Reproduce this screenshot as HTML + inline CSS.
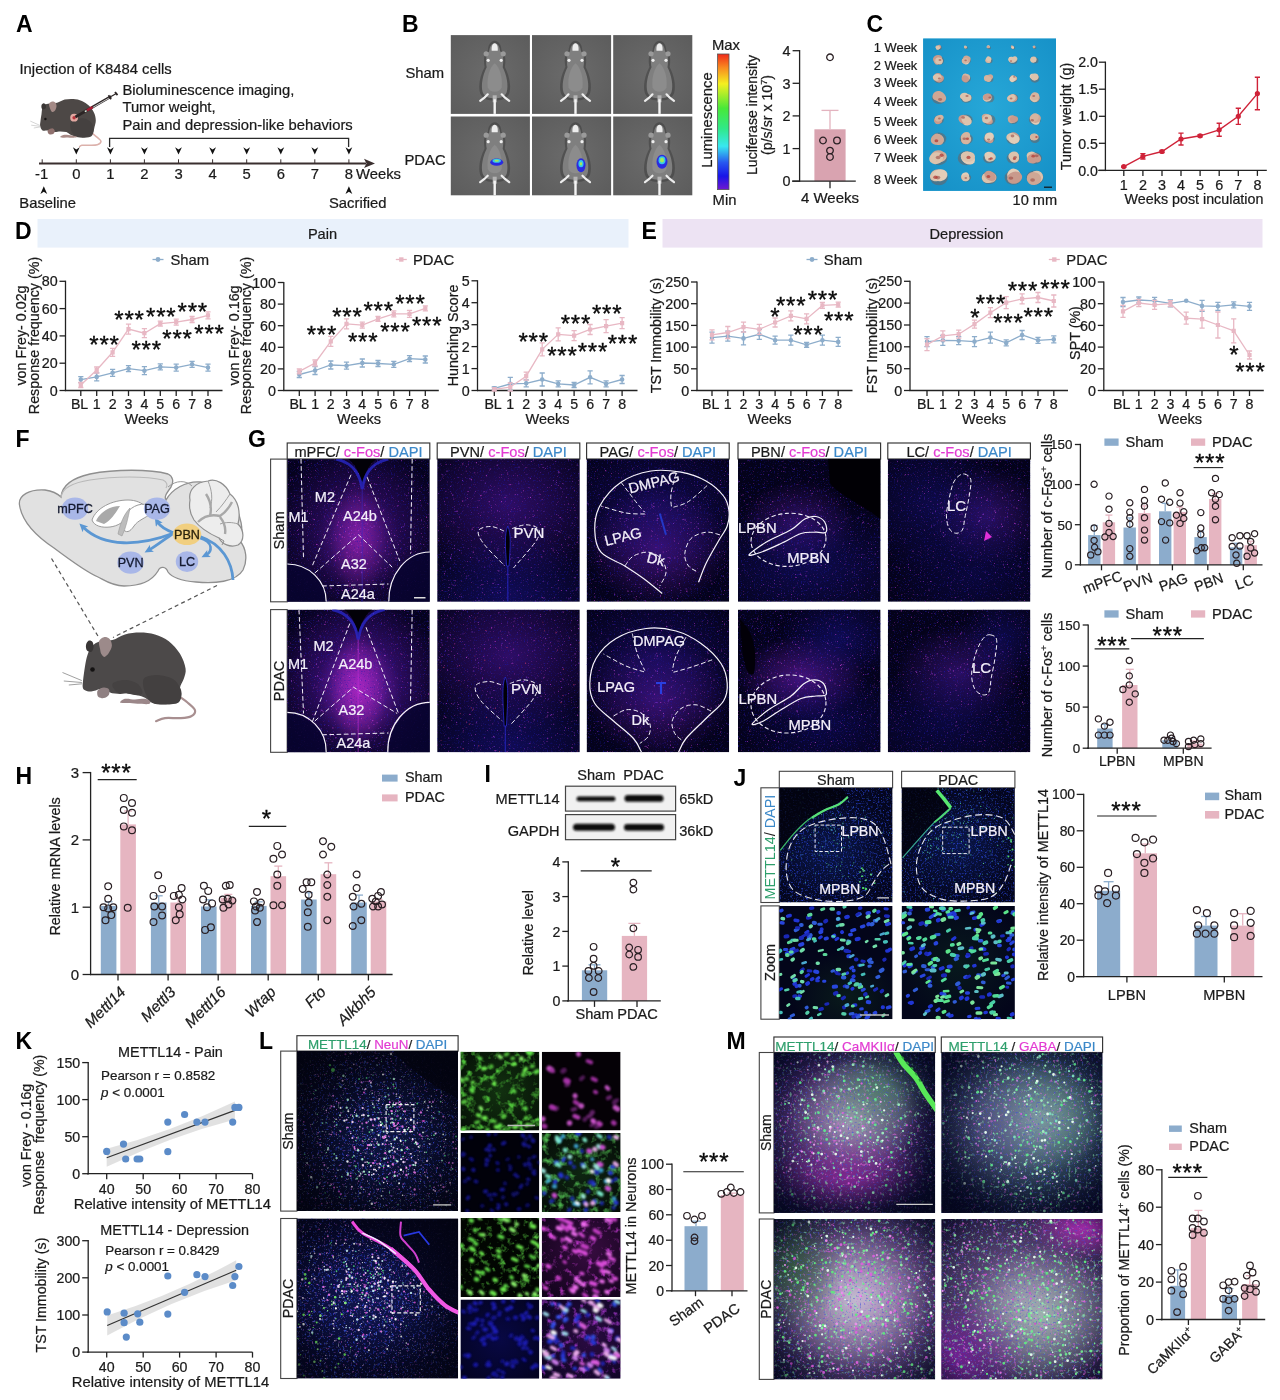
<!DOCTYPE html>
<html><head><meta charset="utf-8"><title>Figure</title>
<style>html,body{margin:0;padding:0;background:#fff}svg{display:block}text{font-family:"Liberation Sans",sans-serif}</style></head>
<body>
<svg width="1280" height="1400" viewBox="0 0 1280 1400">
<text x="16.0" y="32.0" font-size="23" fill="#000" font-weight="bold">A</text>
<text x="19.5" y="74.4" font-size="14.8" fill="#1a1a1a" stroke="#1a1a1a" stroke-width="0.22">Injection of K8484 cells</text>
<text x="122.4" y="94.7" font-size="14.8" fill="#1a1a1a" stroke="#1a1a1a" stroke-width="0.22">Bioluminescence imaging,</text>
<text x="122.4" y="112.3" font-size="14.8" fill="#1a1a1a" stroke="#1a1a1a" stroke-width="0.22">Tumor weight,</text>
<text x="122.4" y="130.2" font-size="14.8" fill="#1a1a1a" stroke="#1a1a1a" stroke-width="0.22">Pain and depression-like behaviors</text>
<path d="M92.2,133.1 C93.0,133.8 95.9,136.1 97.3,137.4 C98.8,138.8 101.0,140.1 101.0,141.3 C101.0,142.5 99.4,144.1 97.3,144.7 C95.3,145.4 91.3,145.1 88.8,145.2 C86.2,145.3 83.5,145.0 81.9,145.3 C80.3,145.6 79.6,146.8 79.1,147.0" fill="none" stroke="#dcb1ab" stroke-width="1.5"/>
<path d="M40.2,126.1 C39.9,124.5 40.2,123.1 40.5,121.1 C40.7,119.1 41.1,116.5 41.5,114.2 C41.8,112.0 41.8,109.2 42.5,107.5 C43.2,105.9 44.4,105.0 45.8,104.3 C47.2,103.7 48.9,103.8 50.9,103.5 C52.9,103.2 55.5,103.3 57.8,102.6 C60.1,102.0 62.1,100.2 64.7,99.6 C67.3,99.0 70.4,98.8 73.3,99.0 C76.1,99.2 79.3,99.8 81.9,100.9 C84.5,102.0 86.7,103.7 88.8,105.6 C90.8,107.6 92.7,110.1 93.9,112.5 C95.1,114.9 95.7,117.7 95.8,120.2 C95.9,122.8 94.7,125.8 94.3,128.0 C93.8,130.1 93.9,131.7 93.2,133.1 C92.6,134.6 92.6,136.0 90.5,136.7 C88.3,137.5 83.3,137.8 80.2,137.6 C77.0,137.4 73.9,136.2 71.6,135.3 C69.3,134.4 68.3,132.7 66.4,132.1 C64.5,131.5 62.4,131.4 60.4,131.4 C58.4,131.4 56.4,132.2 54.4,132.1 C52.4,132.0 50.3,131.0 48.4,130.7 C46.4,130.4 43.9,131.1 42.5,130.4 C41.2,129.6 40.5,127.6 40.2,126.1 Z" fill="#4d4846"/>
<path d="M71.6,121.1 C72.9,119.9 75.9,118.8 78.4,118.5 C81.0,118.2 84.6,118.2 87.0,119.4 C89.5,120.5 92.2,123.0 93.0,125.4 C93.9,127.8 93.5,132.1 92.2,134.0 C90.9,135.9 87.9,136.6 85.3,137.0 C82.7,137.4 79.0,137.5 76.7,136.6 C74.4,135.6 72.6,133.3 71.6,131.4 C70.5,129.5 70.3,127.1 70.3,125.4 C70.3,123.7 70.2,122.2 71.6,121.1 Z" fill="#454140"/>
<path d="M42.2,109.1 C41.5,108.6 41.2,106.2 41.5,105.2 C41.7,104.2 42.9,103.3 43.6,103.2 C44.3,103.1 45.5,103.9 45.8,104.8 C46.1,105.6 46.2,107.5 45.6,108.2 C45.0,108.9 42.9,109.6 42.2,109.1 Z" fill="#3a3635"/>
<path d="M49.6,107.3 C49.2,106.0 48.8,104.5 49.2,103.5 C49.6,102.5 51.2,101.6 52.2,101.5 C53.3,101.4 54.7,101.8 55.4,102.6 C56.1,103.4 56.6,105.1 56.5,106.5 C56.4,107.8 55.6,109.9 54.8,110.8 C54.0,111.7 52.7,112.4 51.8,111.8 C50.9,111.2 50.1,108.7 49.6,107.3 Z" fill="#a48a86"/>
<circle cx="45.4" cy="119.0" r="1.2" fill="#151212"/>
<path d="M48.4,129.7 C49.2,129.1 51.6,128.2 52.7,128.4 C53.7,128.6 54.7,130.0 54.8,131.0 C54.9,131.9 54.0,133.5 53.1,134.0 C52.2,134.5 50.1,134.5 49.2,134.2 C48.3,133.8 47.8,132.8 47.7,132.1 C47.5,131.4 47.5,130.3 48.4,129.7 Z" fill="#8f716e"/>
<path d="M60.4,136.4 C60.9,135.9 62.8,134.8 64.7,134.7 C66.6,134.5 69.6,135.2 71.6,135.5 C73.6,135.8 76.1,136.0 76.7,136.4 C77.3,136.7 76.7,137.4 75.0,137.6 C73.3,137.8 68.6,137.4 66.4,137.4 C64.2,137.4 62.7,137.8 61.7,137.6 C60.7,137.4 59.9,136.9 60.4,136.4 Z" fill="#a98a86"/>
<path d="M39.9,125.4 L30.3,121.1M39.9,126.3 L31.2,125.2M40.3,126.9 L33.8,128.0" fill="none" stroke="#aaa" stroke-width="0.5"/>
<circle cx="74.1" cy="117.7" r="3.9" fill="#e3a8a1"/>
<circle cx="74.1" cy="117.7" r="1.7" fill="#b8343c"/>
<line x1="75.4" y1="117.0" x2="111.1" y2="96.4" stroke="#2b2424" stroke-width="2.6"/>
<line x1="92.6" y1="107.5" x2="108.9" y2="98.1" stroke="#e8e8e8" stroke-width="0.8"/>
<line x1="87.0" y1="110.4" x2="92.6" y2="107.2" stroke="#a81c34" stroke-width="2.6"/>
<line x1="84.9" y1="111.6" x2="86.6" y2="110.6" stroke="#dfeee0" stroke-width="1.6"/>
<line x1="111.1" y1="96.4" x2="116.7" y2="93.3" stroke="#2b2424" stroke-width="1.2"/>
<line x1="108.5" y1="95.3" x2="111.1" y2="99.2" stroke="#2b2424" stroke-width="1.6"/>
<line x1="115.0" y1="92.0" x2="117.5" y2="95.1" stroke="#2b2424" stroke-width="1.8"/>
<path d="M109.6,147 L109.6,138.4 L348.6,138.4 L348.6,147" fill="none" stroke="#2b2b2b" stroke-width="1.3"/>
<line x1="39.0" y1="163.4" x2="366.0" y2="163.4" stroke="#3a2f2f" stroke-width="2.0"/>
<path d="M375,163.4 L364,158.8 L366.5,163.4 L364,168 Z" fill="#3a2f2f"/>
<line x1="42.2" y1="159.3" x2="42.2" y2="163.0" stroke="#3a2f2f" stroke-width="1.0"/>
<text x="41.7" y="178.6" font-size="14.8" fill="#1a1a1a" text-anchor="middle" stroke="#1a1a1a" stroke-width="0.22">-1</text>
<line x1="76.3" y1="159.3" x2="76.3" y2="163.0" stroke="#3a2f2f" stroke-width="1.0"/>
<text x="76.3" y="178.6" font-size="14.8" fill="#1a1a1a" text-anchor="middle" stroke="#1a1a1a" stroke-width="0.22">0</text>
<path d="M76.3,154.6 L72.9,147.2 L76.3,149.4 L79.7,147.2 Z" fill="#111"/>
<line x1="110.4" y1="159.3" x2="110.4" y2="163.0" stroke="#3a2f2f" stroke-width="1.0"/>
<text x="110.4" y="178.6" font-size="14.8" fill="#1a1a1a" text-anchor="middle" stroke="#1a1a1a" stroke-width="0.22">1</text>
<path d="M110.4,154.6 L107.0,147.2 L110.4,149.4 L113.8,147.2 Z" fill="#111"/>
<line x1="144.4" y1="159.3" x2="144.4" y2="163.0" stroke="#3a2f2f" stroke-width="1.0"/>
<text x="144.4" y="178.6" font-size="14.8" fill="#1a1a1a" text-anchor="middle" stroke="#1a1a1a" stroke-width="0.22">2</text>
<path d="M144.4,154.6 L141.0,147.2 L144.4,149.4 L147.8,147.2 Z" fill="#111"/>
<line x1="178.5" y1="159.3" x2="178.5" y2="163.0" stroke="#3a2f2f" stroke-width="1.0"/>
<text x="178.5" y="178.6" font-size="14.8" fill="#1a1a1a" text-anchor="middle" stroke="#1a1a1a" stroke-width="0.22">3</text>
<path d="M178.5,154.6 L175.1,147.2 L178.5,149.4 L181.9,147.2 Z" fill="#111"/>
<line x1="212.6" y1="159.3" x2="212.6" y2="163.0" stroke="#3a2f2f" stroke-width="1.0"/>
<text x="212.6" y="178.6" font-size="14.8" fill="#1a1a1a" text-anchor="middle" stroke="#1a1a1a" stroke-width="0.22">4</text>
<path d="M212.6,154.6 L209.2,147.2 L212.6,149.4 L216.0,147.2 Z" fill="#111"/>
<line x1="246.7" y1="159.3" x2="246.7" y2="163.0" stroke="#3a2f2f" stroke-width="1.0"/>
<text x="246.7" y="178.6" font-size="14.8" fill="#1a1a1a" text-anchor="middle" stroke="#1a1a1a" stroke-width="0.22">5</text>
<path d="M246.7,154.6 L243.3,147.2 L246.7,149.4 L250.1,147.2 Z" fill="#111"/>
<line x1="280.8" y1="159.3" x2="280.8" y2="163.0" stroke="#3a2f2f" stroke-width="1.0"/>
<text x="280.8" y="178.6" font-size="14.8" fill="#1a1a1a" text-anchor="middle" stroke="#1a1a1a" stroke-width="0.22">6</text>
<path d="M280.8,154.6 L277.4,147.2 L280.8,149.4 L284.2,147.2 Z" fill="#111"/>
<line x1="314.8" y1="159.3" x2="314.8" y2="163.0" stroke="#3a2f2f" stroke-width="1.0"/>
<text x="314.8" y="178.6" font-size="14.8" fill="#1a1a1a" text-anchor="middle" stroke="#1a1a1a" stroke-width="0.22">7</text>
<path d="M314.8,154.6 L311.4,147.2 L314.8,149.4 L318.2,147.2 Z" fill="#111"/>
<line x1="348.9" y1="159.3" x2="348.9" y2="163.0" stroke="#3a2f2f" stroke-width="1.0"/>
<text x="348.9" y="178.6" font-size="14.8" fill="#1a1a1a" text-anchor="middle" stroke="#1a1a1a" stroke-width="0.22">8</text>
<path d="M348.9,154.6 L345.5,147.2 L348.9,149.4 L352.3,147.2 Z" fill="#111"/>
<text x="356.0" y="178.6" font-size="14.8" fill="#1a1a1a" stroke="#1a1a1a" stroke-width="0.22">Weeks</text>
<path d="M43.8,186.3 L40.4,194 L43.8,191.8 L47.2,194 Z" fill="#111"/>
<path d="M348.9,186.3 L345.5,194 L348.9,191.8 L352.3,194 Z" fill="#111"/>
<text x="19.3" y="208.2" font-size="14.8" fill="#1a1a1a" stroke="#1a1a1a" stroke-width="0.22">Baseline</text>
<text x="329.0" y="208.2" font-size="14.8" fill="#1a1a1a" stroke="#1a1a1a" stroke-width="0.22">Sacrified</text>
<text x="402.0" y="32.0" font-size="23" fill="#000" font-weight="bold">B</text>
<text x="405.5" y="78.2" font-size="14.8" fill="#1a1a1a" stroke="#1a1a1a" stroke-width="0.22">Sham</text>
<text x="404.5" y="165.2" font-size="14.8" fill="#1a1a1a" stroke="#1a1a1a" stroke-width="0.22">PDAC</text>
<defs><radialGradient id="tileg" cx="50%" cy="50%" r="75%"><stop offset="0" stop-color="#6b6b6b"/><stop offset="1" stop-color="#5b5b5b"/></radialGradient><linearGradient id="cbar" x1="0" y1="0" x2="0" y2="1"><stop offset="0" stop-color="#f02a1a"/><stop offset="0.1" stop-color="#f88a20"/><stop offset="0.22" stop-color="#f4f020"/><stop offset="0.4" stop-color="#48e838"/><stop offset="0.55" stop-color="#30e888"/><stop offset="0.68" stop-color="#38e8f0"/><stop offset="0.8" stop-color="#2858f0"/><stop offset="0.9" stop-color="#1814e8"/><stop offset="1" stop-color="#7018d0"/></linearGradient></defs>
<rect x="450.8" y="35.1" width="79.1" height="78.8" fill="url(#tileg)"/>
<g transform="translate(494.7,71.3)">
<path d="M0,-29 C4,-29 6,-24 6,-20 C10,-17 10,-10 9,-4 C13,4 15,14 13,21 C11,27 5,28 0,28 C-5,28 -11,27 -13,21 C-15,14 -13,4 -9,-4 C-10,-10 -10,-17 -6,-20 C-6,-24 -4,-29 0,-29 Z" fill="#3e3e3e" opacity="0.55" transform="scale(1.12,1.05)"/>
<path d="M0,-28 C3.5,-28 5,-24 5.5,-20 C9,-17 9,-10 8,-4 C12,4 14,14 12,21 C10,26 5,27 0,27 C-5,27 -10,26 -12,21 C-14,14 -12,4 -8,-4 C-9,-10 -9,-17 -5.5,-20 C-5,-24 -3.5,-28 0,-28 Z" fill="#7f7f7f"/>
<path d="M0,-8 C5,-4 8,6 7,16 C5,22 -5,22 -7,16 C-8,6 -5,-4 0,-8 Z" fill="#8c8c8c"/>
<path d="M0,-28 C2.6,-28 3.4,-24 3,-20.5 L-3,-20.5 C-3.4,-24 -2.6,-28 0,-28 Z" fill="#ededed"/>
<circle cx="-8.5" cy="-17.5" r="2.6" fill="#9a9a9a"/>
<circle cx="8.5" cy="-17.5" r="2.6" fill="#9a9a9a"/>
<circle cx="-6.5" cy="-11.0" r="1.6" fill="#efefef"/>
<circle cx="6.5" cy="-11.0" r="1.6" fill="#efefef"/>
<path d="M-7,23 L-10,26 L-14.5,29.5 M7,23 L10,26 L14.5,29.5" fill="none" stroke="#ececec" stroke-width="2.2" stroke-linecap="round"/>
<path d="M0,24 L0,31" fill="none" stroke="#b5b5b5" stroke-width="4.0"/>
<path d="M0,28 L0,42.6" fill="none" stroke="#f4f4f4" stroke-width="2.4"/>
</g>
<rect x="532.0" y="35.1" width="79.1" height="78.8" fill="url(#tileg)"/>
<g transform="translate(575.5,71.3)">
<path d="M0,-29 C4,-29 6,-24 6,-20 C10,-17 10,-10 9,-4 C13,4 15,14 13,21 C11,27 5,28 0,28 C-5,28 -11,27 -13,21 C-15,14 -13,4 -9,-4 C-10,-10 -10,-17 -6,-20 C-6,-24 -4,-29 0,-29 Z" fill="#3e3e3e" opacity="0.55" transform="scale(1.12,1.05)"/>
<path d="M0,-28 C3.5,-28 5,-24 5.5,-20 C9,-17 9,-10 8,-4 C12,4 14,14 12,21 C10,26 5,27 0,27 C-5,27 -10,26 -12,21 C-14,14 -12,4 -8,-4 C-9,-10 -9,-17 -5.5,-20 C-5,-24 -3.5,-28 0,-28 Z" fill="#7f7f7f"/>
<path d="M0,-8 C5,-4 8,6 7,16 C5,22 -5,22 -7,16 C-8,6 -5,-4 0,-8 Z" fill="#8c8c8c"/>
<path d="M0,-28 C2.6,-28 3.4,-24 3,-20.5 L-3,-20.5 C-3.4,-24 -2.6,-28 0,-28 Z" fill="#ededed"/>
<circle cx="-8.5" cy="-17.5" r="2.6" fill="#9a9a9a"/>
<circle cx="8.5" cy="-17.5" r="2.6" fill="#9a9a9a"/>
<circle cx="-6.5" cy="-11.0" r="1.6" fill="#efefef"/>
<circle cx="6.5" cy="-11.0" r="1.6" fill="#efefef"/>
<path d="M-7,23 L-10,26 L-14.5,29.5 M7,23 L10,26 L14.5,29.5" fill="none" stroke="#ececec" stroke-width="2.2" stroke-linecap="round"/>
<path d="M0,24 L0,31" fill="none" stroke="#b5b5b5" stroke-width="4.0"/>
<path d="M0,28 L0,42.6" fill="none" stroke="#f4f4f4" stroke-width="2.4"/>
</g>
<rect x="613.2" y="35.1" width="79.1" height="78.8" fill="url(#tileg)"/>
<g transform="translate(659.5,71.3)">
<path d="M0,-29 C4,-29 6,-24 6,-20 C10,-17 10,-10 9,-4 C13,4 15,14 13,21 C11,27 5,28 0,28 C-5,28 -11,27 -13,21 C-15,14 -13,4 -9,-4 C-10,-10 -10,-17 -6,-20 C-6,-24 -4,-29 0,-29 Z" fill="#3e3e3e" opacity="0.55" transform="scale(1.12,1.05)"/>
<path d="M0,-28 C3.5,-28 5,-24 5.5,-20 C9,-17 9,-10 8,-4 C12,4 14,14 12,21 C10,26 5,27 0,27 C-5,27 -10,26 -12,21 C-14,14 -12,4 -8,-4 C-9,-10 -9,-17 -5.5,-20 C-5,-24 -3.5,-28 0,-28 Z" fill="#7f7f7f"/>
<path d="M0,-8 C5,-4 8,6 7,16 C5,22 -5,22 -7,16 C-8,6 -5,-4 0,-8 Z" fill="#8c8c8c"/>
<path d="M0,-28 C2.6,-28 3.4,-24 3,-20.5 L-3,-20.5 C-3.4,-24 -2.6,-28 0,-28 Z" fill="#ededed"/>
<circle cx="-8.5" cy="-17.5" r="2.6" fill="#9a9a9a"/>
<circle cx="8.5" cy="-17.5" r="2.6" fill="#9a9a9a"/>
<circle cx="-6.5" cy="-11.0" r="1.6" fill="#efefef"/>
<circle cx="6.5" cy="-11.0" r="1.6" fill="#efefef"/>
<path d="M-7,23 L-10,26 L-14.5,29.5 M7,23 L10,26 L14.5,29.5" fill="none" stroke="#ececec" stroke-width="2.2" stroke-linecap="round"/>
<path d="M0,24 L0,31" fill="none" stroke="#b5b5b5" stroke-width="4.0"/>
<path d="M0,28 L0,42.6" fill="none" stroke="#f4f4f4" stroke-width="2.4"/>
</g>
<rect x="450.8" y="116.5" width="79.1" height="78.8" fill="url(#tileg)"/>
<g transform="translate(494.7,152.7)">
<path d="M0,-29 C4,-29 6,-24 6,-20 C10,-17 10,-10 9,-4 C13,4 15,14 13,21 C11,27 5,28 0,28 C-5,28 -11,27 -13,21 C-15,14 -13,4 -9,-4 C-10,-10 -10,-17 -6,-20 C-6,-24 -4,-29 0,-29 Z" fill="#3e3e3e" opacity="0.55" transform="scale(1.12,1.05)"/>
<path d="M0,-28 C3.5,-28 5,-24 5.5,-20 C9,-17 9,-10 8,-4 C12,4 14,14 12,21 C10,26 5,27 0,27 C-5,27 -10,26 -12,21 C-14,14 -12,4 -8,-4 C-9,-10 -9,-17 -5.5,-20 C-5,-24 -3.5,-28 0,-28 Z" fill="#7f7f7f"/>
<path d="M0,-8 C5,-4 8,6 7,16 C5,22 -5,22 -7,16 C-8,6 -5,-4 0,-8 Z" fill="#8c8c8c"/>
<path d="M0,-28 C2.6,-28 3.4,-24 3,-20.5 L-3,-20.5 C-3.4,-24 -2.6,-28 0,-28 Z" fill="#ededed"/>
<circle cx="-8.5" cy="-17.5" r="2.6" fill="#9a9a9a"/>
<circle cx="8.5" cy="-17.5" r="2.6" fill="#9a9a9a"/>
<circle cx="-6.5" cy="-11.0" r="1.6" fill="#efefef"/>
<circle cx="6.5" cy="-11.0" r="1.6" fill="#efefef"/>
<path d="M-7,23 L-10,26 L-14.5,29.5 M7,23 L10,26 L14.5,29.5" fill="none" stroke="#ececec" stroke-width="2.2" stroke-linecap="round"/>
<path d="M0,24 L0,31" fill="none" stroke="#b5b5b5" stroke-width="4.0"/>
<path d="M0,28 L0,42.6" fill="none" stroke="#f4f4f4" stroke-width="2.4"/>
</g>
<ellipse cx="496.7" cy="162.2" rx="6.5" ry="3.6" fill="#2a2be0"/>
<ellipse cx="496.7" cy="160.7" rx="4.2" ry="2.0" fill="#35c8ea"/>
<ellipse cx="496.7" cy="160.7" rx="2.2" ry="1.0" fill="#a5e85a"/>
<rect x="532.0" y="116.5" width="79.1" height="78.8" fill="url(#tileg)"/>
<g transform="translate(575.5,152.7)">
<path d="M0,-29 C4,-29 6,-24 6,-20 C10,-17 10,-10 9,-4 C13,4 15,14 13,21 C11,27 5,28 0,28 C-5,28 -11,27 -13,21 C-15,14 -13,4 -9,-4 C-10,-10 -10,-17 -6,-20 C-6,-24 -4,-29 0,-29 Z" fill="#3e3e3e" opacity="0.55" transform="scale(1.12,1.05)"/>
<path d="M0,-28 C3.5,-28 5,-24 5.5,-20 C9,-17 9,-10 8,-4 C12,4 14,14 12,21 C10,26 5,27 0,27 C-5,27 -10,26 -12,21 C-14,14 -12,4 -8,-4 C-9,-10 -9,-17 -5.5,-20 C-5,-24 -3.5,-28 0,-28 Z" fill="#7f7f7f"/>
<path d="M0,-8 C5,-4 8,6 7,16 C5,22 -5,22 -7,16 C-8,6 -5,-4 0,-8 Z" fill="#8c8c8c"/>
<path d="M0,-28 C2.6,-28 3.4,-24 3,-20.5 L-3,-20.5 C-3.4,-24 -2.6,-28 0,-28 Z" fill="#ededed"/>
<circle cx="-8.5" cy="-17.5" r="2.6" fill="#9a9a9a"/>
<circle cx="8.5" cy="-17.5" r="2.6" fill="#9a9a9a"/>
<circle cx="-6.5" cy="-11.0" r="1.6" fill="#efefef"/>
<circle cx="6.5" cy="-11.0" r="1.6" fill="#efefef"/>
<path d="M-7,23 L-10,26 L-14.5,29.5 M7,23 L10,26 L14.5,29.5" fill="none" stroke="#ececec" stroke-width="2.2" stroke-linecap="round"/>
<path d="M0,24 L0,31" fill="none" stroke="#b5b5b5" stroke-width="4.0"/>
<path d="M0,28 L0,42.6" fill="none" stroke="#f4f4f4" stroke-width="2.4"/>
</g>
<ellipse cx="581.0" cy="165.2" rx="4.5" ry="7" fill="#2a2be0"/>
<ellipse cx="581.0" cy="163.7" rx="2.6" ry="3.6" fill="#35c8ea"/>
<ellipse cx="581.0" cy="163.7" rx="1.2" ry="1.8" fill="#a5e85a"/>
<rect x="613.2" y="116.5" width="79.1" height="78.8" fill="url(#tileg)"/>
<g transform="translate(659.5,152.7)">
<path d="M0,-29 C4,-29 6,-24 6,-20 C10,-17 10,-10 9,-4 C13,4 15,14 13,21 C11,27 5,28 0,28 C-5,28 -11,27 -13,21 C-15,14 -13,4 -9,-4 C-10,-10 -10,-17 -6,-20 C-6,-24 -4,-29 0,-29 Z" fill="#3e3e3e" opacity="0.55" transform="scale(1.12,1.05)"/>
<path d="M0,-28 C3.5,-28 5,-24 5.5,-20 C9,-17 9,-10 8,-4 C12,4 14,14 12,21 C10,26 5,27 0,27 C-5,27 -10,26 -12,21 C-14,14 -12,4 -8,-4 C-9,-10 -9,-17 -5.5,-20 C-5,-24 -3.5,-28 0,-28 Z" fill="#7f7f7f"/>
<path d="M0,-8 C5,-4 8,6 7,16 C5,22 -5,22 -7,16 C-8,6 -5,-4 0,-8 Z" fill="#8c8c8c"/>
<path d="M0,-28 C2.6,-28 3.4,-24 3,-20.5 L-3,-20.5 C-3.4,-24 -2.6,-28 0,-28 Z" fill="#ededed"/>
<circle cx="-8.5" cy="-17.5" r="2.6" fill="#9a9a9a"/>
<circle cx="8.5" cy="-17.5" r="2.6" fill="#9a9a9a"/>
<circle cx="-6.5" cy="-11.0" r="1.6" fill="#efefef"/>
<circle cx="6.5" cy="-11.0" r="1.6" fill="#efefef"/>
<path d="M-7,23 L-10,26 L-14.5,29.5 M7,23 L10,26 L14.5,29.5" fill="none" stroke="#ececec" stroke-width="2.2" stroke-linecap="round"/>
<path d="M0,24 L0,31" fill="none" stroke="#b5b5b5" stroke-width="4.0"/>
<path d="M0,28 L0,42.6" fill="none" stroke="#f4f4f4" stroke-width="2.4"/>
</g>
<ellipse cx="662.0" cy="161.7" rx="5.5" ry="7" fill="#2a2be0"/>
<ellipse cx="662.0" cy="160.2" rx="3.5" ry="4" fill="#35c8ea"/>
<ellipse cx="662.0" cy="160.2" rx="2" ry="2.4" fill="#a5e85a"/>
<rect x="717.6" y="54.0" width="11.4" height="135.6" fill="url(#cbar)" stroke="#555" stroke-width="0.8"/>
<text x="726.0" y="50.3" font-size="14.8" fill="#1a1a1a" text-anchor="middle" stroke="#1a1a1a" stroke-width="0.22">Max</text>
<text x="724.5" y="204.5" font-size="14.8" fill="#1a1a1a" text-anchor="middle" stroke="#1a1a1a" stroke-width="0.22">Min</text>
<text font-size="14.8" fill="#1a1a1a" text-anchor="middle" transform="translate(711.5,120.0) rotate(-90)" stroke="#1a1a1a" stroke-width="0.22">Luminescence</text>
<text font-size="14.0" fill="#1a1a1a" text-anchor="middle" transform="translate(757.0,115.0) rotate(-90)" stroke="#1a1a1a" stroke-width="0.22">Luciferase intensity</text>
<text font-size="14.2" fill="#1a1a1a" text-anchor="middle" transform="translate(772.2,115.0) rotate(-90)" stroke="#1a1a1a" stroke-width="0.22">(p/s/sr x 10<tspan font-size="9" dy="-5">7</tspan><tspan dy="5">)</tspan></text>
<rect x="814.4" y="129.3" width="31.2" height="51.9" fill="#d9a3b0"/>
<line x1="830.0" y1="129.3" x2="830.0" y2="110.4" stroke="#e3b3bf" stroke-width="1.3"/>
<line x1="821.5" y1="110.4" x2="838.5" y2="110.4" stroke="#e3b3bf" stroke-width="1.3"/>
<line x1="799.6" y1="181.8" x2="799.6" y2="50.0" stroke="#222" stroke-width="1.3"/>
<line x1="792.6" y1="181.2" x2="799.6" y2="181.2" stroke="#222" stroke-width="1.3"/>
<text x="790.6" y="186.4" font-size="14.4" fill="#1a1a1a" text-anchor="end" stroke="#1a1a1a" stroke-width="0.22">0</text>
<line x1="792.6" y1="148.6" x2="799.6" y2="148.6" stroke="#222" stroke-width="1.3"/>
<text x="790.6" y="153.8" font-size="14.4" fill="#1a1a1a" text-anchor="end" stroke="#1a1a1a" stroke-width="0.22">1</text>
<line x1="792.6" y1="115.9" x2="799.6" y2="115.9" stroke="#222" stroke-width="1.3"/>
<text x="790.6" y="121.1" font-size="14.4" fill="#1a1a1a" text-anchor="end" stroke="#1a1a1a" stroke-width="0.22">2</text>
<line x1="792.6" y1="83.3" x2="799.6" y2="83.3" stroke="#222" stroke-width="1.3"/>
<text x="790.6" y="88.5" font-size="14.4" fill="#1a1a1a" text-anchor="end" stroke="#1a1a1a" stroke-width="0.22">3</text>
<line x1="792.6" y1="50.7" x2="799.6" y2="50.7" stroke="#222" stroke-width="1.3"/>
<text x="790.6" y="55.9" font-size="14.4" fill="#1a1a1a" text-anchor="end" stroke="#1a1a1a" stroke-width="0.22">4</text>
<line x1="792.0" y1="181.2" x2="855.8" y2="181.2" stroke="#222" stroke-width="1.3"/>
<line x1="830.0" y1="181.2" x2="830.0" y2="188.2" stroke="#222" stroke-width="1.3"/>
<text x="830.0" y="202.7" font-size="15" fill="#1a1a1a" text-anchor="middle" stroke="#1a1a1a" stroke-width="0.22">4 Weeks</text>
<path d="M826.7 57.3a3.3 3.3 0 1 0 6.6 0a3.3 3.3 0 1 0 -6.6 0M819.7 140.5a3.3 3.3 0 1 0 6.6 0a3.3 3.3 0 1 0 -6.6 0M833.7 140.5a3.3 3.3 0 1 0 6.6 0a3.3 3.3 0 1 0 -6.6 0M826.7 150.6a3.3 3.3 0 1 0 6.6 0a3.3 3.3 0 1 0 -6.6 0M826.7 157.0a3.3 3.3 0 1 0 6.6 0a3.3 3.3 0 1 0 -6.6 0" fill="none" stroke="#2a2024" stroke-width="1.3"/>
<text x="866.5" y="32.0" font-size="23" fill="#000" font-weight="bold">C</text>
<rect x="923.2" y="38.6" width="132.8" height="152.2" fill="#1c9fd3"/>
<defs><radialGradient id="cg" cx="50%" cy="45%" r="70%"><stop offset="0" stop-color="#28a8d8" stop-opacity="0.9"/><stop offset="1" stop-color="#158fc6" stop-opacity="0.9"/></radialGradient></defs>
<rect x="923.2" y="38.6" width="132.8" height="152.2" fill="url(#cg)"/>
<filter id="tb" x="-0.1" y="-0.1" width="1.2" height="1.2"><feGaussianBlur stdDeviation="0.6"/></filter><g filter="url(#tb)">
<ellipse cx="938.9" cy="47.8" rx="2.9" ry="2.4" fill="#7a5a54" opacity="0.5"/>
<ellipse cx="937.9" cy="47.6" rx="2.3" ry="1.7" fill="#d6b49f" transform="rotate(26 938.3 47.0)"/>
<ellipse cx="939.0" cy="47.4" rx="2.1" ry="1.9" fill="#c99a8c" transform="rotate(-37 938.3 47.0)"/>
<ellipse cx="937.6" cy="47.3" rx="2.2" ry="2.0" fill="#dcc3ad" transform="rotate(-35 938.3 47.0)"/>
<ellipse cx="966.3" cy="47.8" rx="1.6" ry="1.3" fill="#7a5a54" opacity="0.5"/>
<ellipse cx="965.3" cy="46.9" rx="1.3" ry="1.1" fill="#d6b49f" transform="rotate(-35 965.7 47.0)"/>
<ellipse cx="965.3" cy="46.8" rx="1.4" ry="0.9" fill="#dcc3ad" transform="rotate(29 965.7 47.0)"/>
<ellipse cx="965.6" cy="47.3" rx="1.3" ry="1.1" fill="#d6b49f" transform="rotate(5 965.7 47.0)"/>
<ellipse cx="989.2" cy="47.8" rx="1.8" ry="1.5" fill="#7a5a54" opacity="0.5"/>
<ellipse cx="988.4" cy="46.6" rx="1.5" ry="1.3" fill="#dcc3ad" transform="rotate(-10 988.6 47.0)"/>
<ellipse cx="988.1" cy="46.9" rx="1.5" ry="1.2" fill="#dcc3ad" transform="rotate(-0 988.6 47.0)"/>
<ellipse cx="988.1" cy="46.9" rx="1.4" ry="1.3" fill="#cfa795" transform="rotate(-11 988.6 47.0)"/>
<ellipse cx="1013.2" cy="47.8" rx="1.9" ry="1.6" fill="#7a5a54" opacity="0.5"/>
<ellipse cx="1012.6" cy="47.4" rx="1.6" ry="1.2" fill="#d6b49f" transform="rotate(6 1012.6 47.0)"/>
<ellipse cx="1012.1" cy="46.9" rx="1.6" ry="1.2" fill="#cfa795" transform="rotate(38 1012.6 47.0)"/>
<ellipse cx="1013.0" cy="47.3" rx="1.4" ry="1.2" fill="#e2cdb8" transform="rotate(35 1012.6 47.0)"/>
<ellipse cx="1034.9" cy="47.8" rx="1.5" ry="1.3" fill="#7a5a54" opacity="0.5"/>
<ellipse cx="1033.9" cy="47.2" rx="1.3" ry="1.0" fill="#dcc3ad" transform="rotate(30 1034.3 47.0)"/>
<ellipse cx="1034.1" cy="47.3" rx="1.2" ry="1.0" fill="#cfa795" transform="rotate(-4 1034.3 47.0)"/>
<ellipse cx="1034.5" cy="46.7" rx="1.2" ry="1.0" fill="#cfa795" transform="rotate(-35 1034.3 47.0)"/>
<ellipse cx="938.9" cy="60.6" rx="5.2" ry="4.4" fill="#7a5a54" opacity="0.5"/>
<ellipse cx="937.9" cy="58.7" rx="4.7" ry="3.8" fill="#c99a8c" transform="rotate(-17 938.3 59.8)"/>
<ellipse cx="937.2" cy="60.6" rx="3.8" ry="3.4" fill="#cfa795" transform="rotate(-27 938.3 59.8)"/>
<ellipse cx="939.4" cy="60.6" rx="3.9" ry="3.3" fill="#dcc3ad" transform="rotate(19 938.3 59.8)"/>
<ellipse cx="940.0" cy="60.0" rx="1.5" ry="1.0" fill="#9a4a42" opacity="0.6"/>
<ellipse cx="966.3" cy="60.6" rx="4.6" ry="3.9" fill="#7a5a54" opacity="0.5"/>
<ellipse cx="966.3" cy="60.7" rx="3.8" ry="3.4" fill="#e2cdb8" transform="rotate(26 965.7 59.8)"/>
<ellipse cx="966.5" cy="59.0" rx="3.9" ry="3.5" fill="#cfa795" transform="rotate(15 965.7 59.8)"/>
<ellipse cx="964.8" cy="60.5" rx="3.4" ry="2.8" fill="#d6b49f" transform="rotate(-21 965.7 59.8)"/>
<ellipse cx="965.6" cy="60.3" rx="1.3" ry="0.9" fill="#9a4a42" opacity="0.6"/>
<ellipse cx="989.2" cy="60.6" rx="3.4" ry="2.9" fill="#7a5a54" opacity="0.5"/>
<ellipse cx="988.5" cy="60.6" rx="2.5" ry="2.3" fill="#dcc3ad" transform="rotate(9 988.6 59.8)"/>
<ellipse cx="988.2" cy="60.5" rx="2.9" ry="2.3" fill="#d6b49f" transform="rotate(9 988.6 59.8)"/>
<ellipse cx="988.2" cy="59.1" rx="2.7" ry="2.5" fill="#dcc3ad" transform="rotate(36 988.6 59.8)"/>
<ellipse cx="1013.2" cy="60.6" rx="4.2" ry="3.5" fill="#7a5a54" opacity="0.5"/>
<ellipse cx="1011.5" cy="59.5" rx="3.3" ry="2.5" fill="#e2cdb8" transform="rotate(11 1012.6 59.8)"/>
<ellipse cx="1013.7" cy="60.2" rx="3.8" ry="2.8" fill="#dcc3ad" transform="rotate(-31 1012.6 59.8)"/>
<ellipse cx="1011.7" cy="59.2" rx="3.0" ry="2.6" fill="#dcc3ad" transform="rotate(-32 1012.6 59.8)"/>
<ellipse cx="1011.0" cy="61.1" rx="1.2" ry="0.8" fill="#9a4a42" opacity="0.6"/>
<ellipse cx="1034.9" cy="60.6" rx="3.6" ry="3.0" fill="#7a5a54" opacity="0.5"/>
<ellipse cx="1033.5" cy="59.3" rx="3.0" ry="2.7" fill="#d6b49f" transform="rotate(8 1034.3 59.8)"/>
<ellipse cx="1033.3" cy="59.9" rx="3.1" ry="2.7" fill="#dcc3ad" transform="rotate(-3 1034.3 59.8)"/>
<ellipse cx="1033.3" cy="59.9" rx="2.7" ry="2.6" fill="#dcc3ad" transform="rotate(19 1034.3 59.8)"/>
<ellipse cx="938.9" cy="78.8" rx="5.2" ry="4.4" fill="#7a5a54" opacity="0.5"/>
<ellipse cx="937.8" cy="76.9" rx="3.8" ry="3.9" fill="#c99a8c" transform="rotate(2 938.3 78.0)"/>
<ellipse cx="939.2" cy="78.9" rx="4.6" ry="3.7" fill="#c99a8c" transform="rotate(-16 938.3 78.0)"/>
<ellipse cx="937.4" cy="77.1" rx="4.4" ry="3.3" fill="#dcc3ad" transform="rotate(-11 938.3 78.0)"/>
<ellipse cx="939.4" cy="78.4" rx="1.5" ry="1.0" fill="#9a4a42" opacity="0.6"/>
<ellipse cx="966.3" cy="78.8" rx="4.6" ry="3.9" fill="#7a5a54" opacity="0.5"/>
<ellipse cx="965.9" cy="77.0" rx="3.8" ry="3.2" fill="#cfa795" transform="rotate(23 965.7 78.0)"/>
<ellipse cx="965.8" cy="77.0" rx="4.0" ry="3.3" fill="#d6b49f" transform="rotate(19 965.7 78.0)"/>
<ellipse cx="965.9" cy="79.0" rx="3.7" ry="3.3" fill="#c99a8c" transform="rotate(39 965.7 78.0)"/>
<ellipse cx="989.2" cy="78.8" rx="4.2" ry="3.5" fill="#7a5a54" opacity="0.5"/>
<ellipse cx="987.4" cy="78.2" rx="3.5" ry="3.2" fill="#d6b49f" transform="rotate(-4 988.6 78.0)"/>
<ellipse cx="989.7" cy="77.6" rx="3.7" ry="2.7" fill="#cfa795" transform="rotate(-22 988.6 78.0)"/>
<ellipse cx="988.8" cy="78.9" rx="3.3" ry="2.8" fill="#d6b49f" transform="rotate(39 988.6 78.0)"/>
<ellipse cx="1013.2" cy="78.8" rx="4.0" ry="3.4" fill="#7a5a54" opacity="0.5"/>
<ellipse cx="1013.7" cy="78.0" rx="3.5" ry="2.4" fill="#cfa795" transform="rotate(13 1012.6 78.0)"/>
<ellipse cx="1013.5" cy="77.5" rx="3.2" ry="2.4" fill="#d6b49f" transform="rotate(23 1012.6 78.0)"/>
<ellipse cx="1012.0" cy="78.8" rx="3.2" ry="2.9" fill="#e2cdb8" transform="rotate(-33 1012.6 78.0)"/>
<ellipse cx="1014.2" cy="76.9" rx="1.1" ry="0.8" fill="#9a4a42" opacity="0.6"/>
<ellipse cx="1034.9" cy="78.8" rx="4.6" ry="3.9" fill="#7a5a54" opacity="0.5"/>
<ellipse cx="1033.2" cy="77.4" rx="4.0" ry="2.8" fill="#e2cdb8" transform="rotate(26 1034.3 78.0)"/>
<ellipse cx="1035.6" cy="77.9" rx="3.4" ry="3.1" fill="#cfa795" transform="rotate(-38 1034.3 78.0)"/>
<ellipse cx="1034.7" cy="77.0" rx="3.7" ry="3.4" fill="#dcc3ad" transform="rotate(-5 1034.3 78.0)"/>
<ellipse cx="938.9" cy="98.1" rx="7.0" ry="5.9" fill="#7a5a54" opacity="0.5"/>
<ellipse cx="939.2" cy="95.9" rx="5.1" ry="4.3" fill="#d6b49f" transform="rotate(0 938.3 97.3)"/>
<ellipse cx="938.5" cy="95.7" rx="5.4" ry="4.6" fill="#cfa795" transform="rotate(-30 938.3 97.3)"/>
<ellipse cx="940.0" cy="96.5" rx="6.2" ry="4.9" fill="#cfa795" transform="rotate(25 938.3 97.3)"/>
<ellipse cx="940.1" cy="99.5" rx="2.0" ry="1.4" fill="#9a4a42" opacity="0.6"/>
<ellipse cx="966.3" cy="98.1" rx="5.6" ry="4.7" fill="#7a5a54" opacity="0.5"/>
<ellipse cx="966.8" cy="98.2" rx="4.6" ry="3.3" fill="#d6b49f" transform="rotate(-5 965.7 97.3)"/>
<ellipse cx="966.3" cy="98.4" rx="4.8" ry="3.4" fill="#dcc3ad" transform="rotate(-29 965.7 97.3)"/>
<ellipse cx="964.5" cy="96.4" rx="4.6" ry="3.6" fill="#dcc3ad" transform="rotate(1 965.7 97.3)"/>
<ellipse cx="967.0" cy="96.0" rx="1.6" ry="1.1" fill="#9a4a42" opacity="0.6"/>
<ellipse cx="989.2" cy="98.1" rx="5.2" ry="4.4" fill="#7a5a54" opacity="0.5"/>
<ellipse cx="987.2" cy="96.9" rx="3.9" ry="3.1" fill="#d6b49f" transform="rotate(-32 988.6 97.3)"/>
<ellipse cx="987.2" cy="97.6" rx="4.5" ry="3.9" fill="#dcc3ad" transform="rotate(-5 988.6 97.3)"/>
<ellipse cx="987.5" cy="96.5" rx="4.3" ry="3.2" fill="#c99a8c" transform="rotate(-18 988.6 97.3)"/>
<ellipse cx="989.9" cy="97.6" rx="1.5" ry="1.0" fill="#9a4a42" opacity="0.6"/>
<ellipse cx="1013.2" cy="98.1" rx="5.0" ry="4.2" fill="#7a5a54" opacity="0.5"/>
<ellipse cx="1012.6" cy="98.4" rx="4.4" ry="3.7" fill="#c99a8c" transform="rotate(-19 1012.6 97.3)"/>
<ellipse cx="1011.3" cy="96.9" rx="4.4" ry="3.0" fill="#d6b49f" transform="rotate(-30 1012.6 97.3)"/>
<ellipse cx="1011.3" cy="97.7" rx="4.2" ry="3.3" fill="#dcc3ad" transform="rotate(-23 1012.6 97.3)"/>
<ellipse cx="1011.1" cy="98.5" rx="1.4" ry="1.0" fill="#9a4a42" opacity="0.6"/>
<ellipse cx="1034.9" cy="98.1" rx="5.2" ry="4.4" fill="#7a5a54" opacity="0.5"/>
<ellipse cx="1035.7" cy="96.9" rx="3.9" ry="3.8" fill="#cfa795" transform="rotate(37 1034.3 97.3)"/>
<ellipse cx="1034.6" cy="98.4" rx="4.1" ry="3.5" fill="#dcc3ad" transform="rotate(39 1034.3 97.3)"/>
<ellipse cx="1035.0" cy="96.3" rx="4.4" ry="3.9" fill="#d6b49f" transform="rotate(-8 1034.3 97.3)"/>
<ellipse cx="1033.7" cy="96.1" rx="1.5" ry="1.0" fill="#9a4a42" opacity="0.6"/>
<ellipse cx="938.9" cy="119.8" rx="5.0" ry="4.2" fill="#7a5a54" opacity="0.5"/>
<ellipse cx="937.4" cy="119.8" rx="4.1" ry="3.3" fill="#cfa795" transform="rotate(-39 938.3 119.0)"/>
<ellipse cx="937.6" cy="120.0" rx="3.9" ry="3.8" fill="#c99a8c" transform="rotate(-31 938.3 119.0)"/>
<ellipse cx="939.5" cy="118.4" rx="4.5" ry="3.0" fill="#d6b49f" transform="rotate(-19 938.3 119.0)"/>
<ellipse cx="939.4" cy="118.4" rx="1.4" ry="1.0" fill="#9a4a42" opacity="0.6"/>
<ellipse cx="966.3" cy="119.8" rx="6.4" ry="5.4" fill="#7a5a54" opacity="0.5"/>
<ellipse cx="966.9" cy="120.0" rx="5.6" ry="4.5" fill="#e2cdb8" transform="rotate(36 965.7 119.0)"/>
<ellipse cx="964.2" cy="119.8" rx="5.7" ry="4.4" fill="#c99a8c" transform="rotate(16 965.7 119.0)"/>
<ellipse cx="967.2" cy="119.8" rx="5.5" ry="3.9" fill="#dcc3ad" transform="rotate(32 965.7 119.0)"/>
<ellipse cx="963.2" cy="117.5" rx="1.8" ry="1.3" fill="#9a4a42" opacity="0.6"/>
<ellipse cx="989.2" cy="119.8" rx="6.2" ry="5.2" fill="#7a5a54" opacity="0.5"/>
<ellipse cx="988.5" cy="120.4" rx="5.4" ry="3.7" fill="#c99a8c" transform="rotate(29 988.6 119.0)"/>
<ellipse cx="986.9" cy="119.4" rx="5.6" ry="4.1" fill="#cfa795" transform="rotate(33 988.6 119.0)"/>
<ellipse cx="987.3" cy="118.0" rx="5.1" ry="3.9" fill="#dcc3ad" transform="rotate(-31 988.6 119.0)"/>
<ellipse cx="986.4" cy="118.0" rx="1.7" ry="1.2" fill="#9a4a42" opacity="0.6"/>
<ellipse cx="1013.2" cy="119.8" rx="5.0" ry="4.2" fill="#7a5a54" opacity="0.5"/>
<ellipse cx="1012.1" cy="120.0" rx="4.1" ry="3.1" fill="#cfa795" transform="rotate(-4 1012.6 119.0)"/>
<ellipse cx="1011.9" cy="118.0" rx="3.9" ry="2.9" fill="#cfa795" transform="rotate(-20 1012.6 119.0)"/>
<ellipse cx="1014.0" cy="119.1" rx="4.1" ry="3.1" fill="#c99a8c" transform="rotate(-2 1012.6 119.0)"/>
<ellipse cx="1034.9" cy="119.8" rx="6.0" ry="5.0" fill="#7a5a54" opacity="0.5"/>
<ellipse cx="1035.6" cy="119.8" rx="5.0" ry="4.1" fill="#e2cdb8" transform="rotate(31 1034.3 119.0)"/>
<ellipse cx="1035.9" cy="118.7" rx="5.1" ry="4.5" fill="#cfa795" transform="rotate(-13 1034.3 119.0)"/>
<ellipse cx="1035.1" cy="117.8" rx="4.8" ry="3.9" fill="#d6b49f" transform="rotate(-36 1034.3 119.0)"/>
<ellipse cx="1032.2" cy="120.3" rx="1.7" ry="1.2" fill="#9a4a42" opacity="0.6"/>
<ellipse cx="938.9" cy="138.8" rx="7.4" ry="6.2" fill="#7a5a54" opacity="0.5"/>
<ellipse cx="938.2" cy="139.7" rx="5.4" ry="5.2" fill="#d6b49f" transform="rotate(-10 938.3 138.0)"/>
<ellipse cx="936.2" cy="137.9" rx="6.1" ry="5.2" fill="#cfa795" transform="rotate(-36 938.3 138.0)"/>
<ellipse cx="939.1" cy="139.5" rx="5.9" ry="4.6" fill="#cfa795" transform="rotate(37 938.3 138.0)"/>
<ellipse cx="936.4" cy="140.8" rx="1.9" ry="1.5" fill="#b03a34" opacity="0.75"/>
<ellipse cx="966.3" cy="138.8" rx="6.6" ry="5.5" fill="#7a5a54" opacity="0.5"/>
<ellipse cx="965.0" cy="139.4" rx="5.0" ry="4.2" fill="#cfa795" transform="rotate(-33 965.7 138.0)"/>
<ellipse cx="965.4" cy="139.5" rx="5.0" ry="4.8" fill="#d6b49f" transform="rotate(-33 965.7 138.0)"/>
<ellipse cx="966.5" cy="136.6" rx="5.2" ry="3.9" fill="#d6b49f" transform="rotate(-38 965.7 138.0)"/>
<ellipse cx="964.3" cy="138.7" rx="1.8" ry="1.3" fill="#9a4a42" opacity="0.6"/>
<ellipse cx="967.4" cy="138.8" rx="1.6" ry="1.3" fill="#b03a34" opacity="0.75"/>
<ellipse cx="989.2" cy="138.8" rx="5.6" ry="4.7" fill="#7a5a54" opacity="0.5"/>
<ellipse cx="988.3" cy="136.8" rx="4.4" ry="3.6" fill="#c99a8c" transform="rotate(39 988.6 138.0)"/>
<ellipse cx="989.5" cy="139.0" rx="4.7" ry="3.3" fill="#c99a8c" transform="rotate(27 988.6 138.0)"/>
<ellipse cx="989.8" cy="137.2" rx="4.8" ry="4.1" fill="#e2cdb8" transform="rotate(-29 988.6 138.0)"/>
<ellipse cx="988.6" cy="139.6" rx="1.6" ry="1.1" fill="#9a4a42" opacity="0.6"/>
<ellipse cx="1013.2" cy="138.8" rx="6.8" ry="5.7" fill="#7a5a54" opacity="0.5"/>
<ellipse cx="1013.5" cy="136.6" rx="5.9" ry="4.8" fill="#c99a8c" transform="rotate(36 1012.6 138.0)"/>
<ellipse cx="1011.4" cy="136.8" rx="4.9" ry="4.1" fill="#dcc3ad" transform="rotate(-11 1012.6 138.0)"/>
<ellipse cx="1014.1" cy="138.9" rx="5.6" ry="4.7" fill="#e2cdb8" transform="rotate(10 1012.6 138.0)"/>
<ellipse cx="1012.5" cy="136.0" rx="1.9" ry="1.4" fill="#9a4a42" opacity="0.6"/>
<ellipse cx="1034.9" cy="138.8" rx="5.0" ry="4.2" fill="#7a5a54" opacity="0.5"/>
<ellipse cx="1034.3" cy="136.9" rx="4.4" ry="3.0" fill="#c99a8c" transform="rotate(2 1034.3 138.0)"/>
<ellipse cx="1034.3" cy="136.9" rx="3.8" ry="3.0" fill="#e2cdb8" transform="rotate(-19 1034.3 138.0)"/>
<ellipse cx="1034.1" cy="136.9" rx="3.8" ry="3.5" fill="#d6b49f" transform="rotate(-3 1034.3 138.0)"/>
<ellipse cx="1036.4" cy="137.1" rx="1.2" ry="1.0" fill="#b03a34" opacity="0.75"/>
<ellipse cx="938.9" cy="158.1" rx="8.4" ry="7.1" fill="#7a5a54" opacity="0.5"/>
<ellipse cx="940.6" cy="157.8" rx="6.2" ry="5.1" fill="#d6b49f" transform="rotate(-20 938.3 157.3)"/>
<ellipse cx="938.2" cy="155.4" rx="7.0" ry="5.1" fill="#cfa795" transform="rotate(-1 938.3 157.3)"/>
<ellipse cx="936.0" cy="157.5" rx="7.1" ry="5.9" fill="#dcc3ad" transform="rotate(-17 938.3 157.3)"/>
<ellipse cx="938.1" cy="157.5" rx="2.4" ry="1.7" fill="#9a4a42" opacity="0.6"/>
<ellipse cx="941.6" cy="155.3" rx="2.1" ry="1.7" fill="#b03a34" opacity="0.75"/>
<ellipse cx="966.3" cy="158.1" rx="8.6" ry="7.2" fill="#7a5a54" opacity="0.5"/>
<ellipse cx="968.1" cy="157.0" rx="6.2" ry="5.7" fill="#e2cdb8" transform="rotate(26 965.7 157.3)"/>
<ellipse cx="968.1" cy="156.9" rx="7.7" ry="5.6" fill="#e2cdb8" transform="rotate(33 965.7 157.3)"/>
<ellipse cx="967.9" cy="156.5" rx="7.1" ry="5.2" fill="#dcc3ad" transform="rotate(2 965.7 157.3)"/>
<ellipse cx="968.5" cy="157.4" rx="2.1" ry="1.7" fill="#b03a34" opacity="0.75"/>
<ellipse cx="989.2" cy="158.1" rx="6.2" ry="5.2" fill="#7a5a54" opacity="0.5"/>
<ellipse cx="989.9" cy="156.4" rx="4.7" ry="4.6" fill="#cfa795" transform="rotate(-1 988.6 157.3)"/>
<ellipse cx="990.3" cy="157.5" rx="5.5" ry="4.4" fill="#dcc3ad" transform="rotate(-8 988.6 157.3)"/>
<ellipse cx="988.3" cy="155.9" rx="4.8" ry="3.9" fill="#e2cdb8" transform="rotate(27 988.6 157.3)"/>
<ellipse cx="989.8" cy="159.1" rx="1.7" ry="1.2" fill="#9a4a42" opacity="0.6"/>
<ellipse cx="991.2" cy="158.4" rx="1.6" ry="1.2" fill="#b03a34" opacity="0.75"/>
<ellipse cx="1013.2" cy="158.1" rx="6.6" ry="5.5" fill="#7a5a54" opacity="0.5"/>
<ellipse cx="1014.1" cy="156.4" rx="5.1" ry="3.9" fill="#cfa795" transform="rotate(-9 1012.6 157.3)"/>
<ellipse cx="1013.9" cy="156.2" rx="5.2" ry="4.3" fill="#dcc3ad" transform="rotate(-18 1012.6 157.3)"/>
<ellipse cx="1014.4" cy="157.7" rx="4.8" ry="4.6" fill="#dcc3ad" transform="rotate(11 1012.6 157.3)"/>
<ellipse cx="1015.1" cy="157.3" rx="1.8" ry="1.3" fill="#9a4a42" opacity="0.6"/>
<ellipse cx="1014.4" cy="158.8" rx="1.6" ry="1.3" fill="#b03a34" opacity="0.75"/>
<ellipse cx="1034.9" cy="158.1" rx="7.0" ry="5.9" fill="#7a5a54" opacity="0.5"/>
<ellipse cx="1032.5" cy="158.0" rx="6.1" ry="4.9" fill="#dcc3ad" transform="rotate(33 1034.3 157.3)"/>
<ellipse cx="1036.1" cy="156.7" rx="5.3" ry="4.2" fill="#c99a8c" transform="rotate(35 1034.3 157.3)"/>
<ellipse cx="1032.6" cy="158.1" rx="6.0" ry="4.9" fill="#c99a8c" transform="rotate(-17 1034.3 157.3)"/>
<ellipse cx="1036.7" cy="155.8" rx="2.0" ry="1.4" fill="#9a4a42" opacity="0.6"/>
<ellipse cx="1033.2" cy="156.2" rx="1.8" ry="1.4" fill="#b03a34" opacity="0.75"/>
<ellipse cx="938.9" cy="177.6" rx="9.0" ry="7.6" fill="#7a5a54" opacity="0.5"/>
<ellipse cx="938.1" cy="174.8" rx="7.1" ry="5.6" fill="#cfa795" transform="rotate(-1 938.3 176.8)"/>
<ellipse cx="937.1" cy="175.0" rx="6.8" ry="5.5" fill="#dcc3ad" transform="rotate(-23 938.3 176.8)"/>
<ellipse cx="940.4" cy="175.7" rx="7.4" ry="6.0" fill="#e2cdb8" transform="rotate(-13 938.3 176.8)"/>
<ellipse cx="937.8" cy="177.6" rx="2.5" ry="1.8" fill="#9a4a42" opacity="0.6"/>
<ellipse cx="935.4" cy="177.2" rx="2.2" ry="1.8" fill="#b03a34" opacity="0.75"/>
<ellipse cx="966.3" cy="177.6" rx="4.8" ry="4.0" fill="#7a5a54" opacity="0.5"/>
<ellipse cx="965.1" cy="177.8" rx="3.7" ry="3.3" fill="#cfa795" transform="rotate(31 965.7 176.8)"/>
<ellipse cx="965.7" cy="175.7" rx="3.8" ry="3.4" fill="#e2cdb8" transform="rotate(-23 965.7 176.8)"/>
<ellipse cx="965.5" cy="177.9" rx="3.9" ry="3.3" fill="#dcc3ad" transform="rotate(-11 965.7 176.8)"/>
<ellipse cx="965.8" cy="178.0" rx="1.3" ry="1.0" fill="#9a4a42" opacity="0.6"/>
<ellipse cx="989.2" cy="177.6" rx="7.6" ry="6.4" fill="#7a5a54" opacity="0.5"/>
<ellipse cx="990.4" cy="177.7" rx="6.0" ry="5.3" fill="#d6b49f" transform="rotate(-5 988.6 176.8)"/>
<ellipse cx="987.8" cy="178.4" rx="5.6" ry="5.0" fill="#dcc3ad" transform="rotate(21 988.6 176.8)"/>
<ellipse cx="989.3" cy="175.2" rx="6.1" ry="4.5" fill="#c99a8c" transform="rotate(34 988.6 176.8)"/>
<ellipse cx="988.4" cy="176.5" rx="1.9" ry="1.5" fill="#b03a34" opacity="0.75"/>
<ellipse cx="1013.2" cy="177.6" rx="8.6" ry="7.2" fill="#7a5a54" opacity="0.5"/>
<ellipse cx="1013.1" cy="174.9" rx="6.4" ry="5.8" fill="#d6b49f" transform="rotate(15 1012.6 176.8)"/>
<ellipse cx="1014.8" cy="176.1" rx="6.3" ry="6.2" fill="#e2cdb8" transform="rotate(-40 1012.6 176.8)"/>
<ellipse cx="1014.3" cy="178.2" rx="7.6" ry="6.0" fill="#c99a8c" transform="rotate(-16 1012.6 176.8)"/>
<ellipse cx="1010.9" cy="178.1" rx="2.4" ry="1.7" fill="#9a4a42" opacity="0.6"/>
<ellipse cx="1034.9" cy="177.6" rx="8.6" ry="7.2" fill="#7a5a54" opacity="0.5"/>
<ellipse cx="1036.1" cy="178.0" rx="6.7" ry="6.4" fill="#dcc3ad" transform="rotate(-25 1034.3 176.8)"/>
<ellipse cx="1034.1" cy="178.7" rx="6.2" ry="5.8" fill="#c99a8c" transform="rotate(40 1034.3 176.8)"/>
<ellipse cx="1033.9" cy="178.7" rx="7.2" ry="6.4" fill="#cfa795" transform="rotate(-2 1034.3 176.8)"/>
<ellipse cx="1032.6" cy="180.0" rx="2.4" ry="1.7" fill="#9a4a42" opacity="0.6"/>
</g>
<text x="917.3" y="52.0" font-size="12.9" fill="#1a1a1a" text-anchor="end" stroke="#1a1a1a" stroke-width="0.22">1 Week</text>
<text x="917.3" y="69.6" font-size="12.9" fill="#1a1a1a" text-anchor="end" stroke="#1a1a1a" stroke-width="0.22">2 Week</text>
<text x="917.3" y="87.2" font-size="12.9" fill="#1a1a1a" text-anchor="end" stroke="#1a1a1a" stroke-width="0.22">3 Week</text>
<text x="917.3" y="105.6" font-size="12.9" fill="#1a1a1a" text-anchor="end" stroke="#1a1a1a" stroke-width="0.22">4 Week</text>
<text x="917.3" y="125.6" font-size="12.9" fill="#1a1a1a" text-anchor="end" stroke="#1a1a1a" stroke-width="0.22">5 Week</text>
<text x="917.3" y="143.6" font-size="12.9" fill="#1a1a1a" text-anchor="end" stroke="#1a1a1a" stroke-width="0.22">6 Week</text>
<text x="917.3" y="161.8" font-size="12.9" fill="#1a1a1a" text-anchor="end" stroke="#1a1a1a" stroke-width="0.22">7 Week</text>
<text x="917.3" y="183.8" font-size="12.9" fill="#1a1a1a" text-anchor="end" stroke="#1a1a1a" stroke-width="0.22">8 Week</text>
<line x1="1044.0" y1="187.2" x2="1052.0" y2="187.2" stroke="#111" stroke-width="1.2"/>
<text x="1057.2" y="205.2" font-size="14.6" fill="#1a1a1a" text-anchor="end" stroke="#1a1a1a" stroke-width="0.22">10 mm</text>
<line x1="1105.4" y1="171.1" x2="1105.4" y2="61.6" stroke="#222" stroke-width="1.3"/>
<line x1="1098.9" y1="170.4" x2="1105.4" y2="170.4" stroke="#222" stroke-width="1.3"/>
<text x="1097.9" y="175.5" font-size="14.2" fill="#1a1a1a" text-anchor="end" stroke="#1a1a1a" stroke-width="0.22">0.0</text>
<line x1="1098.9" y1="143.3" x2="1105.4" y2="143.3" stroke="#222" stroke-width="1.3"/>
<text x="1097.9" y="148.5" font-size="14.2" fill="#1a1a1a" text-anchor="end" stroke="#1a1a1a" stroke-width="0.22">0.5</text>
<line x1="1098.9" y1="116.3" x2="1105.4" y2="116.3" stroke="#222" stroke-width="1.3"/>
<text x="1097.9" y="121.4" font-size="14.2" fill="#1a1a1a" text-anchor="end" stroke="#1a1a1a" stroke-width="0.22">1.0</text>
<line x1="1098.9" y1="89.2" x2="1105.4" y2="89.2" stroke="#222" stroke-width="1.3"/>
<text x="1097.9" y="94.4" font-size="14.2" fill="#1a1a1a" text-anchor="end" stroke="#1a1a1a" stroke-width="0.22">1.5</text>
<line x1="1098.9" y1="62.2" x2="1105.4" y2="62.2" stroke="#222" stroke-width="1.3"/>
<text x="1097.9" y="67.3" font-size="14.2" fill="#1a1a1a" text-anchor="end" stroke="#1a1a1a" stroke-width="0.22">2.0</text>
<line x1="1098.2" y1="170.4" x2="1266.8" y2="170.4" stroke="#222" stroke-width="1.3"/>
<line x1="1123.8" y1="170.4" x2="1123.8" y2="175.9" stroke="#222" stroke-width="1.3"/>
<text x="1123.8" y="189.8" font-size="14.4" fill="#1a1a1a" text-anchor="middle" stroke="#1a1a1a" stroke-width="0.22">1</text>
<line x1="1142.9" y1="170.4" x2="1142.9" y2="175.9" stroke="#222" stroke-width="1.3"/>
<text x="1142.9" y="189.8" font-size="14.4" fill="#1a1a1a" text-anchor="middle" stroke="#1a1a1a" stroke-width="0.22">2</text>
<line x1="1162.0" y1="170.4" x2="1162.0" y2="175.9" stroke="#222" stroke-width="1.3"/>
<text x="1162.0" y="189.8" font-size="14.4" fill="#1a1a1a" text-anchor="middle" stroke="#1a1a1a" stroke-width="0.22">3</text>
<line x1="1181.0" y1="170.4" x2="1181.0" y2="175.9" stroke="#222" stroke-width="1.3"/>
<text x="1181.0" y="189.8" font-size="14.4" fill="#1a1a1a" text-anchor="middle" stroke="#1a1a1a" stroke-width="0.22">4</text>
<line x1="1200.1" y1="170.4" x2="1200.1" y2="175.9" stroke="#222" stroke-width="1.3"/>
<text x="1200.1" y="189.8" font-size="14.4" fill="#1a1a1a" text-anchor="middle" stroke="#1a1a1a" stroke-width="0.22">5</text>
<line x1="1219.2" y1="170.4" x2="1219.2" y2="175.9" stroke="#222" stroke-width="1.3"/>
<text x="1219.2" y="189.8" font-size="14.4" fill="#1a1a1a" text-anchor="middle" stroke="#1a1a1a" stroke-width="0.22">6</text>
<line x1="1238.3" y1="170.4" x2="1238.3" y2="175.9" stroke="#222" stroke-width="1.3"/>
<text x="1238.3" y="189.8" font-size="14.4" fill="#1a1a1a" text-anchor="middle" stroke="#1a1a1a" stroke-width="0.22">7</text>
<line x1="1257.4" y1="170.4" x2="1257.4" y2="175.9" stroke="#222" stroke-width="1.3"/>
<text x="1257.4" y="189.8" font-size="14.4" fill="#1a1a1a" text-anchor="middle" stroke="#1a1a1a" stroke-width="0.22">8</text>
<text x="1194.0" y="204.0" font-size="14.3" fill="#1a1a1a" text-anchor="middle" stroke="#1a1a1a" stroke-width="0.22">Weeks post inculation</text>
<text font-size="14.3" fill="#1a1a1a" text-anchor="middle" transform="translate(1071.0,116.5) rotate(-90)" stroke="#1a1a1a" stroke-width="0.22">Tumor weight (g)</text>
<polyline points="1123.8,166.6 1142.9,156.3 1162.0,151.5 1181.0,139.0 1200.1,135.8 1219.2,129.8 1238.3,116.3 1257.4,93.6" fill="none" stroke="#cf2238" stroke-width="1.4"/>
<path d="M1123.8 166.1v1.1M1121.2 166.1h5.2M1121.2 167.2h5.2M1142.9 153.6v5.4M1140.3 153.6h5.2M1140.3 159.0h5.2M1162.0 150.4v2.2M1159.4 150.4h5.2M1159.4 152.5h5.2M1181.0 133.1v11.9M1178.4 133.1h5.2M1178.4 145.0h5.2M1200.1 134.7v2.2M1197.5 134.7h5.2M1197.5 136.9h5.2M1219.2 123.3v13.0M1216.6 123.3h5.2M1216.6 136.3h5.2M1238.3 108.2v16.2M1235.7 108.2h5.2M1235.7 124.4h5.2M1257.4 77.3v32.5M1254.8 77.3h5.2M1254.8 109.8h5.2" fill="none" stroke="#cf2238" stroke-width="1.4"/>
<path d="M1123.8 166.6h0M1142.9 156.3h0M1162.0 151.5h0M1181.0 139.0h0M1200.1 135.8h0M1219.2 129.8h0M1238.3 116.3h0M1257.4 93.6h0" fill="none" stroke="#cf2238" stroke-width="5.2" stroke-linecap="round"/>
<rect x="37.5" y="219.0" width="591.0" height="28.6" fill="#e9f1fb"/>
<text x="322.5" y="239.0" font-size="14.6" fill="#1a1a1a" text-anchor="middle" stroke="#1a1a1a" stroke-width="0.22">Pain</text>
<rect x="662.5" y="219.0" width="600.0" height="28.6" fill="#ede3f3"/>
<text x="966.5" y="239.0" font-size="14.6" fill="#1a1a1a" text-anchor="middle" stroke="#1a1a1a" stroke-width="0.22">Depression</text>
<text x="15.0" y="239.3" font-size="23" fill="#000" font-weight="bold">D</text>
<text x="641.5" y="239.3" font-size="23" fill="#000" font-weight="bold">E</text>
<line x1="152.5" y1="259.5" x2="163.5" y2="259.5" stroke="#8dadcb" stroke-width="1.3"/>
<circle cx="158.0" cy="259.5" r="2.4" fill="#8dadcb"/>
<text x="170.5" y="264.7" font-size="14.8" fill="#1a1a1a" stroke="#1a1a1a" stroke-width="0.22">Sham</text>
<line x1="806.5" y1="259.5" x2="817.5" y2="259.5" stroke="#8dadcb" stroke-width="1.3"/>
<circle cx="812.0" cy="259.5" r="2.4" fill="#8dadcb"/>
<text x="823.8" y="264.7" font-size="14.8" fill="#1a1a1a" stroke="#1a1a1a" stroke-width="0.22">Sham</text>
<line x1="395.8" y1="259.5" x2="406.8" y2="259.5" stroke="#e8b8c4" stroke-width="1.3"/>
<rect x="399.1" y="257.3" width="4.4" height="4.4" fill="#e8b8c4"/>
<text x="413.0" y="264.7" font-size="14.8" fill="#1a1a1a" stroke="#1a1a1a" stroke-width="0.22">PDAC</text>
<line x1="1048.8" y1="259.5" x2="1059.8" y2="259.5" stroke="#e8b8c4" stroke-width="1.3"/>
<rect x="1052.1" y="257.3" width="4.4" height="4.4" fill="#e8b8c4"/>
<text x="1066.3" y="264.7" font-size="14.8" fill="#1a1a1a" stroke="#1a1a1a" stroke-width="0.22">PDAC</text>
<line x1="65.5" y1="391.1" x2="65.5" y2="280.7" stroke="#222" stroke-width="1.3"/>
<line x1="59.5" y1="390.5" x2="65.5" y2="390.5" stroke="#222" stroke-width="1.3"/>
<text x="57.7" y="395.6" font-size="14.3" fill="#1a1a1a" text-anchor="end" stroke="#1a1a1a" stroke-width="0.22">0</text>
<line x1="59.5" y1="363.2" x2="65.5" y2="363.2" stroke="#222" stroke-width="1.3"/>
<text x="57.7" y="368.3" font-size="14.3" fill="#1a1a1a" text-anchor="end" stroke="#1a1a1a" stroke-width="0.22">20</text>
<line x1="59.5" y1="335.9" x2="65.5" y2="335.9" stroke="#222" stroke-width="1.3"/>
<text x="57.7" y="341.0" font-size="14.3" fill="#1a1a1a" text-anchor="end" stroke="#1a1a1a" stroke-width="0.22">40</text>
<line x1="59.5" y1="308.6" x2="65.5" y2="308.6" stroke="#222" stroke-width="1.3"/>
<text x="57.7" y="313.7" font-size="14.3" fill="#1a1a1a" text-anchor="end" stroke="#1a1a1a" stroke-width="0.22">60</text>
<line x1="59.5" y1="281.3" x2="65.5" y2="281.3" stroke="#222" stroke-width="1.3"/>
<text x="57.7" y="286.4" font-size="14.3" fill="#1a1a1a" text-anchor="end" stroke="#1a1a1a" stroke-width="0.22">80</text>
<line x1="64.8" y1="390.5" x2="222.5" y2="390.5" stroke="#222" stroke-width="1.3"/>
<line x1="80.8" y1="390.5" x2="80.8" y2="396.0" stroke="#222" stroke-width="1.3"/>
<text x="79.6" y="408.5" font-size="14.2" fill="#1a1a1a" text-anchor="middle" stroke="#1a1a1a" stroke-width="0.22">BL</text>
<line x1="96.7" y1="390.5" x2="96.7" y2="396.0" stroke="#222" stroke-width="1.3"/>
<text x="96.7" y="408.5" font-size="14.2" fill="#1a1a1a" text-anchor="middle" stroke="#1a1a1a" stroke-width="0.22">1</text>
<line x1="112.6" y1="390.5" x2="112.6" y2="396.0" stroke="#222" stroke-width="1.3"/>
<text x="112.6" y="408.5" font-size="14.2" fill="#1a1a1a" text-anchor="middle" stroke="#1a1a1a" stroke-width="0.22">2</text>
<line x1="128.5" y1="390.5" x2="128.5" y2="396.0" stroke="#222" stroke-width="1.3"/>
<text x="128.5" y="408.5" font-size="14.2" fill="#1a1a1a" text-anchor="middle" stroke="#1a1a1a" stroke-width="0.22">3</text>
<line x1="144.4" y1="390.5" x2="144.4" y2="396.0" stroke="#222" stroke-width="1.3"/>
<text x="144.4" y="408.5" font-size="14.2" fill="#1a1a1a" text-anchor="middle" stroke="#1a1a1a" stroke-width="0.22">4</text>
<line x1="160.3" y1="390.5" x2="160.3" y2="396.0" stroke="#222" stroke-width="1.3"/>
<text x="160.3" y="408.5" font-size="14.2" fill="#1a1a1a" text-anchor="middle" stroke="#1a1a1a" stroke-width="0.22">5</text>
<line x1="176.2" y1="390.5" x2="176.2" y2="396.0" stroke="#222" stroke-width="1.3"/>
<text x="176.2" y="408.5" font-size="14.2" fill="#1a1a1a" text-anchor="middle" stroke="#1a1a1a" stroke-width="0.22">6</text>
<line x1="192.1" y1="390.5" x2="192.1" y2="396.0" stroke="#222" stroke-width="1.3"/>
<text x="192.1" y="408.5" font-size="14.2" fill="#1a1a1a" text-anchor="middle" stroke="#1a1a1a" stroke-width="0.22">7</text>
<line x1="208.0" y1="390.5" x2="208.0" y2="396.0" stroke="#222" stroke-width="1.3"/>
<text x="208.0" y="408.5" font-size="14.2" fill="#1a1a1a" text-anchor="middle" stroke="#1a1a1a" stroke-width="0.22">8</text>
<text x="146.5" y="423.6" font-size="14.5" fill="#1a1a1a" text-anchor="middle" stroke="#1a1a1a" stroke-width="0.22">Weeks</text>
<text font-size="14.3" fill="#1a1a1a" text-anchor="middle" transform="translate(25.5,335.5) rotate(-90)" stroke="#1a1a1a" stroke-width="0.22">von Frey- 0.02g</text>
<text font-size="14.3" fill="#1a1a1a" text-anchor="middle" transform="translate(38.5,335.5) rotate(-90)" stroke="#1a1a1a" stroke-width="0.22">Response frequency (%)</text>
<polyline points="80.8,379.6 96.7,376.9 112.6,372.8 128.5,368.7 144.4,370.7 160.3,366.9 176.2,367.6 192.1,364.3 208.0,367.6" fill="none" stroke="#8dadcb" stroke-width="1.3"/>
<path d="M80.8 376.6v6.0M78.2 376.6h5.2M78.2 382.6h5.2M96.7 372.9v8.0M94.1 372.9h5.2M94.1 380.9h5.2M112.6 369.3v7.0M110.0 369.3h5.2M110.0 376.3h5.2M128.5 365.7v6.0M125.9 365.7h5.2M125.9 371.7h5.2M144.4 366.7v8.0M141.8 366.7h5.2M141.8 374.7h5.2M160.3 363.9v6.0M157.7 363.9h5.2M157.7 369.9h5.2M176.2 364.1v7.0M173.6 364.1h5.2M173.6 371.1h5.2M192.1 361.3v6.0M189.5 361.3h5.2M189.5 367.3h5.2M208.0 364.1v7.0M205.4 364.1h5.2M205.4 371.1h5.2" fill="none" stroke="#8dadcb" stroke-width="1.3"/>
<path d="M80.8 379.6h0M96.7 376.9h0M112.6 372.8h0M128.5 368.7h0M144.4 370.7h0M160.3 366.9h0M176.2 367.6h0M192.1 364.3h0M208.0 367.6h0" fill="none" stroke="#8dadcb" stroke-width="4.6" stroke-linecap="round"/>
<polyline points="80.8,385.0 96.7,370.0 112.6,352.3 128.5,329.1 144.4,333.2 160.3,323.6 176.2,322.2 192.1,319.5 208.0,315.4" fill="none" stroke="#e8b8c4" stroke-width="1.3"/>
<path d="M80.8 382.5v5.0M78.2 382.5h5.2M78.2 387.5h5.2M96.7 367.0v6.0M94.1 367.0h5.2M94.1 373.0h5.2M112.6 348.3v8.0M110.0 348.3h5.2M110.0 356.3h5.2M128.5 324.1v10.0M125.9 324.1h5.2M125.9 334.1h5.2M144.4 328.7v9.0M141.8 328.7h5.2M141.8 337.7h5.2M160.3 321.1v5.0M157.7 321.1h5.2M157.7 326.1h5.2M176.2 319.2v6.0M173.6 319.2h5.2M173.6 325.2h5.2M192.1 316.5v6.0M189.5 316.5h5.2M189.5 322.5h5.2M208.0 311.9v7.0M205.4 311.9h5.2M205.4 318.9h5.2" fill="none" stroke="#e8b8c4" stroke-width="1.3"/>
<path d="M78.7 385.0h4.2M94.6 370.0h4.2M110.5 352.3h4.2M126.4 329.1h4.2M142.3 333.2h4.2M158.2 323.6h4.2M174.1 322.2h4.2M190.0 319.5h4.2M205.9 315.4h4.2" fill="none" stroke="#e8b8c4" stroke-width="4.2"/>
<text x="104.5" y="353.2" font-size="24" fill="#0a0a0a" text-anchor="middle" letter-spacing="0.8" stroke="#0a0a0a" stroke-width="0.35">***</text>
<text x="129.5" y="327.5" font-size="24" fill="#0a0a0a" text-anchor="middle" letter-spacing="0.8" stroke="#0a0a0a" stroke-width="0.35">***</text>
<text x="146.7" y="357.6" font-size="24" fill="#0a0a0a" text-anchor="middle" letter-spacing="0.8" stroke="#0a0a0a" stroke-width="0.35">***</text>
<text x="161.3" y="325.3" font-size="24" fill="#0a0a0a" text-anchor="middle" letter-spacing="0.8" stroke="#0a0a0a" stroke-width="0.35">***</text>
<text x="177.5" y="347.0" font-size="24" fill="#0a0a0a" text-anchor="middle" letter-spacing="0.8" stroke="#0a0a0a" stroke-width="0.35">***</text>
<text x="192.8" y="320.0" font-size="24" fill="#0a0a0a" text-anchor="middle" letter-spacing="0.8" stroke="#0a0a0a" stroke-width="0.35">***</text>
<text x="209.5" y="341.7" font-size="24" fill="#0a0a0a" text-anchor="middle" letter-spacing="0.8" stroke="#0a0a0a" stroke-width="0.35">***</text>
<line x1="283.8" y1="391.1" x2="283.8" y2="281.9" stroke="#222" stroke-width="1.3"/>
<line x1="277.8" y1="390.5" x2="283.8" y2="390.5" stroke="#222" stroke-width="1.3"/>
<text x="276.0" y="395.6" font-size="14.3" fill="#1a1a1a" text-anchor="end" stroke="#1a1a1a" stroke-width="0.22">0</text>
<line x1="277.8" y1="368.9" x2="283.8" y2="368.9" stroke="#222" stroke-width="1.3"/>
<text x="276.0" y="374.0" font-size="14.3" fill="#1a1a1a" text-anchor="end" stroke="#1a1a1a" stroke-width="0.22">20</text>
<line x1="277.8" y1="347.3" x2="283.8" y2="347.3" stroke="#222" stroke-width="1.3"/>
<text x="276.0" y="352.4" font-size="14.3" fill="#1a1a1a" text-anchor="end" stroke="#1a1a1a" stroke-width="0.22">40</text>
<line x1="277.8" y1="325.7" x2="283.8" y2="325.7" stroke="#222" stroke-width="1.3"/>
<text x="276.0" y="330.8" font-size="14.3" fill="#1a1a1a" text-anchor="end" stroke="#1a1a1a" stroke-width="0.22">60</text>
<line x1="277.8" y1="304.1" x2="283.8" y2="304.1" stroke="#222" stroke-width="1.3"/>
<text x="276.0" y="309.2" font-size="14.3" fill="#1a1a1a" text-anchor="end" stroke="#1a1a1a" stroke-width="0.22">80</text>
<line x1="277.8" y1="282.5" x2="283.8" y2="282.5" stroke="#222" stroke-width="1.3"/>
<text x="276.0" y="287.6" font-size="14.3" fill="#1a1a1a" text-anchor="end" stroke="#1a1a1a" stroke-width="0.22">100</text>
<line x1="283.2" y1="390.5" x2="438.8" y2="390.5" stroke="#222" stroke-width="1.3"/>
<line x1="299.3" y1="390.5" x2="299.3" y2="396.0" stroke="#222" stroke-width="1.3"/>
<text x="298.1" y="408.5" font-size="14.2" fill="#1a1a1a" text-anchor="middle" stroke="#1a1a1a" stroke-width="0.22">BL</text>
<line x1="315.1" y1="390.5" x2="315.1" y2="396.0" stroke="#222" stroke-width="1.3"/>
<text x="315.1" y="408.5" font-size="14.2" fill="#1a1a1a" text-anchor="middle" stroke="#1a1a1a" stroke-width="0.22">1</text>
<line x1="330.8" y1="390.5" x2="330.8" y2="396.0" stroke="#222" stroke-width="1.3"/>
<text x="330.8" y="408.5" font-size="14.2" fill="#1a1a1a" text-anchor="middle" stroke="#1a1a1a" stroke-width="0.22">2</text>
<line x1="346.6" y1="390.5" x2="346.6" y2="396.0" stroke="#222" stroke-width="1.3"/>
<text x="346.6" y="408.5" font-size="14.2" fill="#1a1a1a" text-anchor="middle" stroke="#1a1a1a" stroke-width="0.22">3</text>
<line x1="362.3" y1="390.5" x2="362.3" y2="396.0" stroke="#222" stroke-width="1.3"/>
<text x="362.3" y="408.5" font-size="14.2" fill="#1a1a1a" text-anchor="middle" stroke="#1a1a1a" stroke-width="0.22">4</text>
<line x1="378.1" y1="390.5" x2="378.1" y2="396.0" stroke="#222" stroke-width="1.3"/>
<text x="378.1" y="408.5" font-size="14.2" fill="#1a1a1a" text-anchor="middle" stroke="#1a1a1a" stroke-width="0.22">5</text>
<line x1="393.8" y1="390.5" x2="393.8" y2="396.0" stroke="#222" stroke-width="1.3"/>
<text x="393.8" y="408.5" font-size="14.2" fill="#1a1a1a" text-anchor="middle" stroke="#1a1a1a" stroke-width="0.22">6</text>
<line x1="409.6" y1="390.5" x2="409.6" y2="396.0" stroke="#222" stroke-width="1.3"/>
<text x="409.6" y="408.5" font-size="14.2" fill="#1a1a1a" text-anchor="middle" stroke="#1a1a1a" stroke-width="0.22">7</text>
<line x1="425.3" y1="390.5" x2="425.3" y2="396.0" stroke="#222" stroke-width="1.3"/>
<text x="425.3" y="408.5" font-size="14.2" fill="#1a1a1a" text-anchor="middle" stroke="#1a1a1a" stroke-width="0.22">8</text>
<text x="359.0" y="423.6" font-size="14.5" fill="#1a1a1a" text-anchor="middle" stroke="#1a1a1a" stroke-width="0.22">Weeks</text>
<text font-size="14.3" fill="#1a1a1a" text-anchor="middle" transform="translate(238.5,335.5) rotate(-90)" stroke="#1a1a1a" stroke-width="0.22">von Frey- 0.16g</text>
<text font-size="14.3" fill="#1a1a1a" text-anchor="middle" transform="translate(251.0,335.5) rotate(-90)" stroke="#1a1a1a" stroke-width="0.22">Response frequency (%)</text>
<polyline points="299.3,374.5 315.1,370.5 330.8,365.0 346.6,365.7 362.3,363.0 378.1,363.5 393.8,364.3 409.6,358.7 425.3,359.5" fill="none" stroke="#8dadcb" stroke-width="1.3"/>
<path d="M299.3 371.5v6.0M296.7 371.5h5.2M296.7 377.5h5.2M315.1 366.5v8.0M312.4 366.5h5.2M312.4 374.5h5.2M330.8 361.0v8.0M328.2 361.0h5.2M328.2 369.0h5.2M346.6 362.2v7.0M343.9 362.2h5.2M343.9 369.2h5.2M362.3 359.0v8.0M359.7 359.0h5.2M359.7 367.0h5.2M378.1 360.5v6.0M375.4 360.5h5.2M375.4 366.5h5.2M393.8 361.3v6.0M391.2 361.3h5.2M391.2 367.3h5.2M409.6 355.7v6.0M406.9 355.7h5.2M406.9 361.7h5.2M425.3 356.0v7.0M422.7 356.0h5.2M422.7 363.0h5.2" fill="none" stroke="#8dadcb" stroke-width="1.3"/>
<path d="M299.3 374.5h0M315.1 370.5h0M330.8 365.0h0M346.6 365.7h0M362.3 363.0h0M378.1 363.5h0M393.8 364.3h0M409.6 358.7h0M425.3 359.5h0" fill="none" stroke="#8dadcb" stroke-width="4.6" stroke-linecap="round"/>
<polyline points="299.3,371.3 315.1,363.0 330.8,341.3 346.6,323.8 362.3,325.1 378.1,318.8 393.8,313.8 409.6,313.8 425.3,308.4" fill="none" stroke="#e8b8c4" stroke-width="1.3"/>
<path d="M299.3 368.8v5.0M296.7 368.8h5.2M296.7 373.8h5.2M315.1 360.0v6.0M312.4 360.0h5.2M312.4 366.0h5.2M330.8 336.3v10.0M328.2 336.3h5.2M328.2 346.3h5.2M346.6 318.8v10.0M343.9 318.8h5.2M343.9 328.8h5.2M362.3 322.1v6.0M359.7 322.1h5.2M359.7 328.1h5.2M378.1 316.3v5.0M375.4 316.3h5.2M375.4 321.3h5.2M393.8 310.8v6.0M391.2 310.8h5.2M391.2 316.8h5.2M409.6 310.3v7.0M406.9 310.3h5.2M406.9 317.3h5.2M425.3 305.9v5.0M422.7 305.9h5.2M422.7 310.9h5.2" fill="none" stroke="#e8b8c4" stroke-width="1.3"/>
<path d="M297.2 371.3h4.2M312.9 363.0h4.2M328.7 341.3h4.2M344.4 323.8h4.2M360.2 325.1h4.2M375.9 318.8h4.2M391.7 313.8h4.2M407.4 313.8h4.2M423.2 308.4h4.2" fill="none" stroke="#e8b8c4" stroke-width="4.2"/>
<text x="321.9" y="342.5" font-size="24" fill="#0a0a0a" text-anchor="middle" letter-spacing="0.8" stroke="#0a0a0a" stroke-width="0.35">***</text>
<text x="347.4" y="324.5" font-size="24" fill="#0a0a0a" text-anchor="middle" letter-spacing="0.8" stroke="#0a0a0a" stroke-width="0.35">***</text>
<text x="363.2" y="349.7" font-size="24" fill="#0a0a0a" text-anchor="middle" letter-spacing="0.8" stroke="#0a0a0a" stroke-width="0.35">***</text>
<text x="378.6" y="318.8" font-size="24" fill="#0a0a0a" text-anchor="middle" letter-spacing="0.8" stroke="#0a0a0a" stroke-width="0.35">***</text>
<text x="395.4" y="340.0" font-size="24" fill="#0a0a0a" text-anchor="middle" letter-spacing="0.8" stroke="#0a0a0a" stroke-width="0.35">***</text>
<text x="410.4" y="312.2" font-size="24" fill="#0a0a0a" text-anchor="middle" letter-spacing="0.8" stroke="#0a0a0a" stroke-width="0.35">***</text>
<text x="427.2" y="333.7" font-size="24" fill="#0a0a0a" text-anchor="middle" letter-spacing="0.8" stroke="#0a0a0a" stroke-width="0.35">***</text>
<line x1="477.5" y1="391.1" x2="477.5" y2="280.2" stroke="#222" stroke-width="1.3"/>
<line x1="471.5" y1="390.5" x2="477.5" y2="390.5" stroke="#222" stroke-width="1.3"/>
<text x="469.7" y="395.6" font-size="14.3" fill="#1a1a1a" text-anchor="end" stroke="#1a1a1a" stroke-width="0.22">0</text>
<line x1="471.5" y1="368.6" x2="477.5" y2="368.6" stroke="#222" stroke-width="1.3"/>
<text x="469.7" y="373.7" font-size="14.3" fill="#1a1a1a" text-anchor="end" stroke="#1a1a1a" stroke-width="0.22">1</text>
<line x1="471.5" y1="346.6" x2="477.5" y2="346.6" stroke="#222" stroke-width="1.3"/>
<text x="469.7" y="351.8" font-size="14.3" fill="#1a1a1a" text-anchor="end" stroke="#1a1a1a" stroke-width="0.22">2</text>
<line x1="471.5" y1="324.7" x2="477.5" y2="324.7" stroke="#222" stroke-width="1.3"/>
<text x="469.7" y="329.8" font-size="14.3" fill="#1a1a1a" text-anchor="end" stroke="#1a1a1a" stroke-width="0.22">3</text>
<line x1="471.5" y1="302.7" x2="477.5" y2="302.7" stroke="#222" stroke-width="1.3"/>
<text x="469.7" y="307.9" font-size="14.3" fill="#1a1a1a" text-anchor="end" stroke="#1a1a1a" stroke-width="0.22">4</text>
<line x1="471.5" y1="280.8" x2="477.5" y2="280.8" stroke="#222" stroke-width="1.3"/>
<text x="469.7" y="285.9" font-size="14.3" fill="#1a1a1a" text-anchor="end" stroke="#1a1a1a" stroke-width="0.22">5</text>
<line x1="476.9" y1="390.5" x2="637.5" y2="390.5" stroke="#222" stroke-width="1.3"/>
<line x1="494.3" y1="390.5" x2="494.3" y2="396.0" stroke="#222" stroke-width="1.3"/>
<text x="493.1" y="408.5" font-size="14.2" fill="#1a1a1a" text-anchor="middle" stroke="#1a1a1a" stroke-width="0.22">BL</text>
<line x1="510.3" y1="390.5" x2="510.3" y2="396.0" stroke="#222" stroke-width="1.3"/>
<text x="510.3" y="408.5" font-size="14.2" fill="#1a1a1a" text-anchor="middle" stroke="#1a1a1a" stroke-width="0.22">1</text>
<line x1="526.2" y1="390.5" x2="526.2" y2="396.0" stroke="#222" stroke-width="1.3"/>
<text x="526.2" y="408.5" font-size="14.2" fill="#1a1a1a" text-anchor="middle" stroke="#1a1a1a" stroke-width="0.22">2</text>
<line x1="542.2" y1="390.5" x2="542.2" y2="396.0" stroke="#222" stroke-width="1.3"/>
<text x="542.2" y="408.5" font-size="14.2" fill="#1a1a1a" text-anchor="middle" stroke="#1a1a1a" stroke-width="0.22">3</text>
<line x1="558.2" y1="390.5" x2="558.2" y2="396.0" stroke="#222" stroke-width="1.3"/>
<text x="558.2" y="408.5" font-size="14.2" fill="#1a1a1a" text-anchor="middle" stroke="#1a1a1a" stroke-width="0.22">4</text>
<line x1="574.1" y1="390.5" x2="574.1" y2="396.0" stroke="#222" stroke-width="1.3"/>
<text x="574.1" y="408.5" font-size="14.2" fill="#1a1a1a" text-anchor="middle" stroke="#1a1a1a" stroke-width="0.22">5</text>
<line x1="590.1" y1="390.5" x2="590.1" y2="396.0" stroke="#222" stroke-width="1.3"/>
<text x="590.1" y="408.5" font-size="14.2" fill="#1a1a1a" text-anchor="middle" stroke="#1a1a1a" stroke-width="0.22">6</text>
<line x1="606.1" y1="390.5" x2="606.1" y2="396.0" stroke="#222" stroke-width="1.3"/>
<text x="606.1" y="408.5" font-size="14.2" fill="#1a1a1a" text-anchor="middle" stroke="#1a1a1a" stroke-width="0.22">7</text>
<line x1="622.1" y1="390.5" x2="622.1" y2="396.0" stroke="#222" stroke-width="1.3"/>
<text x="622.1" y="408.5" font-size="14.2" fill="#1a1a1a" text-anchor="middle" stroke="#1a1a1a" stroke-width="0.22">8</text>
<text x="547.5" y="423.6" font-size="14.5" fill="#1a1a1a" text-anchor="middle" stroke="#1a1a1a" stroke-width="0.22">Weeks</text>
<text font-size="14.3" fill="#1a1a1a" text-anchor="middle" transform="translate(457.5,335.5) rotate(-90)" stroke="#1a1a1a" stroke-width="0.22">Hunching Score</text>
<polyline points="494.3,388.3 510.3,383.9 526.2,383.3 542.2,379.5 558.2,383.9 574.1,385.0 590.1,377.3 606.1,383.9 622.1,379.5" fill="none" stroke="#8dadcb" stroke-width="1.3"/>
<path d="M494.3 386.8v3.0M491.7 386.8h5.2M491.7 389.8h5.2M510.3 377.4v13.0M507.7 377.4h5.2M507.7 390.4h5.2M526.2 379.8v7.0M523.6 379.8h5.2M523.6 386.8h5.2M542.2 373.0v13.0M539.6 373.0h5.2M539.6 386.0h5.2M558.2 380.9v6.0M555.6 380.9h5.2M555.6 386.9h5.2M574.1 382.5v5.0M571.5 382.5h5.2M571.5 387.5h5.2M590.1 370.8v13.0M587.5 370.8h5.2M587.5 383.8h5.2M606.1 380.9v6.0M603.5 380.9h5.2M603.5 386.9h5.2M622.1 375.5v8.0M619.5 375.5h5.2M619.5 383.5h5.2" fill="none" stroke="#8dadcb" stroke-width="1.3"/>
<path d="M494.3 388.3h0M510.3 383.9h0M526.2 383.3h0M542.2 379.5h0M558.2 383.9h0M574.1 385.0h0M590.1 377.3h0M606.1 383.9h0M622.1 379.5h0" fill="none" stroke="#8dadcb" stroke-width="4.6" stroke-linecap="round"/>
<polyline points="494.3,389.4 510.3,387.0 526.2,376.2 542.2,349.3 558.2,334.3 574.1,335.6 590.1,329.5 606.1,326.2 622.1,323.1" fill="none" stroke="#e8b8c4" stroke-width="1.3"/>
<path d="M494.3 387.9v3.0M491.7 387.9h5.2M491.7 390.9h5.2M510.3 383.0v8.0M507.7 383.0h5.2M507.7 391.0h5.2M526.2 372.2v8.0M523.6 372.2h5.2M523.6 380.2h5.2M542.2 342.8v13.0M539.6 342.8h5.2M539.6 355.8h5.2M558.2 327.8v13.0M555.6 327.8h5.2M555.6 340.8h5.2M574.1 330.6v10.0M571.5 330.6h5.2M571.5 340.6h5.2M590.1 324.5v10.0M587.5 324.5h5.2M587.5 334.5h5.2M606.1 319.7v13.0M603.5 319.7h5.2M603.5 332.7h5.2M622.1 317.6v11.0M619.5 317.6h5.2M619.5 328.6h5.2" fill="none" stroke="#e8b8c4" stroke-width="1.3"/>
<path d="M492.2 389.4h4.2M508.2 387.0h4.2M524.1 376.2h4.2M540.1 349.3h4.2M556.1 334.3h4.2M572.0 335.6h4.2M588.0 329.5h4.2M604.0 326.2h4.2M620.0 323.1h4.2" fill="none" stroke="#e8b8c4" stroke-width="4.2"/>
<text x="533.7" y="349.5" font-size="24" fill="#0a0a0a" text-anchor="middle" letter-spacing="0.8" stroke="#0a0a0a" stroke-width="0.35">***</text>
<text x="562.4" y="363.8" font-size="24" fill="#0a0a0a" text-anchor="middle" letter-spacing="0.8" stroke="#0a0a0a" stroke-width="0.35">***</text>
<text x="575.9" y="331.8" font-size="24" fill="#0a0a0a" text-anchor="middle" letter-spacing="0.8" stroke="#0a0a0a" stroke-width="0.35">***</text>
<text x="592.9" y="359.5" font-size="24" fill="#0a0a0a" text-anchor="middle" letter-spacing="0.8" stroke="#0a0a0a" stroke-width="0.35">***</text>
<text x="607.2" y="321.8" font-size="24" fill="#0a0a0a" text-anchor="middle" letter-spacing="0.8" stroke="#0a0a0a" stroke-width="0.35">***</text>
<text x="622.9" y="352.0" font-size="24" fill="#0a0a0a" text-anchor="middle" letter-spacing="0.8" stroke="#0a0a0a" stroke-width="0.35">***</text>
<line x1="697.0" y1="391.1" x2="697.0" y2="281.4" stroke="#222" stroke-width="1.3"/>
<line x1="691.0" y1="390.5" x2="697.0" y2="390.5" stroke="#222" stroke-width="1.3"/>
<text x="689.2" y="395.6" font-size="14.3" fill="#1a1a1a" text-anchor="end" stroke="#1a1a1a" stroke-width="0.22">0</text>
<line x1="691.0" y1="368.8" x2="697.0" y2="368.8" stroke="#222" stroke-width="1.3"/>
<text x="689.2" y="373.9" font-size="14.3" fill="#1a1a1a" text-anchor="end" stroke="#1a1a1a" stroke-width="0.22">50</text>
<line x1="691.0" y1="347.1" x2="697.0" y2="347.1" stroke="#222" stroke-width="1.3"/>
<text x="689.2" y="352.2" font-size="14.3" fill="#1a1a1a" text-anchor="end" stroke="#1a1a1a" stroke-width="0.22">100</text>
<line x1="691.0" y1="325.4" x2="697.0" y2="325.4" stroke="#222" stroke-width="1.3"/>
<text x="689.2" y="330.5" font-size="14.3" fill="#1a1a1a" text-anchor="end" stroke="#1a1a1a" stroke-width="0.22">150</text>
<line x1="691.0" y1="303.7" x2="697.0" y2="303.7" stroke="#222" stroke-width="1.3"/>
<text x="689.2" y="308.8" font-size="14.3" fill="#1a1a1a" text-anchor="end" stroke="#1a1a1a" stroke-width="0.22">200</text>
<line x1="691.0" y1="282.0" x2="697.0" y2="282.0" stroke="#222" stroke-width="1.3"/>
<text x="689.2" y="287.1" font-size="14.3" fill="#1a1a1a" text-anchor="end" stroke="#1a1a1a" stroke-width="0.22">250</text>
<line x1="696.4" y1="390.5" x2="852.5" y2="390.5" stroke="#222" stroke-width="1.3"/>
<line x1="712.0" y1="390.5" x2="712.0" y2="396.0" stroke="#222" stroke-width="1.3"/>
<text x="710.8" y="408.5" font-size="14.2" fill="#1a1a1a" text-anchor="middle" stroke="#1a1a1a" stroke-width="0.22">BL</text>
<line x1="727.8" y1="390.5" x2="727.8" y2="396.0" stroke="#222" stroke-width="1.3"/>
<text x="727.8" y="408.5" font-size="14.2" fill="#1a1a1a" text-anchor="middle" stroke="#1a1a1a" stroke-width="0.22">1</text>
<line x1="743.5" y1="390.5" x2="743.5" y2="396.0" stroke="#222" stroke-width="1.3"/>
<text x="743.5" y="408.5" font-size="14.2" fill="#1a1a1a" text-anchor="middle" stroke="#1a1a1a" stroke-width="0.22">2</text>
<line x1="759.3" y1="390.5" x2="759.3" y2="396.0" stroke="#222" stroke-width="1.3"/>
<text x="759.3" y="408.5" font-size="14.2" fill="#1a1a1a" text-anchor="middle" stroke="#1a1a1a" stroke-width="0.22">3</text>
<line x1="775.1" y1="390.5" x2="775.1" y2="396.0" stroke="#222" stroke-width="1.3"/>
<text x="775.1" y="408.5" font-size="14.2" fill="#1a1a1a" text-anchor="middle" stroke="#1a1a1a" stroke-width="0.22">4</text>
<line x1="790.9" y1="390.5" x2="790.9" y2="396.0" stroke="#222" stroke-width="1.3"/>
<text x="790.9" y="408.5" font-size="14.2" fill="#1a1a1a" text-anchor="middle" stroke="#1a1a1a" stroke-width="0.22">5</text>
<line x1="806.6" y1="390.5" x2="806.6" y2="396.0" stroke="#222" stroke-width="1.3"/>
<text x="806.6" y="408.5" font-size="14.2" fill="#1a1a1a" text-anchor="middle" stroke="#1a1a1a" stroke-width="0.22">6</text>
<line x1="822.4" y1="390.5" x2="822.4" y2="396.0" stroke="#222" stroke-width="1.3"/>
<text x="822.4" y="408.5" font-size="14.2" fill="#1a1a1a" text-anchor="middle" stroke="#1a1a1a" stroke-width="0.22">7</text>
<line x1="838.2" y1="390.5" x2="838.2" y2="396.0" stroke="#222" stroke-width="1.3"/>
<text x="838.2" y="408.5" font-size="14.2" fill="#1a1a1a" text-anchor="middle" stroke="#1a1a1a" stroke-width="0.22">8</text>
<text x="769.5" y="423.6" font-size="14.5" fill="#1a1a1a" text-anchor="middle" stroke="#1a1a1a" stroke-width="0.22">Weeks</text>
<text font-size="14.3" fill="#1a1a1a" text-anchor="middle" transform="translate(661.0,335.5) rotate(-90)" stroke="#1a1a1a" stroke-width="0.22">TST Immobility (s)</text>
<polyline points="712.0,337.6 727.8,336.2 743.5,338.4 759.3,334.3 775.1,340.2 790.9,340.2 806.6,344.9 822.4,340.2 838.2,341.9" fill="none" stroke="#8dadcb" stroke-width="1.3"/>
<path d="M712.0 332.1v11.0M709.4 332.1h5.2M709.4 343.1h5.2M727.8 331.2v10.0M725.2 331.2h5.2M725.2 341.2h5.2M743.5 331.9v13.0M740.9 331.9h5.2M740.9 344.9h5.2M759.3 329.3v10.0M756.7 329.3h5.2M756.7 339.3h5.2M775.1 336.2v8.0M772.5 336.2h5.2M772.5 344.2h5.2M790.9 335.2v10.0M788.2 335.2h5.2M788.2 345.2h5.2M806.6 342.4v5.0M804.0 342.4h5.2M804.0 347.4h5.2M822.4 335.2v10.0M819.8 335.2h5.2M819.8 345.2h5.2M838.2 337.4v9.0M835.6 337.4h5.2M835.6 346.4h5.2" fill="none" stroke="#8dadcb" stroke-width="1.3"/>
<path d="M712.0 337.6h0M727.8 336.2h0M743.5 338.4h0M759.3 334.3h0M775.1 340.2h0M790.9 340.2h0M806.6 344.9h0M822.4 340.2h0M838.2 341.9h0" fill="none" stroke="#8dadcb" stroke-width="4.6" stroke-linecap="round"/>
<polyline points="712.0,334.9 727.8,332.5 743.5,327.1 759.3,329.3 775.1,322.5 790.9,315.9 806.6,318.9 822.4,305.4 838.2,304.6" fill="none" stroke="#e8b8c4" stroke-width="1.3"/>
<path d="M712.0 329.9v10.0M709.4 329.9h5.2M709.4 339.9h5.2M727.8 326.5v12.0M725.2 326.5h5.2M725.2 338.5h5.2M743.5 322.1v10.0M740.9 322.1h5.2M740.9 332.1h5.2M759.3 324.3v10.0M756.7 324.3h5.2M756.7 334.3h5.2M775.1 318.0v9.0M772.5 318.0h5.2M772.5 327.0h5.2M790.9 310.9v10.0M788.2 310.9h5.2M788.2 320.9h5.2M806.6 313.9v10.0M804.0 313.9h5.2M804.0 323.9h5.2M822.4 302.4v6.0M819.8 302.4h5.2M819.8 308.4h5.2M838.2 302.1v5.0M835.6 302.1h5.2M835.6 307.1h5.2" fill="none" stroke="#e8b8c4" stroke-width="1.3"/>
<path d="M709.9 334.9h4.2M725.7 332.5h4.2M741.4 327.1h4.2M757.2 329.3h4.2M773.0 322.5h4.2M788.8 315.9h4.2M804.5 318.9h4.2M820.3 305.4h4.2M836.1 304.6h4.2" fill="none" stroke="#e8b8c4" stroke-width="4.2"/>
<text x="775.4" y="324.5" font-size="24" fill="#0a0a0a" text-anchor="middle" letter-spacing="0.8" stroke="#0a0a0a" stroke-width="0.35">*</text>
<text x="791.2" y="313.8" font-size="24" fill="#0a0a0a" text-anchor="middle" letter-spacing="0.8" stroke="#0a0a0a" stroke-width="0.35">***</text>
<text x="808.4" y="342.5" font-size="24" fill="#0a0a0a" text-anchor="middle" letter-spacing="0.8" stroke="#0a0a0a" stroke-width="0.35">***</text>
<text x="822.9" y="307.5" font-size="24" fill="#0a0a0a" text-anchor="middle" letter-spacing="0.8" stroke="#0a0a0a" stroke-width="0.35">***</text>
<text x="839.2" y="328.8" font-size="24" fill="#0a0a0a" text-anchor="middle" letter-spacing="0.8" stroke="#0a0a0a" stroke-width="0.35">***</text>
<line x1="910.0" y1="391.1" x2="910.0" y2="280.7" stroke="#222" stroke-width="1.3"/>
<line x1="904.0" y1="390.5" x2="910.0" y2="390.5" stroke="#222" stroke-width="1.3"/>
<text x="902.2" y="395.6" font-size="14.3" fill="#1a1a1a" text-anchor="end" stroke="#1a1a1a" stroke-width="0.22">0</text>
<line x1="904.0" y1="368.7" x2="910.0" y2="368.7" stroke="#222" stroke-width="1.3"/>
<text x="902.2" y="373.8" font-size="14.3" fill="#1a1a1a" text-anchor="end" stroke="#1a1a1a" stroke-width="0.22">50</text>
<line x1="904.0" y1="346.8" x2="910.0" y2="346.8" stroke="#222" stroke-width="1.3"/>
<text x="902.2" y="352.0" font-size="14.3" fill="#1a1a1a" text-anchor="end" stroke="#1a1a1a" stroke-width="0.22">100</text>
<line x1="904.0" y1="325.0" x2="910.0" y2="325.0" stroke="#222" stroke-width="1.3"/>
<text x="902.2" y="330.1" font-size="14.3" fill="#1a1a1a" text-anchor="end" stroke="#1a1a1a" stroke-width="0.22">150</text>
<line x1="904.0" y1="303.1" x2="910.0" y2="303.1" stroke="#222" stroke-width="1.3"/>
<text x="902.2" y="308.3" font-size="14.3" fill="#1a1a1a" text-anchor="end" stroke="#1a1a1a" stroke-width="0.22">200</text>
<line x1="904.0" y1="281.3" x2="910.0" y2="281.3" stroke="#222" stroke-width="1.3"/>
<text x="902.2" y="286.4" font-size="14.3" fill="#1a1a1a" text-anchor="end" stroke="#1a1a1a" stroke-width="0.22">250</text>
<line x1="909.4" y1="390.5" x2="1068.0" y2="390.5" stroke="#222" stroke-width="1.3"/>
<line x1="927.0" y1="390.5" x2="927.0" y2="396.0" stroke="#222" stroke-width="1.3"/>
<text x="925.8" y="408.5" font-size="14.2" fill="#1a1a1a" text-anchor="middle" stroke="#1a1a1a" stroke-width="0.22">BL</text>
<line x1="942.9" y1="390.5" x2="942.9" y2="396.0" stroke="#222" stroke-width="1.3"/>
<text x="942.9" y="408.5" font-size="14.2" fill="#1a1a1a" text-anchor="middle" stroke="#1a1a1a" stroke-width="0.22">1</text>
<line x1="958.7" y1="390.5" x2="958.7" y2="396.0" stroke="#222" stroke-width="1.3"/>
<text x="958.7" y="408.5" font-size="14.2" fill="#1a1a1a" text-anchor="middle" stroke="#1a1a1a" stroke-width="0.22">2</text>
<line x1="974.5" y1="390.5" x2="974.5" y2="396.0" stroke="#222" stroke-width="1.3"/>
<text x="974.5" y="408.5" font-size="14.2" fill="#1a1a1a" text-anchor="middle" stroke="#1a1a1a" stroke-width="0.22">3</text>
<line x1="990.4" y1="390.5" x2="990.4" y2="396.0" stroke="#222" stroke-width="1.3"/>
<text x="990.4" y="408.5" font-size="14.2" fill="#1a1a1a" text-anchor="middle" stroke="#1a1a1a" stroke-width="0.22">4</text>
<line x1="1006.2" y1="390.5" x2="1006.2" y2="396.0" stroke="#222" stroke-width="1.3"/>
<text x="1006.2" y="408.5" font-size="14.2" fill="#1a1a1a" text-anchor="middle" stroke="#1a1a1a" stroke-width="0.22">5</text>
<line x1="1022.1" y1="390.5" x2="1022.1" y2="396.0" stroke="#222" stroke-width="1.3"/>
<text x="1022.1" y="408.5" font-size="14.2" fill="#1a1a1a" text-anchor="middle" stroke="#1a1a1a" stroke-width="0.22">6</text>
<line x1="1038.0" y1="390.5" x2="1038.0" y2="396.0" stroke="#222" stroke-width="1.3"/>
<text x="1038.0" y="408.5" font-size="14.2" fill="#1a1a1a" text-anchor="middle" stroke="#1a1a1a" stroke-width="0.22">7</text>
<line x1="1053.8" y1="390.5" x2="1053.8" y2="396.0" stroke="#222" stroke-width="1.3"/>
<text x="1053.8" y="408.5" font-size="14.2" fill="#1a1a1a" text-anchor="middle" stroke="#1a1a1a" stroke-width="0.22">8</text>
<text x="984.0" y="423.6" font-size="14.5" fill="#1a1a1a" text-anchor="middle" stroke="#1a1a1a" stroke-width="0.22">Weeks</text>
<text font-size="14.3" fill="#1a1a1a" text-anchor="middle" transform="translate(876.5,335.5) rotate(-90)" stroke="#1a1a1a" stroke-width="0.22">FST Immobility (s)</text>
<polyline points="927.0,341.6 942.9,340.4 958.7,340.7 974.5,341.6 990.4,337.6 1006.2,342.9 1022.1,335.0 1038.0,340.3 1053.8,339.4" fill="none" stroke="#8dadcb" stroke-width="1.3"/>
<path d="M927.0 336.6v10.0M924.4 336.6h5.2M924.4 346.6h5.2M942.9 335.4v10.0M940.2 335.4h5.2M940.2 345.4h5.2M958.7 336.7v8.0M956.1 336.7h5.2M956.1 344.7h5.2M974.5 336.6v10.0M971.9 336.6h5.2M971.9 346.6h5.2M990.4 332.1v11.0M987.8 332.1h5.2M987.8 343.1h5.2M1006.2 339.9v6.0M1003.6 339.9h5.2M1003.6 345.9h5.2M1022.1 330.5v9.0M1019.5 330.5h5.2M1019.5 339.5h5.2M1038.0 337.3v6.0M1035.4 337.3h5.2M1035.4 343.3h5.2M1053.8 335.9v7.0M1051.2 335.9h5.2M1051.2 342.9h5.2" fill="none" stroke="#8dadcb" stroke-width="1.3"/>
<path d="M927.0 341.6h0M942.9 340.4h0M958.7 340.7h0M974.5 341.6h0M990.4 337.6h0M1006.2 342.9h0M1022.1 335.0h0M1038.0 340.3h0M1053.8 339.4h0" fill="none" stroke="#8dadcb" stroke-width="4.6" stroke-linecap="round"/>
<polyline points="927.0,344.6 942.9,335.9 958.7,334.2 974.5,324.1 990.4,312.7 1006.2,302.7 1022.1,298.8 1038.0,297.5 1053.8,301.0" fill="none" stroke="#e8b8c4" stroke-width="1.3"/>
<path d="M927.0 338.6v12.0M924.4 338.6h5.2M924.4 350.6h5.2M942.9 330.9v10.0M940.2 330.9h5.2M940.2 340.9h5.2M958.7 330.2v8.0M956.1 330.2h5.2M956.1 338.2h5.2M974.5 320.1v8.0M971.9 320.1h5.2M971.9 328.1h5.2M990.4 307.7v10.0M987.8 307.7h5.2M987.8 317.7h5.2M1006.2 296.7v12.0M1003.6 296.7h5.2M1003.6 308.7h5.2M1022.1 293.8v10.0M1019.5 293.8h5.2M1019.5 303.8h5.2M1038.0 292.5v10.0M1035.4 292.5h5.2M1035.4 302.5h5.2M1053.8 295.0v12.0M1051.2 295.0h5.2M1051.2 307.0h5.2" fill="none" stroke="#e8b8c4" stroke-width="1.3"/>
<path d="M924.9 344.6h4.2M940.8 335.9h4.2M956.6 334.2h4.2M972.4 324.1h4.2M988.3 312.7h4.2M1004.1 302.7h4.2M1020.0 298.8h4.2M1035.9 297.5h4.2M1051.7 301.0h4.2" fill="none" stroke="#e8b8c4" stroke-width="4.2"/>
<text x="975.4" y="326.3" font-size="24" fill="#0a0a0a" text-anchor="middle" letter-spacing="0.8" stroke="#0a0a0a" stroke-width="0.35">*</text>
<text x="990.9" y="312.0" font-size="24" fill="#0a0a0a" text-anchor="middle" letter-spacing="0.8" stroke="#0a0a0a" stroke-width="0.35">***</text>
<text x="1008.4" y="330.5" font-size="24" fill="#0a0a0a" text-anchor="middle" letter-spacing="0.8" stroke="#0a0a0a" stroke-width="0.35">***</text>
<text x="1022.9" y="298.8" font-size="24" fill="#0a0a0a" text-anchor="middle" letter-spacing="0.8" stroke="#0a0a0a" stroke-width="0.35">***</text>
<text x="1038.7" y="324.5" font-size="24" fill="#0a0a0a" text-anchor="middle" letter-spacing="0.8" stroke="#0a0a0a" stroke-width="0.35">***</text>
<text x="1055.4" y="296.8" font-size="24" fill="#0a0a0a" text-anchor="middle" letter-spacing="0.8" stroke="#0a0a0a" stroke-width="0.35">***</text>
<line x1="1103.8" y1="391.1" x2="1103.8" y2="281.4" stroke="#222" stroke-width="1.3"/>
<line x1="1097.8" y1="390.5" x2="1103.8" y2="390.5" stroke="#222" stroke-width="1.3"/>
<text x="1096.0" y="395.6" font-size="14.3" fill="#1a1a1a" text-anchor="end" stroke="#1a1a1a" stroke-width="0.22">0</text>
<line x1="1097.8" y1="368.8" x2="1103.8" y2="368.8" stroke="#222" stroke-width="1.3"/>
<text x="1096.0" y="373.9" font-size="14.3" fill="#1a1a1a" text-anchor="end" stroke="#1a1a1a" stroke-width="0.22">20</text>
<line x1="1097.8" y1="347.1" x2="1103.8" y2="347.1" stroke="#222" stroke-width="1.3"/>
<text x="1096.0" y="352.2" font-size="14.3" fill="#1a1a1a" text-anchor="end" stroke="#1a1a1a" stroke-width="0.22">40</text>
<line x1="1097.8" y1="325.4" x2="1103.8" y2="325.4" stroke="#222" stroke-width="1.3"/>
<text x="1096.0" y="330.5" font-size="14.3" fill="#1a1a1a" text-anchor="end" stroke="#1a1a1a" stroke-width="0.22">60</text>
<line x1="1097.8" y1="303.7" x2="1103.8" y2="303.7" stroke="#222" stroke-width="1.3"/>
<text x="1096.0" y="308.8" font-size="14.3" fill="#1a1a1a" text-anchor="end" stroke="#1a1a1a" stroke-width="0.22">80</text>
<line x1="1097.8" y1="282.0" x2="1103.8" y2="282.0" stroke="#222" stroke-width="1.3"/>
<text x="1096.0" y="287.1" font-size="14.3" fill="#1a1a1a" text-anchor="end" stroke="#1a1a1a" stroke-width="0.22">100</text>
<line x1="1103.1" y1="390.5" x2="1263.8" y2="390.5" stroke="#222" stroke-width="1.3"/>
<line x1="1123.0" y1="390.5" x2="1123.0" y2="396.0" stroke="#222" stroke-width="1.3"/>
<text x="1121.8" y="408.5" font-size="14.2" fill="#1a1a1a" text-anchor="middle" stroke="#1a1a1a" stroke-width="0.22">BL</text>
<line x1="1138.8" y1="390.5" x2="1138.8" y2="396.0" stroke="#222" stroke-width="1.3"/>
<text x="1138.8" y="408.5" font-size="14.2" fill="#1a1a1a" text-anchor="middle" stroke="#1a1a1a" stroke-width="0.22">1</text>
<line x1="1154.6" y1="390.5" x2="1154.6" y2="396.0" stroke="#222" stroke-width="1.3"/>
<text x="1154.6" y="408.5" font-size="14.2" fill="#1a1a1a" text-anchor="middle" stroke="#1a1a1a" stroke-width="0.22">2</text>
<line x1="1170.4" y1="390.5" x2="1170.4" y2="396.0" stroke="#222" stroke-width="1.3"/>
<text x="1170.4" y="408.5" font-size="14.2" fill="#1a1a1a" text-anchor="middle" stroke="#1a1a1a" stroke-width="0.22">3</text>
<line x1="1186.2" y1="390.5" x2="1186.2" y2="396.0" stroke="#222" stroke-width="1.3"/>
<text x="1186.2" y="408.5" font-size="14.2" fill="#1a1a1a" text-anchor="middle" stroke="#1a1a1a" stroke-width="0.22">4</text>
<line x1="1202.0" y1="390.5" x2="1202.0" y2="396.0" stroke="#222" stroke-width="1.3"/>
<text x="1202.0" y="408.5" font-size="14.2" fill="#1a1a1a" text-anchor="middle" stroke="#1a1a1a" stroke-width="0.22">5</text>
<line x1="1217.9" y1="390.5" x2="1217.9" y2="396.0" stroke="#222" stroke-width="1.3"/>
<text x="1217.9" y="408.5" font-size="14.2" fill="#1a1a1a" text-anchor="middle" stroke="#1a1a1a" stroke-width="0.22">6</text>
<line x1="1233.7" y1="390.5" x2="1233.7" y2="396.0" stroke="#222" stroke-width="1.3"/>
<text x="1233.7" y="408.5" font-size="14.2" fill="#1a1a1a" text-anchor="middle" stroke="#1a1a1a" stroke-width="0.22">7</text>
<line x1="1249.5" y1="390.5" x2="1249.5" y2="396.0" stroke="#222" stroke-width="1.3"/>
<text x="1249.5" y="408.5" font-size="14.2" fill="#1a1a1a" text-anchor="middle" stroke="#1a1a1a" stroke-width="0.22">8</text>
<text x="1180.0" y="423.6" font-size="14.5" fill="#1a1a1a" text-anchor="middle" stroke="#1a1a1a" stroke-width="0.22">Weeks</text>
<text font-size="14.3" fill="#1a1a1a" text-anchor="middle" transform="translate(1079.5,333.0) rotate(-90)" stroke="#1a1a1a" stroke-width="0.22">SPT (%)</text>
<polyline points="1123.0,302.0 1138.8,300.0 1154.6,300.8 1170.4,303.3 1186.2,300.8 1202.0,305.9 1217.9,306.3 1233.7,304.8 1249.5,306.3" fill="none" stroke="#8dadcb" stroke-width="1.3"/>
<path d="M1123.0 297.5v9.0M1120.4 297.5h5.2M1120.4 306.5h5.2M1138.8 297.0v6.0M1136.2 297.0h5.2M1136.2 303.0h5.2M1154.6 297.3v7.0M1152.0 297.3h5.2M1152.0 304.3h5.2M1170.4 299.8v7.0M1167.8 299.8h5.2M1167.8 306.8h5.2M1202.0 300.4v11.0M1199.5 300.4h5.2M1199.5 311.4h5.2M1217.9 302.3v8.0M1215.3 302.3h5.2M1215.3 310.3h5.2M1233.7 301.8v6.0M1231.1 301.8h5.2M1231.1 307.8h5.2M1249.5 302.3v8.0M1246.9 302.3h5.2M1246.9 310.3h5.2" fill="none" stroke="#8dadcb" stroke-width="1.3"/>
<path d="M1123.0 302.0h0M1138.8 300.0h0M1154.6 300.8h0M1170.4 303.3h0M1186.2 300.8h0M1202.0 305.9h0M1217.9 306.3h0M1233.7 304.8h0M1249.5 306.3h0" fill="none" stroke="#8dadcb" stroke-width="4.6" stroke-linecap="round"/>
<polyline points="1123.0,311.3 1138.8,303.0 1154.6,304.8 1170.4,303.7 1186.2,318.2 1202.0,319.2 1217.9,325.0 1233.7,330.8 1249.5,355.0" fill="none" stroke="#e8b8c4" stroke-width="1.3"/>
<path d="M1123.0 305.3v12.0M1120.4 305.3h5.2M1120.4 317.3h5.2M1138.8 299.5v7.0M1136.2 299.5h5.2M1136.2 306.5h5.2M1154.6 300.3v9.0M1152.0 300.3h5.2M1152.0 309.3h5.2M1170.4 300.7v6.0M1167.8 300.7h5.2M1167.8 306.7h5.2M1186.2 312.2v12.0M1183.6 312.2h5.2M1183.6 324.2h5.2M1202.0 310.2v18.0M1199.5 310.2h5.2M1199.5 328.2h5.2M1217.9 312.0v26.0M1215.3 312.0h5.2M1215.3 338.0h5.2M1233.7 318.8v24.0M1231.1 318.8h5.2M1231.1 342.8h5.2M1249.5 351.0v8.0M1246.9 351.0h5.2M1246.9 359.0h5.2" fill="none" stroke="#e8b8c4" stroke-width="1.3"/>
<path d="M1120.9 311.3h4.2M1136.7 303.0h4.2M1152.5 304.8h4.2M1168.3 303.7h4.2M1184.1 318.2h4.2M1200.0 319.2h4.2M1215.8 325.0h4.2M1231.6 330.8h4.2M1247.4 355.0h4.2" fill="none" stroke="#e8b8c4" stroke-width="4.2"/>
<text x="1234.2" y="362.5" font-size="24" fill="#0a0a0a" text-anchor="middle" letter-spacing="0.8" stroke="#0a0a0a" stroke-width="0.35">*</text>
<text x="1250.4" y="380.0" font-size="24" fill="#0a0a0a" text-anchor="middle" letter-spacing="0.8" stroke="#0a0a0a" stroke-width="0.35">***</text>
<text x="15.5" y="447.0" font-size="23" fill="#000" font-weight="bold">F</text>
<path d="M19.5,505 C18,495 30,489 45,490 C52,491 58,494 61,497 C62,486 72,478 90,474 C115,469 150,469 168,474 C173,476 174,482 171,487 C166,494 164,497 166,500 C172,489 186,481 200,482 C214,483 226,492 234,504 C241,516 244,530 240,541 C246,548 248,560 243,570 C236,582 214,584 196,582 C184,581 172,578 168,572 C166,566 160,566 158,571 C152,581 140,586 124,586 C112,586 104,580 98,577 C86,572 70,560 54,548 C36,536 22,522 19.5,505 Z" fill="#e1e1e1" stroke="#8f8f8f" stroke-width="1.3"/>
<path d="M61,497 C62,490 70,483 90,480 C115,476 146,476 163,480 C167,482 168,485 166,488" fill="none" stroke="#b8b8b8" stroke-width="1.1"/>
<path d="M190,500 C188,490 196,482 208,481 C216,478 226,484 230,494 C238,500 241,512 238,524 C244,530 245,540 238,545 C230,548 222,544 219,538 C210,534 200,528 194,520 C190,514 189,506 190,500 Z" fill="#ededed" stroke="#8f8f8f" stroke-width="1.2"/>
<path d="M208,481 C212,490 213,500 210,508 M230,494 C226,500 222,506 216,512 M238,524 C232,522 226,522 220,524" fill="none" stroke="#a0a0a0" stroke-width="1.0"/>
<path d="M198,522 C204,516 212,514 220,516 C226,512 230,506 232,502 M210,516 C212,508 210,500 206,494 M220,517 C224,522 226,528 225,534" fill="none" stroke="#a8a8a8" stroke-width="2.4"/>
<path d="M168,487 C176,480 186,480 192,486" fill="none" stroke="#9a9a9a" stroke-width="1.0"/>
<path d="M219,538 L224,541 L222,545" fill="none" stroke="#8f8f8f" stroke-width="1.0"/>
<path d="M92,520 C96,508 112,500 128,500 C136,500 142,503 146,507 C140,507 132,510 128,516 C124,522 118,526 110,527 C102,528 94,526 92,520 Z" fill="#fff" stroke="#9a9a9a" stroke-width="1.0"/>
<path d="M96,521 C100,512 110,506 120,506 C116,512 112,520 104,524 Z" fill="#a9a9a9"/>
<path d="M122,528 C122,518 128,508 138,505 C148,502 152,508 150,514 C146,518 138,520 134,526 C130,532 126,534 122,528 Z" fill="#fff" stroke="#9a9a9a" stroke-width="1.0"/>
<path d="M118,534 C120,524 124,514 130,508 C128,518 126,528 122,536 Z" fill="#bdbdbd" stroke="#999" stroke-width="0.6"/>
<defs><marker id="ah" markerWidth="10" markerHeight="10" refX="3.4" refY="4" orient="auto" markerUnits="userSpaceOnUse"><path d="M0,0 L8.5,4 L0,8 L2,4 Z" fill="#5b97d3"/></marker></defs>
<path d="M174,533 C140,546 104,548 83,527" fill="None" stroke="#5b97d3" stroke-width="2.8" marker-end="url(#ah)"/>
<path d="M174,533 C166,530 160,526 157.5,522" fill="None" stroke="#5b97d3" stroke-width="2.8" marker-end="url(#ah)"/>
<path d="M174,533 C166,538 156,546 149,550" fill="None" stroke="#5b97d3" stroke-width="2.8" marker-end="url(#ah)"/>
<path d="M200,538 C214,542 212,552 206,555" fill="None" stroke="#5b97d3" stroke-width="2.6" marker-end="url(#ah)"/>
<path d="M200,536.5 C222,544 232,562 233,580" fill="None" stroke="#5b97d3" stroke-width="2.8"/>
<ellipse cx="75" cy="508.6" rx="13.2" ry="11.2" fill="#a9b7e8"/>
<text x="75.0" y="513.1" font-size="12.6" fill="#141a30" text-anchor="middle" stroke="#141a30" stroke-width="0.3">mPFC</text>
<ellipse cx="157" cy="508.6" rx="13.2" ry="11.2" fill="#a9b7e8"/>
<text x="157.0" y="513.1" font-size="12.6" fill="#141a30" text-anchor="middle" stroke="#141a30" stroke-width="0.3">PAG</text>
<ellipse cx="130.6" cy="562.6" rx="13.2" ry="11.2" fill="#a9b7e8"/>
<text x="130.6" y="567.1" font-size="12.6" fill="#141a30" text-anchor="middle" stroke="#141a30" stroke-width="0.3">PVN</text>
<ellipse cx="187" cy="561.6" rx="11.2" ry="10.4" fill="#a9b7e8"/>
<text x="187.0" y="566.1" font-size="12.6" fill="#141a30" text-anchor="middle" stroke="#141a30" stroke-width="0.3">LC</text>
<ellipse cx="187" cy="534.3" rx="14.2" ry="10.8" fill="#f1cf80"/>
<text x="187.0" y="538.8" font-size="12.6" fill="#2a220c" text-anchor="middle" stroke="#2a220c" stroke-width="0.3">PBN</text>
<path d="M51.5,558.5 L98.5,637 M217,585.5 L113,637.5" fill="none" stroke="#555" stroke-width="1.2" stroke-dasharray="4 3.2"/>
<path d="M178.8,696.2 C180.2,697.3 184.8,700.2 187.5,702.5 C190.2,704.8 194.4,708.0 195.0,710.2 C195.6,712.5 193.8,714.9 191.2,716.2 C188.8,717.6 184.4,717.8 180.0,718.1 C175.6,718.4 169.0,717.6 165.0,718.1 C161.0,718.6 157.5,720.7 156.0,721.2" fill="none" stroke="#a88f90" stroke-width="2.2" stroke-linecap="round"/>
<path d="M82.8,687.5 C82.4,685.8 82.8,683.5 83.1,680.0 C83.5,676.5 84.3,670.4 85.0,666.2 C85.7,662.1 86.4,658.3 87.5,655.0 C88.6,651.7 89.8,648.5 91.9,646.2 C94.0,644.0 96.6,642.3 100.0,641.2 C103.4,640.2 108.3,641.1 112.5,640.0 C116.7,638.9 120.4,635.6 125.0,634.4 C129.6,633.1 135.0,632.5 140.0,632.5 C145.0,632.5 150.2,632.9 155.0,634.4 C159.8,635.8 164.6,638.0 168.8,641.2 C172.9,644.5 177.2,649.2 180.0,653.8 C182.8,658.3 185.0,664.6 185.6,668.8 C186.2,672.9 184.7,675.6 183.8,678.8 C182.8,681.9 180.4,684.8 180.0,687.5 C179.6,690.2 181.9,692.4 181.5,695.0 C181.1,697.6 180.7,701.5 177.5,703.1 C174.3,704.7 166.7,704.6 162.5,704.6 C158.3,704.6 155.4,704.3 152.5,703.1 C149.6,702.0 147.5,699.1 145.0,697.8 C142.5,696.4 140.4,696.0 137.5,695.2 C134.6,694.5 130.4,693.6 127.5,693.4 C124.6,693.2 122.9,694.1 120.0,694.0 C117.1,693.9 112.5,693.5 110.0,692.5 C107.5,691.5 106.7,688.7 105.0,688.1 C103.3,687.5 102.3,688.4 100.0,689.0 C97.7,689.6 93.8,691.3 91.2,691.5 C88.8,691.7 86.4,690.9 85.0,690.2 C83.6,689.6 83.1,689.2 82.8,687.5 Z" fill="#4c4949"/>
<path d="M145.0,677.5 C147.4,675.8 152.9,674.8 157.5,675.0 C162.1,675.2 168.8,676.7 172.5,678.8 C176.2,680.8 178.5,684.8 180.0,687.5 C181.5,690.2 181.7,692.5 181.2,695.0 C180.8,697.5 180.6,701.2 177.5,702.8 C174.4,704.3 166.7,704.2 162.5,704.2 C158.3,704.2 155.2,704.3 152.5,702.8 C149.8,701.2 147.8,698.0 146.2,695.0 C144.7,692.0 143.3,687.9 143.1,685.0 C142.9,682.1 142.6,679.2 145.0,677.5 Z" fill="#434040"/>
<path d="M112.5,683.8 C113.8,681.7 120.8,680.0 125.0,680.0 C129.2,680.0 134.6,681.7 137.5,683.8 C140.4,685.8 142.5,690.6 142.5,692.5 C142.5,694.4 140.0,695.1 137.5,695.2 C135.0,695.4 130.8,693.8 127.5,693.4 C124.2,692.9 120.0,694.1 117.5,692.5 C115.0,690.9 111.2,685.8 112.5,683.8 Z" fill="#454242"/>
<path d="M87.0,650.6 C86.1,649.5 85.7,646.7 86.0,645.0 C86.3,643.3 87.7,641.1 88.8,640.6 C89.8,640.1 91.7,640.7 92.5,641.9 C93.3,643.0 93.7,645.8 93.5,647.5 C93.3,649.2 92.3,651.4 91.2,651.9 C90.2,652.4 87.9,651.8 87.0,650.6 Z" fill="#383535"/>
<path d="M100.0,648.8 C99.6,646.7 98.4,643.2 99.0,641.2 C99.6,639.3 102.0,637.7 103.8,637.2 C105.5,636.8 108.0,637.4 109.4,638.8 C110.7,640.1 112.0,643.2 111.9,645.6 C111.8,648.0 110.0,651.2 108.8,653.1 C107.5,655.0 105.6,656.8 104.4,656.9 C103.1,657.0 102.0,655.1 101.2,653.8 C100.5,652.4 100.4,650.8 100.0,648.8 Z" fill="#9c8a8a"/>
<circle cx="92.5" cy="669.5" r="2.3" fill="#141212"/>
<path d="M98.1,690.0 C99.2,689.0 101.9,687.6 103.8,687.5 C105.6,687.4 108.2,688.1 109.0,689.4 C109.8,690.6 109.6,693.5 108.8,695.0 C107.9,696.5 105.5,697.8 103.8,698.1 C102.0,698.4 99.6,697.6 98.5,696.9 C97.4,696.1 97.3,694.6 97.2,693.5 C97.2,692.4 97.0,691.0 98.1,690.0 Z" fill="#8f8082"/>
<path d="M120.2,702.5 C119.8,701.8 122.5,699.3 125.0,698.8 C127.5,698.2 131.7,699.4 135.0,699.4 C138.3,699.4 142.5,698.4 145.0,698.8 C147.5,699.1 149.4,700.4 150.0,701.2 C150.6,702.1 150.8,703.6 148.8,704.0 C146.7,704.4 141.0,703.9 137.5,703.8 C134.0,703.6 130.4,703.3 127.5,703.1 C124.6,702.9 120.7,703.2 120.2,702.5 Z" fill="#9b8789"/>
<path d="M81.9,680.6 L62.5,672.5M81.9,682.5 L63.8,681.0M82.2,683.8 L68.8,685.0" fill="none" stroke="#777" stroke-width="0.7"/>
<text x="248.0" y="447.0" font-size="23" fill="#000" font-weight="bold">G</text>
<rect x="287.2" y="443.0" width="142.6" height="16.0" fill="#fff" stroke="#333" stroke-width="1.15"/>
<text x="294.4" y="457.0" font-size="14.6" xml:space="preserve"><tspan fill="#1a1a1a" stroke="#1a1a1a" stroke-width="0.2">mPFC/ </tspan><tspan fill="#e23ad2" stroke="#e23ad2" stroke-width="0.2">c-Fos</tspan><tspan fill="#1a1a1a" stroke="#1a1a1a" stroke-width="0.2">/ </tspan><tspan fill="#3b88c9" stroke="#3b88c9" stroke-width="0.2">DAPI</tspan></text>
<rect x="437.2" y="443.0" width="142.6" height="16.0" fill="#fff" stroke="#333" stroke-width="1.15"/>
<text x="450.1" y="457.0" font-size="14.6" xml:space="preserve"><tspan fill="#1a1a1a" stroke="#1a1a1a" stroke-width="0.2">PVN/ </tspan><tspan fill="#e23ad2" stroke="#e23ad2" stroke-width="0.2">c-Fos</tspan><tspan fill="#1a1a1a" stroke="#1a1a1a" stroke-width="0.2">/ </tspan><tspan fill="#3b88c9" stroke="#3b88c9" stroke-width="0.2">DAPI</tspan></text>
<rect x="586.6" y="443.0" width="142.6" height="16.0" fill="#fff" stroke="#333" stroke-width="1.15"/>
<text x="599.6" y="457.0" font-size="14.6" xml:space="preserve"><tspan fill="#1a1a1a" stroke="#1a1a1a" stroke-width="0.2">PAG/ </tspan><tspan fill="#e23ad2" stroke="#e23ad2" stroke-width="0.2">c-Fos</tspan><tspan fill="#1a1a1a" stroke="#1a1a1a" stroke-width="0.2">/ </tspan><tspan fill="#3b88c9" stroke="#3b88c9" stroke-width="0.2">DAPI</tspan></text>
<rect x="738.0" y="443.0" width="142.6" height="16.0" fill="#fff" stroke="#333" stroke-width="1.15"/>
<text x="750.9" y="457.0" font-size="14.6" xml:space="preserve"><tspan fill="#1a1a1a" stroke="#1a1a1a" stroke-width="0.2">PBN/ </tspan><tspan fill="#e23ad2" stroke="#e23ad2" stroke-width="0.2">c-Fos</tspan><tspan fill="#1a1a1a" stroke="#1a1a1a" stroke-width="0.2">/ </tspan><tspan fill="#3b88c9" stroke="#3b88c9" stroke-width="0.2">DAPI</tspan></text>
<rect x="887.8" y="443.0" width="142.6" height="16.0" fill="#fff" stroke="#333" stroke-width="1.15"/>
<text x="906.4" y="457.0" font-size="14.6" xml:space="preserve"><tspan fill="#1a1a1a" stroke="#1a1a1a" stroke-width="0.2">LC/ </tspan><tspan fill="#e23ad2" stroke="#e23ad2" stroke-width="0.2">c-Fos</tspan><tspan fill="#1a1a1a" stroke="#1a1a1a" stroke-width="0.2">/ </tspan><tspan fill="#3b88c9" stroke="#3b88c9" stroke-width="0.2">DAPI</tspan></text>
<rect x="270.6" y="459.1" width="16.6" height="142.7" fill="#fff" stroke="#444" stroke-width="1.1"/>
<text font-size="14.6" fill="#1a1a1a" text-anchor="middle" transform="translate(283.6,530.5) rotate(-90)" stroke="#1a1a1a" stroke-width="0.22">Sham</text>
<rect x="270.6" y="609.6" width="16.6" height="142.7" fill="#fff" stroke="#444" stroke-width="1.1"/>
<text font-size="14.6" fill="#1a1a1a" text-anchor="middle" transform="translate(283.6,681.0) rotate(-90)" stroke="#1a1a1a" stroke-width="0.22">PDAC</text>
<clipPath id="c1"><rect x="287.2" y="459.1" width="142.6" height="142.7"/></clipPath>
<g clip-path="url(#c1)">
<rect x="287.2" y="459.1" width="142.6" height="142.7" fill="#05021e"/>
<radialGradient id="g2"><stop offset="0" stop-color="#5a16a8" stop-opacity="0.6"/><stop offset="0.55" stop-color="#5a16a8" stop-opacity="0.27"/><stop offset="1" stop-color="#5a16a8" stop-opacity="0"/></radialGradient>
<ellipse cx="358.5" cy="530.5" rx="85.6" ry="88.5" fill="url(#g2)"/>
<radialGradient id="g3"><stop offset="0" stop-color="#b030d0" stop-opacity="0.3"/><stop offset="0.55" stop-color="#b030d0" stop-opacity="0.14"/><stop offset="1" stop-color="#b030d0" stop-opacity="0"/></radialGradient>
<ellipse cx="358.5" cy="541.9" rx="42.8" ry="51.4" fill="url(#g3)"/>
<radialGradient id="g4"><stop offset="0" stop-color="#c028c8" stop-opacity="0.4"/><stop offset="0.55" stop-color="#c028c8" stop-opacity="0.18"/><stop offset="1" stop-color="#c028c8" stop-opacity="0"/></radialGradient>
<ellipse cx="358.5" cy="537.6" rx="28.5" ry="59.9" fill="url(#g4)"/>
<filter id="nz54037" x="0" y="0" width="1" height="1" color-interpolation-filters="sRGB"><feTurbulence type="fractalNoise" baseFrequency="0.7" numOctaves="2" seed="10"/><feColorMatrix values="0 0 0 0 0.11 0 0 0 0 0.09 0 0 0 0 0.68 2.2 0 0 0 -1.28"/></filter>
<rect x="287.2" y="459.1" width="142.6" height="142.7" filter="url(#nz54037)"/>
<filter id="nz11050" x="0" y="0" width="1" height="1" color-interpolation-filters="sRGB"><feTurbulence type="fractalNoise" baseFrequency="0.7" numOctaves="2" seed="110"/><feColorMatrix values="0 0 0 0 0.8 0 0 0 0 0.22 0 0 0 0 0.85 3.0 0 0 0 -2.05"/></filter>
<rect x="287.2" y="459.1" width="142.6" height="142.7" filter="url(#nz11050)"/>
<g opacity="0.75" stroke-linecap="round" fill="none">
<path stroke="#c050e0" stroke-width="0.8" d="M368.7 520.3h0M352.3 557.0h0M325.9 528.0h0M378.3 562.3h0M355.1 571.4h0M342.7 526.1h0M348.5 472.3h0M347.2 556.2h0M354.1 512.7h0M335.8 500.0h0M370.2 526.2h0M371.6 544.5h0M403.1 526.5h0M396.9 489.1h0M356.0 570.7h0M417.5 519.6h0M340.8 497.4h0M422.5 536.9h0M351.7 522.8h0M357.1 548.3h0M354.7 549.9h0"/>
<path stroke="#d040d8" stroke-width="0.8" d="M374.7 465.4h0M403.8 553.0h0M344.3 571.4h0M336.2 538.8h0M313.3 519.3h0M387.4 541.6h0M339.6 559.7h0M331.9 520.2h0M349.4 556.1h0M353.5 587.5h0M397.1 551.4h0M379.8 555.5h0M289.7 579.2h0M320.8 481.5h0M412.7 547.0h0M349.7 584.0h0M331.1 543.5h0"/>
<path stroke="#c050e0" stroke-width="1.0" d="M350.2 599.2h0M307.1 582.1h0M353.7 501.1h0M381.0 541.6h0M336.4 486.9h0M297.9 574.9h0M311.6 513.9h0M410.5 519.2h0M375.5 469.6h0M374.1 526.1h0M310.3 497.1h0M328.8 497.3h0M323.8 586.0h0M361.5 512.6h0"/>
<path stroke="#9030d0" stroke-width="1.2" d="M397.4 505.9h0M383.4 587.2h0M368.2 529.5h0M365.8 523.1h0M365.5 505.0h0M406.8 495.7h0M362.8 537.6h0M298.3 534.3h0M353.6 538.5h0M340.3 555.0h0M355.0 483.4h0M340.4 534.8h0M400.2 541.0h0M349.4 533.6h0M296.2 476.0h0M384.0 519.5h0M351.5 530.4h0M369.1 568.5h0M374.6 483.8h0"/>
<path stroke="#9030d0" stroke-width="1.0" d="M324.5 516.9h0M408.0 578.5h0M350.6 526.3h0M360.0 567.8h0M406.1 484.5h0M335.5 554.6h0M403.4 515.3h0M326.1 509.6h0M360.0 516.9h0M381.0 568.5h0M295.1 517.9h0M351.6 514.4h0M337.9 525.4h0M379.4 527.0h0M338.7 593.4h0M327.7 521.3h0"/>
<path stroke="#c050e0" stroke-width="1.2" d="M385.2 550.8h0M385.0 568.6h0M361.3 552.4h0M428.6 591.9h0M309.5 513.6h0M354.7 568.4h0M361.8 572.7h0M353.0 483.6h0M384.4 500.8h0M367.9 592.5h0M350.3 536.3h0M340.5 527.4h0M372.0 527.5h0M330.8 587.9h0M334.3 555.7h0M307.5 511.1h0M369.4 515.4h0M332.4 515.2h0M354.9 540.1h0M394.7 535.3h0M351.7 544.4h0M348.4 527.7h0"/>
<path stroke="#d040d8" stroke-width="1.2" d="M316.9 544.4h0M342.3 536.9h0M355.3 525.3h0M374.6 599.0h0M378.4 477.5h0M348.6 561.9h0M426.6 517.2h0M342.3 590.3h0M347.0 552.7h0M383.5 510.1h0M338.4 522.1h0M350.0 586.1h0M339.7 534.4h0M396.1 558.1h0M357.2 552.2h0M335.4 560.7h0"/>
<path stroke="#d040d8" stroke-width="1.0" d="M411.5 552.2h0M356.0 522.9h0M402.7 568.1h0M340.8 466.2h0M388.9 554.1h0M292.3 479.3h0M314.4 519.5h0M337.5 524.9h0M332.0 507.8h0M361.1 545.4h0M382.9 585.6h0M355.7 496.3h0M390.4 540.4h0M357.4 579.9h0M347.2 559.3h0M367.2 524.0h0M359.6 500.6h0M384.1 522.2h0M328.9 492.3h0"/>
<path stroke="#9030d0" stroke-width="0.8" d="M327.5 485.7h0M421.4 505.9h0M308.0 467.6h0M409.0 489.0h0M416.1 541.1h0M355.8 560.7h0M378.2 536.3h0M373.2 562.9h0M350.2 564.2h0M348.5 497.2h0M376.5 484.4h0M357.8 565.0h0M376.3 523.0h0M382.9 576.0h0M319.1 490.8h0M331.9 521.6h0M394.1 582.8h0M347.3 571.6h0M337.2 502.5h0M352.9 520.7h0M326.9 538.2h0M386.5 493.9h0M403.7 468.7h0M371.8 549.6h0M377.2 516.8h0M355.7 522.2h0"/>
</g>
<path d="M348.2,459.1 L376.2,459.1 C366.2,467.1 363.7,477.1 362.2,487.1 C360.7,477.1 358.2,467.1 348.2,459.1 Z" fill="#020108"/>
<path d="M336.2,459.1 C354.2,463.1 360.2,475.1 362.2,489.1 C364.2,475.1 370.2,463.1 388.2,459.1" fill="none" stroke="#2a2ad0" stroke-width="3.0" opacity="0.75"/>
<line x1="362.2" y1="489.1" x2="362.2" y2="601.8" stroke="#3a28c0" stroke-width="1.0" opacity="0.6"/>
<ellipse cx="287.2" cy="601.8" rx="39" ry="38" fill="#080430" opacity="0.85"/>
<ellipse cx="429.8" cy="601.8" rx="41" ry="49" fill="#080430" opacity="0.85"/>
</g>
<clipPath id="c5"><rect x="287.2" y="609.6" width="142.6" height="142.7"/></clipPath>
<g clip-path="url(#c5)">
<rect x="287.2" y="609.6" width="142.6" height="142.7" fill="#05021e"/>
<radialGradient id="g6"><stop offset="0" stop-color="#5a16a8" stop-opacity="0.85"/><stop offset="0.55" stop-color="#5a16a8" stop-opacity="0.38"/><stop offset="1" stop-color="#5a16a8" stop-opacity="0"/></radialGradient>
<ellipse cx="358.5" cy="681.0" rx="85.6" ry="88.5" fill="url(#g6)"/>
<radialGradient id="g7"><stop offset="0" stop-color="#b030d0" stop-opacity="0.5"/><stop offset="0.55" stop-color="#b030d0" stop-opacity="0.23"/><stop offset="1" stop-color="#b030d0" stop-opacity="0"/></radialGradient>
<ellipse cx="358.5" cy="692.4" rx="42.8" ry="51.4" fill="url(#g7)"/>
<radialGradient id="g8"><stop offset="0" stop-color="#c028c8" stop-opacity="0.6"/><stop offset="0.55" stop-color="#c028c8" stop-opacity="0.27"/><stop offset="1" stop-color="#c028c8" stop-opacity="0"/></radialGradient>
<ellipse cx="358.5" cy="688.1" rx="28.5" ry="59.9" fill="url(#g8)"/>
<filter id="nz79797" x="0" y="0" width="1" height="1" color-interpolation-filters="sRGB"><feTurbulence type="fractalNoise" baseFrequency="0.7" numOctaves="2" seed="11"/><feColorMatrix values="0 0 0 0 0.11 0 0 0 0 0.09 0 0 0 0 0.68 2.2 0 0 0 -1.28"/></filter>
<rect x="287.2" y="609.6" width="142.6" height="142.7" filter="url(#nz79797)"/>
<filter id="nz33485" x="0" y="0" width="1" height="1" color-interpolation-filters="sRGB"><feTurbulence type="fractalNoise" baseFrequency="0.7" numOctaves="2" seed="111"/><feColorMatrix values="0 0 0 0 0.8 0 0 0 0 0.22 0 0 0 0 0.85 3.0 0 0 0 -2.05"/></filter>
<rect x="287.2" y="609.6" width="142.6" height="142.7" filter="url(#nz33485)"/>
<g opacity="0.75" stroke-linecap="round" fill="none">
<path stroke="#c050e0" stroke-width="1.0" d="M351.7 689.5h0M306.4 710.5h0M418.0 638.7h0M372.5 620.3h0M351.5 648.9h0M322.2 710.4h0M309.3 661.4h0M361.6 718.7h0M381.0 643.5h0M369.4 709.1h0M370.7 616.1h0M409.7 708.4h0M312.9 631.3h0M381.2 694.6h0M353.2 665.7h0M317.8 676.3h0M343.2 618.2h0M345.8 668.9h0M357.2 690.1h0M397.3 678.2h0M316.6 659.2h0"/>
<path stroke="#c050e0" stroke-width="1.2" d="M359.6 693.4h0M314.4 714.0h0M321.2 710.1h0M291.5 680.9h0M376.4 680.1h0M373.5 613.6h0M385.2 655.6h0M370.7 699.9h0M342.8 631.1h0M350.1 694.5h0M343.6 664.9h0M364.8 690.6h0M347.2 630.5h0M384.7 655.4h0M367.2 689.6h0M404.9 626.3h0M316.4 664.2h0M308.2 638.8h0M318.0 615.4h0M378.2 660.1h0M362.1 611.0h0"/>
<path stroke="#d040d8" stroke-width="1.0" d="M377.0 722.8h0M325.7 622.0h0M339.8 691.2h0M333.8 704.6h0M350.9 699.5h0M333.8 676.2h0M349.7 724.2h0M401.3 654.2h0M342.1 684.9h0M376.0 713.3h0M381.3 696.4h0M336.0 702.5h0M315.7 676.4h0M362.2 643.7h0M358.1 649.5h0M323.1 711.7h0M347.2 710.5h0M380.9 698.5h0"/>
<path stroke="#9030d0" stroke-width="0.8" d="M380.4 697.4h0M332.2 642.4h0M356.2 691.6h0M341.3 611.4h0M364.8 750.8h0M321.1 690.1h0M338.9 648.8h0M341.7 739.4h0M428.9 626.7h0M390.6 634.7h0M340.7 686.8h0M379.8 743.4h0M323.1 646.9h0"/>
<path stroke="#d040d8" stroke-width="1.2" d="M372.7 720.6h0M361.2 701.0h0M332.9 727.9h0M336.5 709.1h0M362.3 651.0h0M368.2 751.6h0M412.8 649.8h0M383.1 680.0h0M371.1 695.2h0M350.9 664.2h0M369.0 728.1h0M352.0 667.2h0M324.8 690.7h0M358.9 666.2h0M347.3 627.1h0M304.4 708.2h0M378.4 692.3h0M335.9 737.7h0M324.9 624.4h0M344.6 710.2h0M349.4 676.3h0M376.7 673.4h0"/>
<path stroke="#9030d0" stroke-width="1.0" d="M330.6 735.9h0M322.3 680.0h0M347.3 722.3h0M372.3 670.9h0M344.0 654.2h0M372.9 700.9h0M391.9 643.6h0M353.1 655.9h0M322.6 661.2h0M332.3 667.5h0M316.7 697.5h0M349.1 719.7h0M332.9 678.6h0M360.0 663.7h0M296.2 667.3h0M301.8 710.2h0M409.2 634.0h0M319.7 678.4h0M390.5 681.8h0"/>
<path stroke="#d040d8" stroke-width="0.8" d="M334.1 651.9h0M385.8 693.0h0M354.9 660.6h0M332.1 741.3h0M360.6 690.8h0M392.6 667.4h0M367.8 694.0h0M288.6 646.6h0M335.4 680.2h0M368.2 725.9h0M391.4 652.9h0M308.7 719.5h0M341.6 694.1h0M386.7 689.5h0M347.6 690.7h0M312.8 714.4h0M353.8 709.3h0M359.5 653.6h0M373.5 648.1h0M371.9 647.4h0"/>
<path stroke="#9030d0" stroke-width="1.2" d="M352.5 675.6h0M383.9 649.7h0M353.3 702.5h0M302.2 713.9h0M349.5 663.2h0M374.4 731.9h0M377.0 667.3h0M376.3 660.9h0M334.0 735.4h0M406.3 637.7h0M358.7 651.8h0M382.5 687.8h0M320.8 679.4h0M347.7 620.5h0M299.1 735.5h0M320.1 635.9h0M304.4 655.8h0M402.3 666.1h0"/>
<path stroke="#c050e0" stroke-width="0.8" d="M374.8 741.0h0M330.1 706.4h0M326.5 740.8h0M358.9 707.4h0M297.3 658.4h0M318.0 667.6h0M360.6 680.6h0M370.2 712.8h0M381.4 719.7h0M351.4 644.8h0M316.9 687.1h0M305.9 699.6h0M326.7 700.9h0M374.5 651.8h0M313.4 688.0h0M394.0 685.8h0M401.7 727.7h0M407.0 718.3h0"/>
</g>
<path d="M344.2,609.6 L372.2,609.6 C362.2,617.6 359.7,627.6 358.2,637.6 C356.7,627.6 354.2,617.6 344.2,609.6 Z" fill="#020108"/>
<path d="M332.2,609.6 C350.2,613.6 356.2,625.6 358.2,639.6 C360.2,625.6 366.2,613.6 384.2,609.6" fill="none" stroke="#2a2ad0" stroke-width="3.0" opacity="0.75"/>
<line x1="358.2" y1="639.6" x2="358.2" y2="752.3" stroke="#c030d8" stroke-width="1.0" opacity="0.6"/>
<ellipse cx="287.2" cy="752.3" rx="39" ry="38" fill="#080430" opacity="0.85"/>
<ellipse cx="429.8" cy="752.3" rx="41" ry="49" fill="#080430" opacity="0.85"/>
</g>
<clipPath id="c9"><rect x="287.2" y="459.1" width="142.6" height="142.7"/></clipPath><g clip-path="url(#c9)">
<path d="M301.0,459.0 L303.5,558.5" fill="none" stroke="#f2eef8" stroke-width="1.0" stroke-dasharray="4.6 2.6"/>
<path d="M412.2,459.0 L410.5,553.5" fill="none" stroke="#f2eef8" stroke-width="1.0" stroke-dasharray="4.6 2.6"/>
<path d="M351.0,474.8 L312.2,566.0" fill="none" stroke="#f2eef8" stroke-width="1.0" stroke-dasharray="4.6 2.6"/>
<path d="M367.2,477.2 L399.8,561.0" fill="none" stroke="#f2eef8" stroke-width="1.0" stroke-dasharray="4.6 2.6"/>
<path d="M314.8,573.0 L358.5,534.8 L392.2,567.2" fill="none" stroke="#f2eef8" stroke-width="1.0" stroke-dasharray="4.6 2.6"/>
<path d="M322.2,586.0 L388.5,584.0" fill="none" stroke="#f2eef8" stroke-width="1.0" stroke-dasharray="4.6 2.6"/>
<path d="M287.2,564 A39,37.5 0 0 1 326.2,601.8" fill="none" stroke="#f7f4fb" stroke-width="1.2"/>
<path d="M388.8,601.8 A41,49 0 0 1 429.8,552" fill="none" stroke="#f7f4fb" stroke-width="1.2"/>
<text x="314.8" y="501.5" font-size="14.5" fill="#f4f0fa" stroke="#f4f0fa" stroke-width="0.22">M2</text>
<text x="288.5" y="522.3" font-size="14.5" fill="#f4f0fa" stroke="#f4f0fa" stroke-width="0.22">M1</text>
<text x="343.0" y="521.0" font-size="14.5" fill="#f4f0fa" stroke="#f4f0fa" stroke-width="0.22">A24b</text>
<text x="341.0" y="568.5" font-size="14.5" fill="#f4f0fa" stroke="#f4f0fa" stroke-width="0.22">A32</text>
<text x="341.0" y="598.5" font-size="14.5" fill="#f4f0fa" stroke="#f4f0fa" stroke-width="0.22">A24a</text>
<line x1="414.0" y1="597.8" x2="425.5" y2="597.8" stroke="#ddd" stroke-width="1.4"/>
</g>
<clipPath id="c10"><rect x="287.2" y="609.6" width="142.6" height="142.7"/></clipPath><g clip-path="url(#c10)">
<path d="M299.0,609.8 L303.5,713.5" fill="none" stroke="#f2eef8" stroke-width="1.0" stroke-dasharray="4.6 2.6"/>
<path d="M412.2,609.8 L410.5,702.2" fill="none" stroke="#f2eef8" stroke-width="1.0" stroke-dasharray="4.6 2.6"/>
<path d="M349.8,623.5 L312.2,722.2" fill="none" stroke="#f2eef8" stroke-width="1.0" stroke-dasharray="4.6 2.6"/>
<path d="M366.0,627.2 L398.5,713.5" fill="none" stroke="#f2eef8" stroke-width="1.0" stroke-dasharray="4.6 2.6"/>
<path d="M314.8,721.0 L353.5,687.2 L397.2,713.5" fill="none" stroke="#f2eef8" stroke-width="1.0" stroke-dasharray="4.6 2.6"/>
<path d="M322.2,734.8 L388.5,733.0" fill="none" stroke="#f2eef8" stroke-width="1.0" stroke-dasharray="4.6 2.6"/>
<path d="M287.2,712.3 A39,39 0 0 1 326.2,752.3" fill="none" stroke="#f7f4fb" stroke-width="1.2"/>
<path d="M387.8,752.3 A42,49 0 0 1 429.8,702.3" fill="none" stroke="#f7f4fb" stroke-width="1.2"/>
<text x="313.5" y="650.5" font-size="14.5" fill="#f4f0fa" stroke="#f4f0fa" stroke-width="0.22">M2</text>
<text x="288.0" y="669.3" font-size="14.5" fill="#f4f0fa" stroke="#f4f0fa" stroke-width="0.22">M1</text>
<text x="338.5" y="668.5" font-size="14.5" fill="#f4f0fa" stroke="#f4f0fa" stroke-width="0.22">A24b</text>
<text x="338.5" y="714.8" font-size="14.5" fill="#f4f0fa" stroke="#f4f0fa" stroke-width="0.22">A32</text>
<text x="336.5" y="747.8" font-size="14.5" fill="#f4f0fa" stroke="#f4f0fa" stroke-width="0.22">A24a</text>
</g>
<clipPath id="c11"><rect x="437.2" y="459.1" width="142.6" height="142.7"/></clipPath>
<g clip-path="url(#c11)">
<rect x="437.2" y="459.1" width="142.6" height="142.7" fill="#04021a"/>
<radialGradient id="g12"><stop offset="0" stop-color="#4a1498" stop-opacity="0.6"/><stop offset="0.55" stop-color="#4a1498" stop-opacity="0.27"/><stop offset="1" stop-color="#4a1498" stop-opacity="0"/></radialGradient>
<ellipse cx="508.5" cy="504.8" rx="99.8" ry="78.5" fill="url(#g12)"/>
<radialGradient id="g13"><stop offset="0" stop-color="#1c1490" stop-opacity="0.5"/><stop offset="0.55" stop-color="#1c1490" stop-opacity="0.23"/><stop offset="1" stop-color="#1c1490" stop-opacity="0"/></radialGradient>
<ellipse cx="508.5" cy="594.7" rx="99.8" ry="64.2" fill="url(#g13)"/>
<filter id="nz88887" x="0" y="0" width="1" height="1" color-interpolation-filters="sRGB"><feTurbulence type="fractalNoise" baseFrequency="0.7" numOctaves="2" seed="20"/><feColorMatrix values="0 0 0 0 0.11 0 0 0 0 0.09 0 0 0 0 0.68 2.2 0 0 0 -1.28"/></filter>
<rect x="437.2" y="459.1" width="142.6" height="142.7" filter="url(#nz88887)"/>
<filter id="nz99400" x="0" y="0" width="1" height="1" color-interpolation-filters="sRGB"><feTurbulence type="fractalNoise" baseFrequency="0.7" numOctaves="2" seed="120"/><feColorMatrix values="0 0 0 0 0.8 0 0 0 0 0.22 0 0 0 0 0.85 3.0 0 0 0 -2.05"/></filter>
<rect x="437.2" y="459.1" width="142.6" height="142.7" filter="url(#nz99400)"/>
<g opacity="0.75" stroke-linecap="round" fill="none">
<path stroke="#8a38e0" stroke-width="0.8" d="M566.3 557.0h0M533.3 580.3h0M453.6 585.3h0M569.2 565.4h0M501.2 459.6h0M556.1 484.5h0M551.1 562.0h0M489.2 566.0h0M440.8 463.9h0M440.7 515.3h0M562.4 491.9h0M465.9 500.0h0M445.6 571.2h0M511.9 537.4h0"/>
<path stroke="#9040e0" stroke-width="1.0" d="M518.9 483.3h0M578.9 473.8h0M498.1 548.7h0M477.0 558.2h0M566.5 590.7h0M520.2 510.4h0M479.0 600.4h0M507.8 531.0h0M561.1 488.6h0M553.3 480.6h0M461.6 596.7h0M539.3 494.1h0M512.0 557.8h0M466.8 576.1h0M449.6 594.5h0"/>
<path stroke="#c048e0" stroke-width="0.8" d="M572.7 523.2h0M448.8 540.9h0M566.4 497.3h0M531.8 571.5h0M520.2 529.3h0M553.1 549.0h0M579.3 553.5h0M500.6 592.5h0M533.6 511.0h0M543.2 581.6h0M558.9 568.8h0M443.0 476.0h0M504.9 497.5h0M500.4 518.5h0M554.3 530.8h0M468.3 464.7h0"/>
<path stroke="#8a38e0" stroke-width="1.0" d="M482.4 588.8h0M556.4 482.5h0M437.9 467.9h0M565.5 539.4h0M478.0 587.3h0M450.5 568.0h0M572.7 481.4h0M539.5 522.7h0M499.3 494.7h0M528.6 538.8h0M486.1 492.1h0M517.6 494.7h0"/>
<path stroke="#8a38e0" stroke-width="1.2" d="M450.7 486.3h0M519.0 467.1h0M484.7 550.8h0M568.9 598.8h0M490.0 489.6h0M530.4 478.3h0M543.9 598.1h0M537.6 539.6h0M462.5 480.3h0"/>
<path stroke="#d040d8" stroke-width="1.2" d="M480.7 495.7h0M459.5 517.0h0M486.4 475.7h0M489.2 501.7h0M525.4 517.0h0M471.4 479.3h0M528.3 559.4h0M476.4 462.7h0M493.0 583.3h0M510.0 484.6h0M510.0 523.5h0M542.2 597.6h0M507.7 474.0h0M541.8 556.9h0M490.2 469.1h0M462.8 463.9h0M472.2 529.2h0M544.8 526.7h0M473.3 552.2h0M482.0 584.6h0M568.4 459.8h0M532.7 490.0h0M577.1 542.3h0"/>
<path stroke="#9040e0" stroke-width="1.2" d="M535.6 601.2h0M444.3 552.6h0M500.4 587.4h0M513.2 545.1h0M450.6 557.9h0M459.7 550.3h0M492.7 592.7h0M576.9 588.9h0M559.2 531.7h0M575.1 577.8h0M469.9 478.7h0M485.3 483.1h0M483.9 491.8h0"/>
<path stroke="#d040d8" stroke-width="0.8" d="M511.3 521.4h0M439.0 541.0h0M510.4 559.1h0M451.3 493.3h0M480.2 538.3h0M446.7 526.1h0M462.7 501.1h0M466.7 466.6h0M459.8 596.5h0M484.0 522.6h0M462.9 500.9h0M482.6 592.7h0M466.2 471.2h0M502.5 532.8h0M531.4 596.2h0M443.5 565.9h0"/>
<path stroke="#d040d8" stroke-width="1.0" d="M533.1 516.5h0M542.1 499.4h0M568.8 537.2h0M437.7 570.3h0M509.3 551.7h0M474.8 472.8h0M454.0 522.8h0M558.6 580.4h0M453.8 499.1h0M570.4 597.7h0M455.2 585.3h0M537.4 575.5h0M497.3 524.7h0M553.2 550.8h0M533.6 459.9h0M568.3 503.9h0M468.2 491.6h0M504.7 547.5h0M523.5 490.8h0"/>
<path stroke="#9040e0" stroke-width="0.8" d="M562.0 518.9h0M544.0 511.5h0M503.5 564.1h0M508.8 518.9h0M555.8 576.9h0M556.7 530.4h0M527.0 474.4h0M566.8 488.3h0M503.9 552.2h0M506.1 495.8h0M568.9 469.5h0M483.9 512.0h0M467.3 506.2h0M556.7 504.6h0"/>
<path stroke="#c048e0" stroke-width="1.0" d="M495.0 580.0h0M439.9 520.8h0M455.7 580.8h0M562.9 483.5h0M568.2 545.7h0M447.0 471.0h0"/>
<path stroke="#c048e0" stroke-width="1.2" d="M577.2 465.0h0M457.1 511.0h0M530.5 497.4h0M543.7 551.2h0M559.0 472.6h0M458.2 532.1h0M498.8 570.9h0M497.2 465.2h0M532.7 546.2h0M449.0 587.5h0M517.0 572.6h0M452.8 495.1h0M518.1 557.6h0"/>
</g>
<path d="M507.8,526.0 C511.2,534.0 510.4,546.0 509.0,566.0 L506.6,566.0 C505.2,546.0 504.4,534.0 507.8,526.0 Z" fill="#010006" stroke="#2a2ad0" stroke-width="0.8"/>
<line x1="507.8" y1="566.0" x2="507.8" y2="601.8" stroke="#2a2ad0" stroke-width="1.2" opacity="0.7"/>
</g>
<clipPath id="c14"><rect x="437.2" y="609.6" width="142.6" height="142.7"/></clipPath>
<g clip-path="url(#c14)">
<rect x="437.2" y="609.6" width="142.6" height="142.7" fill="#04021a"/>
<radialGradient id="g15"><stop offset="0" stop-color="#4a1498" stop-opacity="0.6"/><stop offset="0.55" stop-color="#4a1498" stop-opacity="0.27"/><stop offset="1" stop-color="#4a1498" stop-opacity="0"/></radialGradient>
<ellipse cx="508.5" cy="655.3" rx="99.8" ry="78.5" fill="url(#g15)"/>
<radialGradient id="g16"><stop offset="0" stop-color="#1c1490" stop-opacity="0.5"/><stop offset="0.55" stop-color="#1c1490" stop-opacity="0.23"/><stop offset="1" stop-color="#1c1490" stop-opacity="0"/></radialGradient>
<ellipse cx="508.5" cy="745.2" rx="99.8" ry="64.2" fill="url(#g16)"/>
<filter id="nz74677" x="0" y="0" width="1" height="1" color-interpolation-filters="sRGB"><feTurbulence type="fractalNoise" baseFrequency="0.7" numOctaves="2" seed="21"/><feColorMatrix values="0 0 0 0 0.11 0 0 0 0 0.09 0 0 0 0 0.68 2.2 0 0 0 -1.28"/></filter>
<rect x="437.2" y="609.6" width="142.6" height="142.7" filter="url(#nz74677)"/>
<filter id="nz53707" x="0" y="0" width="1" height="1" color-interpolation-filters="sRGB"><feTurbulence type="fractalNoise" baseFrequency="0.7" numOctaves="2" seed="121"/><feColorMatrix values="0 0 0 0 0.8 0 0 0 0 0.22 0 0 0 0 0.85 3.0 0 0 0 -2.05"/></filter>
<rect x="437.2" y="609.6" width="142.6" height="142.7" filter="url(#nz53707)"/>
<g opacity="0.75" stroke-linecap="round" fill="none">
<path stroke="#8a38e0" stroke-width="1.2" d="M460.7 708.0h0M530.6 627.7h0M472.1 631.9h0M515.0 618.2h0M548.4 699.0h0M450.1 634.6h0M438.8 659.8h0M466.7 752.0h0M437.7 704.4h0M506.8 686.3h0M494.2 746.5h0M526.7 677.2h0M540.7 616.3h0"/>
<path stroke="#c048e0" stroke-width="1.0" d="M505.5 640.4h0M458.7 704.5h0M454.7 677.6h0M486.6 694.8h0M563.1 679.7h0M543.6 677.9h0M441.2 639.9h0M520.1 730.8h0M442.5 634.3h0M460.3 638.4h0M571.5 630.7h0M502.0 737.2h0M504.4 723.8h0M476.5 722.2h0M440.2 662.2h0M473.3 671.0h0M498.9 612.6h0M539.7 693.3h0M440.0 701.4h0M478.2 622.5h0M453.2 704.1h0M512.6 663.2h0"/>
<path stroke="#d040d8" stroke-width="0.8" d="M509.2 643.3h0M550.4 642.7h0M457.4 666.2h0M528.7 721.8h0M463.1 732.0h0M523.9 709.5h0M448.4 727.7h0M483.8 656.5h0M492.7 723.9h0"/>
<path stroke="#c048e0" stroke-width="0.8" d="M490.1 693.1h0M529.7 743.4h0M561.3 701.7h0M473.9 667.5h0M532.4 698.3h0M564.1 619.7h0M543.6 645.1h0M568.6 684.2h0M502.3 638.4h0M558.0 641.1h0M514.0 621.7h0M508.9 632.8h0M460.8 747.1h0"/>
<path stroke="#e04070" stroke-width="1.0" d="M499.5 751.6h0M460.2 713.6h0M562.9 695.4h0M472.4 710.1h0M459.6 665.6h0M454.7 643.9h0M466.5 722.2h0M557.4 650.1h0M544.6 630.9h0"/>
<path stroke="#d040d8" stroke-width="1.0" d="M442.1 656.5h0M482.5 678.7h0M442.2 645.1h0M550.0 610.7h0M473.3 709.0h0M553.8 724.2h0M446.5 703.5h0M504.3 682.8h0M469.4 616.6h0M456.4 722.6h0M475.7 660.0h0M547.8 715.2h0M518.9 751.5h0M578.9 663.4h0M469.6 714.4h0M522.5 708.5h0M490.7 645.3h0M569.6 638.0h0M513.4 626.1h0M444.2 716.0h0"/>
<path stroke="#e04070" stroke-width="0.8" d="M542.9 622.2h0M451.9 619.0h0M474.9 656.1h0M577.4 751.0h0M439.9 681.1h0M475.7 618.0h0M519.4 752.0h0M441.1 740.4h0M529.3 682.9h0M522.7 623.3h0M523.9 671.7h0"/>
<path stroke="#d040d8" stroke-width="1.2" d="M447.8 637.8h0M518.7 655.1h0M495.2 750.7h0M570.7 644.7h0M513.4 649.0h0M491.7 627.6h0M523.3 681.6h0M506.6 699.8h0M524.9 727.3h0M563.2 612.1h0M534.1 640.6h0M577.6 715.2h0M445.8 717.5h0M547.7 738.3h0M519.4 726.3h0M534.1 719.8h0"/>
<path stroke="#e04070" stroke-width="1.2" d="M485.9 630.5h0M478.8 745.8h0M556.1 632.3h0M499.8 667.7h0M573.9 684.6h0M561.0 702.6h0M509.2 744.7h0M525.6 663.2h0M471.2 707.8h0M469.3 724.1h0M458.9 680.6h0M495.4 708.2h0M463.2 748.7h0M507.0 647.5h0M484.8 660.2h0M579.3 642.8h0M486.6 717.3h0M563.3 669.2h0M443.8 667.3h0"/>
<path stroke="#c048e0" stroke-width="1.2" d="M437.6 619.6h0M490.7 707.1h0M493.7 736.3h0M493.9 690.5h0M575.1 653.9h0M466.5 657.4h0M572.0 747.6h0M502.9 704.6h0M481.2 669.1h0M448.7 738.0h0M541.0 696.2h0M523.8 717.4h0M547.1 716.8h0M551.7 714.7h0M545.7 638.6h0M547.9 712.3h0"/>
<path stroke="#8a38e0" stroke-width="1.0" d="M463.0 633.9h0M445.4 650.7h0M502.2 643.3h0M472.2 740.4h0M474.4 745.3h0M576.3 640.3h0M441.8 642.8h0M575.5 665.3h0M471.4 695.1h0M467.5 685.6h0M478.4 662.6h0M535.8 678.1h0M562.5 644.7h0"/>
<path stroke="#8a38e0" stroke-width="0.8" d="M446.3 725.9h0M510.2 706.4h0M560.4 672.6h0M544.4 743.1h0M547.2 680.3h0M486.4 631.6h0M463.2 741.8h0M558.4 747.2h0M564.3 730.4h0"/>
</g>
<path d="M505.3,677.0 C508.7,685.0 507.9,697.0 506.5,726.0 L504.1,726.0 C502.7,697.0 501.9,685.0 505.3,677.0 Z" fill="#010006" stroke="#2a2ad0" stroke-width="0.8"/>
<line x1="505.3" y1="726.0" x2="505.3" y2="752.3" stroke="#2a2ad0" stroke-width="1.2" opacity="0.7"/>
</g>
<path d="M504.0,531.0 C501.8,530.2 495.2,526.6 491.0,526.5 C486.8,526.4 479.8,527.7 478.5,530.5 C477.2,533.3 479.1,537.6 483.5,543.5 C487.9,549.4 501.2,562.2 504.8,566.0" fill="none" stroke="#f2eef8" stroke-width="1.0" stroke-dasharray="4.6 2.6"/>
<path d="M512.2,528.5 C514.5,527.9 521.6,524.7 526.0,524.8 C530.4,524.8 536.8,526.3 538.5,529.0 C540.2,531.7 540.2,534.5 536.0,541.0 C531.8,547.5 517.2,563.5 513.5,568.0" fill="none" stroke="#f2eef8" stroke-width="1.0" stroke-dasharray="4.6 2.6"/>
<text x="513.5" y="538.0" font-size="15" fill="#f4f0fa" stroke="#f4f0fa" stroke-width="0.22">PVN</text>
<path d="M501.0,684.8 C498.9,684.2 492.8,681.3 488.5,681.5 C484.2,681.7 476.8,682.8 475.5,686.0 C474.2,689.2 476.5,695.2 481.0,701.0 C485.5,706.8 498.7,717.7 502.2,721.0" fill="none" stroke="#f2eef8" stroke-width="1.0" stroke-dasharray="4.6 2.6"/>
<path d="M509.8,683.5 C512.0,682.9 519.0,679.5 523.5,679.8 C528.0,680.0 534.8,681.6 536.5,684.8 C538.2,687.9 537.8,691.8 533.5,698.5 C529.2,705.2 514.3,720.4 510.5,724.8" fill="none" stroke="#f2eef8" stroke-width="1.0" stroke-dasharray="4.6 2.6"/>
<text x="511.0" y="693.5" font-size="15" fill="#f4f0fa" stroke="#f4f0fa" stroke-width="0.22">PVN</text>
<clipPath id="c17"><rect x="586.6" y="459.1" width="142.6" height="142.7"/></clipPath>
<g clip-path="url(#c17)">
<rect x="586.6" y="459.1" width="142.6" height="142.7" fill="#04021c"/>
<radialGradient id="g18"><stop offset="0" stop-color="#6a1cb0" stop-opacity="0.55"/><stop offset="0.55" stop-color="#6a1cb0" stop-opacity="0.25"/><stop offset="1" stop-color="#6a1cb0" stop-opacity="0"/></radialGradient>
<ellipse cx="657.9" cy="547.6" rx="71.3" ry="59.9" fill="url(#g18)"/>
<radialGradient id="g19"><stop offset="0" stop-color="#22128a" stop-opacity="0.45"/><stop offset="0.55" stop-color="#22128a" stop-opacity="0.20"/><stop offset="1" stop-color="#22128a" stop-opacity="0"/></radialGradient>
<ellipse cx="657.9" cy="509.0" rx="92.7" ry="71.3" fill="url(#g19)"/>
<filter id="nz77237" x="0" y="0" width="1" height="1" color-interpolation-filters="sRGB"><feTurbulence type="fractalNoise" baseFrequency="0.7" numOctaves="2" seed="30"/><feColorMatrix values="0 0 0 0 0.11 0 0 0 0 0.09 0 0 0 0 0.68 2.2 0 0 0 -1.28"/></filter>
<rect x="586.6" y="459.1" width="142.6" height="142.7" filter="url(#nz77237)"/>
<filter id="nz9292" x="0" y="0" width="1" height="1" color-interpolation-filters="sRGB"><feTurbulence type="fractalNoise" baseFrequency="0.7" numOctaves="2" seed="130"/><feColorMatrix values="0 0 0 0 0.8 0 0 0 0 0.22 0 0 0 0 0.85 3.0 0 0 0 -2.05"/></filter>
<rect x="586.6" y="459.1" width="142.6" height="142.7" filter="url(#nz9292)"/>
<g opacity="0.75" stroke-linecap="round" fill="none">
<path stroke="#d040d8" stroke-width="1.2" d="M663.5 500.4h0M605.7 470.7h0M657.4 580.5h0M620.6 539.1h0M673.7 491.4h0M661.8 570.3h0M685.1 519.9h0M657.7 569.1h0M719.5 552.1h0M617.9 601.1h0M620.1 518.7h0M660.5 595.9h0M679.4 583.7h0M600.8 559.8h0M657.8 571.9h0M643.5 511.3h0M686.9 591.2h0"/>
<path stroke="#c048e0" stroke-width="1.2" d="M703.0 534.8h0M631.1 531.4h0M653.9 506.4h0M603.6 506.8h0M667.4 567.5h0M603.7 497.9h0M657.8 518.3h0M659.4 587.7h0M643.4 550.9h0M599.5 556.0h0M641.0 593.4h0M657.6 584.1h0M657.1 520.2h0M632.2 501.8h0M686.2 568.3h0M685.8 505.7h0M628.0 591.2h0M623.8 541.3h0M645.8 601.3h0M629.4 535.2h0M683.1 519.4h0"/>
<path stroke="#8a38e0" stroke-width="1.2" d="M662.9 468.8h0M680.9 590.3h0M674.9 557.9h0M698.2 523.7h0M686.1 588.9h0M723.2 576.2h0M597.6 561.5h0M614.7 594.7h0M670.1 558.3h0M627.4 527.0h0M722.3 523.6h0M644.9 545.7h0M699.2 581.2h0M611.0 517.3h0M628.4 557.8h0M700.0 548.3h0M673.5 523.5h0M655.3 556.5h0M657.3 487.0h0M629.5 579.7h0"/>
<path stroke="#8a38e0" stroke-width="1.0" d="M626.5 520.3h0M693.5 506.5h0M588.6 504.0h0M636.6 532.4h0M609.7 566.3h0M680.3 548.9h0M700.2 506.8h0M676.2 569.1h0M690.5 566.9h0M657.2 515.4h0M627.8 575.1h0M671.3 509.2h0M674.8 503.4h0M724.6 567.0h0M632.6 469.0h0"/>
<path stroke="#8a38e0" stroke-width="0.8" d="M685.7 555.4h0M662.4 559.5h0M680.3 532.7h0M639.9 492.4h0M657.3 485.4h0M622.0 555.8h0M587.3 511.8h0M653.2 561.0h0M673.2 479.0h0M639.3 550.9h0M690.2 588.9h0M634.1 597.6h0M630.4 543.1h0M656.3 491.7h0M703.6 499.1h0M605.0 538.7h0M679.7 575.1h0M648.7 554.6h0M666.8 572.9h0"/>
<path stroke="#c048e0" stroke-width="0.8" d="M653.8 503.4h0M611.3 545.3h0M592.9 579.4h0M712.1 584.0h0M610.4 519.6h0M697.6 517.5h0M668.8 523.8h0M655.5 582.1h0M695.7 571.7h0M668.0 525.3h0M669.8 557.4h0M662.8 492.2h0M632.1 500.8h0M726.1 504.8h0M696.2 557.4h0M633.4 548.2h0M621.7 477.9h0"/>
<path stroke="#c048e0" stroke-width="1.0" d="M668.5 484.4h0M596.7 527.3h0M652.2 531.4h0M620.1 499.6h0M641.6 532.9h0M652.0 505.8h0M635.8 484.3h0M673.0 579.5h0M696.8 526.9h0M633.2 507.5h0M668.1 557.5h0M649.3 485.7h0M630.1 506.5h0"/>
<path stroke="#d040d8" stroke-width="1.0" d="M627.6 561.7h0M685.2 509.6h0M604.8 540.0h0M633.6 518.8h0M638.2 554.2h0M651.3 536.1h0M651.1 557.3h0M635.9 599.0h0M719.6 534.8h0M615.3 488.3h0M691.0 522.7h0M663.2 552.0h0M644.0 516.4h0M612.3 581.1h0"/>
<path stroke="#d040d8" stroke-width="0.8" d="M618.8 567.9h0M640.9 509.8h0M636.4 596.5h0M710.9 580.9h0M589.8 538.3h0M665.0 514.8h0M674.4 541.0h0M669.5 561.6h0M712.3 548.3h0M641.3 540.1h0M625.1 542.1h0M701.4 579.2h0M653.3 583.9h0M709.6 596.6h0"/>
</g>
<path d="M659.8,513.5 L666,534.8" fill="none" stroke="#2438c8" stroke-width="2.0"/>
</g>
<clipPath id="c20"><rect x="586.6" y="609.6" width="142.6" height="142.7"/></clipPath>
<g clip-path="url(#c20)">
<rect x="586.6" y="609.6" width="142.6" height="142.7" fill="#04021c"/>
<radialGradient id="g21"><stop offset="0" stop-color="#6a1cb0" stop-opacity="0.55"/><stop offset="0.55" stop-color="#6a1cb0" stop-opacity="0.25"/><stop offset="1" stop-color="#6a1cb0" stop-opacity="0"/></radialGradient>
<ellipse cx="657.9" cy="698.1" rx="71.3" ry="59.9" fill="url(#g21)"/>
<radialGradient id="g22"><stop offset="0" stop-color="#22128a" stop-opacity="0.45"/><stop offset="0.55" stop-color="#22128a" stop-opacity="0.20"/><stop offset="1" stop-color="#22128a" stop-opacity="0"/></radialGradient>
<ellipse cx="657.9" cy="659.5" rx="92.7" ry="71.3" fill="url(#g22)"/>
<filter id="nz86327" x="0" y="0" width="1" height="1" color-interpolation-filters="sRGB"><feTurbulence type="fractalNoise" baseFrequency="0.7" numOctaves="2" seed="31"/><feColorMatrix values="0 0 0 0 0.11 0 0 0 0 0.09 0 0 0 0 0.68 2.2 0 0 0 -1.28"/></filter>
<rect x="586.6" y="609.6" width="142.6" height="142.7" filter="url(#nz86327)"/>
<filter id="nz78760" x="0" y="0" width="1" height="1" color-interpolation-filters="sRGB"><feTurbulence type="fractalNoise" baseFrequency="0.7" numOctaves="2" seed="131"/><feColorMatrix values="0 0 0 0 0.8 0 0 0 0 0.22 0 0 0 0 0.85 3.0 0 0 0 -2.05"/></filter>
<rect x="586.6" y="609.6" width="142.6" height="142.7" filter="url(#nz78760)"/>
<g opacity="0.75" stroke-linecap="round" fill="none">
<path stroke="#8a38e0" stroke-width="0.8" d="M684.1 629.4h0M655.3 702.5h0M677.3 615.0h0M687.8 681.4h0M640.7 717.7h0M726.8 723.3h0M657.4 744.1h0M659.9 632.7h0M687.2 738.0h0M688.0 699.8h0M592.7 705.5h0M657.4 702.7h0M697.2 643.8h0M695.3 694.8h0M684.4 710.2h0M671.5 707.8h0M655.2 655.0h0M673.2 730.3h0M635.8 708.8h0"/>
<path stroke="#8a38e0" stroke-width="1.0" d="M644.1 637.9h0M633.1 662.6h0M655.0 680.9h0M701.1 672.4h0M654.0 720.3h0M635.5 701.8h0M639.7 735.4h0M613.4 739.4h0M671.5 716.2h0M652.7 675.6h0M656.7 702.5h0M693.5 722.8h0M650.6 693.9h0M608.1 639.0h0M637.0 655.7h0M715.8 665.2h0M659.1 686.3h0M626.5 702.6h0"/>
<path stroke="#d040d8" stroke-width="1.0" d="M706.2 660.3h0M679.2 751.1h0M691.1 639.2h0M708.1 653.6h0M683.9 693.0h0M681.2 636.4h0M662.2 694.3h0M650.1 644.5h0M720.4 732.0h0M690.5 637.7h0M687.1 705.0h0M599.1 670.5h0M670.9 635.7h0"/>
<path stroke="#c048e0" stroke-width="1.2" d="M655.3 647.2h0M691.4 727.6h0M671.4 687.0h0M618.9 674.7h0M663.5 713.3h0M711.1 708.2h0M665.9 730.1h0M714.0 680.1h0M699.9 711.2h0M675.2 697.3h0M630.1 683.4h0M620.4 664.7h0M673.1 747.4h0M646.0 746.4h0M716.1 706.0h0M614.3 670.6h0M672.7 699.1h0M638.8 675.8h0M629.0 714.1h0"/>
<path stroke="#d040d8" stroke-width="1.2" d="M666.7 626.4h0M693.3 701.8h0M654.3 685.8h0M647.3 747.5h0M630.0 672.3h0M670.8 699.3h0M660.2 710.5h0M627.3 629.5h0M668.4 724.4h0M670.5 745.0h0M688.4 713.7h0M648.3 710.4h0M629.2 629.8h0M657.3 656.0h0M682.3 719.7h0M634.0 672.5h0M679.5 728.3h0"/>
<path stroke="#8a38e0" stroke-width="1.2" d="M727.8 631.3h0M684.9 688.7h0M661.5 688.5h0M675.6 716.6h0M647.0 731.4h0M722.8 665.8h0M663.8 738.1h0M701.8 664.3h0M641.3 692.2h0M614.6 729.2h0M668.2 701.0h0M668.9 699.9h0M663.7 715.9h0M687.1 670.3h0M657.3 671.3h0M707.5 652.1h0M672.0 714.6h0"/>
<path stroke="#c048e0" stroke-width="0.8" d="M673.1 680.6h0M647.3 711.1h0M629.0 677.2h0M699.5 666.4h0M656.7 752.0h0M663.4 672.4h0M690.3 658.0h0M707.5 659.2h0M682.3 737.7h0M593.0 690.3h0M666.2 622.0h0M640.3 728.1h0M703.1 751.7h0M672.9 645.2h0M699.7 717.1h0M655.8 671.1h0M694.6 625.8h0M646.8 716.2h0M671.6 707.3h0M661.7 681.2h0"/>
<path stroke="#d040d8" stroke-width="0.8" d="M656.4 721.1h0M620.7 646.4h0M630.8 704.4h0M672.1 725.7h0M694.0 666.3h0M653.3 706.3h0M642.9 659.8h0M677.9 660.5h0M646.6 636.0h0M709.2 665.0h0M635.9 704.4h0M612.6 751.9h0M627.5 713.4h0"/>
<path stroke="#c048e0" stroke-width="1.0" d="M641.4 637.9h0M656.8 653.3h0M620.7 730.6h0M691.5 739.5h0M614.6 701.6h0M710.7 677.6h0M670.0 635.0h0M645.6 652.1h0M685.7 698.8h0M660.7 702.5h0M602.3 711.4h0M643.6 711.2h0M708.1 726.8h0M649.4 639.3h0"/>
</g>
<path d="M656,683 L666,683 M661,683 L661,694" fill="none" stroke="#2a40e0" stroke-width="2.2"/>
</g>
<clipPath id="c23"><rect x="586.6" y="459.1" width="142.6" height="142.7"/></clipPath><g clip-path="url(#c23)">
<path d="M662.2,593.5 C659.1,591.0 649.8,583.1 643.5,578.5 C637.2,573.9 631.8,570.4 624.8,566.0 C617.7,561.6 606.0,558.1 601.0,552.2 C596.0,546.4 595.0,538.7 594.8,531.0 C594.5,523.3 595.4,514.1 599.8,506.0 C604.1,497.9 612.5,488.1 621.0,482.2 C629.5,476.4 641.0,472.7 651.0,471.0 C661.0,469.3 671.8,470.6 681.0,472.2 C690.2,473.9 698.9,477.0 706.0,481.0 C713.1,485.0 719.7,491.0 723.5,496.0 C727.3,501.0 728.4,506.0 729.0,511.0 C729.6,516.0 729.0,521.0 727.2,526.0 C725.5,531.0 722.0,534.8 718.5,541.0 C715.0,547.2 709.3,556.6 706.0,563.5 C702.7,570.4 699.8,579.1 698.5,582.2" fill="none" stroke="#f7f4fb" stroke-width="1.2"/>
<path d="M621.0,482.2 C623.7,485.8 633.3,498.5 637.2,503.5 C641.2,508.5 643.5,510.8 644.8,512.2" fill="none" stroke="#f2eef8" stroke-width="1.0" stroke-dasharray="4.6 2.6"/>
<path d="M644.8,514.0 C641.6,513.8 633.3,514.3 626.0,513.0 C618.7,511.7 605.2,507.2 601.0,506.0" fill="none" stroke="#f2eef8" stroke-width="1.0" stroke-dasharray="4.6 2.6"/>
<path d="M676.0,473.5 C675.2,476.8 671.8,487.9 671.0,493.5 C670.2,499.1 671.4,505.0 671.5,507.2" fill="none" stroke="#f2eef8" stroke-width="1.0" stroke-dasharray="4.6 2.6"/>
<path d="M673.5,507.2 C676.0,506.3 682.9,505.1 688.5,501.5 C694.1,497.9 704.1,488.2 707.2,485.5" fill="none" stroke="#f2eef8" stroke-width="1.0" stroke-dasharray="4.6 2.6"/>
<path d="M624.8,566.0 C626.2,564.3 629.5,558.3 633.5,556.0 C637.5,553.7 643.9,551.8 648.5,552.2 C653.1,552.7 658.1,555.2 661.0,558.5 C663.9,561.8 666.2,567.7 666.0,572.2 C665.8,576.8 660.8,583.7 659.8,586.0" fill="none" stroke="#f2eef8" stroke-width="1.0" stroke-dasharray="4.6 2.6"/>
<path d="M719.8,534.8 C717.5,534.3 710.8,531.6 706.0,532.2 C701.2,532.9 694.5,535.0 691.0,538.5 C687.5,542.0 685.2,548.9 684.8,553.5 C684.3,558.1 686.2,562.9 688.5,566.0 C690.8,569.1 696.8,571.2 698.5,572.2" fill="none" stroke="#f2eef8" stroke-width="1.0" stroke-dasharray="4.6 2.6"/>
<text font-size="14.5" fill="#f4f0fa" transform="translate(630.0,493.5) rotate(-14)" stroke="#f4f0fa" stroke-width="0.22">DMPAG</text>
<text font-size="14.5" fill="#f4f0fa" transform="translate(606.0,546.0) rotate(-14)" stroke="#f4f0fa" stroke-width="0.22">LPAG</text>
<text font-size="14.5" fill="#f4f0fa" transform="translate(646.0,562.0) rotate(14)" stroke="#f4f0fa" stroke-width="0.22">Dk</text>
</g>
<clipPath id="c24"><rect x="586.6" y="609.6" width="142.6" height="142.7"/></clipPath><g clip-path="url(#c24)">
<path d="M641.5,752.2 C640.2,750.0 638.2,743.7 633.5,738.5 C628.8,733.3 620.0,726.8 613.5,721.0 C607.0,715.2 598.7,709.8 594.8,703.5 C590.8,697.2 589.5,691.0 589.8,683.5 C590.0,676.0 591.6,666.0 596.0,658.5 C600.4,651.0 607.7,643.5 616.0,638.5 C624.3,633.5 636.0,629.8 646.0,628.5 C656.0,627.2 666.8,628.5 676.0,631.0 C685.2,633.5 693.5,638.1 701.0,643.5 C708.5,648.9 716.6,656.8 721.0,663.5 C725.4,670.2 726.8,677.2 727.2,683.5 C727.7,689.8 727.0,695.2 723.5,701.0 C720.0,706.8 712.2,712.2 706.0,718.5 C699.8,724.8 690.6,732.9 686.0,738.5 C681.4,744.1 679.8,750.0 678.5,752.2" fill="none" stroke="#f7f4fb" stroke-width="1.2"/>
<path d="M632.2,633.5 C633.1,636.8 635.2,647.3 637.2,653.5 C639.3,659.7 643.5,667.7 644.8,670.5" fill="none" stroke="#f2eef8" stroke-width="1.0" stroke-dasharray="4.6 2.6"/>
<path d="M644.0,671.8 C641.0,670.8 632.8,669.0 626.0,666.0 C619.2,663.0 607.2,656.0 603.5,654.0" fill="none" stroke="#f2eef8" stroke-width="1.0" stroke-dasharray="4.6 2.6"/>
<path d="M686.0,637.2 C684.3,640.4 678.3,650.4 676.0,656.0 C673.7,661.6 672.9,668.5 672.2,671.0" fill="none" stroke="#f2eef8" stroke-width="1.0" stroke-dasharray="4.6 2.6"/>
<path d="M673.5,672.2 C676.4,671.4 684.5,669.3 691.0,667.2 C697.5,665.2 708.7,661.0 712.2,659.8" fill="none" stroke="#f2eef8" stroke-width="1.0" stroke-dasharray="4.6 2.6"/>
<path d="M613.5,716.0 C615.6,715.0 621.6,710.4 626.0,709.8 C630.4,709.1 635.8,710.0 639.8,712.2 C643.7,714.5 648.3,719.5 649.8,723.5 C651.2,727.5 650.2,732.7 648.5,736.0 C646.8,739.3 641.2,742.2 639.8,743.5" fill="none" stroke="#f2eef8" stroke-width="1.0" stroke-dasharray="4.6 2.6"/>
<path d="M711.0,711.0 C708.5,710.0 701.0,705.2 696.0,704.8 C691.0,704.3 685.0,705.8 681.0,708.5 C677.0,711.2 673.3,716.8 672.2,721.0 C671.2,725.2 673.1,730.2 674.8,733.5 C676.4,736.8 681.0,739.3 682.2,740.5" fill="none" stroke="#f2eef8" stroke-width="1.0" stroke-dasharray="4.6 2.6"/>
<text x="633.0" y="645.5" font-size="14.5" fill="#f4f0fa" stroke="#f4f0fa" stroke-width="0.22">DMPAG</text>
<text x="597.3" y="691.5" font-size="14.5" fill="#f4f0fa" stroke="#f4f0fa" stroke-width="0.22">LPAG</text>
<text x="631.5" y="724.8" font-size="14.5" fill="#f4f0fa" stroke="#f4f0fa" stroke-width="0.22">Dk</text>
</g>
<clipPath id="c25"><rect x="738.0" y="459.1" width="142.6" height="142.7"/></clipPath>
<g clip-path="url(#c25)">
<rect x="738.0" y="459.1" width="142.6" height="142.7" fill="#04021a"/>
<radialGradient id="g26"><stop offset="0" stop-color="#5a1aa0" stop-opacity="0.5"/><stop offset="0.55" stop-color="#5a1aa0" stop-opacity="0.23"/><stop offset="1" stop-color="#5a1aa0" stop-opacity="0"/></radialGradient>
<ellipse cx="797.9" cy="523.3" rx="57.0" ry="42.8" fill="url(#g26)"/>
<radialGradient id="g27"><stop offset="0" stop-color="#1a1488" stop-opacity="0.45"/><stop offset="0.55" stop-color="#1a1488" stop-opacity="0.20"/><stop offset="1" stop-color="#1a1488" stop-opacity="0"/></radialGradient>
<ellipse cx="809.3" cy="566.1" rx="114.1" ry="64.2" fill="url(#g27)"/>
<filter id="nz2290" x="0" y="0" width="1" height="1" color-interpolation-filters="sRGB"><feTurbulence type="fractalNoise" baseFrequency="0.7" numOctaves="2" seed="40"/><feColorMatrix values="0 0 0 0 0.11 0 0 0 0 0.09 0 0 0 0 0.68 2.2 0 0 0 -1.28"/></filter>
<rect x="738.0" y="459.1" width="142.6" height="142.7" filter="url(#nz2290)"/>
<filter id="nz20942" x="0" y="0" width="1" height="1" color-interpolation-filters="sRGB"><feTurbulence type="fractalNoise" baseFrequency="0.7" numOctaves="2" seed="140"/><feColorMatrix values="0 0 0 0 0.8 0 0 0 0 0.22 0 0 0 0 0.85 3.0 0 0 0 -2.05"/></filter>
<rect x="738.0" y="459.1" width="142.6" height="142.7" filter="url(#nz20942)"/>
<g opacity="0.75" stroke-linecap="round" fill="none">
<path stroke="#7030d0" stroke-width="1.0" d="M803.4 584.4h0M812.6 544.8h0M843.9 521.9h0M871.2 562.3h0M795.3 549.1h0M862.7 531.1h0M797.3 543.1h0M862.8 554.4h0M841.8 465.5h0M807.3 505.5h0M811.8 549.0h0M819.8 490.0h0M843.8 488.7h0M772.7 522.1h0M794.0 552.3h0"/>
<path stroke="#c048e0" stroke-width="1.0" d="M875.2 553.9h0M782.2 533.4h0M858.0 518.5h0M781.2 515.3h0M805.1 526.5h0M797.4 518.5h0M833.3 533.0h0"/>
<path stroke="#c040d8" stroke-width="1.2" d="M863.5 522.0h0M812.1 493.4h0M800.3 574.2h0M837.3 551.7h0M818.3 505.5h0M818.2 525.2h0M817.1 584.1h0M796.8 522.0h0M855.3 493.2h0M821.2 565.5h0M806.1 575.9h0"/>
<path stroke="#7030d0" stroke-width="1.2" d="M782.7 494.8h0M826.3 495.7h0M738.6 481.8h0M812.9 548.6h0M814.2 552.9h0M783.6 545.4h0M838.5 530.6h0M841.2 462.5h0M821.0 540.9h0M794.0 504.8h0M780.8 532.3h0M821.5 516.5h0"/>
<path stroke="#c048e0" stroke-width="0.8" d="M856.7 585.1h0M818.0 541.1h0M807.0 557.0h0M790.9 526.2h0M801.7 511.8h0M789.8 553.3h0M777.5 509.9h0M861.2 515.2h0M835.7 475.7h0M793.6 591.1h0M788.8 566.7h0M742.8 494.9h0M790.7 479.8h0"/>
<path stroke="#7030d0" stroke-width="0.8" d="M808.2 532.8h0M769.4 512.4h0M864.3 514.1h0M769.2 541.5h0M817.8 545.4h0M843.3 543.9h0M777.9 557.8h0M741.6 537.2h0M801.0 542.0h0M790.7 557.0h0M790.0 530.3h0M761.8 512.4h0"/>
<path stroke="#c040d8" stroke-width="1.0" d="M781.2 486.4h0M819.7 562.9h0M763.8 550.9h0M819.7 501.1h0M771.0 528.5h0M789.3 566.5h0M782.4 506.1h0M751.8 542.9h0M811.1 549.8h0M796.2 548.9h0M820.0 540.5h0M798.6 534.1h0M768.1 537.0h0M758.1 518.8h0M823.7 479.2h0"/>
<path stroke="#c040d8" stroke-width="0.8" d="M762.4 502.7h0M846.0 518.8h0M806.9 571.6h0M814.6 530.6h0M833.9 503.2h0M762.5 539.4h0M809.6 543.6h0M793.7 588.0h0M822.7 600.0h0M807.9 510.0h0M832.4 574.0h0M756.3 502.2h0"/>
<path stroke="#c048e0" stroke-width="1.2" d="M782.3 532.2h0M775.7 563.3h0M750.1 497.2h0M784.4 520.4h0M794.0 469.5h0M852.3 572.0h0M829.8 529.2h0M773.9 549.9h0M868.8 490.0h0M849.5 543.6h0M820.0 510.1h0M862.7 522.8h0M772.8 501.7h0"/>
</g>
<path d="M828.0,459.1 L880.6,459.1 L880.6,519.1 C863.0,505.1 838.0,495.1 830.0,483.1 Z" fill="#010005"/>
</g>
<clipPath id="c28"><rect x="738.0" y="609.6" width="142.6" height="142.7"/></clipPath>
<g clip-path="url(#c28)">
<rect x="738.0" y="609.6" width="142.6" height="142.7" fill="#04021c"/>
<radialGradient id="g29"><stop offset="0" stop-color="#6a1cb0" stop-opacity="0.65"/><stop offset="0.55" stop-color="#6a1cb0" stop-opacity="0.29"/><stop offset="1" stop-color="#6a1cb0" stop-opacity="0"/></radialGradient>
<ellipse cx="802.2" cy="678.1" rx="64.2" ry="42.8" fill="url(#g29)"/>
<radialGradient id="g30"><stop offset="0" stop-color="#18148a" stop-opacity="0.5"/><stop offset="0.55" stop-color="#18148a" stop-opacity="0.23"/><stop offset="1" stop-color="#18148a" stop-opacity="0"/></radialGradient>
<ellipse cx="837.8" cy="638.1" rx="57.0" ry="42.8" fill="url(#g30)"/>
<radialGradient id="g31"><stop offset="0" stop-color="#14107a" stop-opacity="0.4"/><stop offset="0.55" stop-color="#14107a" stop-opacity="0.18"/><stop offset="1" stop-color="#14107a" stop-opacity="0"/></radialGradient>
<ellipse cx="823.6" cy="723.8" rx="85.6" ry="57.1" fill="url(#g31)"/>
<filter id="nz13422" x="0" y="0" width="1" height="1" color-interpolation-filters="sRGB"><feTurbulence type="fractalNoise" baseFrequency="0.7" numOctaves="2" seed="41"/><feColorMatrix values="0 0 0 0 0.11 0 0 0 0 0.09 0 0 0 0 0.68 2.2 0 0 0 -1.28"/></filter>
<rect x="738.0" y="609.6" width="142.6" height="142.7" filter="url(#nz13422)"/>
<filter id="nz67110" x="0" y="0" width="1" height="1" color-interpolation-filters="sRGB"><feTurbulence type="fractalNoise" baseFrequency="0.7" numOctaves="2" seed="141"/><feColorMatrix values="0 0 0 0 0.8 0 0 0 0 0.22 0 0 0 0 0.85 3.0 0 0 0 -2.05"/></filter>
<rect x="738.0" y="609.6" width="142.6" height="142.7" filter="url(#nz67110)"/>
<g opacity="0.75" stroke-linecap="round" fill="none">
<path stroke="#7030d0" stroke-width="1.0" d="M792.3 642.5h0M778.2 714.5h0M753.1 665.1h0M849.2 659.0h0M780.2 662.3h0M812.3 713.3h0M744.6 662.4h0M802.2 663.1h0M774.2 684.9h0M790.3 672.3h0M835.6 693.2h0M854.1 693.1h0M784.2 704.8h0M782.5 708.8h0M815.6 701.4h0"/>
<path stroke="#7030d0" stroke-width="0.8" d="M859.5 718.5h0M763.5 710.7h0M775.2 643.8h0M815.1 676.6h0M739.4 687.5h0M812.3 657.5h0M817.1 666.8h0M870.3 715.8h0M813.6 668.2h0M794.0 652.2h0M774.7 659.7h0"/>
<path stroke="#d040d8" stroke-width="0.8" d="M805.8 688.8h0M832.6 680.0h0M768.5 641.8h0M778.5 646.6h0M760.9 674.9h0M832.8 669.5h0M874.7 748.3h0M793.3 628.9h0M851.5 646.2h0M833.5 616.9h0M749.6 667.4h0M751.9 665.1h0M835.9 702.6h0M826.3 622.9h0M762.3 700.1h0M744.1 699.5h0M767.8 676.8h0M802.1 688.6h0"/>
<path stroke="#c048e0" stroke-width="0.8" d="M783.3 698.1h0M772.1 681.0h0M852.5 655.6h0M819.0 712.5h0M803.3 687.0h0M775.9 722.7h0M771.7 673.1h0M829.7 650.5h0M849.8 734.8h0M829.9 619.0h0M753.7 649.6h0M829.9 680.0h0M754.5 689.4h0M872.9 685.8h0M835.8 620.7h0M863.8 687.1h0M806.1 631.0h0M798.8 725.5h0M810.9 649.9h0M871.7 692.4h0M800.1 668.2h0M778.6 708.2h0M832.2 715.2h0"/>
<path stroke="#d040d8" stroke-width="1.2" d="M757.8 619.0h0M760.5 703.9h0M873.7 668.7h0M839.7 685.3h0M791.2 684.5h0M835.8 669.0h0M847.1 644.8h0M841.4 668.8h0M759.1 670.0h0M749.8 731.2h0M796.0 701.0h0M758.6 701.7h0M840.5 665.4h0"/>
<path stroke="#c048e0" stroke-width="1.2" d="M796.9 710.9h0M769.5 661.4h0M841.7 664.7h0M797.7 686.2h0M867.9 674.0h0M833.3 663.8h0M782.2 643.7h0M827.4 643.1h0M815.5 742.5h0M796.2 672.8h0M829.4 626.0h0M771.5 630.0h0M822.1 692.2h0M850.3 643.9h0M797.9 695.9h0M846.8 669.8h0M780.8 615.6h0"/>
<path stroke="#d040d8" stroke-width="1.0" d="M794.0 660.5h0M778.4 741.8h0M806.4 659.1h0M809.8 642.3h0M857.1 666.9h0M806.7 619.3h0M742.1 665.5h0M738.0 621.1h0M827.6 667.7h0M803.5 639.3h0M778.4 662.0h0M846.8 637.5h0M775.7 695.3h0M789.5 718.6h0M831.3 741.5h0M754.9 678.5h0M794.5 666.9h0M838.1 658.9h0"/>
<path stroke="#c048e0" stroke-width="1.0" d="M833.0 708.6h0M764.0 677.3h0M767.5 744.2h0M760.8 727.9h0M750.0 682.3h0M799.8 674.9h0M770.9 659.0h0M740.5 672.6h0M835.0 683.9h0M777.4 673.8h0M776.7 736.2h0M852.5 717.7h0M739.7 738.3h0M812.9 663.2h0M793.7 694.9h0M781.4 663.4h0M756.9 653.2h0M859.4 725.4h0M810.2 651.8h0M783.0 691.3h0M795.9 668.8h0M825.3 683.4h0"/>
<path stroke="#7030d0" stroke-width="1.2" d="M799.5 648.2h0M739.0 680.1h0M828.8 698.0h0M825.3 648.4h0M758.6 631.3h0M808.9 695.3h0M776.3 650.4h0M770.7 696.9h0M752.4 626.1h0M767.4 650.5h0M757.8 684.2h0M765.6 735.8h0M781.8 618.1h0"/>
</g>
<path d="M740.0,619.6 C752.0,629.6 758.0,649.6 754.0,673.6 C746.0,679.6 742.0,659.6 740.0,619.6 Z" fill="#020008"/>
</g>
<ellipse cx="788.5" cy="539.8" rx="37.5" ry="26.5" fill="none" stroke="#f2eef8" stroke-width="1.1" stroke-dasharray="4.2 2.6" transform="rotate(-4 788.5 539.8)"/>
<path d="M749.0,554.8 C749.8,553.1 759.0,546.4 766.0,542.2 C773.0,538.1 784.5,533.6 791.0,529.8 C797.5,525.9 800.6,521.2 804.8,519.0 C808.9,516.8 812.7,516.0 816.0,516.5 C819.3,517.0 823.1,519.6 824.8,522.2 C826.4,524.9 827.5,530.6 826.0,532.2 C824.5,533.9 820.2,532.0 816.0,532.2 C811.8,532.5 806.8,531.6 801.0,533.5 C795.2,535.4 787.7,540.4 781.0,543.5 C774.3,546.6 766.3,550.4 761.0,552.2 C755.7,554.1 748.2,556.4 749.0,554.8 Z" fill="none" stroke="#f7f4fb" stroke-width="1.2"/>
<text x="738.0" y="533.0" font-size="14.8" fill="#f4f0fa" stroke="#f4f0fa" stroke-width="0.22">LPBN</text>
<text x="787.3" y="562.8" font-size="14.8" fill="#f4f0fa" stroke="#f4f0fa" stroke-width="0.22">MPBN</text>
<ellipse cx="788.5" cy="704" rx="37.5" ry="29" fill="none" stroke="#f2eef8" stroke-width="1.1" stroke-dasharray="4.2 2.6" transform="rotate(-4 788.5 704)"/>
<path d="M752.2,724.0 C753.1,722.1 762.0,714.4 768.5,709.8 C775.0,705.1 785.2,700.3 791.0,696.0 C796.8,691.7 799.8,686.7 803.5,684.0 C807.2,681.3 810.2,679.8 813.5,679.8 C816.8,679.7 821.4,681.0 823.5,683.5 C825.6,686.0 827.2,692.7 826.0,694.8 C824.8,696.8 820.2,695.4 816.0,696.0 C811.8,696.6 806.8,696.2 801.0,698.5 C795.2,700.8 787.2,706.0 781.0,709.8 C774.8,713.5 768.3,718.6 763.5,721.0 C758.7,723.4 751.4,725.9 752.2,724.0 Z" fill="none" stroke="#f7f4fb" stroke-width="1.2"/>
<text x="738.5" y="704.0" font-size="14.8" fill="#f4f0fa" stroke="#f4f0fa" stroke-width="0.22">LPBN</text>
<text x="788.5" y="729.8" font-size="14.8" fill="#f4f0fa" stroke="#f4f0fa" stroke-width="0.22">MPBN</text>
<clipPath id="c32"><rect x="887.8" y="459.1" width="142.6" height="142.7"/></clipPath>
<g clip-path="url(#c32)">
<rect x="887.8" y="459.1" width="142.6" height="142.7" fill="#04021a"/>
<radialGradient id="g33"><stop offset="0" stop-color="#4a1898" stop-opacity="0.55"/><stop offset="0.55" stop-color="#4a1898" stop-opacity="0.25"/><stop offset="1" stop-color="#4a1898" stop-opacity="0"/></radialGradient>
<ellipse cx="987.6" cy="516.2" rx="57.0" ry="49.9" fill="url(#g33)"/>
<radialGradient id="g34"><stop offset="0" stop-color="#1a1488" stop-opacity="0.4"/><stop offset="0.55" stop-color="#1a1488" stop-opacity="0.18"/><stop offset="1" stop-color="#1a1488" stop-opacity="0"/></radialGradient>
<ellipse cx="930.6" cy="501.9" rx="71.3" ry="71.3" fill="url(#g34)"/>
<radialGradient id="g35"><stop offset="0" stop-color="#120e70" stop-opacity="0.4"/><stop offset="0.55" stop-color="#120e70" stop-opacity="0.18"/><stop offset="1" stop-color="#120e70" stop-opacity="0"/></radialGradient>
<ellipse cx="973.4" cy="573.3" rx="85.6" ry="57.1" fill="url(#g35)"/>
<filter id="nz22512" x="0" y="0" width="1" height="1" color-interpolation-filters="sRGB"><feTurbulence type="fractalNoise" baseFrequency="0.7" numOctaves="2" seed="50"/><feColorMatrix values="0 0 0 0 0.11 0 0 0 0 0.09 0 0 0 0 0.68 2.2 0 0 0 -1.28"/></filter>
<rect x="887.8" y="459.1" width="142.6" height="142.7" filter="url(#nz22512)"/>
<filter id="nz18591" x="0" y="0" width="1" height="1" color-interpolation-filters="sRGB"><feTurbulence type="fractalNoise" baseFrequency="0.7" numOctaves="2" seed="150"/><feColorMatrix values="0 0 0 0 0.8 0 0 0 0 0.22 0 0 0 0 0.85 3.0 0 0 0 -2.05"/></filter>
<rect x="887.8" y="459.1" width="142.6" height="142.7" filter="url(#nz18591)"/>
<g opacity="0.75" stroke-linecap="round" fill="none">
<path stroke="#7030d0" stroke-width="0.8" d="M958.7 497.1h0M977.1 557.9h0M981.2 463.6h0M927.8 538.5h0M1000.1 508.3h0M966.4 495.1h0M1009.3 536.0h0M916.4 517.7h0M997.1 491.5h0M1005.4 533.6h0M983.3 514.0h0M935.0 493.5h0"/>
<path stroke="#c040d8" stroke-width="1.0" d="M955.3 597.6h0M1011.6 491.1h0M956.3 498.1h0M1016.0 556.3h0M956.5 495.1h0M967.3 476.5h0M1003.4 564.9h0"/>
<path stroke="#c048e0" stroke-width="0.8" d="M984.3 471.3h0M1019.5 573.8h0M948.2 475.9h0M963.1 543.6h0M944.4 515.5h0M954.5 561.7h0M958.3 571.8h0M1014.0 507.2h0M949.7 508.0h0M1018.2 524.5h0"/>
<path stroke="#c048e0" stroke-width="1.0" d="M979.5 520.5h0M951.1 550.3h0M943.5 536.6h0M960.1 463.5h0M924.5 530.2h0M975.8 473.8h0M942.6 507.3h0M935.9 468.6h0M974.4 535.0h0M985.1 572.2h0M988.4 471.9h0M1015.3 523.7h0M1020.6 494.1h0M981.5 477.3h0M1012.5 490.5h0M896.3 566.9h0M899.6 568.2h0"/>
<path stroke="#7030d0" stroke-width="1.2" d="M1025.6 529.9h0M1006.0 573.7h0M932.7 513.2h0M956.9 525.5h0M989.0 526.0h0M955.4 462.2h0M992.3 520.2h0M989.3 530.1h0M919.7 498.2h0M980.2 579.5h0M944.6 559.0h0M1013.5 564.4h0M1018.2 565.8h0M986.8 527.6h0M934.1 525.2h0M995.4 572.3h0"/>
<path stroke="#c040d8" stroke-width="0.8" d="M945.3 510.8h0M1028.7 553.2h0M1008.2 509.8h0M1023.5 490.0h0M931.6 526.8h0M980.5 517.6h0M948.7 519.7h0M1006.1 534.6h0M989.8 538.2h0M942.0 513.8h0M997.5 486.2h0M988.6 489.0h0M946.0 472.8h0M904.9 475.2h0M951.0 501.7h0"/>
<path stroke="#c040d8" stroke-width="1.2" d="M970.4 560.1h0M965.6 474.0h0M1020.0 566.9h0M960.8 521.6h0M968.8 494.2h0M997.1 464.6h0M1016.9 508.2h0M967.1 529.1h0M962.1 514.0h0M981.4 497.7h0"/>
<path stroke="#7030d0" stroke-width="1.0" d="M905.3 539.0h0M963.9 526.7h0M944.8 535.2h0M1022.9 497.6h0M1002.0 492.2h0M959.0 556.9h0M1022.1 571.3h0M963.0 579.8h0M959.4 514.7h0M981.6 526.7h0M935.6 510.9h0M959.5 542.8h0"/>
<path stroke="#c048e0" stroke-width="1.2" d="M976.8 462.5h0M983.1 514.3h0M1020.6 558.4h0M994.9 510.9h0M1013.2 530.4h0M997.6 556.0h0M947.6 512.0h0M970.2 543.0h0M1018.6 500.5h0M1002.4 526.4h0M956.1 494.9h0M995.6 512.6h0M1002.6 497.9h0M976.6 497.6h0M913.0 551.2h0M961.0 483.8h0M957.9 537.7h0M943.3 532.7h0M986.9 500.4h0M929.0 590.1h0M978.9 521.4h0"/>
</g>
<path d="M986,531 L992,537 L984,541 Z" fill="#e030d8"/>
</g>
<clipPath id="c36"><rect x="887.8" y="609.6" width="142.6" height="142.7"/></clipPath>
<g clip-path="url(#c36)">
<rect x="887.8" y="609.6" width="142.6" height="142.7" fill="#04021a"/>
<radialGradient id="g37"><stop offset="0" stop-color="#4a1898" stop-opacity="0.55"/><stop offset="0.55" stop-color="#4a1898" stop-opacity="0.25"/><stop offset="1" stop-color="#4a1898" stop-opacity="0"/></radialGradient>
<ellipse cx="959.1" cy="673.8" rx="64.2" ry="49.9" fill="url(#g37)"/>
<radialGradient id="g38"><stop offset="0" stop-color="#1a1488" stop-opacity="0.4"/><stop offset="0.55" stop-color="#1a1488" stop-opacity="0.18"/><stop offset="1" stop-color="#1a1488" stop-opacity="0"/></radialGradient>
<ellipse cx="1001.9" cy="638.1" rx="42.8" ry="42.8" fill="url(#g38)"/>
<radialGradient id="g39"><stop offset="0" stop-color="#120e70" stop-opacity="0.4"/><stop offset="0.55" stop-color="#120e70" stop-opacity="0.18"/><stop offset="1" stop-color="#120e70" stop-opacity="0"/></radialGradient>
<ellipse cx="944.8" cy="723.8" rx="99.8" ry="57.1" fill="url(#g39)"/>
<filter id="nz49844" x="0" y="0" width="1" height="1" color-interpolation-filters="sRGB"><feTurbulence type="fractalNoise" baseFrequency="0.7" numOctaves="2" seed="51"/><feColorMatrix values="0 0 0 0 0.11 0 0 0 0 0.09 0 0 0 0 0.68 2.2 0 0 0 -1.28"/></filter>
<rect x="887.8" y="609.6" width="142.6" height="142.7" filter="url(#nz49844)"/>
<filter id="nz41582" x="0" y="0" width="1" height="1" color-interpolation-filters="sRGB"><feTurbulence type="fractalNoise" baseFrequency="0.7" numOctaves="2" seed="151"/><feColorMatrix values="0 0 0 0 0.8 0 0 0 0 0.22 0 0 0 0 0.85 3.0 0 0 0 -2.05"/></filter>
<rect x="887.8" y="609.6" width="142.6" height="142.7" filter="url(#nz41582)"/>
<g opacity="0.75" stroke-linecap="round" fill="none">
<path stroke="#7030d0" stroke-width="0.8" d="M922.5 681.3h0M912.7 750.3h0M925.0 665.4h0M981.1 657.5h0M1004.0 673.3h0M920.0 671.5h0M997.9 660.2h0M992.2 621.6h0M934.4 668.1h0M931.3 709.3h0M968.5 675.4h0M952.3 729.8h0M919.9 731.3h0M893.2 656.1h0"/>
<path stroke="#7030d0" stroke-width="1.0" d="M953.9 708.9h0M961.8 672.4h0M979.6 686.6h0M1006.2 729.3h0M1015.3 748.7h0M931.6 673.7h0M920.4 718.3h0M1018.4 628.1h0M1028.1 671.5h0M995.5 626.4h0M970.0 690.2h0M993.1 677.0h0M907.1 636.3h0M944.2 658.7h0M888.4 621.3h0"/>
<path stroke="#c040d8" stroke-width="1.2" d="M982.0 664.8h0M999.7 625.6h0M957.1 621.7h0M960.6 633.8h0M925.8 656.2h0M976.1 650.3h0M923.8 699.0h0M975.6 665.1h0M967.5 659.6h0M1016.1 676.7h0M1025.9 645.9h0M929.8 710.8h0M979.9 741.3h0M1013.7 683.6h0"/>
<path stroke="#c048e0" stroke-width="1.2" d="M955.9 725.8h0M967.8 732.0h0M934.8 674.9h0M1020.0 693.8h0M1020.5 652.1h0M901.3 610.9h0M967.3 664.2h0M978.9 655.8h0M916.0 671.5h0M989.4 656.1h0M969.1 648.7h0M980.9 646.0h0M981.3 696.6h0M916.7 672.5h0M988.6 656.1h0M953.4 670.9h0M939.3 636.8h0M988.7 619.0h0M937.2 653.8h0M1022.5 702.2h0"/>
<path stroke="#c040d8" stroke-width="1.0" d="M949.8 668.8h0M1001.2 677.3h0M960.8 666.9h0M965.9 642.5h0M991.0 669.3h0M958.3 695.4h0M988.1 695.3h0M964.2 663.7h0M956.0 690.4h0M950.3 669.9h0M961.8 632.8h0M926.0 748.8h0M1008.0 722.1h0M932.6 673.9h0"/>
<path stroke="#7030d0" stroke-width="1.2" d="M950.2 673.3h0M942.8 655.3h0M996.1 716.3h0M957.8 668.3h0M1002.9 651.7h0M950.5 692.3h0M972.2 627.9h0"/>
<path stroke="#c048e0" stroke-width="0.8" d="M956.8 685.9h0M964.6 669.2h0M1030.2 729.5h0M975.9 653.7h0M956.1 722.3h0M1011.0 649.1h0M1024.0 703.2h0M939.9 647.0h0M956.6 721.6h0M950.6 649.2h0M981.8 676.0h0"/>
<path stroke="#c040d8" stroke-width="0.8" d="M934.6 693.7h0M980.0 675.5h0M977.1 653.7h0M946.0 701.5h0M930.0 664.1h0M1012.0 692.1h0M988.8 694.9h0M968.3 725.1h0M929.4 716.4h0M932.6 655.7h0M991.3 642.3h0M1026.6 653.5h0"/>
<path stroke="#c048e0" stroke-width="1.0" d="M957.9 652.5h0M989.6 628.6h0M926.2 658.8h0M981.5 699.6h0M968.2 704.5h0M981.0 673.1h0M892.6 685.9h0M951.0 708.2h0M938.1 684.2h0M944.7 641.2h0M1025.8 665.5h0M928.1 660.1h0M905.8 713.6h0"/>
</g>
</g>
<path d="M964.4,474.0 C966.5,474.5 970.0,475.8 970.8,479.7 C971.6,483.5 970.0,490.8 969.0,497.2 C968.0,503.5 966.0,512.3 964.9,517.7 C963.8,523.2 963.9,527.5 962.3,530.1 C960.7,532.7 957.6,533.5 955.4,533.2 C953.1,532.8 950.4,531.0 948.9,528.0 C947.4,525.0 946.4,519.9 946.4,515.2 C946.4,510.5 947.9,504.9 948.9,499.7 C950.0,494.6 951.3,488.2 952.8,484.3 C954.3,480.5 956.0,478.3 957.9,476.6 C959.9,474.9 962.2,473.5 964.4,474.0 Z" fill="none" stroke="#f2eef8" stroke-width="1.0" stroke-dasharray="4.6 2.6"/>
<text x="947.0" y="510.5" font-size="15" fill="#f4f0fa" stroke="#f4f0fa" stroke-width="0.22">LC</text>
<path d="M990.1,634.8 C992.0,635.2 995.7,635.5 996.5,639.2 C997.4,642.8 996.1,650.3 995.2,656.7 C994.4,663.0 992.5,671.3 991.4,677.2 C990.3,683.2 990.3,689.2 988.8,692.2 C987.3,695.1 984.7,695.3 982.4,694.7 C980.0,694.2 976.5,692.2 974.7,688.8 C972.9,685.5 971.6,680.0 971.6,674.7 C971.6,669.3 973.3,661.8 974.7,656.7 C976.0,651.5 978.1,647.1 979.8,643.8 C981.5,640.5 983.2,638.1 985.0,636.6 C986.7,635.1 988.2,634.4 990.1,634.8 Z" fill="none" stroke="#f2eef8" stroke-width="1.0" stroke-dasharray="4.6 2.6"/>
<text x="972.0" y="673.4" font-size="15" fill="#f4f0fa" stroke="#f4f0fa" stroke-width="0.22">LC</text>
<text font-size="14.3" fill="#1a1a1a" text-anchor="middle" transform="translate(1051.5,506.0) rotate(-90)" stroke="#1a1a1a" stroke-width="0.22">Number of c-Fos<tspan font-size="9.5" dy="-5">+</tspan><tspan dy="5"> cells</tspan></text>
<rect x="1088.1" y="535.1" width="12.4" height="29.7" fill="#8caccc"/>
<line x1="1094.3" y1="535.1" x2="1094.3" y2="525.5" stroke="#8caccc" stroke-width="1.3"/>
<line x1="1090.8" y1="525.5" x2="1097.8" y2="525.5" stroke="#8caccc" stroke-width="1.3"/>
<rect x="1102.7" y="522.3" width="12.4" height="42.5" fill="#e6b5c1"/>
<line x1="1108.9" y1="522.3" x2="1108.9" y2="515.1" stroke="#e6b5c1" stroke-width="1.3"/>
<line x1="1105.4" y1="515.1" x2="1112.4" y2="515.1" stroke="#e6b5c1" stroke-width="1.3"/>
<rect x="1123.5" y="527.5" width="12.4" height="37.3" fill="#8caccc"/>
<line x1="1129.8" y1="527.5" x2="1129.8" y2="517.9" stroke="#8caccc" stroke-width="1.3"/>
<line x1="1126.2" y1="517.9" x2="1133.2" y2="517.9" stroke="#8caccc" stroke-width="1.3"/>
<rect x="1138.2" y="513.1" width="12.4" height="51.7" fill="#e6b5c1"/>
<line x1="1144.4" y1="513.1" x2="1144.4" y2="505.9" stroke="#e6b5c1" stroke-width="1.3"/>
<line x1="1140.9" y1="505.9" x2="1147.9" y2="505.9" stroke="#e6b5c1" stroke-width="1.3"/>
<rect x="1159.0" y="511.3" width="12.4" height="53.5" fill="#8caccc"/>
<line x1="1165.2" y1="511.3" x2="1165.2" y2="503.3" stroke="#8caccc" stroke-width="1.3"/>
<line x1="1161.7" y1="503.3" x2="1168.7" y2="503.3" stroke="#8caccc" stroke-width="1.3"/>
<rect x="1173.6" y="511.9" width="12.4" height="52.9" fill="#e6b5c1"/>
<line x1="1179.8" y1="511.9" x2="1179.8" y2="507.1" stroke="#e6b5c1" stroke-width="1.3"/>
<line x1="1176.3" y1="507.1" x2="1183.3" y2="507.1" stroke="#e6b5c1" stroke-width="1.3"/>
<rect x="1194.4" y="537.1" width="12.4" height="27.7" fill="#8caccc"/>
<line x1="1200.6" y1="537.1" x2="1200.6" y2="531.4" stroke="#8caccc" stroke-width="1.3"/>
<line x1="1197.1" y1="531.4" x2="1204.1" y2="531.4" stroke="#8caccc" stroke-width="1.3"/>
<rect x="1209.0" y="499.0" width="12.4" height="65.8" fill="#e6b5c1"/>
<line x1="1215.2" y1="499.0" x2="1215.2" y2="493.4" stroke="#e6b5c1" stroke-width="1.3"/>
<line x1="1211.8" y1="493.4" x2="1218.8" y2="493.4" stroke="#e6b5c1" stroke-width="1.3"/>
<rect x="1229.9" y="547.3" width="12.4" height="17.5" fill="#8caccc"/>
<line x1="1236.1" y1="547.3" x2="1236.1" y2="543.3" stroke="#8caccc" stroke-width="1.3"/>
<line x1="1232.6" y1="543.3" x2="1239.6" y2="543.3" stroke="#8caccc" stroke-width="1.3"/>
<rect x="1244.5" y="545.2" width="12.4" height="19.6" fill="#e6b5c1"/>
<line x1="1250.7" y1="545.2" x2="1250.7" y2="541.2" stroke="#e6b5c1" stroke-width="1.3"/>
<line x1="1247.2" y1="541.2" x2="1254.2" y2="541.2" stroke="#e6b5c1" stroke-width="1.3"/>
<line x1="1080.4" y1="565.4" x2="1080.4" y2="443.8" stroke="#222" stroke-width="1.3"/>
<line x1="1074.9" y1="564.8" x2="1080.4" y2="564.8" stroke="#222" stroke-width="1.3"/>
<text x="1072.4" y="569.6" font-size="13.4" fill="#1a1a1a" text-anchor="end" stroke="#1a1a1a" stroke-width="0.22">0</text>
<line x1="1074.9" y1="524.7" x2="1080.4" y2="524.7" stroke="#222" stroke-width="1.3"/>
<text x="1072.4" y="529.5" font-size="13.4" fill="#1a1a1a" text-anchor="end" stroke="#1a1a1a" stroke-width="0.22">50</text>
<line x1="1074.9" y1="484.6" x2="1080.4" y2="484.6" stroke="#222" stroke-width="1.3"/>
<text x="1072.4" y="489.4" font-size="13.4" fill="#1a1a1a" text-anchor="end" stroke="#1a1a1a" stroke-width="0.22">100</text>
<line x1="1074.9" y1="444.5" x2="1080.4" y2="444.5" stroke="#222" stroke-width="1.3"/>
<text x="1072.4" y="449.3" font-size="13.4" fill="#1a1a1a" text-anchor="end" stroke="#1a1a1a" stroke-width="0.22">150</text>
<line x1="1079.8" y1="564.8" x2="1262.5" y2="564.8" stroke="#222" stroke-width="1.3"/>
<line x1="1101.5" y1="564.8" x2="1101.5" y2="570.3" stroke="#222" stroke-width="1.3"/>
<text font-size="14.4" fill="#1a1a1a" text-anchor="end" transform="translate(1123.2,579.9) rotate(-20)" stroke="#1a1a1a" stroke-width="0.22">mPFC</text>
<line x1="1137.0" y1="564.8" x2="1137.0" y2="570.3" stroke="#222" stroke-width="1.3"/>
<text font-size="14.4" fill="#1a1a1a" text-anchor="end" transform="translate(1153.4,581.8) rotate(-20)" stroke="#1a1a1a" stroke-width="0.22">PVN</text>
<line x1="1172.4" y1="564.8" x2="1172.4" y2="570.3" stroke="#222" stroke-width="1.3"/>
<text font-size="14.4" fill="#1a1a1a" text-anchor="end" transform="translate(1188.7,581.8) rotate(-20)" stroke="#1a1a1a" stroke-width="0.22">PAG</text>
<line x1="1207.8" y1="564.8" x2="1207.8" y2="570.3" stroke="#222" stroke-width="1.3"/>
<text font-size="14.4" fill="#1a1a1a" text-anchor="end" transform="translate(1224.3,581.8) rotate(-20)" stroke="#1a1a1a" stroke-width="0.22">PBN</text>
<line x1="1243.3" y1="564.8" x2="1243.3" y2="570.3" stroke="#222" stroke-width="1.3"/>
<text font-size="14.4" fill="#1a1a1a" text-anchor="end" transform="translate(1254.5,583.7) rotate(-20)" stroke="#1a1a1a" stroke-width="0.22">LC</text>
<path d="M1091.0 484.3a3.1 3.1 0 1 0 6.2 0a3.1 3.1 0 1 0 -6.2 0M1091.0 528.0a3.1 3.1 0 1 0 6.2 0a3.1 3.1 0 1 0 -6.2 0M1091.0 540.4a3.1 3.1 0 1 0 6.2 0a3.1 3.1 0 1 0 -6.2 0M1091.5 547.3a3.1 3.1 0 1 0 6.2 0a3.1 3.1 0 1 0 -6.2 0M1087.6 555.0a3.1 3.1 0 1 0 6.2 0a3.1 3.1 0 1 0 -6.2 0M1094.8 551.7a3.1 3.1 0 1 0 6.2 0a3.1 3.1 0 1 0 -6.2 0M1105.9 496.1a3.1 3.1 0 1 0 6.2 0a3.1 3.1 0 1 0 -6.2 0M1105.9 509.2a3.1 3.1 0 1 0 6.2 0a3.1 3.1 0 1 0 -6.2 0M1105.9 523.4a3.1 3.1 0 1 0 6.2 0a3.1 3.1 0 1 0 -6.2 0M1105.9 532.4a3.1 3.1 0 1 0 6.2 0a3.1 3.1 0 1 0 -6.2 0M1101.8 537.0a3.1 3.1 0 1 0 6.2 0a3.1 3.1 0 1 0 -6.2 0M1110.0 536.5a3.1 3.1 0 1 0 6.2 0a3.1 3.1 0 1 0 -6.2 0M1126.7 502.8a3.1 3.1 0 1 0 6.2 0a3.1 3.1 0 1 0 -6.2 0M1126.7 512.1a3.1 3.1 0 1 0 6.2 0a3.1 3.1 0 1 0 -6.2 0M1126.7 517.7a3.1 3.1 0 1 0 6.2 0a3.1 3.1 0 1 0 -6.2 0M1126.7 524.2a3.1 3.1 0 1 0 6.2 0a3.1 3.1 0 1 0 -6.2 0M1126.7 548.6a3.1 3.1 0 1 0 6.2 0a3.1 3.1 0 1 0 -6.2 0M1126.7 556.3a3.1 3.1 0 1 0 6.2 0a3.1 3.1 0 1 0 -6.2 0M1141.4 489.4a3.1 3.1 0 1 0 6.2 0a3.1 3.1 0 1 0 -6.2 0M1141.4 500.5a3.1 3.1 0 1 0 6.2 0a3.1 3.1 0 1 0 -6.2 0M1141.4 506.2a3.1 3.1 0 1 0 6.2 0a3.1 3.1 0 1 0 -6.2 0M1141.4 517.7a3.1 3.1 0 1 0 6.2 0a3.1 3.1 0 1 0 -6.2 0M1141.4 530.1a3.1 3.1 0 1 0 6.2 0a3.1 3.1 0 1 0 -6.2 0M1141.4 540.1a3.1 3.1 0 1 0 6.2 0a3.1 3.1 0 1 0 -6.2 0M1162.2 483.0a3.1 3.1 0 1 0 6.2 0a3.1 3.1 0 1 0 -6.2 0M1158.4 499.2a3.1 3.1 0 1 0 6.2 0a3.1 3.1 0 1 0 -6.2 0M1166.6 502.3a3.1 3.1 0 1 0 6.2 0a3.1 3.1 0 1 0 -6.2 0M1158.4 521.6a3.1 3.1 0 1 0 6.2 0a3.1 3.1 0 1 0 -6.2 0M1166.6 522.9a3.1 3.1 0 1 0 6.2 0a3.1 3.1 0 1 0 -6.2 0M1162.5 540.1a3.1 3.1 0 1 0 6.2 0a3.1 3.1 0 1 0 -6.2 0M1176.9 492.8a3.1 3.1 0 1 0 6.2 0a3.1 3.1 0 1 0 -6.2 0M1176.9 503.1a3.1 3.1 0 1 0 6.2 0a3.1 3.1 0 1 0 -6.2 0M1173.3 515.2a3.1 3.1 0 1 0 6.2 0a3.1 3.1 0 1 0 -6.2 0M1180.7 511.8a3.1 3.1 0 1 0 6.2 0a3.1 3.1 0 1 0 -6.2 0M1180.7 518.5a3.1 3.1 0 1 0 6.2 0a3.1 3.1 0 1 0 -6.2 0M1176.9 523.4a3.1 3.1 0 1 0 6.2 0a3.1 3.1 0 1 0 -6.2 0M1197.7 512.6a3.1 3.1 0 1 0 6.2 0a3.1 3.1 0 1 0 -6.2 0M1197.7 528.0a3.1 3.1 0 1 0 6.2 0a3.1 3.1 0 1 0 -6.2 0M1197.7 534.5a3.1 3.1 0 1 0 6.2 0a3.1 3.1 0 1 0 -6.2 0M1193.6 550.7a3.1 3.1 0 1 0 6.2 0a3.1 3.1 0 1 0 -6.2 0M1198.2 547.8a3.1 3.1 0 1 0 6.2 0a3.1 3.1 0 1 0 -6.2 0M1201.6 547.8a3.1 3.1 0 1 0 6.2 0a3.1 3.1 0 1 0 -6.2 0M1212.4 478.4a3.1 3.1 0 1 0 6.2 0a3.1 3.1 0 1 0 -6.2 0M1208.5 492.8a3.1 3.1 0 1 0 6.2 0a3.1 3.1 0 1 0 -6.2 0M1216.2 494.6a3.1 3.1 0 1 0 6.2 0a3.1 3.1 0 1 0 -6.2 0M1212.4 499.2a3.1 3.1 0 1 0 6.2 0a3.1 3.1 0 1 0 -6.2 0M1212.4 506.2a3.1 3.1 0 1 0 6.2 0a3.1 3.1 0 1 0 -6.2 0M1212.4 519.8a3.1 3.1 0 1 0 6.2 0a3.1 3.1 0 1 0 -6.2 0M1229.1 537.8a3.1 3.1 0 1 0 6.2 0a3.1 3.1 0 1 0 -6.2 0M1236.8 535.7a3.1 3.1 0 1 0 6.2 0a3.1 3.1 0 1 0 -6.2 0M1229.1 546.5a3.1 3.1 0 1 0 6.2 0a3.1 3.1 0 1 0 -6.2 0M1236.8 546.0a3.1 3.1 0 1 0 6.2 0a3.1 3.1 0 1 0 -6.2 0M1232.9 555.0a3.1 3.1 0 1 0 6.2 0a3.1 3.1 0 1 0 -6.2 0M1233.7 563.3a3.1 3.1 0 1 0 6.2 0a3.1 3.1 0 1 0 -6.2 0M1244.0 535.7a3.1 3.1 0 1 0 6.2 0a3.1 3.1 0 1 0 -6.2 0M1251.5 533.7a3.1 3.1 0 1 0 6.2 0a3.1 3.1 0 1 0 -6.2 0M1247.6 541.4a3.1 3.1 0 1 0 6.2 0a3.1 3.1 0 1 0 -6.2 0M1247.6 548.1a3.1 3.1 0 1 0 6.2 0a3.1 3.1 0 1 0 -6.2 0M1251.5 553.0a3.1 3.1 0 1 0 6.2 0a3.1 3.1 0 1 0 -6.2 0M1244.0 556.3a3.1 3.1 0 1 0 6.2 0a3.1 3.1 0 1 0 -6.2 0" fill="none" stroke="#2a2024" stroke-width="1.2"/>
<rect x="1104.4" y="438.5" width="14.2" height="7.3" fill="#8caccc"/>
<text x="1125.5" y="446.8" font-size="14.6" fill="#1a1a1a" stroke="#1a1a1a" stroke-width="0.22">Sham</text>
<rect x="1191.0" y="438.5" width="14.2" height="7.3" fill="#e6b5c1"/>
<text x="1212.1" y="446.8" font-size="14.6" fill="#1a1a1a" stroke="#1a1a1a" stroke-width="0.22">PDAC</text>
<text x="1210.2" y="471.3" font-size="24" fill="#0a0a0a" text-anchor="middle" letter-spacing="0.8" stroke="#0a0a0a" stroke-width="0.35">***</text>
<line x1="1193.6" y1="467.6" x2="1223.2" y2="467.6" stroke="#222" stroke-width="1.1"/>
<text font-size="14.3" fill="#1a1a1a" text-anchor="middle" transform="translate(1051.5,685.0) rotate(-90)" stroke="#1a1a1a" stroke-width="0.22">Number of c-Fos<tspan font-size="9.5" dy="-5">+</tspan><tspan dy="5"> cells</tspan></text>
<rect x="1097.2" y="728.5" width="15.4" height="19.7" fill="#8caccc"/>
<line x1="1104.9" y1="728.5" x2="1104.9" y2="724.4" stroke="#8caccc" stroke-width="1.3"/>
<line x1="1100.9" y1="724.4" x2="1108.9" y2="724.4" stroke="#8caccc" stroke-width="1.3"/>
<rect x="1122.1" y="685.0" width="15.4" height="63.2" fill="#e6b5c1"/>
<line x1="1129.8" y1="685.0" x2="1129.8" y2="669.3" stroke="#e6b5c1" stroke-width="1.3"/>
<line x1="1125.8" y1="669.3" x2="1133.8" y2="669.3" stroke="#e6b5c1" stroke-width="1.3"/>
<rect x="1162.3" y="740.2" width="15.4" height="8.0" fill="#8caccc"/>
<line x1="1170.0" y1="740.2" x2="1170.0" y2="737.8" stroke="#8caccc" stroke-width="1.3"/>
<line x1="1166.0" y1="737.8" x2="1174.0" y2="737.8" stroke="#8caccc" stroke-width="1.3"/>
<rect x="1187.2" y="743.6" width="15.4" height="4.6" fill="#e6b5c1"/>
<line x1="1194.9" y1="743.6" x2="1194.9" y2="741.1" stroke="#e6b5c1" stroke-width="1.3"/>
<line x1="1190.9" y1="741.1" x2="1198.9" y2="741.1" stroke="#e6b5c1" stroke-width="1.3"/>
<line x1="1088.2" y1="748.9" x2="1088.2" y2="624.4" stroke="#222" stroke-width="1.3"/>
<line x1="1082.7" y1="748.2" x2="1088.2" y2="748.2" stroke="#222" stroke-width="1.3"/>
<text x="1080.2" y="753.0" font-size="13.4" fill="#1a1a1a" text-anchor="end" stroke="#1a1a1a" stroke-width="0.22">0</text>
<line x1="1082.7" y1="707.1" x2="1088.2" y2="707.1" stroke="#222" stroke-width="1.3"/>
<text x="1080.2" y="712.0" font-size="13.4" fill="#1a1a1a" text-anchor="end" stroke="#1a1a1a" stroke-width="0.22">50</text>
<line x1="1082.7" y1="666.1" x2="1088.2" y2="666.1" stroke="#222" stroke-width="1.3"/>
<text x="1080.2" y="670.9" font-size="13.4" fill="#1a1a1a" text-anchor="end" stroke="#1a1a1a" stroke-width="0.22">100</text>
<line x1="1082.7" y1="625.0" x2="1088.2" y2="625.0" stroke="#222" stroke-width="1.3"/>
<text x="1080.2" y="629.8" font-size="13.4" fill="#1a1a1a" text-anchor="end" stroke="#1a1a1a" stroke-width="0.22">150</text>
<line x1="1087.0" y1="748.2" x2="1211.6" y2="748.2" stroke="#222" stroke-width="1.3"/>
<line x1="1117.2" y1="748.2" x2="1117.2" y2="753.7" stroke="#222" stroke-width="1.3"/>
<text x="1117.2" y="766.2" font-size="14.0" fill="#1a1a1a" text-anchor="middle" stroke="#1a1a1a" stroke-width="0.22">LPBN</text>
<line x1="1183.3" y1="748.2" x2="1183.3" y2="753.7" stroke="#222" stroke-width="1.3"/>
<text x="1183.3" y="766.2" font-size="14.0" fill="#1a1a1a" text-anchor="middle" stroke="#1a1a1a" stroke-width="0.22">MPBN</text>
<path d="M1095.3 718.9a3.1 3.1 0 1 0 6.2 0a3.1 3.1 0 1 0 -6.2 0M1106.9 722.2a3.1 3.1 0 1 0 6.2 0a3.1 3.1 0 1 0 -6.2 0M1101.3 726.1a3.1 3.1 0 1 0 6.2 0a3.1 3.1 0 1 0 -6.2 0M1095.3 735.1a3.1 3.1 0 1 0 6.2 0a3.1 3.1 0 1 0 -6.2 0M1101.3 735.1a3.1 3.1 0 1 0 6.2 0a3.1 3.1 0 1 0 -6.2 0M1106.9 735.1a3.1 3.1 0 1 0 6.2 0a3.1 3.1 0 1 0 -6.2 0M1126.2 660.5a3.1 3.1 0 1 0 6.2 0a3.1 3.1 0 1 0 -6.2 0M1126.2 675.9a3.1 3.1 0 1 0 6.2 0a3.1 3.1 0 1 0 -6.2 0M1126.2 684.9a3.1 3.1 0 1 0 6.2 0a3.1 3.1 0 1 0 -6.2 0M1119.8 689.5a3.1 3.1 0 1 0 6.2 0a3.1 3.1 0 1 0 -6.2 0M1132.1 693.9a3.1 3.1 0 1 0 6.2 0a3.1 3.1 0 1 0 -6.2 0M1126.2 702.2a3.1 3.1 0 1 0 6.2 0a3.1 3.1 0 1 0 -6.2 0M1167.4 735.1a3.1 3.1 0 1 0 6.2 0a3.1 3.1 0 1 0 -6.2 0M1160.9 740.2a3.1 3.1 0 1 0 6.2 0a3.1 3.1 0 1 0 -6.2 0M1164.8 740.2a3.1 3.1 0 1 0 6.2 0a3.1 3.1 0 1 0 -6.2 0M1169.9 741.5a3.1 3.1 0 1 0 6.2 0a3.1 3.1 0 1 0 -6.2 0M1173.3 743.6a3.1 3.1 0 1 0 6.2 0a3.1 3.1 0 1 0 -6.2 0M1168.6 738.2a3.1 3.1 0 1 0 6.2 0a3.1 3.1 0 1 0 -6.2 0M1185.4 741.5a3.1 3.1 0 1 0 6.2 0a3.1 3.1 0 1 0 -6.2 0M1190.5 740.2a3.1 3.1 0 1 0 6.2 0a3.1 3.1 0 1 0 -6.2 0M1197.7 738.9a3.1 3.1 0 1 0 6.2 0a3.1 3.1 0 1 0 -6.2 0M1185.4 746.6a3.1 3.1 0 1 0 6.2 0a3.1 3.1 0 1 0 -6.2 0M1191.8 744.6a3.1 3.1 0 1 0 6.2 0a3.1 3.1 0 1 0 -6.2 0M1197.7 743.6a3.1 3.1 0 1 0 6.2 0a3.1 3.1 0 1 0 -6.2 0" fill="none" stroke="#2a2024" stroke-width="1.2"/>
<rect x="1104.4" y="610.3" width="14.2" height="7.3" fill="#8caccc"/>
<text x="1125.5" y="619.4" font-size="14.6" fill="#1a1a1a" stroke="#1a1a1a" stroke-width="0.22">Sham</text>
<rect x="1191.0" y="610.3" width="14.2" height="7.3" fill="#e6b5c1"/>
<text x="1212.1" y="619.4" font-size="14.6" fill="#1a1a1a" stroke="#1a1a1a" stroke-width="0.22">PDAC</text>
<text x="1112.4" y="653.9" font-size="24" fill="#0a0a0a" text-anchor="middle" letter-spacing="0.8" stroke="#0a0a0a" stroke-width="0.35">***</text>
<line x1="1094.6" y1="648.9" x2="1129.3" y2="648.9" stroke="#222" stroke-width="1.1"/>
<text x="1167.8" y="643.5" font-size="24" fill="#0a0a0a" text-anchor="middle" letter-spacing="0.8" stroke="#0a0a0a" stroke-width="0.35">***</text>
<line x1="1131.1" y1="638.6" x2="1203.9" y2="638.6" stroke="#222" stroke-width="1.1"/>
<text x="15.5" y="783.6" font-size="23" fill="#000" font-weight="bold">H</text>
<rect x="100.8" y="905.9" width="15.6" height="68.6" fill="#8caccc"/>
<line x1="108.6" y1="905.9" x2="108.6" y2="901.8" stroke="#8caccc" stroke-width="1.3"/>
<line x1="104.6" y1="901.8" x2="112.6" y2="901.8" stroke="#8caccc" stroke-width="1.3"/>
<rect x="120.3" y="824.4" width="15.6" height="150.1" fill="#e6b5c1"/>
<line x1="128.1" y1="824.4" x2="128.1" y2="811.0" stroke="#e6b5c1" stroke-width="1.3"/>
<line x1="124.1" y1="811.0" x2="132.1" y2="811.0" stroke="#e6b5c1" stroke-width="1.3"/>
<rect x="150.9" y="902.5" width="15.6" height="72.0" fill="#8caccc"/>
<line x1="158.7" y1="902.5" x2="158.7" y2="895.8" stroke="#8caccc" stroke-width="1.3"/>
<line x1="154.7" y1="895.8" x2="162.7" y2="895.8" stroke="#8caccc" stroke-width="1.3"/>
<rect x="170.4" y="902.5" width="15.6" height="72.0" fill="#e6b5c1"/>
<line x1="178.2" y1="902.5" x2="178.2" y2="897.8" stroke="#e6b5c1" stroke-width="1.3"/>
<line x1="174.2" y1="897.8" x2="182.2" y2="897.8" stroke="#e6b5c1" stroke-width="1.3"/>
<rect x="201.0" y="906.5" width="15.6" height="68.0" fill="#8caccc"/>
<line x1="208.8" y1="906.5" x2="208.8" y2="899.8" stroke="#8caccc" stroke-width="1.3"/>
<line x1="204.8" y1="899.8" x2="212.8" y2="899.8" stroke="#8caccc" stroke-width="1.3"/>
<rect x="220.5" y="897.8" width="15.6" height="76.7" fill="#e6b5c1"/>
<line x1="228.3" y1="897.8" x2="228.3" y2="894.4" stroke="#e6b5c1" stroke-width="1.3"/>
<line x1="224.3" y1="894.4" x2="232.3" y2="894.4" stroke="#e6b5c1" stroke-width="1.3"/>
<rect x="251.0" y="905.9" width="15.6" height="68.6" fill="#8caccc"/>
<line x1="258.8" y1="905.9" x2="258.8" y2="901.8" stroke="#8caccc" stroke-width="1.3"/>
<line x1="254.8" y1="901.8" x2="262.8" y2="901.8" stroke="#8caccc" stroke-width="1.3"/>
<rect x="270.5" y="876.2" width="15.6" height="98.3" fill="#e6b5c1"/>
<line x1="278.3" y1="876.2" x2="278.3" y2="866.1" stroke="#e6b5c1" stroke-width="1.3"/>
<line x1="274.3" y1="866.1" x2="282.3" y2="866.1" stroke="#e6b5c1" stroke-width="1.3"/>
<rect x="301.1" y="899.5" width="15.6" height="75.0" fill="#8caccc"/>
<line x1="308.9" y1="899.5" x2="308.9" y2="892.7" stroke="#8caccc" stroke-width="1.3"/>
<line x1="304.9" y1="892.7" x2="312.9" y2="892.7" stroke="#8caccc" stroke-width="1.3"/>
<rect x="320.6" y="874.2" width="15.6" height="100.3" fill="#e6b5c1"/>
<line x1="328.4" y1="874.2" x2="328.4" y2="862.8" stroke="#e6b5c1" stroke-width="1.3"/>
<line x1="324.4" y1="862.8" x2="332.4" y2="862.8" stroke="#e6b5c1" stroke-width="1.3"/>
<rect x="351.2" y="902.5" width="15.6" height="72.0" fill="#8caccc"/>
<line x1="359.0" y1="902.5" x2="359.0" y2="895.1" stroke="#8caccc" stroke-width="1.3"/>
<line x1="355.0" y1="895.1" x2="363.0" y2="895.1" stroke="#8caccc" stroke-width="1.3"/>
<rect x="370.7" y="901.5" width="15.6" height="73.0" fill="#e6b5c1"/>
<line x1="378.5" y1="901.5" x2="378.5" y2="899.5" stroke="#e6b5c1" stroke-width="1.3"/>
<line x1="374.5" y1="899.5" x2="382.5" y2="899.5" stroke="#e6b5c1" stroke-width="1.3"/>
<line x1="90.6" y1="975.1" x2="90.6" y2="771.9" stroke="#222" stroke-width="1.3"/>
<line x1="82.6" y1="974.5" x2="90.6" y2="974.5" stroke="#222" stroke-width="1.3"/>
<text x="79.1" y="979.9" font-size="15" fill="#1a1a1a" text-anchor="end" stroke="#1a1a1a" stroke-width="0.22">0</text>
<line x1="82.6" y1="907.2" x2="90.6" y2="907.2" stroke="#222" stroke-width="1.3"/>
<text x="79.1" y="912.6" font-size="15" fill="#1a1a1a" text-anchor="end" stroke="#1a1a1a" stroke-width="0.22">1</text>
<line x1="82.6" y1="839.9" x2="90.6" y2="839.9" stroke="#222" stroke-width="1.3"/>
<text x="79.1" y="845.3" font-size="15" fill="#1a1a1a" text-anchor="end" stroke="#1a1a1a" stroke-width="0.22">2</text>
<line x1="82.6" y1="772.6" x2="90.6" y2="772.6" stroke="#222" stroke-width="1.3"/>
<text x="79.1" y="778.0" font-size="15" fill="#1a1a1a" text-anchor="end" stroke="#1a1a1a" stroke-width="0.22">3</text>
<line x1="90.0" y1="974.5" x2="392.6" y2="974.5" stroke="#222" stroke-width="1.3"/>
<line x1="118.0" y1="974.5" x2="118.0" y2="980.5" stroke="#222" stroke-width="1.3"/>
<text font-size="15.4" fill="#1a1a1a" text-anchor="end" font-style="italic" transform="translate(126.5,993.0) rotate(-45)" stroke="#1a1a1a" stroke-width="0.22">Mettl14</text>
<line x1="168.1" y1="974.5" x2="168.1" y2="980.5" stroke="#222" stroke-width="1.3"/>
<text font-size="15.4" fill="#1a1a1a" text-anchor="end" font-style="italic" transform="translate(176.6,993.0) rotate(-45)" stroke="#1a1a1a" stroke-width="0.22">Mettl3</text>
<line x1="218.2" y1="974.5" x2="218.2" y2="980.5" stroke="#222" stroke-width="1.3"/>
<text font-size="15.4" fill="#1a1a1a" text-anchor="end" font-style="italic" transform="translate(226.7,993.0) rotate(-45)" stroke="#1a1a1a" stroke-width="0.22">Mettl16</text>
<line x1="268.2" y1="974.5" x2="268.2" y2="980.5" stroke="#222" stroke-width="1.3"/>
<text font-size="15.4" fill="#1a1a1a" text-anchor="end" font-style="italic" transform="translate(276.7,993.0) rotate(-45)" stroke="#1a1a1a" stroke-width="0.22">Wtap</text>
<line x1="318.3" y1="974.5" x2="318.3" y2="980.5" stroke="#222" stroke-width="1.3"/>
<text font-size="15.4" fill="#1a1a1a" text-anchor="end" font-style="italic" transform="translate(326.8,993.0) rotate(-45)" stroke="#1a1a1a" stroke-width="0.22">Fto</text>
<line x1="368.4" y1="974.5" x2="368.4" y2="980.5" stroke="#222" stroke-width="1.3"/>
<text font-size="15.4" fill="#1a1a1a" text-anchor="end" font-style="italic" transform="translate(376.9,993.0) rotate(-45)" stroke="#1a1a1a" stroke-width="0.22">Alkbh5</text>
<text font-size="14.4" fill="#1a1a1a" text-anchor="middle" transform="translate(59.5,866.4) rotate(-90)" stroke="#1a1a1a" stroke-width="0.22">Relative mRNA levels</text>
<path d="M104.8 886.2a3.4 3.4 0 1 0 6.8 0a3.4 3.4 0 1 0 -6.8 0M104.8 898.7a3.4 3.4 0 1 0 6.8 0a3.4 3.4 0 1 0 -6.8 0M100.1 907.3a3.4 3.4 0 1 0 6.8 0a3.4 3.4 0 1 0 -6.8 0M109.9 907.3a3.4 3.4 0 1 0 6.8 0a3.4 3.4 0 1 0 -6.8 0M104.8 908.4a3.4 3.4 0 1 0 6.8 0a3.4 3.4 0 1 0 -6.8 0M107.9 915.1a3.4 3.4 0 1 0 6.8 0a3.4 3.4 0 1 0 -6.8 0M102.1 920.2a3.4 3.4 0 1 0 6.8 0a3.4 3.4 0 1 0 -6.8 0M120.4 797.9a3.4 3.4 0 1 0 6.8 0a3.4 3.4 0 1 0 -6.8 0M128.6 803.0a3.4 3.4 0 1 0 6.8 0a3.4 3.4 0 1 0 -6.8 0M120.4 810.0a3.4 3.4 0 1 0 6.8 0a3.4 3.4 0 1 0 -6.8 0M128.6 812.7a3.4 3.4 0 1 0 6.8 0a3.4 3.4 0 1 0 -6.8 0M120.4 826.4a3.4 3.4 0 1 0 6.8 0a3.4 3.4 0 1 0 -6.8 0M128.6 830.3a3.4 3.4 0 1 0 6.8 0a3.4 3.4 0 1 0 -6.8 0M124.3 907.7a3.4 3.4 0 1 0 6.8 0a3.4 3.4 0 1 0 -6.8 0M154.8 875.2a3.4 3.4 0 1 0 6.8 0a3.4 3.4 0 1 0 -6.8 0M150.1 895.9a3.4 3.4 0 1 0 6.8 0a3.4 3.4 0 1 0 -6.8 0M158.7 888.9a3.4 3.4 0 1 0 6.8 0a3.4 3.4 0 1 0 -6.8 0M150.9 906.5a3.4 3.4 0 1 0 6.8 0a3.4 3.4 0 1 0 -6.8 0M158.7 906.5a3.4 3.4 0 1 0 6.8 0a3.4 3.4 0 1 0 -6.8 0M158.7 915.5a3.4 3.4 0 1 0 6.8 0a3.4 3.4 0 1 0 -6.8 0M150.1 922.1a3.4 3.4 0 1 0 6.8 0a3.4 3.4 0 1 0 -6.8 0M178.2 888.1a3.4 3.4 0 1 0 6.8 0a3.4 3.4 0 1 0 -6.8 0M170.4 895.9a3.4 3.4 0 1 0 6.8 0a3.4 3.4 0 1 0 -6.8 0M175.5 894.8a3.4 3.4 0 1 0 6.8 0a3.4 3.4 0 1 0 -6.8 0M179.0 899.5a3.4 3.4 0 1 0 6.8 0a3.4 3.4 0 1 0 -6.8 0M175.5 907.3a3.4 3.4 0 1 0 6.8 0a3.4 3.4 0 1 0 -6.8 0M176.3 914.3a3.4 3.4 0 1 0 6.8 0a3.4 3.4 0 1 0 -6.8 0M172.4 920.2a3.4 3.4 0 1 0 6.8 0a3.4 3.4 0 1 0 -6.8 0M200.5 885.8a3.4 3.4 0 1 0 6.8 0a3.4 3.4 0 1 0 -6.8 0M204.8 890.9a3.4 3.4 0 1 0 6.8 0a3.4 3.4 0 1 0 -6.8 0M199.7 899.5a3.4 3.4 0 1 0 6.8 0a3.4 3.4 0 1 0 -6.8 0M208.7 903.4a3.4 3.4 0 1 0 6.8 0a3.4 3.4 0 1 0 -6.8 0M203.6 907.3a3.4 3.4 0 1 0 6.8 0a3.4 3.4 0 1 0 -6.8 0M201.7 929.9a3.4 3.4 0 1 0 6.8 0a3.4 3.4 0 1 0 -6.8 0M207.5 927.2a3.4 3.4 0 1 0 6.8 0a3.4 3.4 0 1 0 -6.8 0M222.4 885.8a3.4 3.4 0 1 0 6.8 0a3.4 3.4 0 1 0 -6.8 0M226.3 885.0a3.4 3.4 0 1 0 6.8 0a3.4 3.4 0 1 0 -6.8 0M219.3 899.5a3.4 3.4 0 1 0 6.8 0a3.4 3.4 0 1 0 -6.8 0M224.3 898.7a3.4 3.4 0 1 0 6.8 0a3.4 3.4 0 1 0 -6.8 0M229.0 900.6a3.4 3.4 0 1 0 6.8 0a3.4 3.4 0 1 0 -6.8 0M220.0 907.7a3.4 3.4 0 1 0 6.8 0a3.4 3.4 0 1 0 -6.8 0M225.1 904.5a3.4 3.4 0 1 0 6.8 0a3.4 3.4 0 1 0 -6.8 0M253.6 892.0a3.4 3.4 0 1 0 6.8 0a3.4 3.4 0 1 0 -6.8 0M250.5 901.4a3.4 3.4 0 1 0 6.8 0a3.4 3.4 0 1 0 -6.8 0M257.5 902.6a3.4 3.4 0 1 0 6.8 0a3.4 3.4 0 1 0 -6.8 0M252.5 906.5a3.4 3.4 0 1 0 6.8 0a3.4 3.4 0 1 0 -6.8 0M256.4 907.7a3.4 3.4 0 1 0 6.8 0a3.4 3.4 0 1 0 -6.8 0M251.7 910.4a3.4 3.4 0 1 0 6.8 0a3.4 3.4 0 1 0 -6.8 0M253.6 922.1a3.4 3.4 0 1 0 6.8 0a3.4 3.4 0 1 0 -6.8 0M273.9 845.9a3.4 3.4 0 1 0 6.8 0a3.4 3.4 0 1 0 -6.8 0M270.0 858.8a3.4 3.4 0 1 0 6.8 0a3.4 3.4 0 1 0 -6.8 0M278.6 854.5a3.4 3.4 0 1 0 6.8 0a3.4 3.4 0 1 0 -6.8 0M273.9 874.5a3.4 3.4 0 1 0 6.8 0a3.4 3.4 0 1 0 -6.8 0M273.9 885.8a3.4 3.4 0 1 0 6.8 0a3.4 3.4 0 1 0 -6.8 0M270.0 905.3a3.4 3.4 0 1 0 6.8 0a3.4 3.4 0 1 0 -6.8 0M278.6 905.3a3.4 3.4 0 1 0 6.8 0a3.4 3.4 0 1 0 -6.8 0M303.2 882.3a3.4 3.4 0 1 0 6.8 0a3.4 3.4 0 1 0 -6.8 0M307.9 882.3a3.4 3.4 0 1 0 6.8 0a3.4 3.4 0 1 0 -6.8 0M299.3 888.9a3.4 3.4 0 1 0 6.8 0a3.4 3.4 0 1 0 -6.8 0M305.2 894.8a3.4 3.4 0 1 0 6.8 0a3.4 3.4 0 1 0 -6.8 0M305.2 902.6a3.4 3.4 0 1 0 6.8 0a3.4 3.4 0 1 0 -6.8 0M304.4 912.3a3.4 3.4 0 1 0 6.8 0a3.4 3.4 0 1 0 -6.8 0M304.4 926.8a3.4 3.4 0 1 0 6.8 0a3.4 3.4 0 1 0 -6.8 0M319.6 841.2a3.4 3.4 0 1 0 6.8 0a3.4 3.4 0 1 0 -6.8 0M327.9 846.7a3.4 3.4 0 1 0 6.8 0a3.4 3.4 0 1 0 -6.8 0M319.6 854.5a3.4 3.4 0 1 0 6.8 0a3.4 3.4 0 1 0 -6.8 0M323.9 874.5a3.4 3.4 0 1 0 6.8 0a3.4 3.4 0 1 0 -6.8 0M323.9 885.0a3.4 3.4 0 1 0 6.8 0a3.4 3.4 0 1 0 -6.8 0M323.9 896.7a3.4 3.4 0 1 0 6.8 0a3.4 3.4 0 1 0 -6.8 0M323.9 920.2a3.4 3.4 0 1 0 6.8 0a3.4 3.4 0 1 0 -6.8 0M353.2 874.5a3.4 3.4 0 1 0 6.8 0a3.4 3.4 0 1 0 -6.8 0M353.2 888.1a3.4 3.4 0 1 0 6.8 0a3.4 3.4 0 1 0 -6.8 0M349.3 896.7a3.4 3.4 0 1 0 6.8 0a3.4 3.4 0 1 0 -6.8 0M357.9 903.8a3.4 3.4 0 1 0 6.8 0a3.4 3.4 0 1 0 -6.8 0M350.1 906.5a3.4 3.4 0 1 0 6.8 0a3.4 3.4 0 1 0 -6.8 0M357.9 920.2a3.4 3.4 0 1 0 6.8 0a3.4 3.4 0 1 0 -6.8 0M349.3 926.0a3.4 3.4 0 1 0 6.8 0a3.4 3.4 0 1 0 -6.8 0M377.5 892.0a3.4 3.4 0 1 0 6.8 0a3.4 3.4 0 1 0 -6.8 0M368.9 898.7a3.4 3.4 0 1 0 6.8 0a3.4 3.4 0 1 0 -6.8 0M374.7 895.9a3.4 3.4 0 1 0 6.8 0a3.4 3.4 0 1 0 -6.8 0M372.4 901.4a3.4 3.4 0 1 0 6.8 0a3.4 3.4 0 1 0 -6.8 0M369.6 906.5a3.4 3.4 0 1 0 6.8 0a3.4 3.4 0 1 0 -6.8 0M374.7 906.5a3.4 3.4 0 1 0 6.8 0a3.4 3.4 0 1 0 -6.8 0M378.6 904.5a3.4 3.4 0 1 0 6.8 0a3.4 3.4 0 1 0 -6.8 0" fill="none" stroke="#2a2024" stroke-width="1.2"/>
<rect x="382.0" y="774.6" width="15.6" height="7.0" fill="#8caccc"/>
<text x="405.0" y="782.0" font-size="14.4" fill="#1a1a1a" stroke="#1a1a1a" stroke-width="0.22">Sham</text>
<rect x="382.0" y="794.4" width="15.6" height="7.0" fill="#e6b5c1"/>
<text x="405.0" y="801.5" font-size="14.4" fill="#1a1a1a" stroke="#1a1a1a" stroke-width="0.22">PDAC</text>
<text x="116.4" y="781.3" font-size="24" fill="#0a0a0a" text-anchor="middle" letter-spacing="0.8" stroke="#0a0a0a" stroke-width="0.35">***</text>
<line x1="97.7" y1="779.6" x2="136.7" y2="779.6" stroke="#222" stroke-width="1.1"/>
<text x="266.8" y="827.3" font-size="24" fill="#0a0a0a" text-anchor="middle" letter-spacing="0.8" stroke="#0a0a0a" stroke-width="0.35">*</text>
<line x1="248.8" y1="826.4" x2="286.3" y2="826.4" stroke="#222" stroke-width="1.1"/>
<text x="484.5" y="782.0" font-size="23" fill="#000" font-weight="bold">I</text>
<text x="577.2" y="780.0" font-size="14.6" fill="#1a1a1a" stroke="#1a1a1a" stroke-width="0.22">Sham</text>
<text x="623.3" y="780.0" font-size="14.6" fill="#1a1a1a" stroke="#1a1a1a" stroke-width="0.22">PDAC</text>
<filter id="bandb" x="-0.2" y="-0.5" width="1.4" height="2"><feGaussianBlur stdDeviation="1.1 0.8"/></filter>
<rect x="565.5" y="786.2" width="110.1" height="24.9" fill="#f1f1f1" stroke="#444" stroke-width="1.2"/>
<rect x="565.5" y="814.6" width="110.1" height="25.1" fill="#f1f1f1" stroke="#444" stroke-width="1.2"/>
<rect x="576.5" y="796.6" width="39.0" height="4.6" rx="2.3" fill="#0c0c0c" filter="url(#bandb)"/>
<rect x="624.5" y="795.0" width="39.0" height="6.8" rx="3.4" fill="#0c0c0c" filter="url(#bandb)"/>
<rect x="573.0" y="823.7" width="42.0" height="7.0" rx="3.5" fill="#0c0c0c" filter="url(#bandb)"/>
<rect x="624.0" y="824.1" width="40.0" height="6.6" rx="3.3" fill="#0c0c0c" filter="url(#bandb)"/>
<text x="559.6" y="803.6" font-size="14.6" fill="#1a1a1a" text-anchor="end" stroke="#1a1a1a" stroke-width="0.22">METTL14</text>
<text x="559.6" y="835.9" font-size="14.6" fill="#1a1a1a" text-anchor="end" stroke="#1a1a1a" stroke-width="0.22">GAPDH</text>
<text x="679.2" y="803.6" font-size="14.6" fill="#1a1a1a" stroke="#1a1a1a" stroke-width="0.22">65kD</text>
<text x="679.2" y="835.9" font-size="14.6" fill="#1a1a1a" stroke="#1a1a1a" stroke-width="0.22">36kD</text>
<rect x="581.9" y="970.3" width="25.3" height="30.6" fill="#8caccc"/>
<line x1="594.5" y1="970.3" x2="594.5" y2="964.8" stroke="#8caccc" stroke-width="1.3"/>
<line x1="588.5" y1="964.8" x2="600.5" y2="964.8" stroke="#8caccc" stroke-width="1.3"/>
<rect x="621.8" y="935.9" width="25.3" height="65.0" fill="#e6b5c1"/>
<line x1="634.4" y1="935.9" x2="634.4" y2="923.4" stroke="#e6b5c1" stroke-width="1.3"/>
<line x1="628.4" y1="923.4" x2="640.4" y2="923.4" stroke="#e6b5c1" stroke-width="1.3"/>
<line x1="568.3" y1="1001.5" x2="568.3" y2="861.2" stroke="#222" stroke-width="1.3"/>
<line x1="562.3" y1="1000.9" x2="568.3" y2="1000.9" stroke="#222" stroke-width="1.3"/>
<text x="560.3" y="1006.0" font-size="14.2" fill="#1a1a1a" text-anchor="end" stroke="#1a1a1a" stroke-width="0.22">0</text>
<line x1="562.3" y1="966.1" x2="568.3" y2="966.1" stroke="#222" stroke-width="1.3"/>
<text x="560.3" y="971.3" font-size="14.2" fill="#1a1a1a" text-anchor="end" stroke="#1a1a1a" stroke-width="0.22">1</text>
<line x1="562.3" y1="931.4" x2="568.3" y2="931.4" stroke="#222" stroke-width="1.3"/>
<text x="560.3" y="936.5" font-size="14.2" fill="#1a1a1a" text-anchor="end" stroke="#1a1a1a" stroke-width="0.22">2</text>
<line x1="562.3" y1="896.6" x2="568.3" y2="896.6" stroke="#222" stroke-width="1.3"/>
<text x="560.3" y="901.8" font-size="14.2" fill="#1a1a1a" text-anchor="end" stroke="#1a1a1a" stroke-width="0.22">3</text>
<line x1="562.3" y1="861.9" x2="568.3" y2="861.9" stroke="#222" stroke-width="1.3"/>
<text x="560.3" y="867.0" font-size="14.2" fill="#1a1a1a" text-anchor="end" stroke="#1a1a1a" stroke-width="0.22">4</text>
<line x1="567.0" y1="1000.9" x2="660.8" y2="1000.9" stroke="#222" stroke-width="1.3"/>
<line x1="594.5" y1="1000.9" x2="594.5" y2="1006.9" stroke="#222" stroke-width="1.3"/>
<line x1="637.0" y1="1000.9" x2="637.0" y2="1006.9" stroke="#222" stroke-width="1.3"/>
<text x="594.5" y="1018.7" font-size="14.6" fill="#1a1a1a" text-anchor="middle" stroke="#1a1a1a" stroke-width="0.22">Sham</text>
<text x="637.5" y="1018.7" font-size="14.6" fill="#1a1a1a" text-anchor="middle" stroke="#1a1a1a" stroke-width="0.22">PDAC</text>
<text font-size="14.4" fill="#1a1a1a" text-anchor="middle" transform="translate(533.0,932.8) rotate(-90)" stroke="#1a1a1a" stroke-width="0.22">Relative level</text>
<path d="M590.3 946.8a3.3 3.3 0 1 0 6.6 0a3.3 3.3 0 1 0 -6.6 0M590.3 958.7a3.3 3.3 0 1 0 6.6 0a3.3 3.3 0 1 0 -6.6 0M590.3 965.8a3.3 3.3 0 1 0 6.6 0a3.3 3.3 0 1 0 -6.6 0M585.1 970.9a3.3 3.3 0 1 0 6.6 0a3.3 3.3 0 1 0 -6.6 0M595.4 970.9a3.3 3.3 0 1 0 6.6 0a3.3 3.3 0 1 0 -6.6 0M585.6 978.0a3.3 3.3 0 1 0 6.6 0a3.3 3.3 0 1 0 -6.6 0M595.0 978.0a3.3 3.3 0 1 0 6.6 0a3.3 3.3 0 1 0 -6.6 0M590.3 992.0a3.3 3.3 0 1 0 6.6 0a3.3 3.3 0 1 0 -6.6 0M630.1 882.6a3.3 3.3 0 1 0 6.6 0a3.3 3.3 0 1 0 -6.6 0M630.1 889.6a3.3 3.3 0 1 0 6.6 0a3.3 3.3 0 1 0 -6.6 0M630.1 928.3a3.3 3.3 0 1 0 6.6 0a3.3 3.3 0 1 0 -6.6 0M625.9 947.5a3.3 3.3 0 1 0 6.6 0a3.3 3.3 0 1 0 -6.6 0M634.8 949.8a3.3 3.3 0 1 0 6.6 0a3.3 3.3 0 1 0 -6.6 0M625.9 954.5a3.3 3.3 0 1 0 6.6 0a3.3 3.3 0 1 0 -6.6 0M634.8 956.9a3.3 3.3 0 1 0 6.6 0a3.3 3.3 0 1 0 -6.6 0M630.1 966.9a3.3 3.3 0 1 0 6.6 0a3.3 3.3 0 1 0 -6.6 0" fill="none" stroke="#2a2024" stroke-width="1.2"/>
<text x="615.8" y="874.7" font-size="24" fill="#0a0a0a" text-anchor="middle" letter-spacing="0.8" stroke="#0a0a0a" stroke-width="0.35">*</text>
<line x1="580.7" y1="870.9" x2="651.7" y2="870.9" stroke="#222" stroke-width="1.1"/>
<text x="733.5" y="785.5" font-size="23" fill="#000" font-weight="bold">J</text>
<rect x="779.3" y="771.3" width="113.3" height="16.5" fill="#fff" stroke="#444" stroke-width="1.1"/>
<text x="835.9" y="785.0" font-size="14.4" fill="#1a1a1a" text-anchor="middle" stroke="#1a1a1a" stroke-width="0.22">Sham</text>
<rect x="901.6" y="771.3" width="113.3" height="16.5" fill="#fff" stroke="#444" stroke-width="1.1"/>
<text x="958.2" y="785.0" font-size="14.4" fill="#1a1a1a" text-anchor="middle" stroke="#1a1a1a" stroke-width="0.22">PDAC</text>
<rect x="760.9" y="787.8" width="18.4" height="114.7" fill="#fff" stroke="#444" stroke-width="1.1"/>
<text transform="translate(775.3,899.5) rotate(-90)" font-size="14.4" xml:space="preserve"><tspan fill="#2e9f6c">METTL14</tspan><tspan fill="#222">/ </tspan><tspan fill="#3b88c9">DAPI</tspan></text>
<rect x="760.9" y="905.9" width="18.4" height="113.3" fill="#fff" stroke="#444" stroke-width="1.1"/>
<text font-size="14.4" fill="#1a1a1a" text-anchor="middle" transform="translate(775.3,962.5) rotate(-90)" stroke="#1a1a1a" stroke-width="0.22">Zoom</text>
<clipPath id="c40"><rect x="779.3" y="787.8" width="113.3" height="114.7"/></clipPath>
<g clip-path="url(#c40)">
<rect x="779.3" y="787.8" width="113.3" height="114.7" fill="#04061e"/>
<radialGradient id="g41"><stop offset="0" stop-color="#0c1c58" stop-opacity="0.7"/><stop offset="0.55" stop-color="#0c1c58" stop-opacity="0.32"/><stop offset="1" stop-color="#0c1c58" stop-opacity="0"/></radialGradient>
<ellipse cx="830.3" cy="850.9" rx="68.0" ry="57.4" fill="url(#g41)"/>
<filter id="nz4327" x="0" y="0" width="1" height="1" color-interpolation-filters="sRGB"><feTurbulence type="fractalNoise" baseFrequency="0.6" numOctaves="2" seed="60"/><feColorMatrix values="0 0 0 0 0.15 0 0 0 0 0.25 0 0 0 0 0.8 3.0 0 0 0 -1.6"/></filter>
<rect x="779.3" y="787.8" width="113.3" height="114.7" filter="url(#nz4327)"/>
<g opacity="0.8" stroke-linecap="round" fill="none">
<path stroke="#48b0c0" stroke-width="1.2" d="M814.2 854.1h0M840.5 836.1h0M841.7 826.1h0M808.2 830.0h0M849.8 846.8h0M837.9 890.0h0M840.1 815.4h0M831.1 867.6h0M832.4 813.5h0M818.7 814.4h0M889.4 832.8h0M830.2 871.1h0M836.5 817.4h0M797.3 835.6h0M826.2 806.6h0M830.9 829.8h0M855.3 831.3h0M865.4 817.6h0M852.5 865.7h0M818.7 842.7h0M855.8 827.0h0M842.3 826.4h0M815.4 873.2h0M834.5 828.9h0M808.2 814.4h0M826.3 826.1h0"/>
<path stroke="#3a78d0" stroke-width="0.8" d="M796.2 856.2h0M836.0 880.7h0M784.5 843.0h0M827.0 844.3h0M822.8 811.1h0M801.3 857.8h0M850.8 852.9h0M816.8 833.5h0M837.5 810.5h0M824.6 848.4h0M869.2 865.5h0M813.1 856.0h0M791.3 798.7h0M790.5 838.1h0M825.0 841.9h0M861.8 851.8h0M797.5 839.6h0M871.3 829.1h0M848.2 837.0h0M880.9 812.1h0M813.5 835.0h0M838.1 900.6h0M827.9 795.9h0M845.3 857.4h0M795.6 828.0h0M835.6 868.1h0M878.0 807.2h0M809.4 789.2h0M859.6 832.0h0"/>
<path stroke="#60d8a0" stroke-width="1.2" d="M837.1 855.8h0M841.8 862.1h0M843.0 823.1h0M844.3 847.7h0M848.6 836.7h0M843.0 876.2h0M808.3 792.0h0M843.3 834.2h0M836.5 866.7h0M863.0 876.1h0M803.0 807.7h0M815.0 826.2h0M837.9 825.6h0M810.7 834.6h0M840.3 870.4h0M817.9 812.2h0M798.5 790.2h0M827.8 851.8h0M828.9 864.8h0M822.3 846.6h0M817.7 850.8h0M831.7 829.9h0M882.1 832.7h0M799.3 815.6h0M843.5 838.1h0M848.6 801.1h0M836.2 807.8h0M800.2 802.8h0M791.6 859.9h0"/>
<path stroke="#3a78d0" stroke-width="1.2" d="M807.2 825.7h0M856.7 816.3h0M802.9 854.7h0M892.0 843.9h0M791.3 809.5h0M810.3 861.1h0M826.0 840.5h0M831.9 827.0h0M800.9 854.7h0M822.8 833.9h0M780.7 880.2h0M820.0 853.1h0M856.6 835.5h0M841.6 838.6h0M802.2 836.0h0M855.1 820.4h0M822.8 791.4h0M853.6 807.6h0M793.4 822.3h0M785.2 866.8h0M836.7 848.3h0M814.6 792.8h0M796.7 901.3h0M827.2 867.2h0M880.7 869.1h0M837.9 839.6h0M829.0 838.0h0M825.8 841.1h0"/>
<path stroke="#48b0c0" stroke-width="0.8" d="M824.9 855.1h0M801.2 822.6h0M818.6 842.8h0M836.1 805.9h0M831.5 844.0h0M807.6 809.7h0M854.6 877.3h0M867.9 798.6h0M819.0 794.1h0M892.1 832.7h0M812.1 840.2h0M886.0 865.3h0M838.2 863.9h0M843.5 837.9h0M837.5 794.5h0M834.6 876.4h0M851.4 831.6h0M827.1 828.1h0M839.6 841.0h0M836.5 796.6h0M881.2 875.3h0M853.9 845.6h0M852.6 855.0h0"/>
<path stroke="#50c890" stroke-width="0.8" d="M829.0 800.9h0M876.9 826.6h0M867.6 857.0h0M828.9 852.6h0M836.0 843.2h0M825.9 794.5h0M833.9 802.0h0M888.0 797.7h0M891.5 897.7h0M813.4 830.5h0M865.3 816.2h0M856.6 819.3h0M828.7 796.9h0M833.8 821.9h0M834.2 890.2h0M859.5 887.0h0M872.0 861.0h0M831.1 823.7h0M835.7 871.3h0"/>
<path stroke="#60d8a0" stroke-width="0.8" d="M827.0 795.1h0M858.3 828.7h0M834.3 818.1h0M791.3 875.1h0M807.5 818.8h0M800.2 847.1h0M849.5 842.1h0M792.8 853.3h0M828.6 853.4h0M791.1 895.9h0M828.3 828.9h0M785.9 811.7h0M863.3 810.5h0M803.1 820.1h0M817.2 832.6h0M842.8 823.9h0M823.7 828.9h0M814.0 832.2h0"/>
<path stroke="#50c890" stroke-width="1.2" d="M853.7 862.8h0M813.2 818.5h0M884.1 864.9h0M819.2 855.1h0M804.1 838.2h0M848.9 837.8h0M861.5 821.2h0M826.8 863.5h0M835.4 831.1h0M848.3 876.5h0M842.5 847.7h0M834.0 840.4h0M859.1 827.5h0M803.1 797.9h0M837.7 843.7h0M821.6 814.5h0M805.4 882.6h0M830.6 826.3h0M806.4 826.6h0M840.5 865.9h0M840.6 814.1h0M865.0 852.1h0M830.6 885.4h0M834.1 827.5h0M784.5 789.5h0M834.3 850.3h0M819.3 827.0h0M833.7 833.1h0"/>
</g>
<path d="M755.0,765.0 L824.6,765.0 L847.8,796.6 L824.6,810.3 L807.7,819.8 L793.0,834.6 L779.3,851.5 L779.3,787.1 Z" fill="#02030c" opacity="0.8"/>
<path d="M847.8,796.6 C846.4,797.9 843.2,801.7 839.4,804.0 C835.5,806.3 829.9,807.6 824.6,810.3 C819.3,813.1 813.0,816.2 807.7,820.3 C802.5,824.3 797.5,829.6 793.0,834.6 C788.4,839.6 782.4,847.8 780.3,850.4" fill="none" stroke="#3cb868" stroke-width="1.3"/>
<path d="M847.8,797.1 C846.4,798.2 843.2,801.8 839.4,804.0 C835.5,806.2 829.2,808.1 824.6,810.3 C820.0,812.6 814.1,816.5 812.0,817.7" fill="none" stroke="#58e078" stroke-width="2.2"/>
<filter id="bl55" x="-0.05" y="-0.05" width="1.1" height="1.1"><feGaussianBlur stdDeviation="0.55"/></filter>
<g opacity="0.95" stroke-linecap="round" fill="none" filter="url(#bl55)">
<path stroke="#60d080" stroke-width="1.5" d="M865.5 880.4l0.8 -0.4M859.8 872.1l0.6 -0.2M859.6 881.9l0.5 -0.4M863.3 871.1l1.0 -0.3"/>
<path stroke="#60d080" stroke-width="2.0" d="M862.9 869.4l0.0 -0.0M870.8 874.5l0.4 -0.0"/>
<path stroke="#50e070" stroke-width="1.5" d="M874.4 883.3l0.5 -0.2M861.6 876.2l0.7 -0.0M861.6 868.3l0.4 -0.3M865.5 889.4l0.5 0.1"/>
<path stroke="#50e070" stroke-width="2.0" d="M862.9 888.1l0.6 0.0M865.9 888.8l0.3 0.0"/>
</g>
</g>
<clipPath id="c42"><rect x="779.3" y="787.8" width="113.3" height="114.7"/></clipPath><g clip-path="url(#c42)">
<path d="M891.0,864.1 C889.8,859.9 886.7,845.7 883.7,838.8 C880.7,832.0 878.0,826.5 873.1,823.0 C868.2,819.5 862.2,818.1 854.1,817.7 C846.0,817.4 833.4,818.8 824.6,820.9 C815.8,823.0 807.4,825.6 801.4,830.4 C795.4,835.1 791.2,842.0 788.7,849.4 C786.3,856.8 785.6,867.7 786.6,874.7 C787.7,881.7 789.8,887.3 795.1,891.6 C800.3,895.8 809.8,898.4 818.3,900.0 C826.7,901.6 838.0,901.8 845.7,901.0 C853.4,900.3 860.1,898.8 864.7,895.8 C869.3,892.8 870.3,887.3 873.1,883.1 C875.9,878.9 878.4,874.0 881.6,870.5 C884.7,866.9 890.3,863.4 892.1,862.0" fill="none" stroke="#e8e8f0" stroke-width="1.1" stroke-dasharray="7 3.5"/>
<rect x="815.1" y="825.1" width="26.4" height="26.4" fill="none" stroke="#e8e8f0" stroke-width="1.0" stroke-dasharray="3.5 2"/>
<text x="841.5" y="835.7" font-size="14.2" fill="#f4f0fa" stroke="#f4f0fa" stroke-width="0.22">LPBN</text>
<text x="819.3" y="893.7" font-size="14.2" fill="#f4f0fa" stroke="#f4f0fa" stroke-width="0.22">MPBN</text>
<line x1="877.3" y1="897.9" x2="889.0" y2="897.9" stroke="#ddd" stroke-width="1.2"/>
</g>
<clipPath id="c43"><rect x="901.6" y="787.8" width="113.3" height="114.7"/></clipPath>
<g clip-path="url(#c43)">
<rect x="901.6" y="787.8" width="113.3" height="114.7" fill="#04061e"/>
<radialGradient id="g44"><stop offset="0" stop-color="#0c1c58" stop-opacity="0.7"/><stop offset="0.55" stop-color="#0c1c58" stop-opacity="0.32"/><stop offset="1" stop-color="#0c1c58" stop-opacity="0"/></radialGradient>
<ellipse cx="958.2" cy="845.1" rx="68.0" ry="57.4" fill="url(#g44)"/>
<filter id="nz38032" x="0" y="0" width="1" height="1" color-interpolation-filters="sRGB"><feTurbulence type="fractalNoise" baseFrequency="0.6" numOctaves="2" seed="62"/><feColorMatrix values="0 0 0 0 0.15 0 0 0 0 0.25 0 0 0 0 0.8 3.0 0 0 0 -1.6"/></filter>
<rect x="901.6" y="787.8" width="113.3" height="114.7" filter="url(#nz38032)"/>
<g opacity="0.85" stroke-linecap="round" fill="none">
<path stroke="#50d890" stroke-width="1.2" d="M941.9 846.1h0M939.7 826.8h0M997.7 845.5h0M945.3 818.7h0M951.6 871.8h0M918.3 845.7h0M941.4 807.5h0M930.4 814.7h0M952.3 850.9h0M916.0 813.7h0M985.8 818.5h0M921.3 881.4h0M923.3 852.5h0M1012.8 817.9h0M952.7 822.0h0M990.1 851.0h0M960.5 803.5h0M936.5 847.1h0M940.1 836.1h0M966.2 887.7h0M936.8 838.0h0M947.8 832.8h0M967.8 834.7h0M930.6 848.5h0M980.7 806.4h0M930.6 845.6h0M966.5 816.2h0M1010.2 850.5h0"/>
<path stroke="#60e0a0" stroke-width="1.2" d="M938.6 839.2h0M913.4 819.6h0M946.9 822.9h0M982.4 827.5h0M971.8 809.6h0M931.8 831.2h0M927.7 852.2h0M1003.2 841.2h0M969.6 847.1h0M965.6 844.6h0M930.8 839.5h0M930.8 857.1h0M983.5 863.4h0M967.9 822.2h0M939.5 821.9h0M990.3 839.2h0M928.7 840.6h0M930.2 828.9h0M963.5 823.2h0M958.1 821.3h0M1008.2 851.2h0M958.3 837.3h0M966.8 825.8h0M914.2 809.6h0M982.2 828.3h0M937.9 848.6h0M935.2 813.7h0M980.5 790.4h0M994.4 818.5h0M961.4 841.6h0M948.3 827.7h0M960.0 856.4h0M933.6 898.6h0M927.7 846.2h0M919.8 817.7h0M938.1 787.9h0"/>
<path stroke="#50d890" stroke-width="0.8" d="M928.4 857.7h0M930.8 830.9h0M957.5 826.8h0M1012.5 804.8h0M936.4 839.2h0M960.6 835.2h0M962.7 849.2h0M927.2 808.8h0M962.4 853.4h0M916.8 849.3h0M950.1 859.9h0M979.2 876.3h0M934.1 887.6h0M908.6 801.0h0M933.0 878.5h0M919.8 896.7h0M941.0 817.5h0M988.7 826.2h0M954.5 824.1h0M951.4 802.7h0M998.1 863.2h0M938.9 849.4h0M967.9 814.5h0M929.3 799.9h0M927.0 859.0h0M956.4 836.7h0M958.7 885.2h0M951.9 842.6h0M926.0 792.6h0M942.7 867.8h0M954.6 832.8h0M955.4 808.1h0M941.4 823.2h0M955.0 881.6h0M996.1 809.7h0M946.6 837.4h0M939.1 807.7h0M947.2 821.6h0M987.7 874.3h0M908.3 818.5h0M936.5 838.2h0M981.4 797.8h0"/>
<path stroke="#3a78d0" stroke-width="0.8" d="M942.6 882.2h0M940.5 834.6h0M960.5 789.7h0M1001.6 858.1h0M939.1 829.0h0M976.8 830.3h0M934.0 822.5h0M943.7 862.4h0M995.2 816.8h0M926.6 835.3h0M1006.6 858.3h0M1012.7 807.3h0M985.2 857.0h0M968.7 881.7h0M1013.1 793.9h0M910.3 868.8h0M943.4 835.3h0M957.3 828.3h0M977.5 798.3h0M925.1 789.3h0M1005.2 823.5h0M958.4 809.2h0M995.2 817.0h0M926.3 859.7h0M945.2 797.3h0M980.5 821.7h0M935.4 850.4h0M992.3 800.6h0M965.6 810.6h0M964.4 853.7h0M1003.2 797.6h0M952.4 823.9h0M949.4 801.8h0M924.0 900.4h0M919.1 814.3h0M925.1 892.8h0M905.4 894.3h0M926.6 827.6h0M904.0 820.0h0"/>
<path stroke="#48b8c0" stroke-width="0.8" d="M982.4 874.3h0M956.0 818.3h0M970.4 826.9h0M904.4 821.2h0M973.2 818.6h0M964.8 847.4h0M927.6 842.8h0M913.5 833.9h0M977.3 848.5h0M903.4 832.2h0M947.8 865.0h0M966.5 812.4h0M958.6 794.3h0M992.3 887.2h0M972.8 834.2h0M916.8 862.9h0M919.2 840.8h0M906.2 851.5h0M928.3 839.6h0M954.6 856.8h0M943.7 849.6h0M982.3 789.1h0"/>
<path stroke="#48b8c0" stroke-width="1.2" d="M928.7 799.4h0M931.7 846.1h0M959.4 834.5h0M933.8 816.7h0M949.7 808.5h0M952.9 815.6h0M968.5 818.2h0M916.2 816.6h0M967.8 854.1h0M970.1 837.8h0M971.5 821.5h0M1000.3 878.5h0M904.3 891.9h0M920.5 828.8h0M929.6 853.1h0M983.8 828.8h0M924.4 823.6h0M945.8 826.5h0M986.5 808.3h0M967.7 883.6h0M942.1 813.1h0M942.6 788.9h0M1009.7 824.6h0M935.8 826.9h0M965.0 865.8h0M924.9 850.6h0M970.9 854.9h0M924.5 829.6h0M960.3 822.9h0M941.5 850.7h0M922.9 872.0h0M942.8 804.8h0M944.5 851.5h0M998.6 838.0h0M945.7 872.1h0"/>
<path stroke="#60e0a0" stroke-width="0.8" d="M938.0 798.9h0M978.8 842.1h0M967.1 845.0h0M926.3 821.5h0M964.5 821.3h0M973.8 791.8h0M932.6 788.6h0M966.9 790.1h0M953.4 835.2h0M923.9 802.8h0M954.9 862.3h0M904.3 868.5h0M994.2 892.0h0M976.0 829.6h0M950.7 896.1h0M905.4 863.9h0M992.3 861.0h0M996.7 892.9h0M933.0 854.2h0M945.8 789.1h0M942.8 827.1h0M952.6 835.7h0M948.2 790.0h0M977.1 821.0h0M935.1 838.1h0M966.2 896.3h0M979.7 875.5h0M977.4 820.1h0"/>
<path stroke="#3a78d0" stroke-width="1.2" d="M940.8 834.8h0M976.7 850.2h0M935.8 892.2h0M991.1 854.1h0M1003.6 860.1h0M1006.4 839.1h0M930.1 813.2h0M943.4 884.8h0M911.0 834.5h0M935.5 826.3h0M946.7 817.8h0M963.5 810.2h0M979.2 802.5h0M954.0 835.0h0M943.8 803.2h0M952.5 848.9h0M955.0 806.2h0M962.1 857.9h0M970.7 805.5h0M921.8 844.4h0M951.8 834.6h0M963.9 857.4h0M956.2 862.1h0M932.6 855.2h0M939.7 816.2h0M944.8 835.1h0M973.3 811.8h0M925.5 876.8h0M971.2 816.8h0M963.4 830.0h0"/>
</g>
<path d="M901.6,787.1 L936.4,787.1 L951.2,807.2 L934.3,822.0 L917.4,840.9 L901.6,858.9 Z" fill="#02030c" opacity="0.8"/>
<path d="M951.2,807.2 C948.3,809.7 939.9,816.7 934.3,822.4 C928.7,828.0 922.7,835.0 917.4,840.9 C912.1,846.8 905.1,855.0 902.6,857.8" fill="none" stroke="#38a890" stroke-width="1.2"/>
<path d="M936.8,790.3 C938.0,791.7 941.5,795.8 943.8,798.7 C946.1,801.7 949.6,806.3 950.7,807.8" fill="none" stroke="#58e870" stroke-width="3.6"/>
<path d="M950.7,808.2 C949.4,809.5 945.5,813.3 942.7,815.6 C940.0,818.0 935.7,821.2 934.3,822.4" fill="none" stroke="#50d870" stroke-width="1.8"/>
<g opacity="0.95" stroke-linecap="round" fill="none" filter="url(#bl55)">
<path stroke="#60d080" stroke-width="2.0" d="M1011.1 841.8l0.0 -0.0"/>
<path stroke="#50e070" stroke-width="2.0" d="M1008.5 838.1l0.0 0.0M1008.4 856.5l0.0 -0.0M1012.5 849.5l0.0 -0.0M1011.0 840.1l0.0 -0.0"/>
<path stroke="#50e070" stroke-width="1.5" d="M1014.5 866.7l0.6 -0.3M1012.0 860.4l0.8 -0.6"/>
<path stroke="#60d080" stroke-width="1.5" d="M1008.0 864.8l0.1 -0.1"/>
</g>
</g>
<clipPath id="c45"><rect x="901.6" y="787.8" width="113.3" height="114.7"/></clipPath><g clip-path="url(#c45)">
<path d="M1014.9,834.6 C1013.0,832.0 1009.2,822.1 1003.9,818.8 C998.5,815.4 990.5,814.6 982.8,814.6 C975.1,814.6 965.6,816.5 957.5,818.8 C949.4,821.1 940.3,823.9 934.3,828.3 C928.3,832.7 924.6,838.8 921.6,845.2 C918.6,851.5 916.4,859.2 916.4,866.2 C916.4,873.3 917.6,881.9 921.6,887.3 C925.7,892.8 932.9,896.7 940.6,898.9 C948.3,901.2 959.6,901.4 968.0,901.0 C976.5,900.7 985.3,899.8 991.2,896.8 C997.2,893.8 1000.6,888.6 1003.9,883.1 C1007.2,877.7 1010.0,867.3 1011.3,864.1" fill="none" stroke="#e8e8f0" stroke-width="1.1" stroke-dasharray="7 3.5"/>
<rect x="942.7" y="827.2" width="26.4" height="26.4" fill="none" stroke="#e8e8f0" stroke-width="1.0" stroke-dasharray="3.5 2"/>
<text x="970.6" y="835.7" font-size="14.2" fill="#f4f0fa" stroke="#f4f0fa" stroke-width="0.22">LPBN</text>
<text x="954.3" y="892.6" font-size="14.2" fill="#f4f0fa" stroke="#f4f0fa" stroke-width="0.22">MPBN</text>
</g>
<clipPath id="c46"><rect x="779.3" y="905.9" width="113.3" height="113.3"/></clipPath>
<g clip-path="url(#c46)">
<rect x="779.3" y="905.9" width="113.3" height="113.3" fill="#03051a"/>
<radialGradient id="g47"><stop offset="0" stop-color="#10301c" stop-opacity="0.5"/><stop offset="0.55" stop-color="#10301c" stop-opacity="0.23"/><stop offset="1" stop-color="#10301c" stop-opacity="0"/></radialGradient>
<ellipse cx="847.3" cy="996.5" rx="56.6" ry="45.3" fill="url(#g47)"/>
<filter id="bl60" x="-0.05" y="-0.05" width="1.1" height="1.1"><feGaussianBlur stdDeviation="0.6"/></filter>
<g opacity="0.95" stroke-linecap="round" fill="none" filter="url(#bl60)">
<path stroke="#2c48e8" stroke-width="3.5" d="M825.4 938.8l1.7 -0.5M808.6 937.4l1.8 -0.6M781.2 922.8l1.8 0.2M780.8 910.8l1.1 -0.4M791.2 949.6l2.5 -1.0M849.8 934.7l1.4 -0.1M886.7 924.5l2.6 -0.8M861.6 926.8l2.1 -0.7M851.9 979.8l0.6 0.0M887.6 1007.7l2.2 -0.7M851.9 930.6l2.7 -0.9M866.3 1018.1l1.9 -1.2"/>
<path stroke="#2c48e8" stroke-width="3.0" d="M816.8 979.1l1.9 -1.4M862.2 990.3l2.1 -1.1M867.1 1015.9l2.8 -1.1M850.6 968.3l2.1 -1.3M823.6 981.3l1.3 -0.1M784.5 949.5l2.4 0.1M860.7 1009.0l1.6 -0.3M846.7 973.5l1.0 -0.6"/>
<path stroke="#2438e0" stroke-width="4.0" d="M853.4 976.6l0.3 -0.2M821.6 929.2l0.1 -0.0M854.9 1015.5l1.4 -0.2M807.1 983.8l1.0 -0.7M882.7 1007.2l0.3 -0.0M856.6 939.2l2.2 -0.5M842.0 932.2l0.1 -0.1M846.1 917.1l1.8 -0.4M796.4 986.2l0.3 -0.1"/>
<path stroke="#2438e0" stroke-width="3.5" d="M794.1 984.0l1.1 -0.7M799.2 996.1l1.1 0.2M852.1 989.0l0.7 -0.4M853.7 1005.2l2.0 -0.1M786.5 953.2l1.7 -0.5M877.9 912.1l0.8 -0.5M889.0 949.8l1.3 -0.5M795.1 920.3l2.8 0.5M886.8 950.9l1.8 -0.2M787.6 916.1l2.6 -0.6M811.5 979.5l1.3 -0.7"/>
<path stroke="#2c48e8" stroke-width="4.0" d="M820.3 932.2l1.1 -0.4M868.2 924.4l0.6 -0.4M853.6 970.5l0.1 0.0M800.1 944.8l2.3 -0.7M833.7 986.8l2.4 -0.2M859.1 1015.4l1.0 0.0M867.4 913.2l1.8 -0.2M874.5 1013.3l0.9 -0.4M865.9 1012.7l0.1 -0.0M815.1 971.6l2.3 0.3M867.7 1002.1l1.6 0.1M833.1 936.4l1.2 -0.7M848.3 956.3l1.0 -0.2M838.3 913.0l0.7 -0.0"/>
<path stroke="#1c2cc0" stroke-width="4.0" d="M865.0 994.4l0.7 -0.4M845.5 950.7l2.0 0.3M853.3 1016.7l0.3 -0.1M807.8 917.8l1.9 -0.4M800.6 938.0l1.5 -0.1M844.0 1007.4l0.2 -0.1M825.1 921.5l1.2 -0.7M834.8 993.6l1.7 -0.6M785.5 936.6l2.0 -0.3M855.9 959.5l0.6 -0.0"/>
<path stroke="#2438e0" stroke-width="3.0" d="M778.8 990.1l2.8 -1.4M844.2 986.3l1.1 -0.5M806.1 976.3l2.4 -1.7M836.0 939.6l1.9 -1.3M885.0 908.8l2.3 0.1M819.6 938.0l1.7 -1.2M816.7 980.7l1.6 0.0M805.7 932.7l2.2 -1.4M858.7 965.3l1.7 -0.2"/>
<path stroke="#3060e0" stroke-width="4.0" d="M871.4 924.4l1.2 -0.4M880.6 971.0l2.0 -1.3M813.7 922.7l1.3 0.2M810.1 935.5l0.6 -0.3M801.0 925.0l0.7 0.0M799.6 985.8l0.1 -0.0M846.9 986.7l0.5 0.0M842.9 977.5l1.5 -0.0"/>
<path stroke="#3060e0" stroke-width="3.5" d="M877.1 977.3l1.6 -0.7M869.7 962.1l2.3 0.2M837.5 919.1l1.5 -0.1M857.7 915.3l2.4 -1.3M795.5 930.4l2.3 -1.2M789.4 1019.1l0.6 -0.2M806.4 1007.7l0.5 -0.3M874.5 920.7l2.0 0.2M790.8 954.0l2.3 -1.6"/>
<path stroke="#1c2cc0" stroke-width="3.0" d="M802.1 936.7l2.6 -1.4M874.5 990.1l2.3 -1.4M861.9 961.1l2.4 0.3M835.6 972.2l1.1 -0.7M856.8 914.8l2.0 -1.4M796.5 927.7l2.4 0.1M825.8 1004.3l2.1 -0.6M808.1 970.8l2.8 0.3M836.8 973.6l2.5 0.3M847.1 951.1l2.7 0.3M806.7 934.9l1.8 -1.3"/>
<path stroke="#1c2cc0" stroke-width="3.5" d="M794.0 996.3l1.8 -0.2M884.0 959.9l0.9 -0.5M801.2 970.6l1.9 -1.4M820.0 1009.4l2.2 -0.6M794.5 951.1l2.7 -0.7M881.4 991.6l1.1 -0.9M859.6 908.3l1.1 -0.3M793.9 979.0l0.6 0.1M885.6 916.0l2.6 0.2M842.5 998.6l1.8 -1.3M810.7 908.2l2.0 -0.1"/>
<path stroke="#3060e0" stroke-width="3.0" d="M818.7 924.3l2.6 -0.1M851.1 980.8l3.0 -0.4M868.9 966.2l1.4 -0.2M791.2 1016.0l2.4 -1.2M850.2 1013.9l2.8 -0.5M831.9 971.3l1.7 -0.6M857.3 1017.3l2.6 -1.2M868.4 960.7l2.4 -1.6"/>
</g>
<g opacity="0.95" stroke-linecap="round" fill="none" filter="url(#bl60)">
<path stroke="#60e0a0" stroke-width="4.0" d="M787.0 955.1l0.7 -0.0"/>
<path stroke="#78e8b0" stroke-width="3.5" d="M867.3 917.1l1.5 -0.9M782.1 918.5l1.4 0.2M792.1 960.0l1.2 -0.9M837.3 969.5l2.2 -0.1M801.7 981.6l1.1 0.2M801.3 950.9l1.9 -1.4M810.3 926.7l1.0 -0.7M817.3 963.3l0.9 -0.0M831.1 908.9l2.2 0.2M840.3 924.9l2.7 -0.2"/>
<path stroke="#60e0a0" stroke-width="3.5" d="M859.4 987.2l2.1 -0.7M813.4 938.9l1.3 -0.0M808.8 915.2l2.0 -0.7M873.8 911.2l1.1 -0.9M801.3 972.4l0.9 -0.7"/>
<path stroke="#50b0d8" stroke-width="3.0" d="M859.0 985.3l1.5 -0.9M876.2 920.3l2.7 -1.7M807.6 939.8l2.1 -1.0"/>
<path stroke="#58d8b0" stroke-width="2.5" d="M818.2 1014.9l2.2 -1.0M866.2 997.3l1.8 -0.7M785.3 990.3l3.0 -0.8M832.5 936.3l1.7 0.2M838.1 949.8l1.6 -0.6M875.7 939.2l3.8 0.1"/>
<path stroke="#48c8c0" stroke-width="3.0" d="M862.2 974.6l1.8 -0.5M885.6 933.6l2.2 -0.6M797.8 992.1l3.0 -0.6M849.1 983.6l1.4 -0.8M810.1 1019.3l1.4 -1.1"/>
<path stroke="#60e0a0" stroke-width="3.0" d="M882.8 1015.9l1.3 -1.1M855.0 984.9l1.2 -0.0M852.3 1006.0l1.0 -0.1M788.4 942.6l2.8 -1.1M821.6 909.6l2.2 -0.8M824.1 954.4l1.9 -0.0M837.8 995.7l1.5 -0.1M790.3 951.9l1.9 0.1"/>
<path stroke="#48c8c0" stroke-width="2.5" d="M779.4 959.7l2.6 -0.5M837.0 926.0l1.6 -0.7M814.4 941.4l1.4 -0.7M859.7 965.5l3.8 -0.8M791.7 940.0l3.3 -0.2"/>
<path stroke="#78e8b0" stroke-width="3.0" d="M841.3 940.0l3.0 0.3M793.9 940.4l3.3 -0.1M814.1 1007.4l2.6 0.4M885.2 921.7l2.9 -1.3M791.8 977.3l2.7 -1.9M886.0 995.8l1.8 -1.1M779.9 974.7l1.0 -0.4M873.9 946.6l1.9 -0.7"/>
<path stroke="#50b0d8" stroke-width="3.5" d="M841.7 948.5l0.9 -0.7M848.0 941.3l1.7 0.3M846.2 1005.3l1.4 -0.5M837.8 919.0l0.6 -0.4"/>
<path stroke="#58d8b0" stroke-width="3.5" d="M842.9 1013.8l1.9 0.1M794.1 980.7l2.0 -0.9M806.9 1013.1l0.9 -0.7M856.0 983.9l1.8 0.1M847.5 943.4l1.5 -0.7"/>
<path stroke="#50b0d8" stroke-width="2.5" d="M880.7 934.6l3.0 -1.1M871.3 986.4l1.6 -0.6M802.5 963.3l3.3 -1.0M850.3 957.0l3.1 -1.8"/>
<path stroke="#48c8c0" stroke-width="3.5" d="M796.7 998.4l2.2 0.2M780.4 1012.6l0.7 -0.0M884.6 941.9l1.7 -0.2"/>
<path stroke="#58d8b0" stroke-width="3.0" d="M859.4 998.7l2.4 -0.5M842.8 974.4l1.9 -0.5M843.9 907.2l1.2 -0.6"/>
<path stroke="#78e8b0" stroke-width="2.5" d="M787.4 1005.6l1.8 -1.2M801.1 992.6l2.4 -1.5M866.0 941.9l1.4 -0.9M818.9 950.9l3.8 -0.8"/>
<path stroke="#48c8c0" stroke-width="4.0" d="M778.9 951.8l1.4 -1.1"/>
</g>
<line x1="860.0" y1="1015.0" x2="889.0" y2="1015.0" stroke="#bbb" stroke-width="1.4"/>
</g>
<clipPath id="c48"><rect x="901.6" y="905.9" width="113.3" height="113.3"/></clipPath>
<g clip-path="url(#c48)">
<rect x="901.6" y="905.9" width="113.3" height="113.3" fill="#03051a"/>
<radialGradient id="g49"><stop offset="0" stop-color="#0c2c20" stop-opacity="0.5"/><stop offset="0.55" stop-color="#0c2c20" stop-opacity="0.23"/><stop offset="1" stop-color="#0c2c20" stop-opacity="0"/></radialGradient>
<ellipse cx="958.2" cy="962.5" rx="68.0" ry="68.0" fill="url(#g49)"/>
<g opacity="0.95" stroke-linecap="round" fill="none" filter="url(#bl60)">
<path stroke="#2438e0" stroke-width="3.5" d="M985.1 1012.6l1.1 -0.2M941.2 993.6l2.8 0.1M973.8 965.9l1.1 -0.3M934.5 914.7l1.2 -0.4M981.1 925.2l1.7 -0.7M949.7 1016.1l2.2 -0.5M983.4 949.5l1.3 -0.3M975.2 929.8l1.0 -0.3M978.3 1019.2l1.1 -0.1M1007.3 940.4l2.4 -0.4M973.7 918.3l1.5 -0.3M1006.7 957.4l0.5 -0.2M929.6 1006.8l1.6 -1.0M927.7 954.5l2.2 -1.1M940.5 968.9l2.4 -1.0M952.5 912.9l1.6 -0.2"/>
<path stroke="#3060e0" stroke-width="3.5" d="M982.5 982.3l1.4 0.2M977.8 975.1l2.2 0.2M998.0 921.1l2.3 -0.4M1011.0 934.9l1.6 0.0M979.6 940.8l2.0 -0.1M954.3 1001.9l0.9 -0.1M926.3 1011.6l2.6 -1.1M904.2 971.7l1.2 -0.4"/>
<path stroke="#2438e0" stroke-width="4.0" d="M988.8 994.6l1.1 -0.3M904.5 965.4l0.5 -0.2M1013.8 954.4l0.6 0.1M908.4 937.8l0.7 -0.3M911.0 1003.0l1.0 -0.3M937.8 920.4l1.0 -0.5M954.8 914.4l0.1 0.0M1011.7 1014.7l0.9 -0.6M911.2 949.1l1.9 -0.7M966.5 998.9l1.0 -0.5M960.8 998.3l1.1 -0.7M967.1 956.1l1.5 -0.5"/>
<path stroke="#2c48e8" stroke-width="3.5" d="M907.5 996.0l0.8 -0.5M948.3 914.8l2.1 -1.2M998.8 945.6l1.4 -0.2M1012.7 912.0l0.7 0.0M930.4 917.4l2.3 -1.5M919.7 953.3l0.8 -0.6M966.6 992.9l1.7 0.0M964.8 977.3l1.6 -0.7"/>
<path stroke="#2c48e8" stroke-width="4.0" d="M948.6 966.7l2.1 -0.2M1014.2 949.6l0.2 -0.0M909.3 966.3l1.7 -0.9M926.7 909.7l1.5 -0.1M941.8 908.2l0.3 -0.1M955.6 918.2l1.4 -0.5M935.5 943.5l0.8 -0.4M921.2 948.4l2.1 -1.0"/>
<path stroke="#1c2cc0" stroke-width="3.0" d="M967.1 977.6l2.5 -1.6M968.3 1016.6l1.7 -0.5M967.3 954.3l1.2 0.1M1001.5 936.0l1.9 -0.3M970.2 913.7l3.2 -1.1M967.8 907.9l0.9 -0.5M1006.7 987.1l1.0 0.2M927.6 978.5l2.8 -1.4"/>
<path stroke="#1c2cc0" stroke-width="3.5" d="M1008.2 949.6l1.2 -0.9M980.9 996.9l2.6 0.2M971.0 948.3l0.8 -0.2M910.5 909.8l0.6 0.1M984.9 954.1l2.4 -0.3"/>
<path stroke="#3060e0" stroke-width="3.0" d="M914.2 990.6l2.5 -1.5M926.1 969.8l2.7 -0.1M942.7 910.3l2.0 -0.9M932.4 959.4l2.5 -0.8M956.1 955.6l2.1 0.2M1005.8 978.7l2.7 -1.9M1011.9 913.3l3.0 -1.1M915.6 956.6l1.0 -0.7M943.1 995.8l2.0 -1.4M1007.4 983.0l2.7 0.3M971.4 912.5l2.6 -0.4M947.3 1015.0l1.7 -1.1M935.9 934.7l3.2 -0.3"/>
<path stroke="#3060e0" stroke-width="4.0" d="M955.6 959.1l1.4 -0.5M957.0 984.2l1.6 -0.9M932.6 967.3l0.9 -0.3M926.2 924.6l0.2 -0.1M923.0 966.1l1.7 0.1M929.5 985.7l1.0 0.0M909.1 913.6l0.8 0.0"/>
<path stroke="#2c48e8" stroke-width="3.0" d="M914.6 971.0l1.8 0.3M921.2 976.4l2.9 -1.3M969.0 1016.5l1.0 -0.1M950.0 916.3l2.6 0.0M936.9 1010.5l2.1 -1.6M1002.7 975.6l1.4 -0.4M976.1 1008.6l2.8 -0.3M1010.8 943.8l2.6 -2.0M1008.6 938.5l1.9 -0.8M1012.3 979.9l1.8 -0.7M975.3 1018.7l1.0 -0.4M900.9 922.8l2.8 0.0M977.0 917.5l2.2 -0.8"/>
<path stroke="#1c2cc0" stroke-width="4.0" d="M903.1 934.1l0.7 -0.1M1012.2 966.4l0.6 -0.1M926.1 953.7l0.3 -0.2M959.4 988.0l0.4 -0.1M920.3 924.0l2.2 -0.8M929.7 982.0l0.4 -0.2M942.8 975.5l2.3 -0.2"/>
<path stroke="#2438e0" stroke-width="3.0" d="M980.6 948.5l2.5 -0.2M998.3 921.7l1.4 -0.3M997.0 1018.3l2.4 0.2M952.6 939.5l2.3 -1.8M909.2 1002.8l1.5 -0.5"/>
</g>
<g opacity="0.95" stroke-linecap="round" fill="none" filter="url(#bl60)">
<path stroke="#60f090" stroke-width="4.0" d="M978.6 917.2l1.1 -0.8M980.6 914.4l0.6 -0.3M903.6 916.2l1.5 -0.9M947.5 951.6l1.3 -0.6M934.4 959.2l2.2 -0.5"/>
<path stroke="#60c8d0" stroke-width="3.5" d="M999.0 996.5l3.0 -1.1M964.9 966.3l1.0 -0.2M918.3 938.3l1.0 -0.3M908.2 928.3l2.2 -1.3M959.3 948.5l3.3 -0.5M996.9 959.4l3.3 0.6M937.5 960.3l0.9 -0.3"/>
<path stroke="#60c8d0" stroke-width="4.0" d="M995.3 942.3l0.8 0.0M931.5 970.5l3.1 -0.0M982.8 974.7l1.3 -0.6M992.5 936.7l1.1 -0.3"/>
<path stroke="#60f090" stroke-width="3.5" d="M908.1 938.8l1.5 -1.0M903.5 934.9l3.1 -1.5M929.3 964.0l2.2 -1.4M950.1 908.8l1.4 -0.1M1000.6 988.0l2.7 -1.5M946.8 970.8l2.0 0.1M943.3 1012.2l1.5 -0.7M994.5 908.3l1.9 -1.2M974.7 937.6l2.7 -2.1"/>
<path stroke="#60c8d0" stroke-width="3.0" d="M975.6 991.4l1.7 0.0M924.4 1014.5l1.3 -1.1M982.3 923.2l2.0 -0.3M922.3 945.9l2.1 -1.3M1006.9 932.7l3.6 -0.0M913.1 973.2l1.3 -0.8M1005.2 973.1l2.0 -0.2"/>
<path stroke="#60c8d0" stroke-width="2.5" d="M971.1 913.7l1.9 -0.7M966.0 928.4l4.1 -0.3M902.2 914.0l3.4 -1.5M934.8 915.8l3.2 -2.3"/>
<path stroke="#50d8b0" stroke-width="2.5" d="M909.1 942.9l3.3 0.4M1007.9 1017.9l3.4 0.5"/>
<path stroke="#80f0a0" stroke-width="3.0" d="M909.4 919.7l3.8 0.4M994.4 1014.8l2.1 -0.2M941.5 997.4l2.2 -0.7M912.7 972.3l3.3 -2.3M930.5 906.8l2.1 0.1M977.3 932.3l1.3 -0.7M977.7 987.5l4.2 0.2M936.6 996.6l1.3 -0.5M1011.8 928.3l2.5 -0.4M980.0 949.2l1.8 -0.3M976.7 929.6l3.2 0.5M960.9 992.0l1.8 -1.0M991.7 962.9l4.1 -0.0"/>
<path stroke="#80f0a0" stroke-width="4.0" d="M976.6 977.8l1.6 -1.0M942.5 919.9l1.7 -0.8M937.6 1017.7l1.2 0.2M995.7 974.0l2.8 -0.2M972.2 1002.7l0.4 -0.3M935.5 1001.0l1.9 -1.1"/>
<path stroke="#50d8b0" stroke-width="3.0" d="M971.6 952.0l3.4 -1.2M966.1 967.2l2.1 -1.4M949.1 917.2l3.2 0.0M902.6 963.8l2.5 -2.0M985.8 969.7l2.8 -0.8M955.7 910.7l3.6 -0.4M933.8 965.5l2.0 -0.1M947.4 931.1l2.3 -1.3M907.9 907.0l3.1 0.4"/>
<path stroke="#50d8b0" stroke-width="4.0" d="M982.4 920.4l0.9 -0.3M951.7 954.7l2.4 0.4M973.8 938.3l3.1 0.2M984.4 943.1l2.0 -0.7"/>
<path stroke="#60f090" stroke-width="2.5" d="M943.9 991.3l4.4 -0.2M926.6 982.6l2.9 -1.7"/>
<path stroke="#80f0a0" stroke-width="3.5" d="M977.2 1013.1l3.6 -0.1M958.2 944.3l1.4 -0.8M900.7 952.9l2.5 -0.1M980.1 958.6l1.2 -0.6"/>
<path stroke="#58e8a0" stroke-width="3.0" d="M989.2 933.1l1.7 -0.0M983.5 960.6l4.0 -1.0M937.0 913.6l3.4 0.6M942.3 980.8l3.0 -1.8M991.5 1013.3l3.0 -1.2M938.4 1000.5l4.0 0.0M946.9 912.2l1.8 -0.7M917.5 938.2l2.7 -0.6M907.7 964.6l3.5 -0.4M969.9 950.4l3.7 0.6"/>
<path stroke="#58e8a0" stroke-width="4.0" d="M926.7 922.3l2.9 -0.3M1014.3 914.4l1.0 -0.6M902.5 917.0l0.7 -0.4M931.8 937.5l2.6 -0.9"/>
<path stroke="#60f090" stroke-width="3.0" d="M1010.5 931.2l2.2 -0.6M1004.9 912.8l2.3 -1.2M944.5 1001.9l3.9 -1.0"/>
<path stroke="#50d8b0" stroke-width="3.5" d="M1008.4 961.3l3.2 -1.5M990.9 1012.4l1.6 -0.4M990.9 1003.8l2.8 -2.0M940.5 908.3l3.5 -0.1M998.9 941.5l1.1 -0.3"/>
<path stroke="#58e8a0" stroke-width="3.5" d="M988.4 1007.4l2.9 -1.7M924.0 939.9l1.6 -0.9M994.0 995.9l3.6 -0.2M951.6 945.0l1.5 -0.2M994.4 972.3l3.0 -1.8M946.0 997.2l3.6 -0.9"/>
<path stroke="#58e8a0" stroke-width="2.5" d="M934.2 910.8l2.1 0.3"/>
</g>
</g>
<rect x="1097.0" y="890.8" width="23.2" height="85.8" fill="#8caccc"/>
<line x1="1108.6" y1="890.8" x2="1108.6" y2="881.7" stroke="#8caccc" stroke-width="1.3"/>
<line x1="1103.6" y1="881.7" x2="1113.6" y2="881.7" stroke="#8caccc" stroke-width="1.3"/>
<rect x="1133.6" y="853.3" width="23.4" height="123.3" fill="#e6b5c1"/>
<line x1="1145.3" y1="853.3" x2="1145.3" y2="844.1" stroke="#e6b5c1" stroke-width="1.3"/>
<line x1="1140.3" y1="844.1" x2="1150.3" y2="844.1" stroke="#e6b5c1" stroke-width="1.3"/>
<rect x="1194.5" y="925.6" width="23.0" height="51.0" fill="#8caccc"/>
<line x1="1206.0" y1="925.6" x2="1206.0" y2="916.5" stroke="#8caccc" stroke-width="1.3"/>
<line x1="1201.0" y1="916.5" x2="1211.0" y2="916.5" stroke="#8caccc" stroke-width="1.3"/>
<rect x="1231.2" y="925.6" width="23.0" height="51.0" fill="#e6b5c1"/>
<line x1="1242.7" y1="925.6" x2="1242.7" y2="913.7" stroke="#e6b5c1" stroke-width="1.3"/>
<line x1="1237.7" y1="913.7" x2="1247.7" y2="913.7" stroke="#e6b5c1" stroke-width="1.3"/>
<line x1="1083.7" y1="977.2" x2="1083.7" y2="793.8" stroke="#222" stroke-width="1.3"/>
<line x1="1076.7" y1="976.6" x2="1083.7" y2="976.6" stroke="#222" stroke-width="1.3"/>
<text x="1075.1" y="981.6" font-size="13.9" fill="#1a1a1a" text-anchor="end" stroke="#1a1a1a" stroke-width="0.22">0</text>
<line x1="1076.7" y1="940.2" x2="1083.7" y2="940.2" stroke="#222" stroke-width="1.3"/>
<text x="1075.1" y="945.2" font-size="13.9" fill="#1a1a1a" text-anchor="end" stroke="#1a1a1a" stroke-width="0.22">20</text>
<line x1="1076.7" y1="903.7" x2="1083.7" y2="903.7" stroke="#222" stroke-width="1.3"/>
<text x="1075.1" y="908.7" font-size="13.9" fill="#1a1a1a" text-anchor="end" stroke="#1a1a1a" stroke-width="0.22">40</text>
<line x1="1076.7" y1="867.3" x2="1083.7" y2="867.3" stroke="#222" stroke-width="1.3"/>
<text x="1075.1" y="872.3" font-size="13.9" fill="#1a1a1a" text-anchor="end" stroke="#1a1a1a" stroke-width="0.22">60</text>
<line x1="1076.7" y1="830.8" x2="1083.7" y2="830.8" stroke="#222" stroke-width="1.3"/>
<text x="1075.1" y="835.8" font-size="13.9" fill="#1a1a1a" text-anchor="end" stroke="#1a1a1a" stroke-width="0.22">80</text>
<line x1="1076.7" y1="794.4" x2="1083.7" y2="794.4" stroke="#222" stroke-width="1.3"/>
<text x="1075.1" y="799.4" font-size="13.9" fill="#1a1a1a" text-anchor="end" stroke="#1a1a1a" stroke-width="0.22">100</text>
<line x1="1076.0" y1="976.6" x2="1262.5" y2="976.6" stroke="#222" stroke-width="1.3"/>
<line x1="1126.9" y1="976.6" x2="1126.9" y2="982.6" stroke="#222" stroke-width="1.3"/>
<text x="1126.9" y="999.6" font-size="14.6" fill="#1a1a1a" text-anchor="middle" stroke="#1a1a1a" stroke-width="0.22">LPBN</text>
<line x1="1224.3" y1="976.6" x2="1224.3" y2="982.6" stroke="#222" stroke-width="1.3"/>
<text x="1224.3" y="999.6" font-size="14.6" fill="#1a1a1a" text-anchor="middle" stroke="#1a1a1a" stroke-width="0.22">MPBN</text>
<text font-size="14.4" fill="#1a1a1a" text-anchor="middle" transform="translate(1047.6,885.0) rotate(-90)" stroke="#1a1a1a" stroke-width="0.22">Relative intensity of METTL14</text>
<path d="M1104.6 872.9a3.5 3.5 0 1 0 7.0 0a3.5 3.5 0 1 0 -7.0 0M1094.9 889.1a3.5 3.5 0 1 0 7.0 0a3.5 3.5 0 1 0 -7.0 0M1101.5 891.3a3.5 3.5 0 1 0 7.0 0a3.5 3.5 0 1 0 -7.0 0M1112.4 889.1a3.5 3.5 0 1 0 7.0 0a3.5 3.5 0 1 0 -7.0 0M1094.9 895.6a3.5 3.5 0 1 0 7.0 0a3.5 3.5 0 1 0 -7.0 0M1112.4 895.6a3.5 3.5 0 1 0 7.0 0a3.5 3.5 0 1 0 -7.0 0M1103.7 903.1a3.5 3.5 0 1 0 7.0 0a3.5 3.5 0 1 0 -7.0 0M1132.1 837.9a3.5 3.5 0 1 0 7.0 0a3.5 3.5 0 1 0 -7.0 0M1149.6 839.6a3.5 3.5 0 1 0 7.0 0a3.5 3.5 0 1 0 -7.0 0M1140.9 842.3a3.5 3.5 0 1 0 7.0 0a3.5 3.5 0 1 0 -7.0 0M1133.4 854.1a3.5 3.5 0 1 0 7.0 0a3.5 3.5 0 1 0 -7.0 0M1149.6 858.4a3.5 3.5 0 1 0 7.0 0a3.5 3.5 0 1 0 -7.0 0M1140.9 862.8a3.5 3.5 0 1 0 7.0 0a3.5 3.5 0 1 0 -7.0 0M1140.9 872.9a3.5 3.5 0 1 0 7.0 0a3.5 3.5 0 1 0 -7.0 0M1193.4 910.1a3.5 3.5 0 1 0 7.0 0a3.5 3.5 0 1 0 -7.0 0M1203.4 913.1a3.5 3.5 0 1 0 7.0 0a3.5 3.5 0 1 0 -7.0 0M1194.7 925.4a3.5 3.5 0 1 0 7.0 0a3.5 3.5 0 1 0 -7.0 0M1210.9 925.4a3.5 3.5 0 1 0 7.0 0a3.5 3.5 0 1 0 -7.0 0M1193.4 933.7a3.5 3.5 0 1 0 7.0 0a3.5 3.5 0 1 0 -7.0 0M1202.1 933.7a3.5 3.5 0 1 0 7.0 0a3.5 3.5 0 1 0 -7.0 0M1210.9 933.7a3.5 3.5 0 1 0 7.0 0a3.5 3.5 0 1 0 -7.0 0M1230.6 913.1a3.5 3.5 0 1 0 7.0 0a3.5 3.5 0 1 0 -7.0 0M1247.2 910.9a3.5 3.5 0 1 0 7.0 0a3.5 3.5 0 1 0 -7.0 0M1230.6 925.4a3.5 3.5 0 1 0 7.0 0a3.5 3.5 0 1 0 -7.0 0M1247.2 922.8a3.5 3.5 0 1 0 7.0 0a3.5 3.5 0 1 0 -7.0 0M1230.6 937.2a3.5 3.5 0 1 0 7.0 0a3.5 3.5 0 1 0 -7.0 0M1247.2 935.9a3.5 3.5 0 1 0 7.0 0a3.5 3.5 0 1 0 -7.0 0" fill="none" stroke="#2a2024" stroke-width="1.2"/>
<rect x="1205.0" y="792.6" width="14.2" height="7.6" fill="#8caccc"/>
<text x="1224.4" y="800.4" font-size="14.4" fill="#1a1a1a" stroke="#1a1a1a" stroke-width="0.22">Sham</text>
<rect x="1205.0" y="811.0" width="14.2" height="7.6" fill="#e6b5c1"/>
<text x="1224.4" y="818.8" font-size="14.4" fill="#1a1a1a" stroke="#1a1a1a" stroke-width="0.22">PDAC</text>
<text x="1126.4" y="818.7" font-size="24" fill="#0a0a0a" text-anchor="middle" letter-spacing="0.8" stroke="#0a0a0a" stroke-width="0.35">***</text>
<line x1="1097.1" y1="816.0" x2="1156.6" y2="816.0" stroke="#222" stroke-width="1.1"/>
<text x="15.5" y="1048.6" font-size="23" fill="#000" font-weight="bold">K</text>
<path d="M106.7,1148.7 Q170.8,1132.0 234.9,1101.4 L234.9,1119.4 Q170.8,1136.0 106.7,1166.7 Z" fill="#dcdcdc" opacity="0.85"/>
<line x1="106.7" y1="1157.7" x2="234.9" y2="1110.4" stroke="#333" stroke-width="1.2"/>
<line x1="88.2" y1="1174.4" x2="88.2" y2="1061.9" stroke="#222" stroke-width="1.3"/>
<line x1="82.2" y1="1173.7" x2="88.2" y2="1173.7" stroke="#222" stroke-width="1.3"/>
<text x="80.2" y="1178.8" font-size="14.2" fill="#1a1a1a" text-anchor="end" stroke="#1a1a1a" stroke-width="0.22">0</text>
<line x1="82.2" y1="1136.7" x2="88.2" y2="1136.7" stroke="#222" stroke-width="1.3"/>
<text x="80.2" y="1141.8" font-size="14.2" fill="#1a1a1a" text-anchor="end" stroke="#1a1a1a" stroke-width="0.22">50</text>
<line x1="82.2" y1="1099.6" x2="88.2" y2="1099.6" stroke="#222" stroke-width="1.3"/>
<text x="80.2" y="1104.7" font-size="14.2" fill="#1a1a1a" text-anchor="end" stroke="#1a1a1a" stroke-width="0.22">100</text>
<line x1="82.2" y1="1062.6" x2="88.2" y2="1062.6" stroke="#222" stroke-width="1.3"/>
<text x="80.2" y="1067.7" font-size="14.2" fill="#1a1a1a" text-anchor="end" stroke="#1a1a1a" stroke-width="0.22">150</text>
<line x1="87.0" y1="1173.7" x2="252.5" y2="1173.7" stroke="#222" stroke-width="1.3"/>
<line x1="106.7" y1="1173.7" x2="106.7" y2="1179.2" stroke="#222" stroke-width="1.3"/>
<text x="106.7" y="1193.9" font-size="14.2" fill="#1a1a1a" text-anchor="middle" stroke="#1a1a1a" stroke-width="0.22">40</text>
<line x1="143.2" y1="1173.7" x2="143.2" y2="1179.2" stroke="#222" stroke-width="1.3"/>
<text x="143.2" y="1193.9" font-size="14.2" fill="#1a1a1a" text-anchor="middle" stroke="#1a1a1a" stroke-width="0.22">50</text>
<line x1="179.6" y1="1173.7" x2="179.6" y2="1179.2" stroke="#222" stroke-width="1.3"/>
<text x="179.6" y="1193.9" font-size="14.2" fill="#1a1a1a" text-anchor="middle" stroke="#1a1a1a" stroke-width="0.22">60</text>
<line x1="216.1" y1="1173.7" x2="216.1" y2="1179.2" stroke="#222" stroke-width="1.3"/>
<text x="216.1" y="1193.9" font-size="14.2" fill="#1a1a1a" text-anchor="middle" stroke="#1a1a1a" stroke-width="0.22">70</text>
<line x1="252.5" y1="1173.7" x2="252.5" y2="1179.2" stroke="#222" stroke-width="1.3"/>
<text x="252.5" y="1193.9" font-size="14.2" fill="#1a1a1a" text-anchor="middle" stroke="#1a1a1a" stroke-width="0.22">80</text>
<text x="170.5" y="1056.8" font-size="14.4" fill="#1a1a1a" text-anchor="middle" stroke="#1a1a1a" stroke-width="0.22">METTL14 - Pain</text>
<text x="101.0" y="1080.4" font-size="13.4" fill="#1a1a1a" stroke="#1a1a1a" stroke-width="0.22">Pearson r = 0.8582</text>
<text x="101.0" y="1096.8" font-size="13.4" fill="#1a1a1a" stroke="#1a1a1a" stroke-width="0.22"><tspan font-style="italic">p</tspan> &lt; 0.0001</text>
<text x="172.4" y="1209.3" font-size="14.8" fill="#1a1a1a" text-anchor="middle" stroke="#1a1a1a" stroke-width="0.22">Relative intensity of METTL14</text>
<text font-size="14.2" fill="#1a1a1a" text-anchor="middle" transform="translate(30.8,1135.4) rotate(-90)" stroke="#1a1a1a" stroke-width="0.22">von Frey - 0.16g</text>
<text font-size="14.2" fill="#1a1a1a" text-anchor="middle" transform="translate(44.3,1134.7) rotate(-90)" stroke="#1a1a1a" stroke-width="0.22" xml:space="preserve">Response  frequency (%)</text>
<circle cx="106.7" cy="1151.4" r="3.6" fill="#5b8bc8"/>
<circle cx="123.5" cy="1144.1" r="3.6" fill="#5b8bc8"/>
<circle cx="125.7" cy="1159.0" r="3.6" fill="#5b8bc8"/>
<circle cx="137.1" cy="1159.0" r="3.6" fill="#5b8bc8"/>
<circle cx="139.8" cy="1159.0" r="3.6" fill="#5b8bc8"/>
<circle cx="167.8" cy="1122.1" r="3.6" fill="#5b8bc8"/>
<circle cx="167.8" cy="1151.7" r="3.6" fill="#5b8bc8"/>
<circle cx="184.6" cy="1114.5" r="3.6" fill="#5b8bc8"/>
<circle cx="196.9" cy="1122.1" r="3.6" fill="#5b8bc8"/>
<circle cx="205.0" cy="1122.1" r="3.6" fill="#5b8bc8"/>
<circle cx="232.7" cy="1122.1" r="3.6" fill="#5b8bc8"/>
<circle cx="234.9" cy="1107.4" r="3.6" fill="#5b8bc8"/>
<circle cx="238.9" cy="1107.4" r="3.6" fill="#5b8bc8"/>
<path d="M107.2,1315.5 Q171.7,1295.7 236.2,1260.3 L236.2,1280.3 Q171.7,1300.1 107.2,1335.5 Z" fill="#dcdcdc" opacity="0.85"/>
<line x1="107.2" y1="1325.5" x2="236.2" y2="1270.3" stroke="#333" stroke-width="1.2"/>
<line x1="88.2" y1="1352.8" x2="88.2" y2="1240.0" stroke="#222" stroke-width="1.3"/>
<line x1="82.2" y1="1352.1" x2="88.2" y2="1352.1" stroke="#222" stroke-width="1.3"/>
<text x="80.2" y="1357.2" font-size="14.2" fill="#1a1a1a" text-anchor="end" stroke="#1a1a1a" stroke-width="0.22">0</text>
<line x1="82.2" y1="1315.0" x2="88.2" y2="1315.0" stroke="#222" stroke-width="1.3"/>
<text x="80.2" y="1320.1" font-size="14.2" fill="#1a1a1a" text-anchor="end" stroke="#1a1a1a" stroke-width="0.22">100</text>
<line x1="82.2" y1="1277.8" x2="88.2" y2="1277.8" stroke="#222" stroke-width="1.3"/>
<text x="80.2" y="1283.0" font-size="14.2" fill="#1a1a1a" text-anchor="end" stroke="#1a1a1a" stroke-width="0.22">200</text>
<line x1="82.2" y1="1240.7" x2="88.2" y2="1240.7" stroke="#222" stroke-width="1.3"/>
<text x="80.2" y="1245.8" font-size="14.2" fill="#1a1a1a" text-anchor="end" stroke="#1a1a1a" stroke-width="0.22">300</text>
<line x1="87.0" y1="1352.1" x2="252.5" y2="1352.1" stroke="#222" stroke-width="1.3"/>
<line x1="106.7" y1="1352.1" x2="106.7" y2="1357.6" stroke="#222" stroke-width="1.3"/>
<text x="106.7" y="1372.3" font-size="14.2" fill="#1a1a1a" text-anchor="middle" stroke="#1a1a1a" stroke-width="0.22">40</text>
<line x1="143.2" y1="1352.1" x2="143.2" y2="1357.6" stroke="#222" stroke-width="1.3"/>
<text x="143.2" y="1372.3" font-size="14.2" fill="#1a1a1a" text-anchor="middle" stroke="#1a1a1a" stroke-width="0.22">50</text>
<line x1="179.6" y1="1352.1" x2="179.6" y2="1357.6" stroke="#222" stroke-width="1.3"/>
<text x="179.6" y="1372.3" font-size="14.2" fill="#1a1a1a" text-anchor="middle" stroke="#1a1a1a" stroke-width="0.22">60</text>
<line x1="216.1" y1="1352.1" x2="216.1" y2="1357.6" stroke="#222" stroke-width="1.3"/>
<text x="216.1" y="1372.3" font-size="14.2" fill="#1a1a1a" text-anchor="middle" stroke="#1a1a1a" stroke-width="0.22">70</text>
<line x1="252.5" y1="1352.1" x2="252.5" y2="1357.6" stroke="#222" stroke-width="1.3"/>
<text x="252.5" y="1372.3" font-size="14.2" fill="#1a1a1a" text-anchor="middle" stroke="#1a1a1a" stroke-width="0.22">80</text>
<text x="174.6" y="1234.6" font-size="14.4" fill="#1a1a1a" text-anchor="middle" stroke="#1a1a1a" stroke-width="0.22">METTL14 - Depression</text>
<text x="105.3" y="1255.0" font-size="13.4" fill="#1a1a1a" stroke="#1a1a1a" stroke-width="0.22">Pearson r = 0.8429</text>
<text x="105.3" y="1271.3" font-size="13.4" fill="#1a1a1a" stroke="#1a1a1a" stroke-width="0.22"><tspan font-style="italic">p</tspan> &lt; 0.0001</text>
<text x="170.5" y="1386.6" font-size="14.8" fill="#1a1a1a" text-anchor="middle" stroke="#1a1a1a" stroke-width="0.22">Relative intensity of METTL14</text>
<text font-size="14.2" fill="#1a1a1a" text-anchor="middle" transform="translate(45.5,1295.0) rotate(-90)" stroke="#1a1a1a" stroke-width="0.22">TST Immobility (s)</text>
<circle cx="107.2" cy="1311.9" r="3.6" fill="#5b8bc8"/>
<circle cx="124.1" cy="1313.2" r="3.6" fill="#5b8bc8"/>
<circle cx="124.1" cy="1322.7" r="3.6" fill="#5b8bc8"/>
<circle cx="126.3" cy="1337.1" r="3.6" fill="#5b8bc8"/>
<circle cx="137.7" cy="1313.8" r="3.6" fill="#5b8bc8"/>
<circle cx="139.8" cy="1322.2" r="3.6" fill="#5b8bc8"/>
<circle cx="167.8" cy="1276.0" r="3.6" fill="#5b8bc8"/>
<circle cx="167.8" cy="1314.1" r="3.6" fill="#5b8bc8"/>
<circle cx="184.6" cy="1292.3" r="3.6" fill="#5b8bc8"/>
<circle cx="196.9" cy="1274.7" r="3.6" fill="#5b8bc8"/>
<circle cx="205.0" cy="1276.6" r="3.6" fill="#5b8bc8"/>
<circle cx="232.7" cy="1285.5" r="3.6" fill="#5b8bc8"/>
<circle cx="234.9" cy="1276.6" r="3.6" fill="#5b8bc8"/>
<circle cx="238.9" cy="1266.5" r="3.6" fill="#5b8bc8"/>
<text x="259.0" y="1048.6" font-size="23" fill="#000" font-weight="bold">L</text>
<rect x="296.9" y="1035.7" width="161.2" height="15.4" fill="#fff" stroke="#333" stroke-width="1.15"/>
<text x="307.9" y="1049.1" font-size="13.4" xml:space="preserve"><tspan fill="#2e9f6c" stroke="#2e9f6c" stroke-width="0.2">METTL14</tspan><tspan fill="#1a1a1a" stroke="#1a1a1a" stroke-width="0.2">/ </tspan><tspan fill="#e23ad2" stroke="#e23ad2" stroke-width="0.2">NeuN</tspan><tspan fill="#1a1a1a" stroke="#1a1a1a" stroke-width="0.2">/ </tspan><tspan fill="#3b88c9" stroke="#3b88c9" stroke-width="0.2">DAPI</tspan></text>
<rect x="280.7" y="1051.1" width="16.2" height="160.0" fill="#fff" stroke="#444" stroke-width="1.1"/>
<text font-size="14.2" fill="#1a1a1a" text-anchor="middle" transform="translate(293.3,1131.1) rotate(-90)" stroke="#1a1a1a" stroke-width="0.22">Sham</text>
<rect x="280.7" y="1218.5" width="16.2" height="160.0" fill="#fff" stroke="#444" stroke-width="1.1"/>
<text font-size="14.2" fill="#1a1a1a" text-anchor="middle" transform="translate(293.3,1298.5) rotate(-90)" stroke="#1a1a1a" stroke-width="0.22">PDAC</text>
<clipPath id="c50"><rect x="296.9" y="1051.1" width="161.2" height="160.0"/></clipPath>
<g clip-path="url(#c50)">
<rect x="296.9" y="1051.1" width="161.2" height="160.0" fill="#05061c"/>
<radialGradient id="g51"><stop offset="0" stop-color="#101c50" stop-opacity="0.7"/><stop offset="0.55" stop-color="#101c50" stop-opacity="0.32"/><stop offset="1" stop-color="#101c50" stop-opacity="0"/></radialGradient>
<ellipse cx="385.6" cy="1139.1" rx="96.7" ry="88.0" fill="url(#g51)"/>
<filter id="nz92787" x="0" y="0" width="1" height="1" color-interpolation-filters="sRGB"><feTurbulence type="fractalNoise" baseFrequency="0.45" numOctaves="2" seed="70"/><feColorMatrix values="0 0 0 0 0.2 0 0 0 0 0.28 0 0 0 0 0.9 3.2 0 0 0 -1.95"/></filter>
<rect x="296.9" y="1051.1" width="161.2" height="160.0" filter="url(#nz92787)"/>
<filter id="nz38416" x="0" y="0" width="1" height="1" color-interpolation-filters="sRGB"><feTurbulence type="fractalNoise" baseFrequency="0.42" numOctaves="2" seed="71"/><feColorMatrix values="0 0 0 0 0.85 0 0 0 0 0.4 0 0 0 0 0.9 3.4 0 0 0 -2.2"/></filter>
<rect x="296.9" y="1051.1" width="161.2" height="160.0" filter="url(#nz38416)"/>
<filter id="nz14500" x="0" y="0" width="1" height="1" color-interpolation-filters="sRGB"><feTurbulence type="fractalNoise" baseFrequency="0.42" numOctaves="2" seed="72"/><feColorMatrix values="0 0 0 0 0.75 0 0 0 0 0.95 0 0 0 0 0.85 3.4 0 0 0 -2.3"/></filter>
<rect x="296.9" y="1051.1" width="161.2" height="160.0" filter="url(#nz14500)"/>
<path d="M393.6,1051.1 L458.1,1051.1 L458.1,1099.1 C433.9,1086.3 409.7,1070.3 393.6,1051.1 Z" fill="#03040f" opacity="0.85"/>
<g opacity="0.85" stroke-linecap="round" fill="none">
<path stroke="#3048d0" stroke-width="1.0" d="M349.1 1150.3h0M454.9 1157.3h0M299.7 1107.3h0M377.7 1158.6h0M327.5 1123.6h0M310.9 1188.3h0M438.3 1132.5h0M321.9 1090.5h0M330.0 1124.9h0M370.7 1192.6h0M421.3 1126.1h0M386.4 1165.1h0M456.7 1120.9h0M312.4 1136.4h0M442.0 1137.4h0M457.3 1122.5h0M444.5 1174.8h0M389.0 1149.2h0M416.2 1127.3h0M441.3 1128.7h0M333.0 1098.2h0M352.2 1172.3h0M437.1 1182.6h0M372.5 1112.2h0M357.2 1156.3h0M315.5 1110.1h0M351.5 1179.7h0M400.7 1113.8h0M303.0 1170.2h0M432.4 1153.1h0M407.0 1133.5h0M408.1 1123.1h0M341.6 1085.8h0M382.8 1163.4h0M378.5 1108.6h0M328.8 1126.4h0M359.6 1169.5h0M372.1 1175.4h0M412.4 1210.7h0M385.8 1068.9h0M360.6 1168.6h0M368.3 1108.8h0M368.4 1113.8h0M350.8 1144.4h0M303.7 1130.5h0M354.3 1137.2h0M318.8 1208.3h0M349.7 1175.8h0M437.7 1144.4h0M389.3 1137.4h0M419.1 1112.9h0M437.1 1111.1h0M393.8 1148.3h0M342.4 1138.4h0"/>
<path stroke="#3048d0" stroke-width="1.6" d="M339.4 1083.0h0M374.6 1163.2h0M392.9 1153.1h0M395.8 1082.5h0M365.9 1138.2h0M326.6 1119.1h0M379.9 1133.1h0M425.1 1122.8h0M321.9 1205.4h0M372.6 1114.8h0M394.0 1136.0h0M350.1 1165.9h0M411.9 1156.4h0M315.8 1076.2h0M347.6 1172.7h0M375.9 1147.0h0M322.6 1157.3h0M312.3 1114.5h0M397.7 1175.0h0M346.0 1140.3h0M388.6 1158.2h0M397.5 1107.0h0M377.0 1117.5h0M351.8 1068.8h0M354.5 1201.8h0M449.0 1173.5h0M407.7 1159.4h0M374.0 1132.9h0M339.6 1186.6h0M443.2 1131.7h0M415.0 1177.5h0M345.7 1062.4h0M300.0 1203.5h0M305.2 1109.6h0M384.0 1127.4h0M355.9 1168.5h0M312.0 1143.1h0M368.8 1174.6h0M359.1 1171.0h0M387.0 1121.9h0M441.7 1123.7h0M356.5 1130.9h0M389.3 1125.8h0M419.9 1199.9h0"/>
<path stroke="#2838b8" stroke-width="1.0" d="M300.8 1161.8h0M348.3 1128.8h0M378.1 1055.5h0M424.0 1182.4h0M358.7 1088.5h0M356.5 1144.8h0M371.4 1197.4h0M421.9 1101.3h0M400.8 1156.3h0M432.9 1139.8h0M303.8 1163.7h0M431.6 1198.8h0M373.2 1144.6h0M400.5 1151.5h0M364.9 1070.7h0M409.2 1158.8h0M352.2 1086.4h0M452.3 1146.5h0M393.3 1206.7h0M313.3 1163.6h0M422.1 1151.0h0M343.9 1155.2h0M343.6 1155.2h0M352.5 1080.3h0M386.0 1089.8h0M345.9 1120.4h0M391.2 1184.9h0M334.0 1131.4h0M344.6 1150.7h0M422.8 1170.8h0M331.7 1153.6h0M433.2 1162.0h0M458.0 1167.8h0M361.4 1059.1h0M376.4 1131.4h0M329.0 1085.3h0M451.6 1115.3h0M401.0 1128.6h0M317.0 1074.0h0M329.2 1109.2h0M349.6 1141.5h0M375.6 1205.1h0M328.8 1148.6h0M385.5 1113.8h0"/>
<path stroke="#3048d0" stroke-width="1.2" d="M353.2 1077.8h0M374.9 1141.2h0M359.5 1140.2h0M415.3 1127.9h0M368.1 1109.5h0M417.3 1121.1h0M341.2 1209.0h0M365.0 1094.1h0M416.5 1150.1h0M380.9 1131.5h0M367.6 1056.8h0M378.2 1178.8h0M429.5 1147.7h0M408.0 1153.0h0M318.8 1150.9h0M433.9 1206.5h0M441.3 1120.0h0M399.7 1129.3h0M404.5 1186.4h0M358.0 1151.6h0M375.7 1162.3h0M408.2 1171.6h0M407.8 1193.3h0M407.8 1189.8h0M354.3 1114.5h0M359.7 1198.6h0M388.0 1059.0h0M344.7 1065.6h0M322.5 1174.3h0M332.3 1073.5h0M368.6 1120.8h0M437.9 1192.3h0M311.5 1185.6h0M434.6 1202.1h0M301.7 1189.1h0M398.5 1160.0h0M400.9 1158.6h0M362.8 1187.8h0M436.0 1150.8h0M304.6 1134.2h0M351.5 1138.0h0M313.3 1155.7h0M435.9 1117.8h0M387.8 1210.9h0M356.4 1141.2h0M400.8 1130.0h0M391.1 1087.0h0M419.7 1169.6h0"/>
<path stroke="#2838b8" stroke-width="1.6" d="M336.7 1169.0h0M337.1 1098.4h0M300.9 1186.4h0M321.4 1122.6h0M357.7 1116.4h0M351.6 1120.2h0M341.2 1169.6h0M392.7 1051.4h0M387.0 1077.9h0M309.1 1181.7h0M365.9 1168.2h0M412.8 1192.3h0M413.8 1115.2h0M380.2 1130.2h0M336.7 1114.0h0M387.0 1169.8h0M389.2 1074.3h0M310.9 1079.1h0M363.3 1192.1h0M344.2 1088.6h0M386.1 1085.2h0M347.7 1154.8h0M452.0 1211.0h0M389.6 1126.8h0M337.2 1124.1h0M346.6 1078.9h0M370.2 1166.9h0M361.9 1145.6h0M340.6 1149.1h0M351.1 1177.8h0M370.0 1137.6h0M358.5 1194.8h0M385.4 1097.6h0M352.9 1135.9h0M331.5 1156.9h0M367.9 1112.8h0M359.8 1185.1h0M320.6 1053.7h0M318.4 1152.8h0M377.0 1105.0h0M403.3 1187.4h0M376.8 1125.3h0M436.1 1133.8h0M399.4 1138.0h0M375.2 1162.2h0M320.9 1199.4h0M400.6 1126.1h0M332.2 1078.3h0M453.0 1117.4h0M337.1 1089.0h0M363.9 1104.1h0M372.5 1178.9h0M443.2 1184.5h0M336.4 1122.5h0M356.3 1063.9h0M444.9 1163.7h0"/>
<path stroke="#2838b8" stroke-width="1.2" d="M329.9 1150.5h0M331.0 1151.2h0M383.2 1097.7h0M323.8 1094.5h0M327.5 1188.6h0M383.2 1142.1h0M328.5 1089.0h0M366.4 1143.8h0M393.8 1120.5h0M412.3 1110.9h0M338.9 1189.3h0M369.3 1182.8h0M360.5 1063.2h0M417.2 1171.5h0M361.6 1180.3h0M452.3 1153.0h0M303.5 1116.3h0M321.2 1124.0h0M373.0 1174.5h0M457.9 1190.5h0M302.8 1080.8h0M412.2 1164.4h0M441.6 1141.3h0M334.4 1129.2h0M373.1 1202.6h0M423.9 1181.3h0M379.8 1123.7h0M382.6 1207.2h0M378.6 1130.4h0M396.5 1085.2h0M429.7 1200.2h0M392.7 1172.6h0M382.3 1091.2h0M323.8 1069.2h0M439.1 1151.3h0M423.8 1207.9h0M322.8 1098.8h0M426.3 1130.8h0M328.0 1127.0h0"/>
<path stroke="#4060d8" stroke-width="1.6" d="M384.9 1092.8h0M452.4 1116.4h0M365.0 1061.4h0M373.8 1097.2h0M377.1 1128.2h0M421.3 1169.1h0M314.8 1097.7h0M435.3 1151.2h0M439.1 1114.1h0M324.5 1185.6h0M380.4 1204.2h0M308.4 1188.3h0M353.0 1170.4h0M357.4 1090.4h0M324.9 1182.4h0M403.2 1114.5h0M359.3 1107.1h0M385.5 1158.5h0M378.4 1101.5h0M380.4 1132.5h0M303.0 1107.1h0M445.5 1135.3h0M385.8 1107.4h0M371.4 1119.7h0M368.3 1106.3h0M319.6 1131.7h0M346.7 1172.4h0M360.0 1109.3h0M370.7 1085.5h0M381.3 1165.9h0M390.8 1161.2h0M323.5 1085.9h0M367.5 1135.7h0M409.1 1149.5h0M399.0 1179.5h0M297.2 1120.0h0M412.4 1119.8h0M422.3 1109.2h0M335.3 1067.1h0M370.6 1064.2h0M333.7 1165.2h0M358.7 1097.3h0M450.9 1122.6h0M424.1 1144.4h0M431.9 1125.0h0M380.3 1206.2h0M427.4 1176.8h0M341.4 1193.7h0M304.7 1152.9h0M354.3 1161.0h0"/>
<path stroke="#4060d8" stroke-width="1.0" d="M305.5 1137.1h0M369.6 1149.5h0M383.1 1169.4h0M344.2 1147.3h0M298.2 1162.8h0M308.6 1065.7h0M422.8 1160.2h0M395.5 1113.2h0M380.1 1108.6h0M395.0 1114.3h0M440.0 1133.6h0M375.1 1137.9h0M428.6 1105.7h0M339.9 1140.7h0M404.3 1117.2h0M374.1 1152.1h0M457.7 1158.6h0M366.7 1085.8h0M309.5 1105.1h0M351.3 1189.4h0M342.0 1148.0h0M387.8 1104.4h0M343.6 1205.5h0M360.0 1069.9h0M416.8 1125.7h0M322.4 1157.9h0M334.3 1107.3h0M392.1 1140.2h0M376.2 1157.1h0M417.4 1128.1h0M388.0 1064.5h0M351.4 1131.8h0M302.4 1097.4h0M442.9 1191.4h0M446.6 1181.4h0M350.9 1204.9h0M412.6 1194.5h0M368.7 1077.8h0M389.4 1131.7h0M357.2 1153.6h0M311.5 1075.6h0"/>
<path stroke="#4060d8" stroke-width="1.2" d="M398.6 1100.3h0M313.8 1123.1h0M426.1 1121.0h0M370.3 1085.1h0M449.4 1169.5h0M346.4 1161.5h0M322.1 1157.8h0M406.7 1199.3h0M379.6 1064.6h0M309.3 1158.3h0M378.3 1169.3h0M389.7 1152.7h0M394.6 1143.4h0M404.5 1183.1h0M343.4 1199.0h0M334.5 1187.8h0M437.3 1127.6h0M327.6 1144.5h0M367.8 1201.6h0M364.3 1063.2h0M405.1 1177.1h0M456.5 1171.6h0M372.7 1097.3h0M390.2 1199.0h0M332.4 1076.0h0M301.3 1083.4h0M359.9 1099.6h0M329.1 1058.9h0M395.2 1175.6h0M444.7 1123.5h0M334.9 1100.2h0M362.1 1119.2h0M300.2 1198.2h0M325.8 1169.5h0M343.3 1160.5h0M413.5 1161.1h0M451.8 1205.2h0M386.0 1061.5h0M350.4 1150.1h0M304.4 1132.1h0M383.9 1132.5h0M327.6 1138.3h0M413.9 1103.9h0M384.5 1145.2h0"/>
</g>
<g opacity="0.9" stroke-linecap="round" fill="none">
<path stroke="#f0c0f0" stroke-width="2.0" d="M352.4 1138.1h0M384.2 1136.5h0M450.1 1182.8h0M369.3 1145.1h0M428.3 1107.6h0M359.6 1175.7h0M446.6 1191.6h0M350.4 1053.5h0M394.7 1151.4h0M342.6 1080.8h0M346.6 1119.7h0M351.9 1186.7h0M365.6 1088.9h0M435.2 1191.0h0"/>
<path stroke="#f0c0f0" stroke-width="1.2" d="M410.2 1106.0h0M406.3 1122.9h0M337.2 1187.5h0M418.3 1159.6h0M411.2 1153.9h0M364.5 1089.8h0M383.7 1177.9h0M440.7 1097.7h0M333.9 1052.6h0M362.4 1172.0h0M403.1 1171.2h0M350.2 1108.1h0M382.6 1104.5h0M418.3 1114.0h0M390.9 1143.4h0M431.4 1096.1h0M367.8 1115.7h0M386.2 1158.4h0M354.5 1112.4h0M367.5 1181.1h0M365.9 1153.2h0M425.1 1175.1h0M387.5 1183.4h0"/>
<path stroke="#d878e0" stroke-width="2.0" d="M369.0 1174.7h0M437.8 1200.8h0M452.7 1163.1h0M396.0 1103.3h0M412.7 1139.5h0M391.1 1118.6h0M320.3 1145.1h0M369.3 1194.2h0M324.4 1164.9h0M393.7 1157.9h0M361.5 1082.3h0M394.8 1171.8h0M440.3 1175.2h0M378.6 1125.6h0M432.9 1102.1h0M429.8 1101.9h0M333.2 1095.8h0M382.7 1137.5h0M354.7 1148.8h0M443.3 1116.6h0M348.1 1174.7h0M414.5 1194.6h0M453.1 1142.0h0M414.1 1172.3h0M347.1 1127.6h0"/>
<path stroke="#e050d8" stroke-width="1.6" d="M399.3 1107.1h0M321.6 1203.6h0M421.3 1136.0h0M404.7 1152.9h0M399.1 1189.3h0M385.4 1144.4h0M301.9 1201.8h0M374.7 1160.7h0M402.5 1132.1h0M393.7 1156.3h0M422.4 1121.0h0M387.8 1162.3h0M315.8 1198.5h0M397.2 1116.1h0M383.7 1167.6h0M303.8 1121.9h0"/>
<path stroke="#e050d8" stroke-width="1.2" d="M327.7 1182.9h0M391.3 1061.3h0M426.9 1135.7h0M308.6 1175.6h0M349.0 1165.9h0M351.5 1189.1h0M323.2 1186.3h0M416.1 1200.7h0M400.6 1106.2h0M355.0 1161.2h0M410.7 1187.4h0M453.7 1200.1h0M357.8 1148.3h0M390.8 1110.8h0M304.1 1184.5h0M388.9 1144.3h0M358.7 1121.2h0"/>
<path stroke="#d878e0" stroke-width="1.2" d="M364.6 1156.9h0M403.5 1142.8h0M373.9 1184.0h0M408.1 1148.5h0M389.9 1173.3h0M358.7 1181.2h0M420.1 1207.0h0M346.7 1155.4h0M393.2 1093.0h0M376.2 1209.3h0M442.5 1102.3h0M373.1 1144.0h0M337.6 1077.1h0M444.0 1153.9h0M388.9 1136.2h0M438.2 1185.6h0M332.2 1132.6h0"/>
<path stroke="#d878e0" stroke-width="1.6" d="M434.1 1187.2h0M311.4 1099.4h0M450.8 1202.8h0M318.1 1132.8h0M397.2 1175.7h0M376.2 1058.3h0M378.2 1189.4h0M318.5 1076.2h0M335.6 1176.2h0M334.5 1126.3h0M424.7 1172.2h0M351.1 1208.6h0M362.8 1128.7h0M331.3 1184.6h0M385.9 1117.6h0M451.4 1167.2h0M395.7 1111.2h0M330.1 1108.1h0M410.2 1153.7h0M331.2 1134.6h0M390.7 1157.0h0M410.6 1194.3h0M350.8 1173.3h0"/>
<path stroke="#f0c0f0" stroke-width="1.6" d="M353.8 1064.4h0M365.1 1162.2h0M433.4 1189.9h0M427.6 1177.8h0M405.7 1118.9h0M378.2 1100.5h0M416.8 1144.4h0M417.3 1122.9h0M414.4 1169.7h0M396.5 1094.1h0M398.1 1103.0h0M334.2 1106.6h0M326.3 1110.4h0M440.8 1185.2h0"/>
<path stroke="#e050d8" stroke-width="2.0" d="M399.8 1102.1h0M406.2 1168.3h0M398.2 1123.1h0M423.9 1121.1h0M364.0 1092.6h0M379.4 1163.4h0M331.5 1106.2h0M389.8 1102.2h0M345.4 1054.3h0M371.8 1119.5h0M340.7 1194.3h0M361.3 1187.1h0M410.0 1165.7h0M350.6 1176.0h0M339.0 1191.6h0M410.5 1129.9h0M334.1 1187.4h0M449.0 1162.8h0M419.6 1134.5h0M297.1 1200.6h0M340.4 1131.2h0"/>
</g>
<g opacity="0.9" stroke-linecap="round" fill="none">
<path stroke="#e8f8f0" stroke-width="1.8" d="M371.2 1145.0h0M392.1 1150.1h0M371.8 1174.8h0M443.2 1134.4h0M360.7 1173.8h0M372.8 1104.1h0M361.9 1115.3h0M391.3 1143.8h0M327.9 1149.7h0M307.1 1163.0h0M381.5 1195.8h0M423.0 1132.4h0M412.6 1138.9h0M424.7 1101.8h0M399.7 1097.3h0M393.5 1122.6h0"/>
<path stroke="#50d880" stroke-width="1.4" d="M365.0 1139.6h0M387.3 1107.0h0M426.4 1152.2h0M360.8 1187.8h0M430.0 1185.9h0M313.5 1093.5h0M339.9 1130.4h0M352.4 1157.2h0M380.1 1121.5h0M400.6 1169.8h0M395.9 1119.3h0M377.3 1117.7h0M339.4 1197.3h0M325.2 1192.9h0M379.7 1183.3h0M304.4 1154.3h0M339.8 1086.3h0M414.6 1143.5h0M378.9 1134.5h0M389.5 1192.2h0M358.1 1137.1h0"/>
<path stroke="#50d880" stroke-width="1.0" d="M310.5 1176.6h0M323.9 1175.8h0M311.5 1086.1h0M390.7 1078.3h0M419.6 1147.7h0M449.0 1154.3h0M352.5 1115.7h0M394.8 1115.8h0M343.1 1111.1h0M364.1 1115.8h0M423.6 1198.7h0M420.3 1206.5h0M349.9 1068.1h0M355.4 1173.8h0M394.0 1070.2h0M385.2 1150.9h0M410.2 1186.7h0M374.6 1111.9h0M367.5 1126.9h0M395.1 1160.0h0"/>
<path stroke="#80e8a8" stroke-width="1.8" d="M386.6 1121.4h0M337.9 1210.8h0M385.6 1096.6h0M407.6 1129.3h0M341.8 1176.7h0M322.5 1123.1h0M442.1 1160.6h0M334.2 1153.9h0M446.0 1205.2h0M405.5 1140.6h0M374.1 1107.4h0M336.6 1124.9h0M452.6 1168.9h0M388.0 1088.2h0M433.6 1118.1h0M315.8 1090.3h0M357.0 1178.5h0M440.7 1101.7h0"/>
<path stroke="#80e8a8" stroke-width="1.4" d="M427.9 1138.8h0M358.7 1171.6h0M388.2 1094.7h0M398.0 1204.7h0M355.8 1140.5h0M317.2 1114.3h0M391.4 1146.4h0M373.0 1075.1h0M397.6 1111.0h0M334.4 1121.5h0M389.1 1099.3h0M326.2 1122.8h0M365.7 1174.4h0M378.1 1112.6h0M388.7 1114.2h0M326.4 1152.4h0"/>
<path stroke="#e8f8f0" stroke-width="1.4" d="M424.8 1152.3h0M410.8 1153.7h0M359.1 1117.1h0M384.3 1126.0h0M352.8 1116.2h0M431.8 1106.5h0M403.7 1111.2h0M427.1 1110.5h0M387.1 1109.5h0M390.3 1107.0h0M390.6 1123.0h0M396.0 1125.5h0M340.7 1087.1h0M363.8 1189.4h0M377.2 1142.0h0M338.0 1170.2h0M368.9 1139.3h0M372.2 1093.2h0"/>
<path stroke="#e8f8f0" stroke-width="1.0" d="M410.2 1102.9h0M382.5 1136.4h0M325.8 1131.9h0M355.8 1179.0h0M354.1 1165.8h0M371.0 1085.8h0M382.6 1191.2h0M399.1 1173.6h0M327.8 1168.4h0M400.9 1103.5h0M377.3 1144.0h0M389.3 1104.3h0M363.8 1141.7h0M393.7 1124.1h0M356.3 1113.8h0M341.2 1087.0h0M419.3 1151.8h0M323.1 1188.5h0M359.7 1066.4h0M406.6 1171.0h0M368.3 1121.7h0"/>
<path stroke="#50d880" stroke-width="1.8" d="M366.6 1077.9h0M395.3 1088.3h0M392.7 1106.1h0M382.2 1123.5h0M417.3 1103.5h0M439.2 1111.8h0M369.4 1132.1h0M355.8 1166.2h0M383.4 1166.2h0M359.1 1079.0h0M407.3 1149.3h0M387.1 1177.2h0M434.0 1135.2h0M393.3 1084.5h0M444.9 1155.7h0M456.0 1136.5h0M368.7 1163.0h0"/>
<path stroke="#80e8a8" stroke-width="1.0" d="M393.0 1163.1h0M381.4 1061.6h0M376.8 1180.5h0M353.4 1130.6h0M440.5 1146.5h0M379.6 1109.6h0M448.6 1190.7h0M357.9 1138.8h0M323.3 1109.2h0M401.9 1144.6h0M370.7 1129.8h0M326.2 1073.5h0M368.2 1110.9h0"/>
</g>
<circle cx="332.9" cy="1070.1" r="2.0" fill="#60f060"/>
<circle cx="329.9" cy="1065.1" r="1.2" fill="#60f060"/>
<g opacity="0.95" stroke-linecap="round" fill="none">
<path stroke="#f0d0f4" stroke-width="2.0" d="M435.5 1133.5h0M387.1 1128.2h0M418.5 1146.8h0M382.7 1144.0h0M373.7 1173.9h0M373.9 1169.5h0M427.0 1161.0h0M393.5 1147.5h0M386.7 1140.2h0M362.8 1107.9h0M379.2 1167.6h0M370.9 1082.8h0M370.9 1165.7h0"/>
<path stroke="#ffffff" stroke-width="2.0" d="M397.6 1161.4h0M340.6 1108.1h0M383.0 1074.6h0M401.1 1159.2h0M396.7 1137.5h0M378.6 1135.2h0M399.1 1183.3h0M400.5 1140.5h0M348.3 1111.2h0M415.9 1142.2h0"/>
<path stroke="#ffffff" stroke-width="2.4" d="M388.3 1165.9h0M380.9 1125.0h0M344.4 1120.6h0M347.5 1161.5h0M404.6 1130.0h0M371.8 1203.8h0M311.2 1177.3h0M400.9 1169.8h0M391.0 1054.0h0M410.9 1119.8h0"/>
<path stroke="#f0d0f4" stroke-width="1.6" d="M379.2 1098.9h0M350.8 1133.5h0M411.4 1157.8h0M406.4 1167.3h0M375.7 1139.0h0M385.6 1137.4h0M359.8 1126.9h0"/>
<path stroke="#e070e0" stroke-width="1.6" d="M363.4 1165.7h0M373.9 1147.5h0M362.1 1123.2h0M319.9 1182.9h0M336.6 1101.5h0M367.1 1148.3h0M377.0 1163.9h0M394.4 1172.7h0M406.8 1159.5h0M362.4 1141.0h0M397.3 1124.2h0M414.7 1127.5h0M437.2 1168.1h0M374.9 1203.1h0M372.0 1141.5h0M356.6 1137.8h0M402.2 1108.7h0"/>
<path stroke="#b0f0d0" stroke-width="2.4" d="M336.6 1158.1h0M389.3 1151.6h0M356.6 1115.8h0M347.8 1099.8h0M317.1 1187.2h0M346.7 1107.6h0M393.9 1078.9h0M362.3 1159.3h0M394.6 1175.8h0M394.9 1139.3h0M364.0 1171.6h0M378.6 1144.7h0M384.3 1158.8h0M416.7 1143.7h0M358.1 1150.3h0M343.4 1075.7h0M401.6 1150.0h0"/>
<path stroke="#ffffff" stroke-width="1.6" d="M408.7 1127.7h0M429.8 1144.0h0M390.1 1150.8h0M387.1 1133.3h0M445.6 1139.5h0M383.7 1182.6h0M375.2 1169.5h0M402.6 1195.2h0M397.4 1148.9h0M360.0 1193.1h0M376.3 1170.7h0M400.8 1141.4h0M336.1 1119.3h0M367.1 1162.1h0M380.8 1122.1h0"/>
<path stroke="#b0f0d0" stroke-width="1.6" d="M354.0 1155.9h0M408.4 1174.0h0M403.1 1156.6h0M330.1 1185.5h0"/>
<path stroke="#b0f0d0" stroke-width="2.0" d="M340.0 1115.2h0M415.3 1165.3h0M372.3 1129.9h0M380.2 1164.0h0M400.6 1118.2h0M392.2 1122.4h0M392.4 1118.8h0M347.9 1173.3h0M328.1 1148.0h0M371.6 1153.8h0M368.2 1115.7h0M391.9 1113.4h0M369.2 1172.1h0M413.2 1164.9h0M383.6 1131.5h0M396.6 1160.8h0M347.6 1174.8h0"/>
<path stroke="#e070e0" stroke-width="2.0" d="M384.8 1178.7h0M407.1 1147.5h0M417.5 1143.5h0M373.0 1125.3h0M369.7 1081.1h0M354.4 1147.0h0M456.0 1148.4h0M405.0 1111.2h0M385.5 1136.0h0M364.0 1210.9h0"/>
<path stroke="#f0d0f4" stroke-width="2.4" d="M374.7 1119.2h0M362.9 1165.3h0M415.7 1162.8h0M378.7 1118.5h0M352.5 1122.0h0M370.8 1119.5h0M363.6 1115.0h0M403.5 1162.0h0"/>
<path stroke="#e070e0" stroke-width="2.4" d="M397.4 1128.5h0M393.9 1123.8h0M402.4 1126.4h0M366.5 1122.6h0M443.5 1187.1h0M385.2 1153.1h0M414.7 1189.5h0M368.0 1145.1h0M415.0 1172.6h0M373.2 1163.1h0M394.5 1125.9h0M392.8 1164.2h0M391.7 1111.1h0M406.4 1175.0h0M384.0 1137.8h0M420.9 1112.4h0M413.9 1126.4h0"/>
</g>
<radialGradient id="v52" cx="0.55" cy="0.55" r="0.72"><stop offset="0" stop-color="#02030f" stop-opacity="0"/><stop offset="0.32" stop-color="#02030f" stop-opacity="0"/><stop offset="1" stop-color="#02030f" stop-opacity="0.92"/></radialGradient>
<rect x="296.9" y="1051.1" width="161.2" height="160.0" fill="url(#v52)"/>
<rect x="386.1" y="1104.6" width="27.8" height="27.0" fill="none" stroke="#eee" stroke-width="1.1" stroke-dasharray="4 2.2"/>
<line x1="433.1" y1="1204.9" x2="451.1" y2="1204.9" stroke="#bbb" stroke-width="1.4"/>
</g>
<clipPath id="c53"><rect x="296.9" y="1218.5" width="161.2" height="160.0"/></clipPath>
<g clip-path="url(#c53)">
<rect x="296.9" y="1218.5" width="161.2" height="160.0" fill="#06082a"/>
<radialGradient id="g54"><stop offset="0" stop-color="#141c60" stop-opacity="0.7"/><stop offset="0.55" stop-color="#141c60" stop-opacity="0.32"/><stop offset="1" stop-color="#141c60" stop-opacity="0"/></radialGradient>
<ellipse cx="369.4" cy="1298.5" rx="96.7" ry="80.0" fill="url(#g54)"/>
<filter id="nz97632" x="0" y="0" width="1" height="1" color-interpolation-filters="sRGB"><feTurbulence type="fractalNoise" baseFrequency="0.45" numOctaves="2" seed="75"/><feColorMatrix values="0 0 0 0 0.2 0 0 0 0 0.28 0 0 0 0 0.9 3.2 0 0 0 -1.9"/></filter>
<rect x="296.9" y="1218.5" width="161.2" height="160.0" filter="url(#nz97632)"/>
<filter id="nz76438" x="0" y="0" width="1" height="1" color-interpolation-filters="sRGB"><feTurbulence type="fractalNoise" baseFrequency="0.42" numOctaves="2" seed="76"/><feColorMatrix values="0 0 0 0 0.85 0 0 0 0 0.4 0 0 0 0 0.9 3.4 0 0 0 -2.2"/></filter>
<rect x="296.9" y="1218.5" width="161.2" height="160.0" filter="url(#nz76438)"/>
<filter id="nz5683" x="0" y="0" width="1" height="1" color-interpolation-filters="sRGB"><feTurbulence type="fractalNoise" baseFrequency="0.42" numOctaves="2" seed="77"/><feColorMatrix values="0 0 0 0 0.85 0 0 0 0 0.9 0 0 0 0 0.95 3.4 0 0 0 -2.3"/></filter>
<rect x="296.9" y="1218.5" width="161.2" height="160.0" filter="url(#nz5683)"/>
<path d="M352.1,1219.0 L362.4,1233.1 L390.7,1248.6 L413.9,1269.1 L429.3,1289.7 L444.7,1305.1 L458.9,1312.8 L458.9,1219.0 Z" fill="#05051c" opacity="0.8"/>
<g opacity="0.85" stroke-linecap="round" fill="none">
<path stroke="#2838b8" stroke-width="1.0" d="M356.6 1370.5h0M393.5 1359.6h0M359.9 1348.6h0M403.5 1372.8h0M451.7 1322.8h0M339.7 1267.8h0M383.3 1342.5h0M428.9 1302.4h0M414.0 1271.4h0M348.9 1374.5h0M360.1 1351.4h0M430.3 1332.6h0M392.1 1375.4h0M336.7 1364.1h0M386.9 1320.6h0M344.9 1300.4h0M386.0 1344.1h0M330.1 1251.4h0M415.7 1378.0h0M426.0 1335.0h0M442.3 1325.8h0M370.9 1323.1h0M335.9 1322.9h0M369.9 1267.8h0M388.5 1269.0h0M356.2 1340.6h0M386.8 1302.9h0M370.5 1276.0h0M360.6 1273.6h0M392.8 1336.3h0M303.8 1284.0h0M336.6 1253.8h0M384.8 1292.4h0M397.9 1296.6h0M335.6 1323.0h0M407.0 1357.5h0M355.0 1250.4h0M308.5 1344.1h0M356.2 1268.0h0M366.3 1247.3h0M304.2 1257.5h0M431.9 1331.5h0M325.5 1289.7h0M396.5 1268.0h0M341.9 1256.3h0M385.7 1304.8h0M361.4 1331.6h0M348.4 1357.2h0M344.2 1334.5h0M347.5 1308.8h0M354.6 1328.6h0M335.0 1288.5h0M399.4 1261.3h0M358.2 1272.6h0M376.1 1320.2h0M336.2 1299.3h0"/>
<path stroke="#2838b8" stroke-width="1.2" d="M364.3 1256.5h0M384.4 1330.7h0M402.4 1320.4h0M310.9 1288.0h0M442.6 1368.8h0M408.7 1325.3h0M327.4 1302.0h0M358.6 1348.7h0M405.0 1368.4h0M391.0 1351.0h0M319.9 1273.2h0M398.7 1290.2h0M346.2 1330.3h0M416.8 1309.4h0M364.4 1258.4h0M297.6 1281.1h0M360.4 1335.4h0M361.8 1254.8h0M342.3 1361.6h0M353.6 1281.4h0M326.1 1298.0h0M342.2 1359.5h0M404.2 1266.5h0M422.7 1281.6h0M342.1 1245.6h0M376.9 1253.4h0M366.8 1316.2h0M385.3 1266.8h0M370.8 1353.8h0M356.3 1375.9h0M378.9 1363.8h0M403.1 1343.0h0M445.3 1348.3h0M366.9 1318.5h0M336.6 1285.4h0M392.7 1262.2h0M308.4 1252.8h0M422.0 1365.1h0M349.7 1302.9h0M393.1 1321.8h0M337.1 1281.5h0M376.7 1368.3h0M402.7 1364.9h0M301.0 1284.5h0M441.5 1351.1h0M412.5 1304.3h0M391.6 1309.9h0M351.9 1276.9h0M300.9 1303.3h0M327.2 1275.7h0M389.6 1250.7h0M331.4 1264.0h0"/>
<path stroke="#2838b8" stroke-width="1.6" d="M334.1 1272.0h0M420.1 1330.9h0M338.6 1290.1h0M335.6 1372.3h0M454.7 1374.3h0M304.3 1270.2h0M374.9 1339.4h0M401.1 1320.6h0M392.2 1334.2h0M385.4 1343.6h0M399.3 1330.6h0M427.1 1355.1h0M389.3 1253.3h0M453.5 1366.8h0M322.4 1286.5h0M304.3 1224.7h0M380.8 1280.3h0M408.3 1296.6h0M389.3 1292.1h0M413.4 1293.7h0M299.5 1237.3h0M371.9 1339.6h0M396.4 1326.7h0M401.3 1294.0h0M308.5 1269.1h0M348.6 1344.7h0M404.2 1263.9h0M360.1 1318.9h0M356.4 1346.5h0M325.9 1281.4h0M324.4 1254.8h0M354.1 1356.0h0M315.4 1288.5h0M386.3 1363.0h0M441.7 1323.8h0M343.5 1312.5h0M299.5 1288.6h0M379.8 1328.7h0M371.2 1262.9h0M330.5 1313.8h0M300.8 1305.3h0M372.6 1301.9h0M389.6 1310.9h0M387.4 1299.8h0M369.2 1323.1h0M433.9 1330.9h0M442.7 1343.7h0M366.2 1281.6h0M319.0 1312.1h0M388.7 1304.6h0M329.4 1325.2h0M427.0 1345.8h0M347.9 1335.2h0M367.3 1298.0h0M378.0 1364.9h0M435.4 1340.4h0"/>
<path stroke="#4060d8" stroke-width="1.2" d="M306.6 1324.0h0M399.2 1340.8h0M415.6 1296.1h0M380.0 1302.3h0M417.3 1294.9h0M363.5 1304.2h0M350.4 1299.0h0M373.4 1327.3h0M407.3 1371.4h0M335.5 1302.1h0M352.9 1226.0h0M428.4 1322.6h0M313.2 1321.6h0M414.6 1329.1h0M444.0 1341.5h0M453.8 1327.5h0M312.7 1330.4h0M431.6 1296.7h0M342.5 1375.6h0M412.2 1277.4h0M323.8 1315.7h0M456.4 1322.7h0M326.5 1315.6h0M420.1 1290.4h0M310.0 1226.5h0M391.8 1324.4h0M320.4 1268.9h0M379.7 1364.0h0M408.1 1319.6h0M356.6 1358.1h0M333.6 1307.9h0M359.5 1327.3h0M338.1 1304.6h0M378.8 1346.3h0M298.3 1316.4h0M354.4 1336.7h0M373.8 1293.3h0M319.0 1289.4h0M417.2 1344.3h0M360.8 1367.7h0M371.2 1330.6h0M397.5 1257.6h0M341.9 1269.0h0M327.9 1234.6h0M377.6 1245.3h0M375.4 1263.6h0M346.8 1257.9h0M402.7 1301.1h0"/>
<path stroke="#3048d0" stroke-width="1.0" d="M307.2 1319.1h0M344.1 1323.1h0M335.6 1359.4h0M319.4 1330.8h0M402.8 1348.4h0M373.0 1315.2h0M372.3 1311.9h0M374.0 1333.5h0M365.9 1363.6h0M386.1 1279.4h0M350.5 1252.0h0M337.3 1284.8h0M351.6 1273.5h0M306.5 1252.5h0M388.2 1284.5h0M410.2 1362.6h0M402.1 1316.0h0M317.8 1353.8h0M324.8 1249.2h0M301.4 1283.3h0M348.4 1344.6h0M318.2 1334.0h0M327.5 1269.6h0M306.0 1300.1h0M346.4 1373.8h0M302.5 1321.4h0M384.7 1275.6h0M315.3 1371.5h0M305.4 1278.1h0M381.3 1365.5h0M414.0 1275.2h0M308.4 1329.0h0M410.2 1327.0h0M415.0 1275.7h0M335.0 1299.8h0M423.3 1333.4h0M354.9 1366.5h0M367.4 1260.6h0M357.1 1321.6h0M333.1 1344.4h0M342.0 1227.6h0M385.6 1299.6h0M413.7 1372.8h0M302.2 1321.3h0M318.9 1300.1h0"/>
<path stroke="#3048d0" stroke-width="1.2" d="M446.4 1309.6h0M351.1 1278.3h0M412.4 1302.5h0M309.6 1332.5h0M342.7 1351.0h0M354.6 1362.4h0M424.0 1333.4h0M337.3 1286.9h0M321.6 1289.1h0M309.4 1336.0h0M345.1 1291.8h0M404.0 1303.9h0M336.1 1356.0h0M355.7 1374.5h0M325.1 1279.0h0M404.8 1313.9h0M383.4 1350.3h0M340.0 1273.6h0M323.3 1336.9h0M328.5 1253.7h0M400.3 1286.3h0M417.8 1303.0h0M314.0 1262.7h0M328.8 1351.4h0M393.2 1256.8h0M341.1 1261.9h0M390.7 1339.2h0M348.4 1272.4h0M437.9 1298.7h0M342.4 1317.0h0M358.4 1352.0h0M324.0 1347.7h0M407.5 1347.4h0M438.6 1367.2h0M419.6 1316.3h0M380.1 1244.1h0M398.2 1290.4h0M395.0 1305.9h0M392.1 1362.0h0M407.6 1355.2h0M305.2 1256.4h0M305.4 1322.7h0M410.8 1309.4h0M363.9 1350.5h0M306.7 1289.9h0"/>
<path stroke="#4060d8" stroke-width="1.0" d="M387.2 1247.7h0M424.2 1289.9h0M398.9 1301.7h0M324.9 1312.9h0M320.4 1343.5h0M346.6 1300.8h0M322.3 1272.2h0M337.6 1279.2h0M314.0 1275.6h0M401.6 1293.0h0M320.1 1245.8h0M313.5 1239.0h0M445.8 1360.6h0M428.4 1297.4h0M360.5 1231.5h0M380.2 1330.8h0M309.7 1357.0h0M432.4 1322.9h0M392.0 1340.5h0M310.1 1289.3h0M339.5 1309.2h0M434.9 1304.6h0M373.7 1268.2h0M340.5 1360.9h0M390.4 1362.0h0M410.8 1313.4h0M407.9 1348.7h0M377.1 1299.6h0M302.4 1317.8h0M347.3 1292.0h0M392.1 1303.3h0M307.4 1343.1h0M408.6 1350.6h0M331.2 1315.1h0M444.9 1368.6h0M411.6 1348.0h0M363.5 1293.1h0M431.4 1329.9h0M419.3 1317.8h0M420.7 1314.3h0M354.9 1291.1h0M382.5 1247.3h0M406.4 1302.4h0M340.3 1301.7h0M358.2 1338.6h0M329.6 1280.3h0M384.0 1375.9h0M374.5 1252.7h0M384.0 1248.4h0M375.4 1314.2h0M301.1 1302.2h0M308.6 1300.9h0M407.8 1270.5h0M317.3 1322.2h0"/>
<path stroke="#3048d0" stroke-width="1.6" d="M357.6 1335.8h0M388.0 1283.5h0M405.5 1294.2h0M386.2 1331.4h0M346.4 1260.1h0M324.1 1276.9h0M376.3 1332.4h0M321.7 1313.6h0M353.1 1256.5h0M356.8 1338.8h0M308.1 1336.5h0M324.0 1372.9h0M343.5 1291.8h0M353.4 1269.1h0M315.9 1371.7h0M373.9 1286.3h0M349.2 1253.3h0M436.5 1362.3h0M363.3 1308.7h0M393.0 1359.9h0M345.4 1257.5h0M331.2 1324.1h0M445.8 1364.6h0M360.7 1290.3h0M312.8 1291.0h0M324.6 1343.3h0M322.9 1303.7h0M391.8 1289.8h0M382.4 1248.8h0M353.9 1310.2h0M349.9 1315.6h0M380.2 1353.1h0M367.3 1352.1h0M349.2 1253.1h0M348.6 1302.7h0M335.5 1317.9h0M319.3 1239.3h0M379.2 1325.1h0M354.5 1277.3h0M384.7 1297.4h0M389.4 1371.2h0M384.8 1251.5h0M364.8 1344.0h0M440.6 1322.5h0M385.7 1258.5h0M351.4 1233.0h0"/>
<path stroke="#4060d8" stroke-width="1.6" d="M322.2 1253.8h0M353.5 1360.5h0M344.1 1266.0h0M344.8 1330.7h0M392.5 1377.3h0M356.9 1354.9h0M326.9 1319.0h0M431.4 1313.0h0M457.6 1336.7h0M340.9 1377.5h0M308.7 1292.3h0M402.0 1294.7h0M372.2 1260.2h0M336.5 1325.7h0M367.7 1335.1h0M364.8 1234.9h0M342.8 1358.8h0M341.5 1306.7h0M388.6 1265.0h0M310.5 1246.6h0M324.5 1371.0h0M315.4 1225.8h0M334.7 1374.0h0M314.2 1251.5h0M366.3 1336.7h0M418.8 1319.0h0M380.2 1267.2h0M391.7 1320.1h0M329.1 1346.5h0M382.0 1254.7h0M376.5 1357.8h0M375.0 1375.7h0M343.6 1349.1h0M404.0 1264.2h0M372.2 1304.6h0M389.9 1276.9h0M414.8 1277.1h0M442.6 1307.7h0M311.2 1237.7h0M425.5 1305.2h0M392.6 1334.4h0M332.8 1349.9h0M305.4 1334.4h0M322.7 1320.0h0M350.7 1313.4h0M347.2 1350.5h0M373.6 1276.3h0M374.7 1334.1h0"/>
</g>
<g opacity="0.9" stroke-linecap="round" fill="none">
<path stroke="#e050d8" stroke-width="1.6" d="M386.8 1316.3h0M422.1 1306.8h0M344.0 1297.3h0M319.1 1229.2h0M358.1 1351.5h0M374.8 1268.1h0M318.8 1268.5h0M376.4 1250.8h0M364.2 1284.8h0"/>
<path stroke="#f0d0f4" stroke-width="2.0" d="M326.4 1269.9h0M314.6 1278.6h0M338.2 1285.7h0M402.2 1265.9h0M346.1 1279.9h0M346.4 1277.7h0M385.5 1296.3h0M333.9 1303.2h0M364.9 1307.2h0M365.6 1305.8h0M379.0 1268.6h0M398.6 1291.0h0M390.9 1311.9h0M365.6 1273.0h0M400.8 1324.2h0M360.1 1244.2h0M382.0 1286.7h0M432.8 1352.4h0M299.9 1326.7h0"/>
<path stroke="#d878e0" stroke-width="2.0" d="M372.6 1254.6h0M392.4 1286.1h0M348.4 1284.2h0M320.1 1254.2h0M406.0 1298.4h0M351.3 1272.6h0M345.5 1239.8h0M362.6 1335.8h0M327.3 1300.0h0M410.5 1283.0h0M355.6 1282.4h0M357.2 1286.2h0M408.1 1344.3h0M393.4 1296.7h0M336.1 1290.9h0M375.0 1290.2h0M370.0 1307.9h0M330.1 1266.9h0M364.2 1338.7h0"/>
<path stroke="#e050d8" stroke-width="1.2" d="M387.2 1288.5h0M374.9 1284.0h0M313.8 1325.3h0M366.5 1279.4h0M370.6 1283.2h0M356.7 1364.1h0M375.3 1302.4h0M398.2 1320.1h0M338.9 1300.8h0M369.0 1282.3h0M371.6 1274.5h0M322.3 1280.6h0M375.7 1290.1h0M400.6 1266.9h0M344.2 1350.8h0M378.6 1280.6h0M366.2 1360.1h0M354.6 1310.3h0M389.5 1301.0h0M331.6 1334.8h0"/>
<path stroke="#f0d0f4" stroke-width="1.6" d="M302.6 1297.8h0M381.3 1268.9h0M378.0 1275.0h0M334.9 1340.8h0M376.0 1308.1h0M406.1 1266.1h0M389.6 1337.0h0M380.4 1312.7h0M375.3 1274.1h0M314.6 1248.9h0M357.8 1285.1h0M333.3 1257.8h0M391.2 1305.0h0M346.4 1264.2h0M333.9 1320.8h0M389.5 1319.6h0"/>
<path stroke="#d878e0" stroke-width="1.2" d="M359.8 1294.6h0M339.1 1342.0h0M299.9 1296.3h0M355.9 1290.5h0M367.1 1280.3h0M312.0 1279.7h0M326.7 1291.6h0M344.3 1292.8h0M356.8 1243.9h0M384.3 1292.6h0M353.2 1313.7h0M336.8 1261.3h0M362.2 1300.7h0M347.3 1274.1h0"/>
<path stroke="#ffffff" stroke-width="1.6" d="M340.1 1352.8h0M406.3 1343.1h0M378.9 1264.3h0M324.2 1266.6h0M297.4 1311.4h0M378.2 1298.4h0M383.3 1296.6h0M390.0 1321.6h0M383.2 1316.8h0M395.9 1281.7h0M311.1 1257.8h0M361.9 1299.2h0M370.5 1239.6h0M323.8 1298.3h0M376.8 1298.0h0M333.7 1328.4h0"/>
<path stroke="#ffffff" stroke-width="1.2" d="M371.1 1296.6h0M346.3 1325.5h0M366.5 1302.5h0M371.4 1277.7h0M353.8 1361.7h0M325.3 1358.6h0M389.6 1270.2h0M421.1 1300.0h0M393.4 1271.8h0M311.7 1276.4h0M360.9 1276.4h0M356.4 1356.6h0M339.8 1260.0h0M367.8 1245.8h0M362.4 1262.6h0M419.8 1293.7h0M368.8 1294.9h0M403.3 1284.8h0M366.8 1302.6h0M384.8 1319.8h0M439.4 1314.9h0M353.5 1321.1h0"/>
<path stroke="#ffffff" stroke-width="2.0" d="M378.2 1282.6h0M401.2 1336.4h0M384.4 1325.5h0M384.8 1290.3h0M335.8 1308.3h0M386.8 1293.2h0M372.4 1257.0h0M432.2 1306.5h0M391.0 1250.2h0M368.9 1350.3h0M346.5 1278.8h0M342.2 1293.8h0M417.4 1285.6h0M354.1 1243.7h0"/>
<path stroke="#e050d8" stroke-width="2.0" d="M394.4 1311.3h0M363.4 1334.4h0M408.3 1273.4h0M407.7 1310.9h0M365.1 1348.0h0M309.0 1311.5h0M353.7 1289.2h0M332.9 1256.1h0M308.8 1270.3h0M414.8 1302.5h0M347.9 1310.9h0M366.0 1312.7h0"/>
<path stroke="#f0d0f4" stroke-width="1.2" d="M323.6 1297.3h0M387.2 1252.6h0M367.8 1288.1h0M361.6 1323.5h0M325.8 1355.4h0M400.2 1352.9h0M384.8 1300.9h0M346.6 1263.5h0M367.2 1312.7h0M346.0 1270.6h0M360.6 1285.4h0M370.4 1332.4h0M319.2 1300.2h0M344.2 1258.9h0M314.5 1270.2h0"/>
<path stroke="#d878e0" stroke-width="1.6" d="M345.7 1225.3h0M322.7 1262.3h0M359.4 1244.8h0M342.5 1291.1h0M323.8 1290.1h0M367.5 1321.2h0M336.2 1243.8h0M365.9 1285.0h0M352.2 1315.7h0M366.6 1334.7h0M395.9 1328.9h0M405.2 1311.3h0M382.5 1277.0h0M355.6 1354.4h0M384.6 1303.3h0M305.7 1285.5h0M447.8 1358.4h0"/>
</g>
<g opacity="0.9" stroke-linecap="round" fill="none">
<path stroke="#50d880" stroke-width="1.4" d="M355.8 1251.4h0M330.2 1243.7h0M363.4 1270.1h0M344.0 1297.4h0M356.9 1306.5h0M352.8 1314.4h0M309.4 1260.5h0M373.6 1268.1h0M346.3 1303.0h0M365.0 1316.2h0M378.4 1273.2h0M385.9 1321.8h0M331.2 1242.4h0M379.0 1265.2h0M378.8 1288.0h0M351.7 1272.2h0M351.4 1292.4h0M399.9 1297.6h0M356.1 1278.5h0M358.7 1286.3h0"/>
<path stroke="#80e8a8" stroke-width="1.0" d="M355.7 1287.7h0M329.9 1286.9h0M370.0 1261.8h0M360.2 1294.3h0M341.3 1283.8h0M356.4 1323.9h0M392.3 1282.1h0M336.4 1291.8h0M347.9 1295.7h0M350.2 1283.6h0M388.9 1288.4h0M349.4 1300.3h0M337.7 1280.7h0"/>
<path stroke="#80e8a8" stroke-width="1.4" d="M406.2 1325.7h0M367.8 1282.9h0M329.7 1294.8h0M369.1 1301.0h0M374.1 1290.4h0M368.6 1282.8h0M387.2 1303.0h0M402.9 1283.0h0M319.2 1303.9h0M347.7 1298.7h0M332.9 1303.0h0M380.4 1277.4h0M331.3 1284.3h0"/>
<path stroke="#50d880" stroke-width="1.8" d="M362.6 1294.2h0M367.8 1270.7h0M350.9 1289.3h0M379.5 1288.9h0M343.9 1262.4h0M343.3 1286.5h0M336.5 1271.1h0M353.9 1266.1h0M370.4 1273.4h0M382.9 1270.7h0M380.3 1274.2h0M383.8 1308.1h0M373.3 1275.3h0M349.8 1276.9h0M368.4 1297.3h0"/>
<path stroke="#50d880" stroke-width="1.0" d="M370.7 1295.8h0M395.1 1290.2h0M371.0 1309.1h0M362.6 1268.0h0M399.6 1277.9h0M354.1 1286.6h0M373.7 1290.8h0M383.7 1273.0h0M339.6 1287.3h0M381.7 1276.9h0M355.9 1285.9h0"/>
<path stroke="#80e8a8" stroke-width="1.8" d="M369.9 1316.8h0M346.8 1266.2h0M363.2 1290.4h0M371.0 1277.3h0"/>
</g>
<g opacity="0.95" stroke-linecap="round" fill="none">
<path stroke="#70f060" stroke-width="2.6" d="M305.1 1274.4h0M316.2 1342.1h0M335.2 1297.2h0M339.1 1338.5h0M309.3 1283.0h0M303.6 1314.7h0M305.6 1278.5h0M344.7 1354.6h0"/>
<path stroke="#90f080" stroke-width="2.0" d="M317.7 1349.3h0M322.4 1370.9h0M320.5 1360.7h0M331.9 1304.4h0M335.4 1367.5h0"/>
<path stroke="#90f080" stroke-width="2.6" d="M299.2 1364.5h0M314.4 1361.7h0M324.2 1378.2h0M345.2 1302.9h0M320.4 1315.7h0"/>
<path stroke="#70f060" stroke-width="1.4" d="M309.3 1330.3h0M298.8 1324.3h0M350.6 1347.5h0M313.2 1327.4h0M312.5 1333.8h0M335.4 1304.0h0M300.6 1354.8h0M297.9 1338.5h0"/>
<path stroke="#90f080" stroke-width="1.4" d="M331.8 1301.3h0M335.9 1318.7h0M327.6 1310.8h0M311.7 1311.5h0M317.8 1343.9h0M333.5 1256.6h0"/>
<path stroke="#70f060" stroke-width="2.0" d="M303.8 1375.6h0M341.8 1314.3h0M338.4 1363.8h0M309.5 1315.0h0M323.9 1307.9h0M316.7 1322.6h0"/>
</g>
<g opacity="0.95" stroke-linecap="round" fill="none">
<path stroke="#e070e0" stroke-width="1.6" d="M426.5 1289.2h0M387.3 1307.4h0M384.5 1279.2h0M347.9 1278.2h0M387.8 1293.1h0M394.4 1273.1h0M393.0 1283.0h0M357.4 1273.4h0M360.0 1298.6h0"/>
<path stroke="#c0e8f0" stroke-width="2.4" d="M366.6 1288.3h0M347.0 1250.7h0M356.6 1339.7h0M371.8 1286.5h0M380.4 1281.9h0M348.7 1269.1h0M357.2 1319.5h0M327.8 1269.6h0M312.2 1332.4h0M349.5 1275.5h0M311.4 1256.1h0M373.2 1290.9h0M411.0 1292.9h0M397.1 1287.7h0M373.3 1318.6h0M414.1 1287.6h0"/>
<path stroke="#f0d0f4" stroke-width="2.0" d="M346.6 1271.7h0M392.7 1313.3h0M376.8 1271.9h0"/>
<path stroke="#ffffff" stroke-width="2.4" d="M303.6 1324.2h0M384.6 1278.0h0M351.7 1291.3h0M421.1 1283.7h0M375.7 1261.2h0M395.6 1319.2h0M415.8 1314.9h0M375.6 1317.0h0M393.0 1281.6h0"/>
<path stroke="#e070e0" stroke-width="2.4" d="M357.3 1290.6h0M366.6 1293.3h0M378.2 1309.5h0M364.8 1286.6h0M323.4 1286.9h0M329.0 1294.7h0M374.8 1283.8h0M344.4 1291.4h0"/>
<path stroke="#ffffff" stroke-width="1.6" d="M333.1 1323.7h0M339.6 1284.7h0M354.3 1284.3h0M333.8 1302.1h0M373.2 1302.1h0M335.9 1243.4h0M344.5 1243.3h0M374.0 1260.4h0M377.4 1267.6h0M363.3 1317.4h0"/>
<path stroke="#c0e8f0" stroke-width="1.6" d="M381.0 1280.9h0M372.8 1299.9h0M362.6 1336.9h0M358.5 1303.5h0M346.1 1327.6h0M406.9 1274.1h0M339.9 1297.2h0M345.5 1261.5h0M361.5 1296.8h0M349.6 1327.8h0M391.8 1340.3h0M402.8 1307.4h0"/>
<path stroke="#f0d0f4" stroke-width="2.4" d="M388.2 1280.4h0M358.7 1329.9h0M365.3 1295.4h0M378.4 1257.9h0M378.7 1285.5h0M338.4 1286.7h0M342.0 1291.0h0M302.2 1279.4h0M373.6 1315.6h0M357.3 1306.7h0M352.2 1277.7h0M389.5 1306.0h0"/>
<path stroke="#f0d0f4" stroke-width="1.6" d="M352.3 1316.1h0M425.0 1309.7h0M369.5 1310.8h0M352.9 1250.7h0M377.7 1282.9h0M346.5 1291.4h0M360.3 1268.0h0M314.6 1253.2h0M413.7 1280.0h0M362.4 1317.3h0M377.7 1289.3h0M415.2 1294.1h0M350.7 1315.5h0M375.6 1269.8h0"/>
<path stroke="#e070e0" stroke-width="2.0" d="M404.1 1291.4h0M362.2 1292.8h0M368.4 1300.4h0M431.6 1299.8h0M355.4 1307.8h0M376.3 1262.9h0M401.1 1308.4h0M392.0 1318.0h0M363.8 1274.7h0M361.6 1280.2h0M424.0 1291.8h0M391.6 1289.9h0M327.8 1236.3h0M381.0 1331.4h0"/>
<path stroke="#c0e8f0" stroke-width="2.0" d="M374.4 1283.4h0M350.0 1284.3h0M324.8 1269.8h0M373.7 1278.3h0M341.2 1281.7h0M382.3 1260.9h0"/>
<path stroke="#ffffff" stroke-width="2.0" d="M320.0 1319.1h0M387.2 1349.0h0M384.4 1296.3h0M335.9 1308.6h0M390.7 1286.4h0"/>
</g>
<radialGradient id="v55" cx="0.42" cy="0.48" r="0.78"><stop offset="0" stop-color="#02030f" stop-opacity="0"/><stop offset="0.32" stop-color="#02030f" stop-opacity="0"/><stop offset="1" stop-color="#02030f" stop-opacity="0.9"/></radialGradient>
<rect x="296.9" y="1218.5" width="161.2" height="160.0" fill="url(#v55)"/>
<path d="M352.1,1221.6 C353.9,1223.5 356.0,1228.6 362.4,1233.1 C368.9,1237.6 382.1,1242.6 390.7,1248.6 C399.3,1254.6 407.4,1262.3 413.9,1269.1 C420.3,1276.0 424.1,1283.7 429.3,1289.7 C434.4,1295.7 439.8,1301.3 444.7,1305.1 C449.6,1309.0 456.5,1311.6 458.9,1312.8" fill="none" stroke="#ee48de" stroke-width="3.0"/>
<path d="M390.7,1248.6 C394.6,1252.0 407.4,1262.3 413.9,1269.1 C420.3,1276.0 424.1,1283.7 429.3,1289.7 C434.4,1295.7 439.8,1301.3 444.7,1305.1 C449.6,1309.0 456.5,1311.6 458.9,1312.8" fill="none" stroke="#f058e4" stroke-width="4.2"/>
<path d="M362.4,1233.1 C365.0,1234.3 372.3,1236.9 377.9,1240.3 C383.4,1243.8 392.9,1251.5 395.9,1253.7" fill="none" stroke="#f0f0ff" stroke-width="1.4"/>
<path d="M401.0,1221.6 C400.9,1223.9 399.6,1232.1 400.5,1235.7 C401.3,1239.4 403.7,1240.4 406.1,1243.4 C408.6,1246.4 413.0,1250.5 415.1,1253.7 C417.3,1256.9 418.4,1261.2 419.0,1262.7" fill="none" stroke="#d040d0" stroke-width="2.0"/>
<path d="M403.6,1235.7 L419.0,1231.9 L429.3,1244.7" fill="none" stroke="#2838e0" stroke-width="1.8"/>
<rect x="392.0" y="1285.9" width="28.3" height="27.0" fill="none" stroke="#eee" stroke-width="1.1" stroke-dasharray="4 2.2"/>
</g>
<clipPath id="c56"><rect x="460.5" y="1051.8" width="78.8" height="78.7"/></clipPath>
<g clip-path="url(#c56)">
<rect x="460.5" y="1051.8" width="78.8" height="78.7" fill="#030a04"/>
<radialGradient id="g57"><stop offset="0" stop-color="#1c4a18" stop-opacity="0.6"/><stop offset="0.55" stop-color="#1c4a18" stop-opacity="0.27"/><stop offset="1" stop-color="#1c4a18" stop-opacity="0"/></radialGradient>
<ellipse cx="499.9" cy="1091.1" rx="63.0" ry="63.0" fill="url(#g57)"/>
<filter id="nz57290" x="0" y="0" width="1" height="1" color-interpolation-filters="sRGB"><feTurbulence type="fractalNoise" baseFrequency="0.12" numOctaves="3" seed="80"/><feColorMatrix values="0 0 0 0 0.3 0 0 0 0 0.75 0 0 0 0 0.22 3.2 0 0 0 -1.62"/></filter>
<rect x="460.5" y="1051.8" width="78.8" height="78.7" filter="url(#nz57290)"/>
<filter id="bl90" x="-0.05" y="-0.05" width="1.1" height="1.1"><feGaussianBlur stdDeviation="0.9"/></filter>
<g opacity="0.95" stroke-linecap="round" fill="none" filter="url(#bl90)">
<path stroke="#60e048" stroke-width="4.5" d="M471.4 1089.6l1.0 1.5M535.6 1072.2l2.0 -0.9M500.0 1125.4l0.4 0.2M525.3 1108.4l0.2 0.3"/>
<path stroke="#70f050" stroke-width="3.5" d="M513.0 1064.3l2.1 -0.3M477.5 1114.9l2.3 1.0M472.4 1082.4l0.7 -0.1M526.5 1125.6l1.0 -1.2"/>
<path stroke="#70f050" stroke-width="4.5" d="M484.1 1118.1l1.3 -0.0M462.6 1129.7l0.0 -0.0"/>
<path stroke="#90f870" stroke-width="4.5" d="M521.3 1058.6l0.1 0.1M460.1 1079.5l1.3 0.5"/>
<path stroke="#58c840" stroke-width="4.0" d="M462.2 1080.9l0.8 -0.1M466.2 1078.3l0.9 0.7M502.8 1116.8l1.8 -0.8"/>
<path stroke="#70f050" stroke-width="4.0" d="M483.1 1068.8l1.8 -0.6M514.6 1127.2l1.8 -0.4M495.8 1126.8l2.0 0.1M524.6 1070.8l1.4 -2.1M494.0 1083.8l0.5 -0.6"/>
<path stroke="#58c840" stroke-width="4.5" d="M463.0 1102.2l2.2 -0.6M491.3 1066.5l0.0 0.0"/>
<path stroke="#58c840" stroke-width="3.5" d="M512.1 1058.4l1.4 -0.2M531.5 1066.5l1.8 -0.4M530.7 1124.7l0.8 -0.2M475.9 1122.7l2.5 -0.8M525.7 1118.0l1.2 -0.7M505.5 1054.9l2.2 -1.0M492.6 1120.7l2.3 0.8"/>
<path stroke="#60e048" stroke-width="3.5" d="M513.7 1090.8l0.9 0.9M479.5 1058.4l1.2 0.4"/>
<path stroke="#90f870" stroke-width="3.5" d="M480.2 1107.6l1.2 1.0M498.9 1055.8l2.1 1.8"/>
<path stroke="#60e048" stroke-width="4.0" d="M487.0 1129.9l0.8 -0.1"/>
<path stroke="#60e048" stroke-width="5.0" d="M529.0 1052.2l1.3 0.7"/>
<path stroke="#58c840" stroke-width="5.0" d="M523.2 1074.8l0.0 -0.0"/>
</g>
<line x1="507.5" y1="1125.5" x2="535.0" y2="1125.5" stroke="#bbb" stroke-width="1.4"/>
</g>
<clipPath id="c58"><rect x="541.8" y="1051.8" width="78.8" height="78.7"/></clipPath>
<g clip-path="url(#c58)">
<rect x="541.8" y="1051.8" width="78.8" height="78.7" fill="#050106"/>
<filter id="bl120" x="-0.05" y="-0.05" width="1.1" height="1.1"><feGaussianBlur stdDeviation="1.2"/></filter>
<g opacity="0.8" stroke-linecap="round" fill="none" filter="url(#bl120)">
<path stroke="#682470" stroke-width="5.0" d="M562.8 1071.2l1.4 -1.0M551.8 1107.8l0.8 -0.5"/>
<path stroke="#7a2a80" stroke-width="3.5" d="M614.7 1100.9l2.6 -0.8M591.2 1125.5l3.2 -1.8"/>
<path stroke="#682470" stroke-width="4.0" d="M580.9 1079.1l2.2 -1.8M596.1 1127.1l1.7 -0.5"/>
<path stroke="#7a2a80" stroke-width="4.0" d="M566.3 1085.2l2.0 -0.7M607.8 1098.1l2.3 -1.0M566.2 1082.0l1.4 -0.4M588.0 1116.6l2.9 -1.1M572.6 1109.7l2.8 -0.9"/>
<path stroke="#7a2a80" stroke-width="5.0" d="M591.9 1112.8l0.6 -0.5M593.4 1120.8l0.4 -0.1"/>
<path stroke="#682470" stroke-width="4.5" d="M614.1 1102.7l1.6 -1.4M584.6 1119.5l0.5 -0.4"/>
<path stroke="#7a2a80" stroke-width="4.5" d="M555.8 1109.0l1.1 -0.8"/>
</g>
<filter id="bl100" x="-0.05" y="-0.05" width="1.1" height="1.1"><feGaussianBlur stdDeviation="1.0"/></filter>
<g opacity="0.85" stroke-linecap="round" fill="none" filter="url(#bl100)">
<path stroke="#d048d0" stroke-width="5.0" d="M598.7 1123.2l1.5 1.1"/>
<path stroke="#e060e0" stroke-width="4.0" d="M606.6 1087.2l1.7 1.6M592.5 1120.6l1.4 1.1"/>
<path stroke="#e060e0" stroke-width="5.0" d="M615.2 1107.4l2.5 1.7M578.4 1054.0l0.2 0.2M575.0 1095.7l0.2 0.2"/>
<path stroke="#b838b8" stroke-width="4.0" d="M587.6 1061.0l3.5 1.4M592.5 1078.6l3.4 1.5M595.0 1091.9l1.2 0.4"/>
<path stroke="#e060e0" stroke-width="5.5" d="M581.0 1105.8l0.4 0.2M542.8 1118.9l0.0 0.0M569.5 1123.0l0.0 0.0M549.2 1068.4l2.3 1.5"/>
<path stroke="#b838b8" stroke-width="4.5" d="M551.1 1106.6l2.8 1.2M575.0 1101.9l2.3 1.4"/>
<path stroke="#b838b8" stroke-width="5.5" d="M565.9 1080.3l2.1 0.9"/>
<path stroke="#b838b8" stroke-width="5.0" d="M613.4 1122.6l0.8 0.6M543.6 1125.8l1.3 0.5"/>
<path stroke="#d048d0" stroke-width="4.5" d="M574.6 1116.0l3.6 1.5"/>
<path stroke="#b838b8" stroke-width="3.5" d="M551.1 1069.9l2.3 1.5"/>
</g>
</g>
<clipPath id="c59"><rect x="460.5" y="1133.0" width="78.8" height="79.0"/></clipPath>
<g clip-path="url(#c59)">
<rect x="460.5" y="1133.0" width="78.8" height="79.0" fill="#01010a"/>
<g opacity="0.75" stroke-linecap="round" fill="none" filter="url(#bl100)">
<path stroke="#1c1cb4" stroke-width="4.0" d="M522.4 1135.2l1.0 0.6M485.1 1191.5l0.9 -0.3M501.5 1189.8l1.5 -0.2M463.1 1168.8l0.5 0.4M489.3 1146.4l0.7 -1.0M503.4 1143.4l1.0 -0.6M502.8 1143.8l0.0 -0.0M529.8 1164.8l0.1 0.0M498.1 1208.1l0.3 -0.2M488.7 1134.2l0.1 -0.0M486.7 1159.7l1.1 0.5M473.2 1169.8l0.4 0.2"/>
<path stroke="#121280" stroke-width="4.0" d="M518.8 1157.0l0.0 0.0M502.8 1197.7l0.4 -0.6M486.4 1162.9l0.0 0.0M527.2 1205.4l0.7 -0.4M482.2 1205.9l0.1 -0.1M464.6 1181.2l0.7 0.1M513.1 1193.9l0.9 1.3M525.8 1139.1l0.3 -0.1M504.9 1183.4l0.2 0.1M516.8 1193.1l0.4 -0.1"/>
<path stroke="#1c1cb4" stroke-width="3.5" d="M467.6 1198.5l0.8 -1.4M488.6 1150.3l1.2 0.2M490.2 1155.6l0.1 0.1M533.2 1172.8l1.3 1.2M486.0 1149.6l0.5 -0.3M468.1 1178.4l1.0 0.2"/>
<path stroke="#1616a0" stroke-width="3.5" d="M488.4 1195.1l1.8 -0.4M467.0 1210.8l0.7 0.9M520.4 1187.4l0.2 0.1M493.9 1194.2l1.8 0.4M533.3 1157.1l1.5 -0.6M462.1 1155.1l1.3 -0.3M518.5 1209.1l1.1 -0.4M534.0 1171.2l0.5 -0.3M524.6 1164.2l0.7 1.1M527.8 1179.1l0.9 0.5M510.1 1169.5l0.2 -0.2M497.1 1162.6l0.7 0.9"/>
<path stroke="#1c1cb4" stroke-width="4.5" d="M532.7 1140.3l0.5 0.6M523.6 1143.9l0.8 0.6"/>
<path stroke="#121280" stroke-width="3.0" d="M509.2 1165.6l2.0 0.9M462.0 1139.7l1.6 -0.9M506.9 1159.6l1.6 -0.8"/>
<path stroke="#1616a0" stroke-width="4.5" d="M530.0 1136.2l0.0 -0.0M506.2 1204.3l0.0 0.0M463.1 1153.9l0.6 0.4M528.6 1163.3l0.0 0.0"/>
<path stroke="#121280" stroke-width="3.5" d="M470.9 1137.3l0.4 -0.2M530.1 1168.4l0.9 -0.0M495.3 1134.4l0.5 -0.8M526.9 1184.3l0.5 -0.8M472.0 1159.3l0.4 0.5M491.4 1199.2l0.2 0.3M529.0 1158.8l0.3 0.0M538.8 1162.2l1.0 0.6"/>
<path stroke="#1616a0" stroke-width="3.0" d="M470.3 1158.7l1.6 1.2M535.9 1197.5l1.6 0.7M497.8 1204.3l1.4 0.8M491.3 1209.8l1.5 1.7M514.4 1174.7l1.3 -0.7"/>
<path stroke="#1616a0" stroke-width="4.0" d="M528.8 1146.3l0.4 0.4M497.9 1169.9l0.0 0.0M486.2 1164.9l0.3 -0.1M475.6 1181.3l0.9 0.3"/>
<path stroke="#1c1cb4" stroke-width="3.0" d="M524.5 1145.4l1.4 -0.6M493.6 1149.0l0.6 1.0M516.3 1176.2l1.9 0.4M520.4 1187.0l1.4 -2.0"/>
</g>
</g>
<clipPath id="c60"><rect x="541.8" y="1133.0" width="78.8" height="79.0"/></clipPath>
<g clip-path="url(#c60)">
<rect x="541.8" y="1133.0" width="78.8" height="79.0" fill="#040806"/>
<radialGradient id="g61"><stop offset="0" stop-color="#143818" stop-opacity="0.6"/><stop offset="0.55" stop-color="#143818" stop-opacity="0.27"/><stop offset="1" stop-color="#143818" stop-opacity="0"/></radialGradient>
<ellipse cx="581.2" cy="1172.5" rx="63.0" ry="63.2" fill="url(#g61)"/>
<filter id="nz69008" x="0" y="0" width="1" height="1" color-interpolation-filters="sRGB"><feTurbulence type="fractalNoise" baseFrequency="0.12" numOctaves="3" seed="87"/><feColorMatrix values="0 0 0 0 0.3 0 0 0 0 0.7 0 0 0 0 0.3 3.2 0 0 0 -1.6"/></filter>
<rect x="541.8" y="1133.0" width="78.8" height="79.0" filter="url(#nz69008)"/>
<g opacity="0.95" stroke-linecap="round" fill="none" filter="url(#bl90)">
<path stroke="#40a8d8" stroke-width="3.5" d="M547.3 1181.8l1.9 -1.7M576.1 1204.3l2.6 0.4M592.0 1159.0l0.6 0.5"/>
<path stroke="#40a8d8" stroke-width="4.5" d="M574.4 1203.7l0.3 0.1M559.2 1140.8l0.5 -0.9M576.0 1146.0l0.4 0.1M614.0 1198.5l0.0 -0.0M572.3 1198.7l0.0 -0.0"/>
<path stroke="#2838d8" stroke-width="4.5" d="M555.0 1182.1l0.4 -0.4M610.1 1172.9l0.8 0.2M592.6 1182.6l1.1 1.5M615.5 1202.3l0.9 0.5M570.3 1162.7l0.0 -0.0M595.6 1171.2l0.4 -0.0"/>
<path stroke="#2030c8" stroke-width="4.0" d="M585.5 1210.4l0.7 -0.9M615.8 1179.0l0.0 -0.0M594.4 1200.8l0.8 0.8M543.9 1193.2l0.4 0.1"/>
<path stroke="#2838d8" stroke-width="3.5" d="M563.0 1160.7l1.3 -2.3"/>
<path stroke="#40a8d8" stroke-width="4.0" d="M553.8 1186.4l1.3 0.2M605.6 1181.0l0.3 0.5M562.3 1136.8l1.0 -0.4"/>
<path stroke="#40a8d8" stroke-width="5.0" d="M601.0 1170.2l0.0 0.0"/>
<path stroke="#2838d8" stroke-width="4.0" d="M611.6 1167.0l2.1 -0.3M582.1 1164.6l1.2 0.4"/>
<path stroke="#2030c8" stroke-width="5.0" d="M577.6 1133.5l1.3 -0.2"/>
<path stroke="#1c28a8" stroke-width="4.0" d="M613.6 1207.8l0.2 -0.3M573.9 1166.9l0.3 -0.0M581.7 1150.9l0.5 0.5M550.9 1201.6l1.7 -1.1M571.9 1198.3l0.5 0.2M587.8 1191.8l0.4 -0.5"/>
<path stroke="#1c28a8" stroke-width="4.5" d="M612.1 1180.9l0.0 -0.0M609.0 1136.9l0.8 0.4M601.8 1203.2l0.0 0.0M566.9 1177.6l0.1 -0.2"/>
<path stroke="#2030c8" stroke-width="3.5" d="M584.1 1202.1l1.3 0.8"/>
<path stroke="#2838d8" stroke-width="5.0" d="M560.6 1174.9l0.6 1.0"/>
<path stroke="#2030c8" stroke-width="4.5" d="M555.8 1162.4l1.2 0.1"/>
<path stroke="#1c28a8" stroke-width="3.5" d="M568.6 1210.5l1.3 -1.3M589.4 1182.5l2.0 -1.4"/>
<path stroke="#1c28a8" stroke-width="5.0" d="M596.9 1172.9l0.6 -0.5"/>
</g>
<g opacity="0.95" stroke-linecap="round" fill="none" filter="url(#bl90)">
<path stroke="#a0e8e0" stroke-width="4.0" d="M556.8 1139.5l2.0 1.6M583.4 1166.1l0.7 0.7M598.1 1145.9l1.4 1.5"/>
<path stroke="#ffffff" stroke-width="3.5" d="M576.4 1202.7l1.8 1.0M591.4 1171.0l1.3 1.0"/>
<path stroke="#80f0d0" stroke-width="3.5" d="M597.9 1135.3l3.1 1.8M556.5 1137.0l1.3 0.9M546.6 1175.6l3.1 1.3"/>
<path stroke="#d050d8" stroke-width="5.0" d="M601.9 1147.1l1.1 0.4M554.1 1195.1l0.7 0.7M599.2 1163.9l1.7 0.8M607.3 1188.1l1.3 0.8M588.8 1150.8l1.0 0.5"/>
<path stroke="#80f0d0" stroke-width="4.0" d="M558.2 1141.0l0.8 0.3M584.4 1139.4l0.9 0.9M556.9 1163.9l2.6 1.7"/>
<path stroke="#80f0d0" stroke-width="4.5" d="M598.7 1192.9l2.7 1.5M565.0 1149.9l0.5 0.5"/>
<path stroke="#ffffff" stroke-width="5.0" d="M608.2 1180.5l0.6 0.4"/>
<path stroke="#a0e8e0" stroke-width="4.5" d="M595.2 1165.9l2.2 1.9M569.5 1156.7l0.6 0.2M542.0 1170.1l1.8 1.1M582.9 1196.2l0.7 0.7"/>
<path stroke="#f0b0f0" stroke-width="4.5" d="M585.7 1203.9l0.7 0.6"/>
<path stroke="#f0b0f0" stroke-width="4.0" d="M594.3 1148.7l1.2 1.0M614.6 1163.1l2.4 2.0M615.1 1136.9l2.0 0.9"/>
<path stroke="#f0b0f0" stroke-width="5.0" d="M592.7 1203.1l0.2 0.1"/>
</g>
</g>
<clipPath id="c62"><rect x="460.5" y="1218.0" width="78.8" height="79.0"/></clipPath>
<g clip-path="url(#c62)">
<rect x="460.5" y="1218.0" width="78.8" height="79.0" fill="#020602"/>
<filter id="nz1436" x="0" y="0" width="1" height="1" color-interpolation-filters="sRGB"><feTurbulence type="fractalNoise" baseFrequency="0.15" numOctaves="3" seed="91"/><feColorMatrix values="0 0 0 0 0.3 0 0 0 0 0.7 0 0 0 0 0.22 3.2 0 0 0 -1.75"/></filter>
<rect x="460.5" y="1218.0" width="78.8" height="79.0" filter="url(#nz1436)"/>
<g opacity="0.95" stroke-linecap="round" fill="none" filter="url(#bl90)">
<path stroke="#60e048" stroke-width="3.0" d="M530.5 1255.8l3.8 2.5M525.6 1265.8l3.3 0.9M498.8 1218.8l2.6 1.5M460.1 1286.4l1.5 0.8M505.3 1219.0l3.9 1.8"/>
<path stroke="#70f050" stroke-width="4.5" d="M471.2 1248.4l1.9 1.1M531.6 1225.9l2.5 0.8M471.4 1260.2l0.6 0.5M491.8 1292.6l2.6 1.4M502.2 1289.3l1.4 0.5"/>
<path stroke="#90f870" stroke-width="4.0" d="M512.9 1283.2l2.2 1.7M534.4 1293.7l0.9 0.4M511.0 1229.0l2.9 1.7M504.0 1218.8l2.9 1.9M523.8 1275.3l1.5 0.9"/>
<path stroke="#60e048" stroke-width="3.5" d="M511.0 1276.9l1.1 1.0M469.6 1238.7l3.6 1.6M537.0 1289.2l1.2 0.8M481.8 1272.4l1.5 1.1M486.4 1268.6l2.1 1.6"/>
<path stroke="#90f870" stroke-width="3.5" d="M483.1 1234.5l0.9 0.7M516.2 1223.9l1.0 0.4M480.6 1291.7l2.3 1.9"/>
<path stroke="#60e048" stroke-width="4.5" d="M476.1 1279.1l1.0 0.4M505.4 1285.9l0.1 0.0M460.6 1245.9l0.6 0.4M470.8 1220.3l1.0 0.5"/>
<path stroke="#90f870" stroke-width="3.0" d="M526.2 1293.3l1.3 0.8M478.7 1217.5l1.4 1.1M538.4 1265.2l1.3 0.7"/>
<path stroke="#70f050" stroke-width="3.5" d="M517.7 1246.2l4.0 1.7M497.6 1250.7l2.1 0.9M476.9 1271.6l2.2 1.2M536.4 1244.2l3.3 2.6M512.8 1258.7l4.0 1.8M480.8 1252.8l1.6 1.1M532.1 1241.6l3.8 1.9"/>
<path stroke="#60e048" stroke-width="4.0" d="M498.2 1256.3l1.0 0.5M475.5 1243.5l0.9 0.5M499.3 1236.2l3.2 1.1M474.8 1230.1l0.6 0.3"/>
<path stroke="#70f050" stroke-width="4.0" d="M494.4 1279.5l1.7 0.8"/>
<path stroke="#90f870" stroke-width="4.5" d="M519.6 1295.4l0.0 0.0M469.3 1292.3l1.2 0.3"/>
<path stroke="#70f050" stroke-width="3.0" d="M524.2 1279.6l3.6 1.0M479.9 1234.3l1.8 0.9"/>
</g>
</g>
<clipPath id="c63"><rect x="541.8" y="1218.0" width="78.8" height="79.0"/></clipPath>
<g clip-path="url(#c63)">
<rect x="541.8" y="1218.0" width="78.8" height="79.0" fill="#10031a"/>
<radialGradient id="g64"><stop offset="0" stop-color="#481050" stop-opacity="0.7"/><stop offset="0.55" stop-color="#481050" stop-opacity="0.32"/><stop offset="1" stop-color="#481050" stop-opacity="0"/></radialGradient>
<ellipse cx="589.1" cy="1249.6" rx="63.0" ry="63.2" fill="url(#g64)"/>
<filter id="nz16490" x="0" y="0" width="1" height="1" color-interpolation-filters="sRGB"><feTurbulence type="fractalNoise" baseFrequency="0.15" numOctaves="3" seed="94"/><feColorMatrix values="0 0 0 0 0.7 0 0 0 0 0.2 0 0 0 0 0.75 3.2 0 0 0 -1.8"/></filter>
<rect x="541.8" y="1218.0" width="78.8" height="79.0" filter="url(#nz16490)"/>
<g opacity="0.95" stroke-linecap="round" fill="none" filter="url(#bl90)">
<path stroke="#c840c8" stroke-width="3.5" d="M570.3 1289.2l1.4 1.1M583.8 1294.2l3.1 2.5M594.0 1290.4l3.8 1.8M564.5 1220.6l3.9 1.3M582.7 1222.8l4.7 2.2"/>
<path stroke="#e050e0" stroke-width="3.5" d="M544.2 1287.4l2.5 1.2M581.0 1273.2l1.8 0.6M563.8 1246.9l2.2 1.2M566.6 1221.5l4.9 1.9M609.8 1258.1l4.1 1.6M573.6 1250.5l2.5 1.8M550.1 1235.1l4.5 3.0"/>
<path stroke="#f070f0" stroke-width="4.0" d="M566.5 1238.4l4.0 2.8M601.2 1281.2l1.6 0.5M573.1 1233.2l2.5 1.4M607.8 1253.5l2.2 1.0M594.7 1296.0l2.2 1.1M606.3 1291.7l1.2 0.8M606.4 1219.4l3.8 1.4"/>
<path stroke="#e050e0" stroke-width="4.5" d="M583.9 1252.6l1.7 1.0M598.0 1263.0l4.1 2.6M601.8 1270.9l1.6 0.9M547.7 1265.9l1.6 0.8M591.0 1282.9l4.1 1.3M603.7 1262.6l1.9 0.6"/>
<path stroke="#f070f0" stroke-width="3.0" d="M610.0 1280.6l2.4 1.0"/>
<path stroke="#e050e0" stroke-width="3.0" d="M579.8 1233.3l3.6 2.9M561.6 1224.6l5.0 4.0"/>
<path stroke="#f070f0" stroke-width="3.5" d="M579.2 1282.1l5.1 3.1M605.7 1271.2l3.6 1.4M568.9 1227.2l5.3 2.2M575.7 1278.9l3.7 2.3"/>
<path stroke="#e050e0" stroke-width="4.0" d="M541.8 1228.2l2.9 0.8M578.1 1250.5l2.7 1.0M614.1 1278.2l1.9 0.7M591.7 1237.6l2.6 1.4M568.4 1226.5l3.1 1.6"/>
<path stroke="#c840c8" stroke-width="3.0" d="M563.9 1261.6l1.5 1.0M564.0 1228.0l3.4 2.7M561.8 1239.1l1.9 1.2"/>
<path stroke="#c840c8" stroke-width="4.0" d="M594.7 1230.2l4.5 2.7M611.2 1218.7l4.0 1.1M572.0 1290.3l0.8 0.6"/>
<path stroke="#f070f0" stroke-width="4.5" d="M583.1 1224.0l1.2 0.9M574.5 1286.7l1.7 0.9M558.0 1227.8l2.9 1.2M572.3 1290.8l1.3 0.6"/>
<path stroke="#c840c8" stroke-width="4.5" d="M559.1 1218.3l4.5 1.7M557.5 1277.8l1.6 0.6M582.5 1245.6l4.4 1.7"/>
</g>
</g>
<clipPath id="c65"><rect x="460.5" y="1299.5" width="78.8" height="79.2"/></clipPath>
<g clip-path="url(#c65)">
<rect x="460.5" y="1299.5" width="78.8" height="79.2" fill="#02021a"/>
<radialGradient id="g66"><stop offset="0" stop-color="#0c0c60" stop-opacity="0.6"/><stop offset="0.55" stop-color="#0c0c60" stop-opacity="0.27"/><stop offset="1" stop-color="#0c0c60" stop-opacity="0"/></radialGradient>
<ellipse cx="499.9" cy="1339.1" rx="63.0" ry="63.4" fill="url(#g66)"/>
<g opacity="0.8" stroke-linecap="round" fill="none" filter="url(#bl100)">
<path stroke="#2424d0" stroke-width="3.5" d="M487.4 1365.5l2.4 -0.4M493.6 1308.6l1.4 -0.8M523.1 1319.7l1.3 -1.8M492.4 1338.5l1.7 0.3M512.2 1366.0l0.8 0.5M480.2 1302.9l0.7 -0.3"/>
<path stroke="#2424d0" stroke-width="4.0" d="M524.6 1343.3l0.5 0.6M474.7 1303.0l1.0 0.5M528.3 1316.6l1.6 0.9M474.2 1309.9l1.6 -0.1M484.3 1329.4l1.7 0.1M532.4 1367.6l0.6 -0.3M489.8 1323.0l0.8 0.8M510.6 1307.3l0.8 0.3"/>
<path stroke="#1c1cc0" stroke-width="3.0" d="M523.0 1359.0l2.2 1.4"/>
<path stroke="#1c1cc0" stroke-width="5.0" d="M490.5 1323.6l0.4 0.1"/>
<path stroke="#1c1cc0" stroke-width="4.5" d="M475.4 1364.8l0.6 -0.1M481.7 1340.1l0.0 -0.0M539.0 1338.5l0.5 0.2M477.3 1319.5l0.0 0.0M530.4 1352.1l0.2 0.2M515.4 1317.6l0.3 -0.1M493.4 1373.9l0.8 -0.4M493.1 1303.8l0.7 0.8M519.6 1344.1l0.1 0.1M529.7 1306.8l1.1 -0.2M503.3 1301.6l0.0 0.0M488.1 1336.1l0.0 -0.0M535.4 1365.3l1.0 0.5"/>
<path stroke="#1616a0" stroke-width="3.5" d="M502.1 1371.8l1.8 1.2M476.6 1333.4l1.3 -1.6M487.7 1363.1l1.2 -1.2M473.0 1338.2l1.3 -1.0M469.7 1312.3l0.7 -0.0M481.6 1325.6l0.7 -0.8M510.5 1336.4l1.1 -1.5M469.5 1323.9l1.8 -0.1M464.6 1355.5l0.6 -0.7M502.2 1361.5l0.6 -0.3M497.9 1370.2l1.0 -0.0M469.5 1305.3l0.5 0.4M474.8 1310.0l2.3 -0.3M528.1 1304.0l0.9 1.3"/>
<path stroke="#1c1cc0" stroke-width="3.5" d="M512.5 1300.2l0.7 0.7M487.0 1364.6l1.7 -0.6M498.9 1314.9l0.5 0.0M488.1 1378.1l0.9 -0.2M471.9 1323.9l0.6 0.4M526.6 1348.2l0.7 0.3M487.1 1315.3l1.0 -0.9M532.4 1330.5l0.7 0.2M467.7 1328.2l2.1 0.4M495.8 1338.4l1.1 -0.6M534.7 1338.4l1.0 -0.8"/>
<path stroke="#2424d0" stroke-width="4.5" d="M515.1 1361.5l0.3 -0.0M494.9 1331.8l1.2 -0.2M464.0 1378.1l0.6 -0.0M506.5 1364.0l0.8 -0.3M468.2 1356.1l0.5 -0.6M474.3 1323.8l0.4 -0.3M484.3 1344.1l0.0 0.0M493.4 1327.6l0.6 0.8M519.5 1339.6l0.7 -0.5M507.0 1309.3l0.7 -0.2"/>
<path stroke="#1616a0" stroke-width="4.5" d="M482.4 1320.4l0.1 0.1M490.6 1335.0l0.0 0.0M536.9 1317.7l0.6 -0.1M493.3 1317.9l1.1 -0.4M460.8 1367.3l0.0 0.0M512.2 1361.8l1.3 0.0M526.0 1341.5l0.0 -0.0"/>
<path stroke="#2424d0" stroke-width="3.0" d="M522.7 1348.5l0.7 -0.8M525.3 1313.5l1.6 -1.4M523.6 1342.8l2.8 -0.5"/>
<path stroke="#1c1cc0" stroke-width="4.0" d="M502.2 1377.6l0.2 -0.2M515.8 1338.7l0.7 -0.6M469.1 1308.5l1.5 -0.9M483.6 1338.1l0.6 0.7M521.7 1315.3l0.8 1.0"/>
<path stroke="#1616a0" stroke-width="4.0" d="M507.4 1318.8l0.8 0.2M495.2 1375.0l1.9 0.7M462.9 1311.2l1.4 0.8"/>
<path stroke="#1616a0" stroke-width="3.0" d="M521.5 1335.9l2.1 1.6M498.7 1312.3l1.9 0.0M514.4 1362.9l2.9 -0.5"/>
</g>
</g>
<clipPath id="c67"><rect x="541.8" y="1299.5" width="78.8" height="79.2"/></clipPath>
<g clip-path="url(#c67)">
<rect x="541.8" y="1299.5" width="78.8" height="79.2" fill="#0a0420"/>
<radialGradient id="g68"><stop offset="0" stop-color="#401058" stop-opacity="0.6"/><stop offset="0.55" stop-color="#401058" stop-opacity="0.27"/><stop offset="1" stop-color="#401058" stop-opacity="0"/></radialGradient>
<ellipse cx="589.1" cy="1339.1" rx="63.0" ry="63.4" fill="url(#g68)"/>
<filter id="nz33671" x="0" y="0" width="1" height="1" color-interpolation-filters="sRGB"><feTurbulence type="fractalNoise" baseFrequency="0.15" numOctaves="3" seed="99"/><feColorMatrix values="0 0 0 0 0.6 0 0 0 0 0.2 0 0 0 0 0.75 3.2 0 0 0 -1.7"/></filter>
<rect x="541.8" y="1299.5" width="78.8" height="79.2" filter="url(#nz33671)"/>
<g opacity="0.95" stroke-linecap="round" fill="none" filter="url(#bl90)">
<path stroke="#2028b8" stroke-width="4.5" d="M587.4 1314.7l0.4 0.5M578.2 1315.9l0.9 0.7M602.8 1363.6l0.0 -0.0M592.0 1354.2l0.3 0.2"/>
<path stroke="#3050e8" stroke-width="4.0" d="M557.8 1317.1l1.9 -0.1M562.9 1359.6l1.6 0.7M569.0 1303.9l0.7 0.3M553.4 1356.0l0.0 -0.0"/>
<path stroke="#2838e0" stroke-width="4.0" d="M575.7 1320.4l1.2 -1.4M542.9 1367.3l1.5 0.6M593.4 1343.1l1.3 -0.1M586.4 1338.5l1.6 -1.7"/>
<path stroke="#2028b8" stroke-width="3.5" d="M578.3 1324.9l1.2 0.9M566.7 1306.7l0.5 0.8M562.7 1351.7l1.2 0.2M613.5 1360.9l1.1 1.2M610.6 1355.1l0.8 1.0"/>
<path stroke="#3050e8" stroke-width="4.5" d="M611.3 1330.8l0.0 -0.0M583.9 1355.1l0.0 0.0M553.4 1324.5l0.5 -0.6M564.8 1320.3l1.5 -1.1M560.9 1345.2l0.5 0.3M614.1 1303.7l0.7 0.9M564.3 1312.6l0.4 0.1"/>
<path stroke="#2838e0" stroke-width="3.5" d="M574.1 1368.5l1.3 0.1M558.8 1304.6l0.8 0.3M591.7 1341.1l1.8 1.0"/>
<path stroke="#2028b8" stroke-width="4.0" d="M596.4 1299.5l1.9 1.5M572.0 1347.9l1.9 0.3M616.5 1338.8l1.0 -1.3M585.6 1368.4l2.3 0.5"/>
<path stroke="#3050e8" stroke-width="5.0" d="M593.1 1337.1l0.2 0.1M553.5 1336.9l0.9 -1.0"/>
<path stroke="#2838e0" stroke-width="4.5" d="M556.1 1341.5l0.0 0.0"/>
<path stroke="#3050e8" stroke-width="3.5" d="M599.2 1369.0l1.5 2.4M551.8 1326.3l1.0 1.1M552.1 1304.1l0.6 0.2"/>
<path stroke="#2838e0" stroke-width="5.0" d="M562.9 1355.7l0.1 0.1M549.5 1341.5l1.2 -0.4"/>
<path stroke="#2028b8" stroke-width="5.0" d="M556.5 1340.2l0.5 0.4"/>
</g>
<g opacity="0.95" stroke-linecap="round" fill="none" filter="url(#bl90)">
<path stroke="#f0b0f0" stroke-width="3.5" d="M551.6 1347.3l3.7 2.0M575.0 1330.7l1.5 0.7M554.6 1374.0l4.2 1.4M568.0 1375.1l4.0 1.5M604.9 1376.2l2.0 0.8M615.6 1352.8l3.3 2.4"/>
<path stroke="#a0e0f0" stroke-width="4.0" d="M563.4 1333.1l3.0 0.9M596.8 1317.8l3.4 2.1"/>
<path stroke="#d080f0" stroke-width="3.0" d="M580.9 1368.3l3.6 1.8"/>
<path stroke="#a0e0f0" stroke-width="3.5" d="M544.4 1313.3l3.1 1.5M615.6 1301.1l3.4 1.7"/>
<path stroke="#a0e0f0" stroke-width="3.0" d="M581.8 1310.2l3.5 1.7M612.5 1347.8l2.8 2.0"/>
<path stroke="#d080f0" stroke-width="4.5" d="M588.9 1364.4l2.2 1.4M605.7 1349.4l2.3 1.4M553.6 1361.1l3.1 1.9M574.3 1357.7l1.7 0.9"/>
<path stroke="#a0e0f0" stroke-width="4.5" d="M563.6 1308.9l2.9 1.4M607.3 1377.8l0.3 0.2M546.6 1356.6l3.1 1.2"/>
<path stroke="#f0b0f0" stroke-width="4.0" d="M618.0 1339.2l3.7 1.7M549.2 1336.2l3.9 1.6M576.5 1351.7l1.2 0.7M595.7 1371.4l2.8 2.3"/>
<path stroke="#d080f0" stroke-width="3.5" d="M611.4 1355.6l4.6 2.9"/>
<path stroke="#f0b0f0" stroke-width="3.0" d="M582.6 1299.8l2.2 1.0M603.1 1344.1l2.4 1.4M605.4 1319.7l4.7 3.1M560.2 1306.0l3.3 2.7"/>
<path stroke="#ffffff" stroke-width="4.5" d="M552.6 1332.2l2.1 0.8M599.1 1304.8l2.1 1.1"/>
<path stroke="#f0b0f0" stroke-width="4.5" d="M575.1 1353.7l1.1 0.3M552.0 1378.1l3.5 1.0M595.0 1306.7l2.9 2.3M605.5 1353.4l1.7 1.4M590.2 1302.3l1.9 0.7"/>
<path stroke="#ffffff" stroke-width="4.0" d="M594.7 1310.2l1.6 0.7M610.0 1357.3l4.4 1.2"/>
<path stroke="#e060e0" stroke-width="4.5" d="M593.4 1361.5l4.3 1.7M581.2 1324.7l3.6 2.5"/>
<path stroke="#d080f0" stroke-width="4.0" d="M609.1 1330.6l2.2 0.7"/>
<path stroke="#ffffff" stroke-width="3.0" d="M542.8 1350.9l4.3 2.2"/>
<path stroke="#f0b0f0" stroke-width="5.0" d="M545.2 1353.7l1.7 0.5"/>
<path stroke="#e060e0" stroke-width="3.5" d="M616.4 1354.8l2.9 1.4"/>
<path stroke="#ffffff" stroke-width="3.5" d="M546.9 1366.9l3.3 1.3"/>
<path stroke="#e060e0" stroke-width="3.0" d="M580.8 1362.9l2.7 1.3"/>
</g>
</g>
<rect x="684.5" y="1226.2" width="23.0" height="64.5" fill="#8caccc"/>
<line x1="696.0" y1="1226.2" x2="696.0" y2="1221.2" stroke="#8caccc" stroke-width="1.3"/>
<line x1="691.0" y1="1221.2" x2="701.0" y2="1221.2" stroke="#8caccc" stroke-width="1.3"/>
<rect x="720.8" y="1195.0" width="23.0" height="95.8" fill="#e6b5c1"/>
<line x1="732.3" y1="1195.0" x2="732.3" y2="1193.1" stroke="#e6b5c1" stroke-width="1.3"/>
<line x1="727.3" y1="1193.1" x2="737.3" y2="1193.1" stroke="#e6b5c1" stroke-width="1.3"/>
<line x1="672.0" y1="1291.4" x2="672.0" y2="1163.6" stroke="#222" stroke-width="1.3"/>
<line x1="666.0" y1="1290.8" x2="672.0" y2="1290.8" stroke="#222" stroke-width="1.3"/>
<text x="664.0" y="1295.8" font-size="14" fill="#1a1a1a" text-anchor="end" stroke="#1a1a1a" stroke-width="0.22">0</text>
<line x1="666.0" y1="1265.5" x2="672.0" y2="1265.5" stroke="#222" stroke-width="1.3"/>
<text x="664.0" y="1270.5" font-size="14" fill="#1a1a1a" text-anchor="end" stroke="#1a1a1a" stroke-width="0.22">20</text>
<line x1="666.0" y1="1240.2" x2="672.0" y2="1240.2" stroke="#222" stroke-width="1.3"/>
<text x="664.0" y="1245.2" font-size="14" fill="#1a1a1a" text-anchor="end" stroke="#1a1a1a" stroke-width="0.22">40</text>
<line x1="666.0" y1="1214.8" x2="672.0" y2="1214.8" stroke="#222" stroke-width="1.3"/>
<text x="664.0" y="1219.9" font-size="14" fill="#1a1a1a" text-anchor="end" stroke="#1a1a1a" stroke-width="0.22">60</text>
<line x1="666.0" y1="1189.5" x2="672.0" y2="1189.5" stroke="#222" stroke-width="1.3"/>
<text x="664.0" y="1194.6" font-size="14" fill="#1a1a1a" text-anchor="end" stroke="#1a1a1a" stroke-width="0.22">80</text>
<line x1="666.0" y1="1164.2" x2="672.0" y2="1164.2" stroke="#222" stroke-width="1.3"/>
<text x="664.0" y="1169.3" font-size="14" fill="#1a1a1a" text-anchor="end" stroke="#1a1a1a" stroke-width="0.22">100</text>
<line x1="670.8" y1="1290.8" x2="747.5" y2="1290.8" stroke="#222" stroke-width="1.3"/>
<line x1="695.5" y1="1290.8" x2="695.5" y2="1296.2" stroke="#222" stroke-width="1.3"/>
<line x1="732.0" y1="1290.8" x2="732.0" y2="1296.2" stroke="#222" stroke-width="1.3"/>
<text font-size="14.4" fill="#1a1a1a" text-anchor="middle" transform="translate(636.3,1226.0) rotate(-90)" stroke="#1a1a1a" stroke-width="0.22">METTL14 in Neurons</text>
<text font-size="14.6" fill="#1a1a1a" text-anchor="end" transform="translate(704.5,1304.5) rotate(-36)" stroke="#1a1a1a" stroke-width="0.22">Sham</text>
<text font-size="14.6" fill="#1a1a1a" text-anchor="end" transform="translate(741.0,1310.5) rotate(-36)" stroke="#1a1a1a" stroke-width="0.22">PDAC</text>
<path d="M683.7 1215.8a3.3 3.3 0 1 0 6.6 0a3.3 3.3 0 1 0 -6.6 0M698.7 1215.8a3.3 3.3 0 1 0 6.6 0a3.3 3.3 0 1 0 -6.6 0M691.2 1219.5a3.3 3.3 0 1 0 6.6 0a3.3 3.3 0 1 0 -6.6 0M691.2 1237.5a3.3 3.3 0 1 0 6.6 0a3.3 3.3 0 1 0 -6.6 0M691.2 1241.2a3.3 3.3 0 1 0 6.6 0a3.3 3.3 0 1 0 -6.6 0M718.0 1193.8a3.3 3.3 0 1 0 6.6 0a3.3 3.3 0 1 0 -6.6 0M727.5 1187.5a3.3 3.3 0 1 0 6.6 0a3.3 3.3 0 1 0 -6.6 0M723.5 1192.0a3.3 3.3 0 1 0 6.6 0a3.3 3.3 0 1 0 -6.6 0M730.5 1193.0a3.3 3.3 0 1 0 6.6 0a3.3 3.3 0 1 0 -6.6 0M737.2 1192.0a3.3 3.3 0 1 0 6.6 0a3.3 3.3 0 1 0 -6.6 0" fill="none" stroke="#2a2024" stroke-width="1.2"/>
<text x="714.2" y="1170.2" font-size="24" fill="#0a0a0a" text-anchor="middle" letter-spacing="0.8" stroke="#0a0a0a" stroke-width="0.35">***</text>
<line x1="683.3" y1="1171.8" x2="743.8" y2="1171.8" stroke="#222" stroke-width="1.1"/>
<text x="726.5" y="1048.6" font-size="23" fill="#000" font-weight="bold">M</text>
<rect x="773.9" y="1037.0" width="161.3" height="15.5" fill="#fff" stroke="#333" stroke-width="1.15"/>
<text x="775.3" y="1050.5" font-size="13.5" xml:space="preserve"><tspan fill="#2e9f6c" stroke="#2e9f6c" stroke-width="0.2">METTL14</tspan><tspan fill="#1a1a1a" stroke="#1a1a1a" stroke-width="0.2">/ </tspan><tspan fill="#e23ad2" stroke="#e23ad2" stroke-width="0.2">CaMKIIα</tspan><tspan fill="#1a1a1a" stroke="#1a1a1a" stroke-width="0.2">/ </tspan><tspan fill="#3b88c9" stroke="#3b88c9" stroke-width="0.2">DAPI</tspan></text>
<rect x="941.3" y="1037.0" width="161.3" height="15.5" fill="#fff" stroke="#333" stroke-width="1.15"/>
<text x="948.4" y="1050.5" font-size="13.5" xml:space="preserve"><tspan fill="#2e9f6c" stroke="#2e9f6c" stroke-width="0.2">METTL14 </tspan><tspan fill="#1a1a1a" stroke="#1a1a1a" stroke-width="0.2">/ </tspan><tspan fill="#e23ad2" stroke="#e23ad2" stroke-width="0.2">GABA</tspan><tspan fill="#1a1a1a" stroke="#1a1a1a" stroke-width="0.2">/ </tspan><tspan fill="#3b88c9" stroke="#3b88c9" stroke-width="0.2">DAPI</tspan></text>
<rect x="759.3" y="1052.5" width="14.6" height="160.4" fill="#fff" stroke="#444" stroke-width="1.1"/>
<text font-size="14.0" fill="#1a1a1a" text-anchor="middle" transform="translate(771.0,1132.7) rotate(-90)" stroke="#1a1a1a" stroke-width="0.22">Sham</text>
<rect x="759.3" y="1219.0" width="14.6" height="160.4" fill="#fff" stroke="#444" stroke-width="1.1"/>
<text font-size="14.0" fill="#1a1a1a" text-anchor="middle" transform="translate(771.0,1299.2) rotate(-90)" stroke="#1a1a1a" stroke-width="0.22">PDAC</text>
<clipPath id="c69"><rect x="773.9" y="1052.5" width="161.3" height="160.4"/></clipPath>
<g clip-path="url(#c69)">
<rect x="773.9" y="1052.5" width="161.3" height="160.4" fill="#090b2e"/>
<radialGradient id="g70"><stop offset="0" stop-color="#8a50a0" stop-opacity="0.9"/><stop offset="0.55" stop-color="#8a50a0" stop-opacity="0.41"/><stop offset="1" stop-color="#8a50a0" stop-opacity="0"/></radialGradient>
<ellipse cx="846.5" cy="1124.7" rx="100.0" ry="93.0" fill="url(#g70)"/>
<radialGradient id="g71"><stop offset="0" stop-color="#b4ccc4" stop-opacity="0.65"/><stop offset="0.55" stop-color="#b4ccc4" stop-opacity="0.29"/><stop offset="1" stop-color="#b4ccc4" stop-opacity="0"/></radialGradient>
<ellipse cx="854.5" cy="1116.7" rx="64.5" ry="57.7" fill="url(#g71)"/>
<radialGradient id="g72"><stop offset="0" stop-color="#a028a8" stop-opacity="0.65"/><stop offset="0.55" stop-color="#a028a8" stop-opacity="0.29"/><stop offset="1" stop-color="#a028a8" stop-opacity="0"/></radialGradient>
<ellipse cx="846.5" cy="1177.6" rx="88.7" ry="43.3" fill="url(#g72)"/>
<radialGradient id="g73"><stop offset="0" stop-color="#4a8866" stop-opacity="0.7"/><stop offset="0.55" stop-color="#4a8866" stop-opacity="0.32"/><stop offset="1" stop-color="#4a8866" stop-opacity="0"/></radialGradient>
<ellipse cx="878.7" cy="1087.8" rx="61.3" ry="48.1" fill="url(#g73)"/>
<filter id="nz75667" x="0" y="0" width="1" height="1" color-interpolation-filters="sRGB"><feTurbulence type="fractalNoise" baseFrequency="0.28" numOctaves="2" seed="110"/><feColorMatrix values="0 0 0 0 0.55 0 0 0 0 0.95 0 0 0 0 0.7 3.0 0 0 0 -1.8279999999999998"/></filter>
<rect x="773.9" y="1052.5" width="161.3" height="160.4" filter="url(#nz75667)"/>
<filter id="nz80329" x="0" y="0" width="1" height="1" color-interpolation-filters="sRGB"><feTurbulence type="fractalNoise" baseFrequency="0.3" numOctaves="2" seed="160"/><feColorMatrix values="0 0 0 0 0.9 0 0 0 0 0.4 0 0 0 0 0.9 3.0 0 0 0 -1.89"/></filter>
<rect x="773.9" y="1052.5" width="161.3" height="160.4" filter="url(#nz80329)"/>
<filter id="nz52472" x="0" y="0" width="1" height="1" color-interpolation-filters="sRGB"><feTurbulence type="fractalNoise" baseFrequency="0.5" numOctaves="2" seed="200"/><feColorMatrix values="0 0 0 0 0.25 0 0 0 0 0.3 0 0 0 0 0.85 2.6 0 0 0 -1.5"/></filter>
<rect x="773.9" y="1052.5" width="161.3" height="160.4" filter="url(#nz52472)"/>
<g opacity="0.95" stroke-linecap="round" fill="none">
<path stroke="#80e0b0" stroke-width="2.2" d="M851.5 1159.3h0M847.3 1115.1h0M863.1 1128.4h0M805.5 1138.6h0M862.0 1119.8h0M836.7 1095.9h0M905.5 1116.3h0M797.7 1154.2h0M827.7 1116.2h0M805.3 1111.4h0M875.8 1084.6h0M834.1 1168.1h0M863.5 1061.6h0M814.5 1124.8h0M863.2 1102.2h0M858.7 1094.5h0"/>
<path stroke="#60e890" stroke-width="1.6" d="M857.8 1117.9h0M844.2 1136.8h0M852.5 1135.0h0M827.2 1133.5h0M862.4 1156.1h0M872.9 1077.9h0M881.7 1112.0h0M931.7 1108.7h0M788.4 1103.1h0M833.2 1163.3h0M836.4 1138.0h0M867.4 1100.0h0M872.1 1067.7h0M867.8 1146.8h0M815.4 1113.7h0M822.9 1166.5h0M811.0 1087.5h0M909.4 1137.0h0M876.6 1144.2h0"/>
<path stroke="#a0f0c0" stroke-width="2.8" d="M868.9 1122.2h0M871.7 1157.3h0M898.7 1104.7h0M829.1 1054.9h0M808.9 1160.8h0M877.5 1140.1h0M878.2 1137.1h0M802.1 1099.8h0M861.2 1143.5h0M853.0 1064.7h0M873.2 1192.7h0M849.0 1089.2h0M857.6 1132.3h0M882.7 1133.2h0M869.2 1161.6h0"/>
<path stroke="#80e0b0" stroke-width="1.6" d="M867.5 1140.0h0M841.8 1186.0h0M884.2 1087.2h0M907.1 1089.3h0M881.3 1119.7h0M862.3 1131.0h0M889.4 1059.9h0M846.5 1117.9h0M828.3 1077.1h0M853.0 1125.7h0M913.4 1087.8h0M880.1 1075.0h0"/>
<path stroke="#80e0b0" stroke-width="2.8" d="M840.4 1175.0h0M863.3 1066.2h0M823.7 1091.2h0M814.3 1198.0h0M838.0 1096.4h0M881.6 1141.4h0M854.7 1186.7h0M829.2 1071.6h0M899.4 1175.4h0"/>
<path stroke="#e8fff0" stroke-width="2.2" d="M859.8 1177.5h0M813.5 1153.4h0M882.6 1140.5h0M882.4 1148.1h0M814.2 1136.5h0M884.1 1110.4h0M834.8 1132.0h0M811.4 1164.7h0M865.0 1135.4h0M851.2 1145.2h0M819.7 1079.7h0M800.6 1104.5h0M901.3 1070.8h0M862.6 1128.4h0M843.2 1126.2h0M870.3 1119.2h0M824.6 1168.3h0M797.6 1062.3h0M863.6 1104.5h0M808.3 1139.8h0"/>
<path stroke="#e8fff0" stroke-width="2.8" d="M847.4 1138.2h0M876.1 1163.4h0M841.0 1135.7h0M812.2 1094.7h0M792.8 1161.1h0M835.7 1154.1h0M814.6 1099.9h0M818.9 1065.2h0M882.3 1120.1h0M821.7 1154.1h0M876.9 1087.6h0M818.0 1127.7h0M805.7 1112.6h0M861.3 1151.6h0M832.7 1066.6h0M830.2 1127.1h0"/>
<path stroke="#e8fff0" stroke-width="1.6" d="M790.2 1147.8h0M789.2 1103.1h0M877.9 1115.2h0M797.7 1163.7h0M828.2 1117.8h0M847.6 1103.2h0M873.6 1142.5h0M860.4 1056.7h0M879.5 1164.3h0M867.0 1103.8h0M875.3 1059.0h0M867.9 1151.8h0M859.1 1079.9h0M876.2 1172.1h0M807.9 1114.0h0M806.6 1161.5h0M840.9 1163.0h0M858.4 1165.2h0M842.8 1116.8h0"/>
<path stroke="#60e890" stroke-width="2.2" d="M832.7 1107.3h0M853.6 1107.5h0M785.1 1104.0h0M892.0 1157.5h0M812.9 1098.5h0M870.4 1137.7h0M824.6 1130.2h0M859.2 1147.1h0M855.2 1117.0h0M865.1 1119.0h0M801.1 1140.4h0M827.5 1115.5h0"/>
<path stroke="#60e890" stroke-width="2.8" d="M901.0 1118.3h0M807.8 1117.9h0M800.2 1082.7h0M824.6 1130.8h0M818.5 1152.8h0M869.0 1202.6h0M848.7 1107.7h0M858.1 1079.7h0M844.2 1080.9h0M838.9 1098.2h0M875.3 1124.8h0M805.0 1118.3h0M814.9 1079.0h0M906.1 1172.6h0M832.9 1069.6h0M826.7 1139.4h0M808.2 1105.9h0M908.8 1142.7h0M875.4 1099.4h0M891.3 1152.3h0M886.1 1185.4h0M818.5 1112.7h0M792.2 1194.4h0M885.9 1128.9h0"/>
<path stroke="#a0f0c0" stroke-width="1.6" d="M824.3 1168.1h0M859.5 1085.9h0M847.9 1117.8h0M845.3 1122.5h0M887.3 1120.5h0M813.0 1185.9h0M895.1 1137.2h0M802.3 1159.5h0M873.6 1161.1h0M813.7 1188.4h0M817.0 1107.7h0M850.2 1121.3h0"/>
<path stroke="#a0f0c0" stroke-width="2.2" d="M866.9 1176.4h0M841.4 1089.7h0M856.7 1113.0h0M829.4 1143.7h0M808.9 1127.7h0M825.1 1069.3h0M856.6 1088.1h0M837.4 1119.3h0M903.0 1131.0h0M930.1 1177.0h0M900.6 1149.2h0M873.8 1089.6h0M918.2 1113.7h0"/>
</g>
<g opacity="0.9" stroke-linecap="round" fill="none">
<path stroke="#f0a0f0" stroke-width="2.2" d="M870.4 1131.9h0M801.9 1151.6h0M860.9 1155.4h0M829.7 1131.2h0M840.3 1130.7h0M842.8 1155.3h0M935.1 1175.8h0M827.5 1061.6h0M880.7 1101.8h0M830.4 1128.6h0M851.2 1118.1h0M824.5 1093.0h0M843.2 1169.3h0M814.1 1144.7h0M818.8 1129.1h0M861.3 1116.4h0M836.6 1143.9h0M838.7 1096.4h0M790.4 1169.3h0M834.8 1088.2h0M888.1 1166.5h0"/>
<path stroke="#e060e0" stroke-width="2.2" d="M837.6 1127.5h0M812.2 1152.7h0M776.2 1083.7h0M857.3 1207.5h0M874.2 1150.2h0M906.8 1125.2h0M861.7 1083.6h0M862.7 1126.2h0M879.8 1164.4h0M821.1 1143.4h0M859.3 1135.5h0M872.7 1122.8h0M862.6 1109.1h0M813.8 1128.7h0M867.6 1098.1h0M810.5 1142.3h0M888.6 1157.0h0M848.7 1183.3h0M842.7 1113.0h0M909.7 1172.1h0"/>
<path stroke="#e060e0" stroke-width="1.6" d="M801.0 1128.2h0M812.0 1152.2h0M854.9 1164.1h0M856.6 1183.0h0M880.3 1158.7h0M892.5 1111.0h0M890.1 1194.4h0M815.0 1129.8h0M910.8 1125.5h0M846.2 1115.2h0M827.9 1156.2h0M843.2 1123.6h0M783.8 1172.5h0M786.4 1167.4h0M838.2 1096.7h0M873.0 1179.6h0M838.5 1096.6h0M816.9 1160.8h0M817.1 1131.8h0M916.9 1142.3h0M869.5 1164.9h0M847.8 1116.2h0M851.6 1145.7h0"/>
<path stroke="#f0a0f0" stroke-width="1.6" d="M841.6 1144.2h0M839.1 1141.0h0M788.7 1171.4h0M868.3 1142.7h0M844.4 1160.1h0M834.1 1123.9h0M864.5 1127.6h0M845.5 1053.6h0M814.2 1134.1h0M877.8 1166.5h0M783.5 1148.6h0M782.8 1190.9h0M827.5 1099.1h0M850.8 1199.5h0M905.6 1158.4h0M787.9 1116.7h0M807.6 1069.7h0M849.8 1129.2h0M838.7 1115.2h0M853.4 1088.8h0M834.1 1136.7h0M896.8 1137.4h0M833.7 1152.3h0"/>
</g>
<radialGradient id="v74" cx="0.45" cy="0.45" r="0.72"><stop offset="0" stop-color="#04061c" stop-opacity="0"/><stop offset="0.5" stop-color="#04061c" stop-opacity="0"/><stop offset="1" stop-color="#04061c" stop-opacity="0.9"/></radialGradient>
<rect x="773.9" y="1052.5" width="161.3" height="160.4" fill="url(#v74)"/>
<path d="M896.2,1052.5 C897.4,1054.4 900.0,1059.5 903.3,1063.7 C906.6,1068.0 912.4,1073.1 915.9,1077.8 C919.5,1082.5 920.9,1086.5 924.4,1091.9 C927.9,1097.3 934.9,1107.1 937.0,1110.2" fill="none" stroke="#58e858" stroke-width="5.5" stroke-linecap="round"/>
<path d="M901.9,1056.7 C903.7,1058.8 909.8,1064.9 913.1,1069.4 C916.4,1073.8 920.2,1081.1 921.6,1083.4" fill="none" stroke="#2a9838" stroke-width="1.6" stroke-dasharray="3 4"/>
<line x1="896.3" y1="1204.4" x2="932.8" y2="1204.4" stroke="#ccc" stroke-width="1.4"/>
</g>
<clipPath id="c75"><rect x="941.3" y="1052.5" width="161.3" height="160.4"/></clipPath>
<g clip-path="url(#c75)">
<rect x="941.3" y="1052.5" width="161.3" height="160.4" fill="#080b2a"/>
<radialGradient id="g76"><stop offset="0" stop-color="#5a8a8c" stop-opacity="0.85"/><stop offset="0.55" stop-color="#5a8a8c" stop-opacity="0.38"/><stop offset="1" stop-color="#5a8a8c" stop-opacity="0"/></radialGradient>
<ellipse cx="1030.0" cy="1124.7" rx="109.7" ry="99.4" fill="url(#g76)"/>
<radialGradient id="g77"><stop offset="0" stop-color="#a8d4c0" stop-opacity="0.6"/><stop offset="0.55" stop-color="#a8d4c0" stop-opacity="0.27"/><stop offset="1" stop-color="#a8d4c0" stop-opacity="0"/></radialGradient>
<ellipse cx="1038.1" cy="1116.7" rx="67.7" ry="57.7" fill="url(#g77)"/>
<radialGradient id="g78"><stop offset="0" stop-color="#604090" stop-opacity="0.45"/><stop offset="0.55" stop-color="#604090" stop-opacity="0.20"/><stop offset="1" stop-color="#604090" stop-opacity="0"/></radialGradient>
<ellipse cx="997.8" cy="1124.7" rx="72.6" ry="72.2" fill="url(#g78)"/>
<filter id="nz96102" x="0" y="0" width="1" height="1" color-interpolation-filters="sRGB"><feTurbulence type="fractalNoise" baseFrequency="0.28" numOctaves="2" seed="115"/><feColorMatrix values="0 0 0 0 0.55 0 0 0 0 0.95 0 0 0 0 0.7 3.0 0 0 0 -1.8399999999999999"/></filter>
<rect x="941.3" y="1052.5" width="161.3" height="160.4" filter="url(#nz96102)"/>
<filter id="nz94221" x="0" y="0" width="1" height="1" color-interpolation-filters="sRGB"><feTurbulence type="fractalNoise" baseFrequency="0.3" numOctaves="2" seed="165"/><feColorMatrix values="0 0 0 0 0.9 0 0 0 0 0.4 0 0 0 0 0.9 3.0 0 0 0 -1.9"/></filter>
<rect x="941.3" y="1052.5" width="161.3" height="160.4" filter="url(#nz94221)"/>
<filter id="nz42361" x="0" y="0" width="1" height="1" color-interpolation-filters="sRGB"><feTurbulence type="fractalNoise" baseFrequency="0.5" numOctaves="2" seed="205"/><feColorMatrix values="0 0 0 0 0.25 0 0 0 0 0.3 0 0 0 0 0.85 2.6 0 0 0 -1.5"/></filter>
<rect x="941.3" y="1052.5" width="161.3" height="160.4" filter="url(#nz42361)"/>
<g opacity="0.95" stroke-linecap="round" fill="none">
<path stroke="#e8fff0" stroke-width="2.2" d="M966.9 1117.7h0M1015.0 1157.7h0M1059.0 1195.2h0M1038.4 1160.7h0M1030.8 1088.6h0M1078.8 1133.3h0M1020.7 1191.0h0M1024.8 1101.3h0M1056.9 1181.6h0M1071.8 1154.0h0M999.0 1116.6h0M1028.6 1095.1h0M1001.6 1066.3h0M986.1 1156.4h0M1068.2 1127.9h0M1091.9 1103.4h0M1064.3 1082.5h0M972.7 1113.1h0"/>
<path stroke="#a0f0c0" stroke-width="2.8" d="M1008.1 1078.1h0M1040.6 1171.4h0M1043.1 1131.5h0M1024.9 1164.4h0M1029.0 1078.1h0M1041.5 1100.6h0M1000.1 1070.2h0M1064.2 1100.7h0M983.8 1181.5h0M968.5 1137.7h0M1039.0 1188.3h0M969.1 1087.5h0M1049.8 1071.7h0M1027.5 1187.3h0M1036.3 1082.8h0M981.5 1092.2h0M1059.2 1128.5h0M1044.4 1210.9h0"/>
<path stroke="#80e0c0" stroke-width="2.2" d="M1060.9 1199.6h0M984.5 1140.1h0M986.0 1169.6h0M1043.5 1197.0h0M1016.9 1125.4h0M1010.8 1124.4h0M1069.0 1071.2h0M1050.5 1123.0h0M1052.5 1114.5h0M977.1 1092.6h0M983.2 1067.9h0M1032.6 1173.9h0M1058.6 1088.0h0M1091.9 1101.7h0"/>
<path stroke="#60e890" stroke-width="2.8" d="M1084.3 1080.2h0M1003.4 1184.9h0M977.8 1092.0h0M1027.3 1154.9h0M1061.5 1105.0h0M1031.2 1098.7h0M983.5 1181.7h0M1068.5 1195.9h0M989.4 1151.3h0M1063.4 1192.9h0M1020.8 1145.2h0M1016.5 1089.8h0M1058.8 1142.4h0M1089.5 1091.4h0M1070.4 1141.7h0M1068.1 1097.8h0M991.6 1165.2h0M1074.8 1064.3h0M1040.2 1199.6h0M1078.6 1079.2h0M1031.4 1110.0h0M977.4 1076.0h0"/>
<path stroke="#80e0c0" stroke-width="2.8" d="M1001.4 1157.3h0M943.3 1123.3h0M1014.5 1137.0h0M1056.1 1121.0h0M1039.7 1056.2h0M956.0 1094.9h0M1073.1 1076.0h0M1086.8 1120.4h0M1089.5 1170.2h0M994.9 1140.3h0M1052.9 1177.5h0M1007.6 1182.2h0M1050.0 1113.7h0M1076.1 1180.4h0M1046.0 1133.1h0M1042.2 1122.4h0"/>
<path stroke="#e8fff0" stroke-width="1.6" d="M994.8 1091.7h0M994.2 1097.8h0M1095.7 1165.9h0M954.2 1095.3h0M996.9 1143.1h0M1021.5 1173.2h0M1035.5 1149.4h0M1001.4 1169.8h0M1061.6 1191.9h0M965.6 1130.7h0M963.9 1116.2h0M1016.0 1163.5h0M1004.3 1162.1h0M966.7 1127.1h0M992.0 1139.5h0M1044.2 1174.2h0M1027.1 1131.6h0M1051.2 1106.2h0M1036.1 1114.7h0M979.9 1178.8h0M1008.1 1095.1h0M1018.9 1211.4h0"/>
<path stroke="#60e890" stroke-width="2.2" d="M1019.1 1137.1h0M1027.5 1142.1h0M1026.1 1115.1h0M1009.9 1068.3h0M1050.8 1204.2h0M1042.7 1054.2h0M1003.0 1081.7h0M969.1 1139.0h0M1015.6 1150.7h0M1033.8 1145.9h0M1030.8 1193.7h0M1012.8 1079.6h0M965.3 1152.4h0M1071.4 1210.8h0M1058.7 1197.3h0M1059.6 1072.6h0M990.1 1082.7h0M1030.6 1130.5h0M1065.6 1137.8h0M957.0 1152.0h0M1037.5 1167.5h0M992.1 1150.7h0"/>
<path stroke="#60e890" stroke-width="1.6" d="M950.9 1143.2h0M1049.3 1129.4h0M1019.3 1103.7h0M1040.3 1132.7h0M990.3 1194.3h0M1034.4 1147.0h0M1011.2 1175.2h0M1003.9 1098.5h0M1016.7 1194.5h0M1024.4 1203.5h0M1056.7 1205.9h0M1081.7 1133.3h0M955.9 1108.6h0M1040.1 1085.4h0M1027.2 1100.0h0M997.3 1133.8h0"/>
<path stroke="#e8fff0" stroke-width="2.8" d="M1008.1 1112.0h0M1044.9 1140.2h0M1070.0 1097.5h0M1072.6 1121.8h0M1037.0 1173.7h0M1006.2 1114.9h0M1053.5 1074.5h0M985.6 1132.5h0M1033.7 1158.4h0M961.2 1066.1h0M1042.0 1140.6h0M989.4 1118.2h0M1037.2 1081.2h0M980.2 1113.6h0M1047.6 1114.0h0M964.6 1183.4h0M1007.8 1181.4h0M1009.2 1163.5h0M1044.8 1169.6h0M978.4 1056.5h0M1059.3 1122.5h0"/>
<path stroke="#a0f0c0" stroke-width="2.2" d="M969.1 1157.8h0M1010.0 1125.1h0M1047.8 1102.5h0M972.2 1097.8h0M1006.2 1104.8h0M1072.6 1119.0h0M1045.3 1065.7h0M1022.4 1208.0h0M1054.6 1173.9h0M965.4 1156.9h0M1027.0 1104.3h0M1032.9 1073.5h0M1091.9 1087.9h0M998.2 1178.5h0M1077.3 1138.5h0M1031.0 1188.5h0M1037.7 1057.5h0M1039.8 1146.6h0M1006.0 1162.2h0M1014.5 1092.5h0M979.1 1124.1h0M1035.0 1091.9h0M1005.4 1130.6h0M1100.7 1131.7h0M965.9 1165.6h0M1036.7 1146.5h0"/>
<path stroke="#a0f0c0" stroke-width="1.6" d="M1029.5 1087.5h0M1014.7 1069.6h0M1000.1 1171.6h0M1003.7 1163.7h0M1056.7 1176.6h0M982.0 1154.3h0M1006.5 1181.6h0M1031.3 1155.3h0M1036.6 1111.5h0M1015.6 1155.8h0M1016.6 1089.0h0"/>
<path stroke="#80e0c0" stroke-width="1.6" d="M947.8 1116.7h0M946.5 1120.4h0M1070.2 1065.7h0M1000.2 1097.4h0M1090.2 1183.1h0M996.6 1153.0h0M1026.0 1096.4h0M1031.6 1143.0h0M993.1 1109.0h0M1058.0 1080.8h0M1026.9 1159.8h0M964.9 1096.5h0M1102.2 1065.6h0"/>
</g>
<g opacity="0.9" stroke-linecap="round" fill="none">
<path stroke="#c080e0" stroke-width="2.0" d="M1056.0 1081.8h0M1005.2 1189.5h0M1029.4 1096.3h0M1047.2 1152.8h0M1011.3 1145.3h0M1045.7 1145.5h0M961.8 1159.1h0M1024.6 1176.5h0M1077.7 1192.7h0M998.8 1182.1h0M1071.3 1099.1h0M976.1 1143.6h0M1026.1 1177.8h0M1071.5 1158.5h0M1017.1 1080.7h0M1060.0 1108.8h0M1015.9 1167.4h0M1029.0 1143.9h0M995.2 1060.1h0M988.3 1065.0h0M977.5 1151.7h0M1066.5 1092.5h0"/>
<path stroke="#d060e0" stroke-width="1.4" d="M1039.3 1134.0h0M995.0 1082.2h0M1081.3 1096.5h0M1052.7 1183.6h0M1020.0 1123.6h0M990.9 1105.5h0M969.6 1196.9h0"/>
<path stroke="#c080e0" stroke-width="1.4" d="M994.8 1145.4h0M965.4 1061.4h0M1004.8 1195.6h0M1023.1 1069.2h0M1061.5 1155.2h0M982.0 1133.7h0M1071.3 1091.0h0M994.4 1097.1h0M995.3 1176.0h0M1031.3 1154.8h0M987.3 1193.5h0M1026.4 1081.6h0M1019.7 1144.7h0M995.6 1061.5h0M1026.8 1139.4h0M1050.9 1159.3h0M1003.8 1140.3h0M970.9 1060.4h0M1058.5 1096.5h0M1063.9 1180.7h0M1000.9 1153.0h0M984.4 1095.3h0"/>
<path stroke="#d060e0" stroke-width="2.0" d="M1021.1 1114.0h0M1010.5 1194.6h0M1095.4 1095.6h0M976.3 1100.9h0M989.4 1125.8h0M1009.9 1100.1h0M1028.2 1126.9h0M1049.9 1138.5h0"/>
</g>
<radialGradient id="v79" cx="0.58" cy="0.42" r="0.75"><stop offset="0" stop-color="#04061c" stop-opacity="0"/><stop offset="0.5" stop-color="#04061c" stop-opacity="0"/><stop offset="1" stop-color="#04061c" stop-opacity="0.9"/></radialGradient>
<rect x="941.3" y="1052.5" width="161.3" height="160.4" fill="url(#v79)"/>
</g>
<clipPath id="c80"><rect x="773.9" y="1219.0" width="161.3" height="160.4"/></clipPath>
<g clip-path="url(#c80)">
<rect x="773.9" y="1219.0" width="161.3" height="160.4" fill="#0b0d28"/>
<radialGradient id="g81"><stop offset="0" stop-color="#a070b8" stop-opacity="0.95"/><stop offset="0.55" stop-color="#a070b8" stop-opacity="0.43"/><stop offset="1" stop-color="#a070b8" stop-opacity="0"/></radialGradient>
<ellipse cx="862.6" cy="1299.2" rx="116.1" ry="115.5" fill="url(#g81)"/>
<radialGradient id="g82"><stop offset="0" stop-color="#d4d4dc" stop-opacity="0.75"/><stop offset="0.55" stop-color="#d4d4dc" stop-opacity="0.34"/><stop offset="1" stop-color="#d4d4dc" stop-opacity="0"/></radialGradient>
<ellipse cx="854.5" cy="1299.2" rx="74.2" ry="73.8" fill="url(#g82)"/>
<radialGradient id="g83"><stop offset="0" stop-color="#306038" stop-opacity="0.75"/><stop offset="0.55" stop-color="#306038" stop-opacity="0.34"/><stop offset="1" stop-color="#306038" stop-opacity="0"/></radialGradient>
<ellipse cx="793.3" cy="1267.1" rx="48.4" ry="64.2" fill="url(#g83)"/>
<filter id="nz3407" x="0" y="0" width="1" height="1" color-interpolation-filters="sRGB"><feTurbulence type="fractalNoise" baseFrequency="0.28" numOctaves="2" seed="120"/><feColorMatrix values="0 0 0 0 0.55 0 0 0 0 0.95 0 0 0 0 0.7 3.0 0 0 0 -1.7799999999999998"/></filter>
<rect x="773.9" y="1219.0" width="161.3" height="160.4" filter="url(#nz3407)"/>
<filter id="nz23849" x="0" y="0" width="1" height="1" color-interpolation-filters="sRGB"><feTurbulence type="fractalNoise" baseFrequency="0.3" numOctaves="2" seed="170"/><feColorMatrix values="0 0 0 0 0.9 0 0 0 0 0.4 0 0 0 0 0.9 3.0 0 0 0 -1.8499999999999999"/></filter>
<rect x="773.9" y="1219.0" width="161.3" height="160.4" filter="url(#nz23849)"/>
<filter id="nz35878" x="0" y="0" width="1" height="1" color-interpolation-filters="sRGB"><feTurbulence type="fractalNoise" baseFrequency="0.5" numOctaves="2" seed="210"/><feColorMatrix values="0 0 0 0 0.25 0 0 0 0 0.3 0 0 0 0 0.85 2.6 0 0 0 -1.5"/></filter>
<rect x="773.9" y="1219.0" width="161.3" height="160.4" filter="url(#nz35878)"/>
<g opacity="0.95" stroke-linecap="round" fill="none">
<path stroke="#60e880" stroke-width="2.8" d="M856.2 1314.8h0M819.1 1348.2h0M872.9 1233.2h0M870.8 1354.9h0M878.1 1295.8h0M825.9 1262.6h0M832.4 1272.1h0M780.4 1293.8h0M929.0 1347.4h0M815.5 1335.2h0M823.0 1325.2h0M892.4 1249.7h0M882.5 1259.5h0M785.0 1271.3h0M831.9 1292.1h0M842.7 1350.3h0M912.0 1364.7h0M803.4 1287.7h0M905.5 1302.7h0M833.6 1292.3h0M842.5 1276.3h0M797.6 1282.6h0M792.9 1225.0h0M917.2 1287.5h0M883.8 1333.4h0M783.1 1337.2h0M816.6 1297.4h0M907.9 1313.4h0M882.9 1252.6h0M904.1 1371.7h0M895.1 1378.2h0"/>
<path stroke="#e8fff0" stroke-width="2.2" d="M881.8 1375.4h0M833.5 1368.4h0M842.7 1351.3h0M872.8 1339.2h0M853.3 1236.9h0M894.7 1320.4h0M822.1 1334.4h0M903.9 1304.4h0M842.6 1254.7h0M871.3 1297.3h0M809.6 1373.0h0M896.9 1352.9h0M853.0 1370.5h0M816.5 1313.1h0M916.3 1273.0h0M924.2 1285.1h0M783.9 1359.8h0M802.5 1341.1h0"/>
<path stroke="#90f0a8" stroke-width="2.2" d="M889.5 1257.8h0M787.3 1374.5h0M840.4 1306.4h0M795.7 1278.7h0M843.3 1263.4h0M853.1 1289.3h0M809.8 1336.0h0M918.3 1366.3h0M803.4 1290.2h0M815.6 1325.9h0M841.0 1330.5h0M842.7 1232.6h0M834.5 1331.8h0M844.7 1322.6h0M803.3 1265.6h0M831.5 1244.3h0"/>
<path stroke="#70e890" stroke-width="2.2" d="M877.1 1318.3h0M881.4 1318.3h0M835.2 1273.6h0M833.5 1305.9h0M782.5 1315.0h0M884.3 1230.5h0M912.1 1304.2h0M863.5 1283.9h0M903.1 1333.8h0M841.0 1308.7h0M904.1 1309.0h0M841.0 1305.8h0M891.9 1300.4h0M825.7 1337.9h0M831.6 1336.6h0M849.8 1292.7h0M792.3 1256.0h0M848.3 1271.8h0M853.6 1278.5h0M868.0 1273.2h0M849.0 1294.2h0M872.3 1264.0h0M881.6 1303.7h0"/>
<path stroke="#60e880" stroke-width="2.2" d="M844.4 1242.7h0M801.6 1290.1h0M822.9 1267.9h0M845.4 1233.7h0M838.6 1358.4h0M861.1 1351.1h0M904.7 1311.0h0M874.4 1262.2h0M930.1 1242.2h0M871.1 1294.6h0M860.5 1258.2h0M781.6 1240.6h0M822.0 1260.1h0M869.4 1344.0h0M836.2 1261.3h0M801.2 1266.9h0M816.9 1301.6h0M814.8 1263.2h0M901.0 1366.9h0M928.8 1317.1h0M814.5 1284.7h0M855.0 1339.7h0M878.3 1277.3h0M830.3 1245.1h0M841.9 1310.6h0"/>
<path stroke="#90f0a8" stroke-width="1.6" d="M840.7 1267.1h0M854.8 1326.7h0M852.3 1247.8h0M820.8 1280.1h0M851.3 1282.9h0M857.9 1334.8h0M899.5 1284.1h0M815.9 1249.8h0M880.6 1255.7h0M857.0 1305.9h0M863.8 1253.5h0M899.9 1329.8h0M915.6 1304.4h0M916.9 1306.3h0M823.9 1232.8h0M822.1 1290.2h0M911.4 1271.5h0M862.9 1267.3h0M835.9 1268.6h0M849.1 1254.0h0M869.3 1367.0h0M870.0 1296.7h0M860.2 1325.0h0M807.0 1295.0h0M876.1 1317.9h0M784.2 1349.2h0M782.4 1293.0h0"/>
<path stroke="#70e890" stroke-width="2.8" d="M871.2 1235.2h0M789.2 1342.6h0M882.6 1270.0h0M890.4 1360.9h0M880.0 1283.4h0M845.2 1263.6h0M902.9 1306.8h0M880.4 1299.4h0M875.0 1272.7h0M822.1 1361.7h0M866.9 1316.5h0M822.0 1356.3h0M806.4 1248.6h0M932.0 1243.7h0M908.4 1244.3h0M785.8 1375.5h0M863.8 1250.8h0M900.7 1257.1h0M879.2 1221.0h0M910.8 1303.6h0M843.4 1329.9h0M889.8 1302.8h0M910.2 1341.9h0M829.9 1285.5h0"/>
<path stroke="#e8fff0" stroke-width="2.8" d="M929.3 1348.5h0M846.1 1348.2h0M820.1 1325.7h0M795.9 1267.9h0M827.8 1270.5h0M931.0 1313.0h0M873.6 1318.8h0M861.8 1311.7h0M886.2 1320.0h0M807.9 1296.1h0M882.7 1305.0h0M826.8 1236.1h0M836.1 1309.2h0M925.4 1295.4h0M905.7 1347.3h0M848.0 1247.7h0M825.1 1325.9h0M809.0 1221.9h0M870.9 1229.0h0M778.7 1324.6h0"/>
<path stroke="#90f0a8" stroke-width="2.8" d="M868.6 1316.1h0M842.2 1253.6h0M876.3 1232.1h0M870.5 1321.0h0M852.7 1247.8h0M887.9 1320.7h0M809.8 1358.1h0M866.7 1250.3h0M822.0 1328.2h0M845.6 1287.4h0M906.5 1258.9h0M855.9 1269.9h0M928.9 1302.1h0M774.5 1250.6h0M921.4 1369.0h0M901.3 1265.1h0M931.8 1370.1h0M866.5 1288.6h0M882.8 1324.4h0M852.4 1266.5h0M837.5 1248.0h0M798.8 1348.6h0M876.0 1281.0h0"/>
<path stroke="#e8fff0" stroke-width="1.6" d="M917.4 1305.7h0M810.3 1353.0h0M863.9 1336.7h0M919.5 1270.9h0M883.9 1357.2h0M866.4 1228.0h0M845.8 1321.0h0M814.6 1246.1h0M842.4 1255.9h0M849.4 1333.0h0M879.2 1296.0h0M841.7 1280.8h0M848.4 1302.2h0M814.1 1373.3h0M905.0 1329.9h0M845.1 1299.5h0M837.0 1369.4h0M805.0 1335.2h0M879.7 1301.9h0M783.6 1322.7h0M843.5 1237.1h0M777.6 1342.8h0M904.2 1336.1h0M789.3 1324.0h0M801.0 1293.5h0M817.7 1277.3h0M788.1 1274.9h0M821.7 1237.9h0"/>
<path stroke="#70e890" stroke-width="1.6" d="M807.7 1321.3h0M859.0 1252.6h0M801.1 1268.2h0M909.9 1299.8h0M852.9 1253.9h0M777.3 1341.6h0M885.8 1299.6h0M915.0 1273.5h0M851.3 1222.4h0M797.9 1368.3h0M827.8 1244.2h0M864.0 1261.8h0M854.0 1277.9h0M856.2 1323.3h0M835.5 1328.7h0M807.3 1369.6h0M839.6 1231.8h0M806.1 1291.3h0M934.3 1300.7h0M869.6 1285.9h0M885.3 1246.0h0M776.9 1286.2h0M826.3 1327.7h0M844.9 1260.6h0"/>
<path stroke="#60e880" stroke-width="1.6" d="M890.1 1253.7h0M871.9 1339.6h0M886.3 1311.4h0M859.5 1252.3h0M778.5 1330.6h0M872.1 1355.9h0M831.1 1329.1h0M794.3 1269.2h0M915.8 1319.7h0M856.5 1282.2h0M884.5 1267.3h0M804.3 1312.3h0M875.3 1268.4h0M826.1 1370.6h0M835.9 1313.0h0M839.2 1262.5h0M920.4 1295.6h0M867.2 1315.6h0M833.8 1316.1h0M822.4 1308.6h0M834.9 1228.9h0"/>
</g>
<g opacity="0.9" stroke-linecap="round" fill="none">
<path stroke="#d050d0" stroke-width="2.8" d="M791.3 1363.6h0M829.3 1347.6h0M856.6 1328.8h0M870.1 1338.6h0M899.7 1277.6h0M889.1 1359.4h0M850.1 1280.6h0M788.7 1356.1h0M888.3 1302.4h0M902.2 1298.8h0M881.7 1294.5h0M862.3 1327.0h0M807.3 1291.7h0M850.4 1280.2h0M911.7 1333.3h0M868.9 1264.2h0M794.4 1258.7h0M790.2 1295.0h0M860.5 1314.4h0M928.1 1324.9h0M809.7 1356.1h0M896.1 1297.4h0"/>
<path stroke="#f090f0" stroke-width="2.8" d="M827.5 1355.7h0M858.9 1348.8h0M908.7 1278.1h0M887.8 1257.9h0M841.0 1287.2h0M807.5 1283.7h0M890.1 1236.1h0M855.9 1323.9h0M841.2 1337.1h0M933.7 1278.8h0M826.3 1240.7h0M860.7 1296.0h0M909.3 1286.9h0M890.7 1312.5h0M842.1 1293.0h0M845.8 1256.6h0M836.7 1323.8h0M918.2 1277.6h0"/>
<path stroke="#f090f0" stroke-width="1.6" d="M827.7 1258.3h0M880.0 1246.3h0M875.1 1340.6h0M805.2 1309.6h0M894.7 1345.1h0M873.0 1290.4h0M892.6 1344.2h0M828.5 1222.6h0M905.7 1288.6h0M870.7 1301.7h0M917.6 1257.1h0M889.0 1279.0h0M848.8 1287.7h0M877.4 1258.5h0M837.4 1298.1h0M900.3 1291.9h0M899.8 1335.5h0"/>
<path stroke="#d050d0" stroke-width="2.2" d="M915.6 1279.6h0M907.5 1229.4h0M900.0 1325.1h0M902.7 1248.4h0M892.8 1237.8h0M839.3 1307.6h0M810.3 1314.9h0M814.9 1319.4h0M850.8 1307.6h0M874.6 1234.2h0M865.4 1318.9h0M898.3 1303.5h0M931.7 1316.1h0"/>
<path stroke="#e060e0" stroke-width="2.2" d="M843.4 1295.5h0M834.8 1306.7h0M827.9 1274.9h0M843.6 1337.9h0M871.1 1275.1h0M882.6 1350.6h0M881.3 1307.2h0M856.0 1327.6h0M897.8 1317.0h0M858.5 1316.2h0M840.0 1267.5h0M843.7 1323.6h0M885.5 1323.5h0M842.5 1350.3h0M850.0 1271.2h0M832.5 1363.6h0"/>
<path stroke="#e060e0" stroke-width="2.8" d="M839.3 1299.4h0M856.2 1332.4h0M838.1 1369.5h0M861.3 1271.3h0M861.8 1263.8h0M835.0 1248.5h0M823.6 1372.5h0M926.3 1357.3h0M930.5 1250.9h0M873.6 1256.1h0M886.0 1325.8h0M873.2 1353.5h0M841.0 1244.7h0M815.0 1311.1h0M812.5 1366.1h0M881.8 1307.3h0M824.9 1329.1h0M777.5 1307.6h0M870.8 1274.0h0M895.0 1310.6h0M916.5 1306.7h0M868.4 1364.3h0M857.0 1362.5h0"/>
<path stroke="#d050d0" stroke-width="1.6" d="M927.9 1320.7h0M852.3 1282.5h0M917.1 1343.2h0M819.5 1322.1h0M932.5 1245.2h0M833.4 1225.5h0M884.5 1283.1h0M843.0 1353.4h0M891.9 1278.0h0M873.2 1268.9h0M805.7 1303.9h0M873.5 1376.5h0M845.6 1333.4h0M898.7 1273.4h0M829.0 1251.7h0M860.6 1268.9h0M846.0 1357.8h0M846.3 1244.5h0M881.3 1288.2h0"/>
<path stroke="#e060e0" stroke-width="1.6" d="M888.6 1291.4h0M854.7 1364.2h0M844.2 1276.2h0M841.5 1359.6h0M901.1 1232.8h0M842.8 1298.8h0M923.2 1331.5h0M839.2 1287.8h0M850.7 1254.6h0M825.9 1309.8h0M874.3 1347.6h0M861.6 1296.2h0M900.6 1375.7h0M799.4 1298.7h0M886.0 1283.4h0M828.1 1249.5h0M893.6 1312.2h0M859.9 1350.7h0M807.7 1289.1h0M914.2 1311.3h0M848.4 1305.8h0M834.6 1235.6h0M787.7 1260.7h0M934.1 1306.8h0"/>
<path stroke="#f090f0" stroke-width="2.2" d="M817.7 1300.2h0M868.2 1329.9h0M902.7 1307.4h0M876.9 1255.1h0M848.7 1345.5h0M922.2 1378.6h0M789.4 1291.3h0M916.1 1319.5h0M859.0 1289.5h0M822.4 1269.3h0M899.0 1367.3h0M866.6 1274.8h0M850.8 1356.1h0M884.8 1292.7h0M847.9 1284.8h0M790.2 1279.8h0M785.0 1265.0h0"/>
</g>
<radialGradient id="v84" cx="0.52" cy="0.5" r="0.8"><stop offset="0" stop-color="#04061c" stop-opacity="0"/><stop offset="0.6" stop-color="#04061c" stop-opacity="0"/><stop offset="1" stop-color="#04061c" stop-opacity="0.85"/></radialGradient>
<rect x="773.9" y="1219.0" width="161.3" height="160.4" fill="url(#v84)"/>
</g>
<clipPath id="c85"><rect x="941.3" y="1219.0" width="161.3" height="160.4"/></clipPath>
<g clip-path="url(#c85)">
<rect x="941.3" y="1219.0" width="161.3" height="160.4" fill="#0e0b2a"/>
<radialGradient id="g86"><stop offset="0" stop-color="#9070a8" stop-opacity="0.9"/><stop offset="0.55" stop-color="#9070a8" stop-opacity="0.41"/><stop offset="1" stop-color="#9070a8" stop-opacity="0"/></radialGradient>
<ellipse cx="1021.9" cy="1299.2" rx="125.8" ry="115.5" fill="url(#g86)"/>
<radialGradient id="g87"><stop offset="0" stop-color="#b4d8c0" stop-opacity="0.7"/><stop offset="0.55" stop-color="#b4d8c0" stop-opacity="0.32"/><stop offset="1" stop-color="#b4d8c0" stop-opacity="0"/></radialGradient>
<ellipse cx="1041.3" cy="1315.2" rx="77.4" ry="70.6" fill="url(#g87)"/>
<radialGradient id="g88"><stop offset="0" stop-color="#8020a0" stop-opacity="0.8"/><stop offset="0.55" stop-color="#8020a0" stop-opacity="0.36"/><stop offset="1" stop-color="#8020a0" stop-opacity="0"/></radialGradient>
<ellipse cx="957.4" cy="1355.3" rx="67.7" ry="57.7" fill="url(#g88)"/>
<radialGradient id="g89"><stop offset="0" stop-color="#d030d0" stop-opacity="0.8"/><stop offset="0.55" stop-color="#d030d0" stop-opacity="0.36"/><stop offset="1" stop-color="#d030d0" stop-opacity="0"/></radialGradient>
<ellipse cx="1086.5" cy="1227.0" rx="58.1" ry="32.1" fill="url(#g89)"/>
<filter id="nz15396" x="0" y="0" width="1" height="1" color-interpolation-filters="sRGB"><feTurbulence type="fractalNoise" baseFrequency="0.28" numOctaves="2" seed="125"/><feColorMatrix values="0 0 0 0 0.55 0 0 0 0 0.95 0 0 0 0 0.7 3.0 0 0 0 -1.7799999999999998"/></filter>
<rect x="941.3" y="1219.0" width="161.3" height="160.4" filter="url(#nz15396)"/>
<filter id="nz33960" x="0" y="0" width="1" height="1" color-interpolation-filters="sRGB"><feTurbulence type="fractalNoise" baseFrequency="0.3" numOctaves="2" seed="175"/><feColorMatrix values="0 0 0 0 0.9 0 0 0 0 0.4 0 0 0 0 0.9 3.0 0 0 0 -1.8499999999999999"/></filter>
<rect x="941.3" y="1219.0" width="161.3" height="160.4" filter="url(#nz33960)"/>
<filter id="nz45989" x="0" y="0" width="1" height="1" color-interpolation-filters="sRGB"><feTurbulence type="fractalNoise" baseFrequency="0.5" numOctaves="2" seed="215"/><feColorMatrix values="0 0 0 0 0.25 0 0 0 0 0.3 0 0 0 0 0.85 2.6 0 0 0 -1.5"/></filter>
<rect x="941.3" y="1219.0" width="161.3" height="160.4" filter="url(#nz45989)"/>
<g opacity="0.95" stroke-linecap="round" fill="none">
<path stroke="#60e880" stroke-width="2.8" d="M961.4 1367.0h0M1003.8 1363.3h0M974.0 1291.2h0M1026.1 1257.8h0M1059.8 1350.5h0M963.2 1326.0h0M1060.9 1319.5h0M1018.3 1311.2h0M1050.1 1362.8h0M1060.7 1263.3h0M989.0 1288.5h0M1046.8 1273.4h0M1076.6 1267.0h0M1032.7 1263.1h0M1047.8 1289.5h0M1015.2 1250.5h0M1089.2 1238.2h0M1078.8 1272.2h0M982.0 1298.3h0M1048.2 1337.5h0M949.9 1349.1h0M1029.1 1339.6h0M1066.5 1253.9h0M1098.9 1372.2h0M1052.4 1270.6h0M1025.3 1343.1h0M993.9 1296.2h0M987.0 1295.1h0M977.7 1249.0h0M951.1 1278.6h0M1000.6 1266.2h0M1031.8 1340.2h0M945.3 1285.6h0M1049.7 1316.1h0M1009.5 1347.8h0M1085.1 1261.8h0M965.8 1307.1h0M1052.6 1280.5h0"/>
<path stroke="#90f0a8" stroke-width="2.8" d="M1036.8 1375.6h0M963.3 1277.9h0M993.3 1338.8h0M994.9 1300.6h0M1020.4 1282.5h0M1025.1 1321.1h0M1024.4 1333.5h0M1039.8 1256.3h0M1016.2 1330.9h0M1015.5 1378.2h0M972.0 1293.3h0M1069.6 1353.5h0M1043.1 1283.3h0M954.9 1235.3h0M1060.6 1355.0h0M1030.9 1313.1h0M1014.7 1241.7h0M1064.9 1326.4h0M1064.5 1339.4h0M1081.8 1359.0h0M1058.3 1308.2h0M990.7 1378.7h0M980.4 1340.2h0M1042.2 1259.2h0"/>
<path stroke="#60e880" stroke-width="2.2" d="M1052.6 1237.5h0M997.8 1318.4h0M1083.9 1286.5h0M1060.0 1365.0h0M1019.2 1275.0h0M987.0 1373.9h0M1058.0 1307.1h0M1024.5 1224.4h0M1029.0 1313.8h0M1014.1 1318.8h0M1074.8 1324.5h0M1018.3 1346.9h0M977.3 1290.8h0M986.5 1260.5h0M1071.9 1274.9h0M1029.6 1232.0h0"/>
<path stroke="#90f0a8" stroke-width="1.6" d="M1061.7 1242.7h0M1052.7 1245.4h0M1013.9 1327.0h0M1014.5 1306.2h0M992.7 1321.4h0M1039.2 1365.5h0M1101.6 1260.6h0M1092.8 1355.1h0M1011.1 1291.1h0M1084.2 1286.6h0M992.7 1338.2h0M1061.9 1332.5h0M1018.1 1304.6h0M989.5 1324.4h0M1001.9 1340.7h0M1031.6 1346.0h0M1026.0 1329.1h0M961.8 1297.8h0M1071.5 1337.5h0M957.6 1322.0h0M1021.8 1292.8h0M1039.0 1307.4h0M1093.0 1288.8h0M1005.0 1353.9h0M972.5 1346.7h0M1039.6 1333.9h0M1004.9 1257.0h0M1000.5 1373.0h0M1006.2 1337.3h0M955.4 1281.8h0M1068.3 1319.3h0M1041.3 1285.0h0"/>
<path stroke="#70e890" stroke-width="2.8" d="M988.1 1310.4h0M1023.7 1329.8h0M1029.3 1353.8h0M1038.8 1288.5h0M984.7 1330.8h0M972.3 1349.5h0M1031.8 1331.5h0M987.4 1268.9h0M978.0 1331.9h0M1063.1 1345.2h0M1044.5 1316.9h0M1096.2 1279.1h0M1029.4 1316.2h0M970.6 1292.5h0M1022.2 1330.8h0M1081.8 1351.6h0M985.8 1268.1h0M1021.7 1328.4h0M1066.0 1354.3h0M973.6 1332.1h0M1047.0 1288.1h0M1040.4 1320.5h0M997.4 1277.8h0M1076.6 1278.8h0M1021.9 1275.0h0M992.7 1327.5h0M1090.8 1351.0h0M1005.2 1323.3h0"/>
<path stroke="#70e890" stroke-width="1.6" d="M1011.0 1311.4h0M1069.0 1332.1h0M982.1 1237.6h0M985.0 1303.0h0M1026.8 1368.2h0M1058.3 1319.0h0M998.3 1338.0h0M1094.6 1343.6h0M1071.5 1248.3h0M1003.9 1280.6h0M1092.4 1250.8h0M960.0 1292.5h0M1022.2 1347.3h0M998.7 1327.6h0M1068.7 1288.6h0M983.1 1259.4h0M1055.6 1261.4h0M1018.9 1266.6h0M1102.3 1353.5h0M1028.1 1263.9h0M979.6 1348.3h0M1070.7 1333.6h0M1005.5 1305.1h0M971.0 1379.4h0M1088.9 1309.8h0"/>
<path stroke="#70e890" stroke-width="2.2" d="M1016.6 1319.4h0M1042.4 1277.2h0M966.3 1276.2h0M1037.3 1346.3h0M999.8 1270.8h0M1054.8 1261.1h0M1034.4 1334.9h0M1065.8 1298.9h0M1060.4 1302.0h0M1018.0 1338.5h0M1022.3 1369.2h0M1018.9 1309.8h0M1007.2 1334.0h0M1016.7 1292.7h0M1067.9 1228.7h0M1025.3 1276.1h0M979.4 1269.4h0M1075.9 1373.9h0M1077.0 1347.8h0M969.7 1249.5h0M996.8 1308.6h0"/>
<path stroke="#60e880" stroke-width="1.6" d="M980.1 1258.8h0M1061.6 1274.4h0M1053.6 1309.0h0M1005.3 1246.0h0M1068.9 1325.5h0M994.6 1325.3h0M970.0 1286.2h0M1020.9 1367.9h0M1052.8 1250.7h0M1059.1 1321.9h0M1048.7 1342.1h0M1069.7 1286.8h0M1012.6 1256.2h0M1102.3 1342.0h0M945.0 1283.1h0M1035.4 1321.1h0M1057.4 1323.1h0M1028.0 1280.6h0"/>
<path stroke="#e8fff0" stroke-width="2.8" d="M1011.9 1336.0h0M1019.2 1319.6h0M1059.3 1322.4h0M1034.4 1257.1h0M1046.2 1327.7h0M1061.8 1281.6h0M1055.2 1361.7h0M1054.4 1339.1h0M1056.7 1283.6h0M1102.2 1278.3h0M1056.4 1274.3h0M1061.0 1296.9h0M1067.6 1360.7h0M1031.2 1354.7h0M1020.5 1241.4h0M988.4 1258.1h0M968.0 1300.0h0M1065.3 1310.4h0M1067.5 1300.3h0M1050.7 1220.9h0M953.7 1267.3h0"/>
<path stroke="#90f0a8" stroke-width="2.2" d="M972.8 1334.7h0M1051.5 1271.9h0M1054.1 1255.8h0M1051.1 1222.5h0M1015.6 1242.4h0M1018.5 1310.5h0M1073.3 1220.3h0M1088.2 1267.7h0M1015.0 1351.5h0M1074.3 1290.7h0M1042.5 1303.3h0M1020.8 1265.2h0M1031.1 1318.1h0M1055.5 1256.5h0M1023.4 1307.1h0M1005.2 1263.6h0M1054.9 1356.5h0M1028.5 1361.9h0M1050.9 1237.6h0M1090.6 1319.6h0M1078.0 1314.2h0M1027.7 1334.3h0M1011.4 1236.6h0M985.4 1324.9h0M946.7 1230.3h0M1048.6 1315.9h0"/>
<path stroke="#e8fff0" stroke-width="1.6" d="M990.8 1221.0h0M1003.5 1325.7h0M1061.5 1252.2h0M1054.5 1300.2h0M1044.0 1285.0h0M1084.3 1301.4h0M1056.0 1297.1h0M1088.1 1342.2h0M984.4 1327.4h0M1065.4 1345.1h0M994.1 1339.3h0M1049.8 1270.6h0M982.8 1370.4h0M972.8 1350.4h0M1074.7 1303.9h0M1052.7 1352.2h0M971.0 1347.9h0M989.8 1339.6h0M1098.4 1233.9h0M1047.0 1314.6h0M1021.0 1253.0h0M970.1 1269.3h0M1021.8 1257.8h0"/>
<path stroke="#e8fff0" stroke-width="2.2" d="M1044.2 1312.5h0M1075.4 1369.5h0M1052.5 1238.0h0M1060.9 1307.3h0M1021.5 1303.6h0M967.8 1324.9h0M1009.2 1269.8h0M944.4 1279.8h0M1020.9 1329.3h0M969.1 1362.7h0M1078.1 1319.8h0M1003.1 1313.8h0M1007.0 1259.7h0M1036.7 1238.7h0M1039.7 1299.8h0M1056.0 1228.1h0M974.8 1330.8h0M1066.6 1292.1h0M1040.1 1251.8h0M1047.5 1294.6h0M1021.2 1237.9h0M1047.2 1319.3h0M1068.9 1331.0h0M995.8 1378.5h0M977.6 1324.9h0M1020.6 1320.2h0"/>
</g>
<g opacity="0.9" stroke-linecap="round" fill="none">
<path stroke="#d050d0" stroke-width="2.2" d="M962.9 1223.6h0M1013.1 1299.4h0M1025.6 1231.1h0M1004.5 1356.2h0M967.7 1245.7h0M985.3 1274.8h0M949.6 1258.5h0M1096.6 1307.8h0M982.0 1293.2h0M1021.2 1234.4h0M1035.1 1323.8h0M990.8 1225.0h0M1022.6 1331.0h0M975.4 1338.5h0M1030.0 1293.0h0M1016.9 1348.2h0M1084.3 1301.5h0M996.2 1362.3h0"/>
<path stroke="#f090f0" stroke-width="1.6" d="M989.8 1343.4h0M1024.5 1262.8h0M984.2 1287.6h0M1058.7 1296.7h0M962.5 1254.1h0M1055.0 1298.7h0M983.7 1261.8h0M990.5 1239.7h0M1055.1 1334.3h0M1012.8 1289.1h0M1035.9 1318.2h0M1072.5 1316.7h0M1033.5 1378.7h0M1027.0 1317.9h0M1078.7 1328.9h0"/>
<path stroke="#f090f0" stroke-width="2.2" d="M1076.9 1271.1h0M964.1 1243.0h0M942.5 1290.9h0M1018.1 1331.8h0M964.8 1268.8h0M971.3 1351.6h0M966.7 1248.6h0M1016.4 1317.3h0M984.1 1345.2h0M1034.7 1366.0h0M1006.5 1274.7h0M1013.1 1236.2h0M985.6 1308.5h0M961.5 1295.0h0M969.6 1241.8h0M985.9 1292.6h0M992.6 1268.9h0M1072.0 1255.1h0M1006.5 1348.0h0M990.1 1320.1h0"/>
<path stroke="#d050d0" stroke-width="1.6" d="M1050.7 1354.2h0M1007.8 1350.7h0M1066.9 1222.6h0M1006.1 1327.7h0M1057.2 1224.2h0M1046.4 1325.2h0M1054.8 1328.3h0M1048.0 1276.1h0M1023.3 1299.0h0M1051.8 1341.5h0M982.3 1293.6h0M986.4 1274.3h0M1008.7 1304.1h0M1001.7 1297.1h0M964.6 1342.3h0M1060.9 1260.0h0M958.4 1299.4h0"/>
<path stroke="#e060e0" stroke-width="2.2" d="M996.3 1347.5h0M977.8 1275.4h0M1042.6 1271.7h0M1016.8 1311.7h0M1091.8 1282.6h0M1076.4 1325.4h0M1000.7 1372.7h0M1007.9 1360.6h0M1004.8 1307.5h0M996.6 1233.8h0M955.7 1286.8h0M1019.2 1281.2h0M1039.7 1287.4h0M964.5 1282.2h0M980.5 1332.9h0M995.3 1320.9h0M1030.8 1298.7h0M1079.1 1281.9h0M984.0 1285.9h0M1041.6 1329.6h0M965.6 1285.1h0M1064.3 1247.0h0M1075.1 1301.9h0"/>
<path stroke="#e060e0" stroke-width="1.6" d="M1039.2 1323.6h0M970.8 1305.1h0M979.8 1332.5h0M965.8 1278.4h0M971.1 1312.3h0M962.1 1251.9h0M1048.6 1283.6h0M1045.9 1373.4h0M971.9 1278.6h0M975.0 1321.6h0M1058.1 1313.4h0M1040.4 1328.1h0M998.6 1258.3h0M985.2 1304.4h0M1045.4 1308.3h0M1082.1 1336.0h0M966.9 1349.9h0"/>
</g>
<radialGradient id="v90" cx="0.52" cy="0.52" r="0.85"><stop offset="0" stop-color="#0a0620" stop-opacity="0"/><stop offset="0.65" stop-color="#0a0620" stop-opacity="0"/><stop offset="1" stop-color="#0a0620" stop-opacity="0.7"/></radialGradient>
<rect x="941.3" y="1219.0" width="161.3" height="160.4" fill="url(#v90)"/>
</g>
<rect x="1170.3" y="1285.8" width="14.8" height="33.7" fill="#8caccc"/>
<line x1="1177.7" y1="1285.8" x2="1177.7" y2="1269.9" stroke="#8caccc" stroke-width="1.3"/>
<line x1="1173.7" y1="1269.9" x2="1181.7" y2="1269.9" stroke="#8caccc" stroke-width="1.3"/>
<rect x="1190.8" y="1228.2" width="15.2" height="91.3" fill="#e6b5c1"/>
<line x1="1198.4" y1="1228.2" x2="1198.4" y2="1210.4" stroke="#e6b5c1" stroke-width="1.3"/>
<line x1="1194.4" y1="1210.4" x2="1202.4" y2="1210.4" stroke="#e6b5c1" stroke-width="1.3"/>
<rect x="1221.8" y="1295.0" width="15.2" height="24.5" fill="#8caccc"/>
<line x1="1229.4" y1="1295.0" x2="1229.4" y2="1288.6" stroke="#8caccc" stroke-width="1.3"/>
<line x1="1225.4" y1="1288.6" x2="1233.4" y2="1288.6" stroke="#8caccc" stroke-width="1.3"/>
<rect x="1242.1" y="1284.1" width="15.4" height="35.4" fill="#e6b5c1"/>
<line x1="1249.8" y1="1284.1" x2="1249.8" y2="1275.7" stroke="#e6b5c1" stroke-width="1.3"/>
<line x1="1245.8" y1="1275.7" x2="1253.8" y2="1275.7" stroke="#e6b5c1" stroke-width="1.3"/>
<line x1="1161.9" y1="1320.2" x2="1161.9" y2="1169.1" stroke="#222" stroke-width="1.3"/>
<line x1="1155.9" y1="1319.5" x2="1161.9" y2="1319.5" stroke="#222" stroke-width="1.3"/>
<text x="1153.9" y="1324.7" font-size="14.4" fill="#1a1a1a" text-anchor="end" stroke="#1a1a1a" stroke-width="0.22">0</text>
<line x1="1155.9" y1="1282.1" x2="1161.9" y2="1282.1" stroke="#222" stroke-width="1.3"/>
<text x="1153.9" y="1287.3" font-size="14.4" fill="#1a1a1a" text-anchor="end" stroke="#1a1a1a" stroke-width="0.22">20</text>
<line x1="1155.9" y1="1244.6" x2="1161.9" y2="1244.6" stroke="#222" stroke-width="1.3"/>
<text x="1153.9" y="1249.8" font-size="14.4" fill="#1a1a1a" text-anchor="end" stroke="#1a1a1a" stroke-width="0.22">40</text>
<line x1="1155.9" y1="1207.2" x2="1161.9" y2="1207.2" stroke="#222" stroke-width="1.3"/>
<text x="1153.9" y="1212.4" font-size="14.4" fill="#1a1a1a" text-anchor="end" stroke="#1a1a1a" stroke-width="0.22">60</text>
<line x1="1155.9" y1="1169.8" x2="1161.9" y2="1169.8" stroke="#222" stroke-width="1.3"/>
<text x="1153.9" y="1175.0" font-size="14.4" fill="#1a1a1a" text-anchor="end" stroke="#1a1a1a" stroke-width="0.22">80</text>
<line x1="1160.7" y1="1319.5" x2="1265.2" y2="1319.5" stroke="#222" stroke-width="1.3"/>
<line x1="1188.4" y1="1319.5" x2="1188.4" y2="1325.0" stroke="#222" stroke-width="1.3"/>
<line x1="1239.9" y1="1319.5" x2="1239.9" y2="1325.0" stroke="#222" stroke-width="1.3"/>
<text font-size="14.2" fill="#1a1a1a" text-anchor="middle" transform="translate(1128.5,1250.0) rotate(-90)" stroke="#1a1a1a" stroke-width="0.22">Proportion of METTL14<tspan font-size="9.5" dy="-5">+</tspan><tspan dy="5"> cells (%)</tspan></text>
<text font-size="13.9" fill="#1a1a1a" text-anchor="end" transform="translate(1194.8,1333.0) rotate(-45)" stroke="#1a1a1a" stroke-width="0.22">CaMKIIα<tspan font-size="9" dy="-5">+</tspan></text>
<text font-size="13.9" fill="#1a1a1a" text-anchor="end" transform="translate(1246.0,1333.0) rotate(-45)" stroke="#1a1a1a" stroke-width="0.22">GABA<tspan font-size="9" dy="-5">+</tspan></text>
<path d="M1168.1 1270.8a3.3 3.3 0 1 0 6.6 0a3.3 3.3 0 1 0 -6.6 0M1179.8 1266.7a3.3 3.3 0 1 0 6.6 0a3.3 3.3 0 1 0 -6.6 0M1168.1 1279.3a3.3 3.3 0 1 0 6.6 0a3.3 3.3 0 1 0 -6.6 0M1179.8 1277.2a3.3 3.3 0 1 0 6.6 0a3.3 3.3 0 1 0 -6.6 0M1168.1 1290.7a3.3 3.3 0 1 0 6.6 0a3.3 3.3 0 1 0 -6.6 0M1179.8 1283.6a3.3 3.3 0 1 0 6.6 0a3.3 3.3 0 1 0 -6.6 0M1179.8 1294.3a3.3 3.3 0 1 0 6.6 0a3.3 3.3 0 1 0 -6.6 0M1173.8 1312.1a3.3 3.3 0 1 0 6.6 0a3.3 3.3 0 1 0 -6.6 0M1194.6 1195.8a3.3 3.3 0 1 0 6.6 0a3.3 3.3 0 1 0 -6.6 0M1189.3 1218.5a3.3 3.3 0 1 0 6.6 0a3.3 3.3 0 1 0 -6.6 0M1194.6 1218.5a3.3 3.3 0 1 0 6.6 0a3.3 3.3 0 1 0 -6.6 0M1200.6 1221.5a3.3 3.3 0 1 0 6.6 0a3.3 3.3 0 1 0 -6.6 0M1189.3 1227.9a3.3 3.3 0 1 0 6.6 0a3.3 3.3 0 1 0 -6.6 0M1194.6 1229.6a3.3 3.3 0 1 0 6.6 0a3.3 3.3 0 1 0 -6.6 0M1200.6 1232.8a3.3 3.3 0 1 0 6.6 0a3.3 3.3 0 1 0 -6.6 0M1189.3 1235.0a3.3 3.3 0 1 0 6.6 0a3.3 3.3 0 1 0 -6.6 0M1219.9 1285.3a3.3 3.3 0 1 0 6.6 0a3.3 3.3 0 1 0 -6.6 0M1225.3 1282.1a3.3 3.3 0 1 0 6.6 0a3.3 3.3 0 1 0 -6.6 0M1231.3 1281.7a3.3 3.3 0 1 0 6.6 0a3.3 3.3 0 1 0 -6.6 0M1225.3 1290.3a3.3 3.3 0 1 0 6.6 0a3.3 3.3 0 1 0 -6.6 0M1219.9 1298.8a3.3 3.3 0 1 0 6.6 0a3.3 3.3 0 1 0 -6.6 0M1225.3 1300.3a3.3 3.3 0 1 0 6.6 0a3.3 3.3 0 1 0 -6.6 0M1231.3 1298.8a3.3 3.3 0 1 0 6.6 0a3.3 3.3 0 1 0 -6.6 0M1225.3 1310.6a3.3 3.3 0 1 0 6.6 0a3.3 3.3 0 1 0 -6.6 0M1246.7 1265.4a3.3 3.3 0 1 0 6.6 0a3.3 3.3 0 1 0 -6.6 0M1249.3 1272.5a3.3 3.3 0 1 0 6.6 0a3.3 3.3 0 1 0 -6.6 0M1243.5 1275.7a3.3 3.3 0 1 0 6.6 0a3.3 3.3 0 1 0 -6.6 0M1252.7 1283.8a3.3 3.3 0 1 0 6.6 0a3.3 3.3 0 1 0 -6.6 0M1241.3 1288.1a3.3 3.3 0 1 0 6.6 0a3.3 3.3 0 1 0 -6.6 0M1246.7 1289.2a3.3 3.3 0 1 0 6.6 0a3.3 3.3 0 1 0 -6.6 0M1252.7 1291.8a3.3 3.3 0 1 0 6.6 0a3.3 3.3 0 1 0 -6.6 0M1241.3 1296.1a3.3 3.3 0 1 0 6.6 0a3.3 3.3 0 1 0 -6.6 0" fill="none" stroke="#2a2024" stroke-width="1.2"/>
<rect x="1169.0" y="1125.5" width="12.8" height="6.4" fill="#8caccc"/>
<text x="1189.3" y="1132.7" font-size="14.4" fill="#1a1a1a" stroke="#1a1a1a" stroke-width="0.22">Sham</text>
<rect x="1169.0" y="1143.6" width="12.8" height="6.4" fill="#e6b5c1"/>
<text x="1189.3" y="1151.0" font-size="14.4" fill="#1a1a1a" stroke="#1a1a1a" stroke-width="0.22">PDAC</text>
<text x="1187.6" y="1181.2" font-size="24" fill="#0a0a0a" text-anchor="middle" letter-spacing="0.8" stroke="#0a0a0a" stroke-width="0.35">***</text>
<line x1="1168.2" y1="1177.4" x2="1207.4" y2="1177.4" stroke="#222" stroke-width="1.1"/>
</svg>
</body></html>
